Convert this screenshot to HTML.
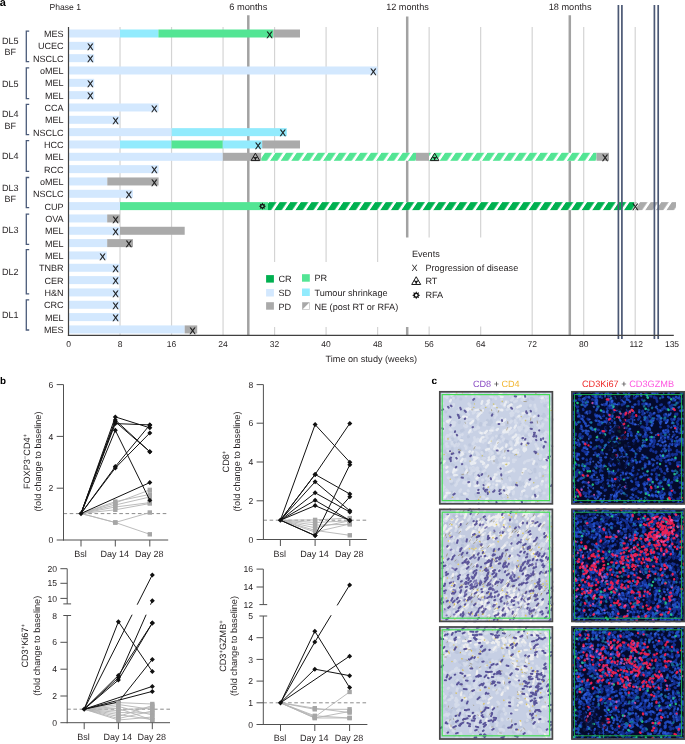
<!DOCTYPE html>
<html><head><meta charset="utf-8"><style>
html,body{margin:0;padding:0;background:#fff;width:685px;height:744px;overflow:hidden}
svg{display:block;will-change:transform}
text{font-family:"Liberation Sans",sans-serif;text-rendering:geometricPrecision}
</style></head><body>
<svg width="685" height="744" viewBox="0 0 685 744" font-family="Liberation Sans, sans-serif">
<defs>
<pattern id="hPR" patternUnits="userSpaceOnUse" width="10.6" height="20" patternTransform="translate(301.9,160.80) skewX(-34)"><rect x="0" y="0" width="7.4" height="20" fill="#53e594"/></pattern>
<pattern id="hCR" patternUnits="userSpaceOnUse" width="10.6" height="20" patternTransform="translate(306.1,210.12) skewX(-34)"><rect x="0" y="0" width="7.4" height="20" fill="#00b050"/></pattern>
<pattern id="hPD" patternUnits="userSpaceOnUse" width="10.6" height="20" patternTransform="translate(306.1,210.12) skewX(-34)"><rect x="0" y="0" width="7.4" height="20" fill="#aaaaaa"/></pattern>
</defs>
<text x="-0.30" y="5.80" font-size="11" font-weight="bold" fill="#000">a</text>
<text x="49.50" y="9.90" font-size="8.6" fill="#231f20">Phase 1</text>
<text x="229.20" y="10.10" font-size="9.3" fill="#231f20">6 months</text>
<text x="386.20" y="10.10" font-size="9.15" fill="#231f20">12 months</text>
<text x="548.70" y="10.10" font-size="9.18" fill="#231f20">18 months</text>
<line x1="120.02" y1="27.00" x2="120.02" y2="335.30" stroke="#d4d4d4" stroke-width="1.2"/>
<line x1="171.54" y1="27.00" x2="171.54" y2="335.30" stroke="#d4d4d4" stroke-width="1.2"/>
<line x1="223.06" y1="27.00" x2="223.06" y2="335.30" stroke="#d4d4d4" stroke-width="1.2"/>
<line x1="274.58" y1="27.00" x2="274.58" y2="262.00" stroke="#d4d4d4" stroke-width="1.2"/>
<line x1="274.58" y1="327.00" x2="274.58" y2="335.30" stroke="#d4d4d4" stroke-width="1.2"/>
<line x1="326.10" y1="27.00" x2="326.10" y2="262.00" stroke="#d4d4d4" stroke-width="1.2"/>
<line x1="326.10" y1="327.00" x2="326.10" y2="335.30" stroke="#d4d4d4" stroke-width="1.2"/>
<line x1="377.62" y1="27.00" x2="377.62" y2="262.00" stroke="#d4d4d4" stroke-width="1.2"/>
<line x1="377.62" y1="327.00" x2="377.62" y2="335.30" stroke="#d4d4d4" stroke-width="1.2"/>
<line x1="429.14" y1="27.00" x2="429.14" y2="237.50" stroke="#d4d4d4" stroke-width="1.2"/>
<line x1="429.14" y1="326.50" x2="429.14" y2="335.30" stroke="#d4d4d4" stroke-width="1.2"/>
<line x1="480.66" y1="27.00" x2="480.66" y2="237.50" stroke="#d4d4d4" stroke-width="1.2"/>
<line x1="480.66" y1="326.50" x2="480.66" y2="335.30" stroke="#d4d4d4" stroke-width="1.2"/>
<line x1="532.18" y1="27.00" x2="532.18" y2="335.30" stroke="#d4d4d4" stroke-width="1.2"/>
<line x1="583.70" y1="27.00" x2="583.70" y2="335.30" stroke="#d4d4d4" stroke-width="1.2"/>
<line x1="635.20" y1="27.00" x2="635.20" y2="335.30" stroke="#d4d4d4" stroke-width="1.2"/>
<line x1="248.30" y1="15.20" x2="248.30" y2="335.30" stroke="#a2a2a2" stroke-width="2.5" stroke-opacity="1"/>
<line x1="407.20" y1="16.50" x2="407.20" y2="237.50" stroke="#a2a2a2" stroke-width="2.5" stroke-opacity="1"/>
<line x1="407.20" y1="327.00" x2="407.20" y2="335.30" stroke="#a2a2a2" stroke-width="2.5" stroke-opacity="1"/>
<line x1="569.80" y1="15.20" x2="569.80" y2="335.30" stroke="#a2a2a2" stroke-width="2.5" stroke-opacity="1"/>
<rect x="68.50" y="29.50" width="51.50" height="8.00" fill="#d3e8fe"/>
<rect x="120.00" y="29.50" width="38.40" height="8.00" fill="#92ebfd"/>
<rect x="158.40" y="29.50" width="115.00" height="8.00" fill="#53e594"/>
<rect x="273.40" y="29.50" width="26.60" height="8.00" fill="#aaaaaa"/>
<rect x="68.50" y="41.83" width="25.70" height="8.00" fill="#d3e8fe"/>
<rect x="68.50" y="54.16" width="25.70" height="8.00" fill="#d3e8fe"/>
<rect x="68.50" y="66.49" width="309.10" height="8.00" fill="#d3e8fe"/>
<rect x="68.50" y="78.82" width="25.70" height="8.00" fill="#d3e8fe"/>
<rect x="68.50" y="91.15" width="25.70" height="8.00" fill="#d3e8fe"/>
<rect x="68.50" y="103.48" width="90.10" height="8.00" fill="#d3e8fe"/>
<rect x="68.50" y="115.81" width="51.60" height="8.00" fill="#d3e8fe"/>
<rect x="68.50" y="128.14" width="103.20" height="8.00" fill="#d3e8fe"/>
<rect x="171.70" y="128.14" width="115.10" height="8.00" fill="#92ebfd"/>
<rect x="68.50" y="140.47" width="51.50" height="8.00" fill="#d3e8fe"/>
<rect x="120.00" y="140.47" width="51.50" height="8.00" fill="#92ebfd"/>
<rect x="171.50" y="140.47" width="51.30" height="8.00" fill="#53e594"/>
<rect x="222.80" y="140.47" width="39.40" height="8.00" fill="#92ebfd"/>
<rect x="262.20" y="140.47" width="37.80" height="8.00" fill="#aaaaaa"/>
<rect x="68.50" y="152.80" width="154.30" height="8.00" fill="#d3e8fe"/>
<rect x="222.80" y="152.80" width="38.50" height="8.00" fill="#aaaaaa"/>
<rect x="261.30" y="152.80" width="154.70" height="8.00" fill="#fff"/>
<rect x="261.30" y="152.80" width="154.70" height="8.00" fill="url(#hPR)"/>
<rect x="416.00" y="152.80" width="13.00" height="8.00" fill="#aaaaaa"/>
<rect x="429.00" y="152.80" width="167.50" height="8.00" fill="#fff"/>
<rect x="429.00" y="152.80" width="167.50" height="8.00" fill="url(#hPR)"/>
<rect x="596.50" y="152.80" width="12.50" height="8.00" fill="#aaaaaa"/>
<rect x="68.50" y="165.13" width="90.10" height="8.00" fill="#d3e8fe"/>
<rect x="68.50" y="177.46" width="38.80" height="8.00" fill="#d3e8fe"/>
<rect x="107.30" y="177.46" width="51.30" height="8.00" fill="#aaaaaa"/>
<rect x="68.50" y="189.79" width="64.40" height="8.00" fill="#d3e8fe"/>
<rect x="68.50" y="202.12" width="51.50" height="8.00" fill="#d3e8fe"/>
<rect x="120.00" y="202.12" width="148.00" height="8.00" fill="#53e594"/>
<rect x="268.00" y="202.12" width="366.40" height="8.00" fill="#fff"/>
<rect x="268.00" y="202.12" width="366.40" height="8.00" fill="url(#hCR)"/>
<rect x="634.40" y="202.12" width="41.60" height="8.00" fill="#fff"/>
<rect x="634.40" y="202.12" width="41.60" height="8.00" fill="url(#hPD)"/>
<rect x="68.50" y="214.45" width="38.70" height="8.00" fill="#d3e8fe"/>
<rect x="107.20" y="214.45" width="12.70" height="8.00" fill="#aaaaaa"/>
<rect x="68.50" y="226.78" width="51.50" height="8.00" fill="#d3e8fe"/>
<rect x="120.00" y="226.78" width="64.70" height="8.00" fill="#aaaaaa"/>
<rect x="68.50" y="239.11" width="38.70" height="8.00" fill="#d3e8fe"/>
<rect x="107.20" y="239.11" width="25.80" height="8.00" fill="#aaaaaa"/>
<rect x="68.50" y="251.44" width="38.30" height="8.00" fill="#d3e8fe"/>
<rect x="68.50" y="263.77" width="51.50" height="8.00" fill="#d3e8fe"/>
<rect x="68.50" y="276.10" width="51.50" height="8.00" fill="#d3e8fe"/>
<rect x="68.50" y="288.43" width="51.50" height="8.00" fill="#d3e8fe"/>
<rect x="68.50" y="300.76" width="51.50" height="8.00" fill="#d3e8fe"/>
<rect x="68.50" y="313.09" width="51.50" height="8.00" fill="#d3e8fe"/>
<rect x="68.50" y="325.42" width="116.20" height="8.00" fill="#d3e8fe"/>
<rect x="184.70" y="325.42" width="12.50" height="8.00" fill="#aaaaaa"/>
<line x1="618.40" y1="5.00" x2="618.40" y2="338.90" stroke="#4b5874" stroke-width="1.7"/>
<line x1="621.90" y1="5.00" x2="621.90" y2="338.90" stroke="#4b5874" stroke-width="1.7"/>
<line x1="654.40" y1="5.00" x2="654.40" y2="338.90" stroke="#4b5874" stroke-width="1.7"/>
<line x1="658.20" y1="5.00" x2="658.20" y2="338.90" stroke="#4b5874" stroke-width="1.7"/>
<text x="269.50" y="37.70" font-size="9.2" text-anchor="middle" fill="#111" stroke="#111" stroke-width="0.25">X</text>
<text x="90.20" y="50.03" font-size="9.2" text-anchor="middle" fill="#111" stroke="#111" stroke-width="0.25">X</text>
<text x="90.20" y="62.36" font-size="9.2" text-anchor="middle" fill="#111" stroke="#111" stroke-width="0.25">X</text>
<text x="373.30" y="74.69" font-size="9.2" text-anchor="middle" fill="#111" stroke="#111" stroke-width="0.25">X</text>
<text x="90.20" y="87.02" font-size="9.2" text-anchor="middle" fill="#111" stroke="#111" stroke-width="0.25">X</text>
<text x="90.20" y="99.35" font-size="9.2" text-anchor="middle" fill="#111" stroke="#111" stroke-width="0.25">X</text>
<text x="154.40" y="111.68" font-size="9.2" text-anchor="middle" fill="#111" stroke="#111" stroke-width="0.25">X</text>
<text x="115.60" y="124.01" font-size="9.2" text-anchor="middle" fill="#111" stroke="#111" stroke-width="0.25">X</text>
<text x="282.80" y="136.34" font-size="9.2" text-anchor="middle" fill="#111" stroke="#111" stroke-width="0.25">X</text>
<text x="258.00" y="148.67" font-size="9.2" text-anchor="middle" fill="#111" stroke="#111" stroke-width="0.25">X</text>
<text x="605.00" y="161.00" font-size="9.2" text-anchor="middle" fill="#111" stroke="#111" stroke-width="0.25">X</text>
<text x="154.40" y="173.33" font-size="9.2" text-anchor="middle" fill="#111" stroke="#111" stroke-width="0.25">X</text>
<text x="154.40" y="185.66" font-size="9.2" text-anchor="middle" fill="#111" stroke="#111" stroke-width="0.25">X</text>
<text x="128.90" y="197.99" font-size="9.2" text-anchor="middle" fill="#111" stroke="#111" stroke-width="0.25">X</text>
<text x="635.20" y="210.32" font-size="9.2" text-anchor="middle" fill="#111" stroke="#111" stroke-width="0.25">X</text>
<text x="115.60" y="222.65" font-size="9.2" text-anchor="middle" fill="#111" stroke="#111" stroke-width="0.25">X</text>
<text x="115.60" y="234.98" font-size="9.2" text-anchor="middle" fill="#111" stroke="#111" stroke-width="0.25">X</text>
<text x="128.90" y="247.31" font-size="9.2" text-anchor="middle" fill="#111" stroke="#111" stroke-width="0.25">X</text>
<text x="102.60" y="259.64" font-size="9.2" text-anchor="middle" fill="#111" stroke="#111" stroke-width="0.25">X</text>
<text x="115.60" y="271.97" font-size="9.2" text-anchor="middle" fill="#111" stroke="#111" stroke-width="0.25">X</text>
<text x="115.60" y="284.30" font-size="9.2" text-anchor="middle" fill="#111" stroke="#111" stroke-width="0.25">X</text>
<text x="115.60" y="296.63" font-size="9.2" text-anchor="middle" fill="#111" stroke="#111" stroke-width="0.25">X</text>
<text x="115.60" y="308.96" font-size="9.2" text-anchor="middle" fill="#111" stroke="#111" stroke-width="0.25">X</text>
<text x="115.60" y="321.29" font-size="9.2" text-anchor="middle" fill="#111" stroke="#111" stroke-width="0.25">X</text>
<text x="192.60" y="333.62" font-size="9.2" text-anchor="middle" fill="#111" stroke="#111" stroke-width="0.25">X</text>
<path d="M255.40,153.20 L259.70,160.60 L251.10,160.60 Z" fill="none" stroke="#1a1a1a" stroke-width="1.0" stroke-linejoin="round"/>
<path d="M255.40,158.13 L255.40,160.60 M255.40,158.13 L253.25,156.90 M255.40,158.13 L257.55,156.90" stroke="#1a1a1a" stroke-width="1.1"/>
<circle cx="255.40" cy="158.13" r="1.00" fill="#1a1a1a"/>
<path d="M434.60,153.20 L438.90,160.60 L430.30,160.60 Z" fill="none" stroke="#1a1a1a" stroke-width="1.0" stroke-linejoin="round"/>
<path d="M434.60,158.13 L434.60,160.60 M434.60,158.13 L432.45,156.90 M434.60,158.13 L436.75,156.90" stroke="#1a1a1a" stroke-width="1.1"/>
<circle cx="434.60" cy="158.13" r="1.00" fill="#1a1a1a"/>
<polygon points="266.00,206.22 264.46,207.07 264.95,208.77 263.25,208.28 262.40,209.82 261.55,208.28 259.85,208.77 260.34,207.07 258.80,206.22 260.34,205.37 259.85,203.67 261.55,204.16 262.40,202.62 263.25,204.16 264.95,203.67 264.46,205.37" fill="#111"/>
<circle cx="262.40" cy="206.22" r="1.08" fill="#6fe0a0"/>
<line x1="68.50" y1="27.00" x2="68.50" y2="335.90" stroke="#404040" stroke-width="1.2"/>
<line x1="67.90" y1="335.30" x2="673.80" y2="335.30" stroke="#404040" stroke-width="1.2"/>
<text x="68.50" y="347.20" font-size="8.5" text-anchor="middle" fill="#231f20">0</text>
<text x="120.02" y="347.20" font-size="8.5" text-anchor="middle" fill="#231f20">8</text>
<text x="171.54" y="347.20" font-size="8.5" text-anchor="middle" fill="#231f20">16</text>
<text x="223.06" y="347.20" font-size="8.5" text-anchor="middle" fill="#231f20">24</text>
<text x="274.58" y="347.20" font-size="8.5" text-anchor="middle" fill="#231f20">32</text>
<text x="326.10" y="347.20" font-size="8.5" text-anchor="middle" fill="#231f20">40</text>
<text x="377.62" y="347.20" font-size="8.5" text-anchor="middle" fill="#231f20">48</text>
<text x="429.14" y="347.20" font-size="8.5" text-anchor="middle" fill="#231f20">56</text>
<text x="480.66" y="347.20" font-size="8.5" text-anchor="middle" fill="#231f20">64</text>
<text x="532.18" y="347.20" font-size="8.5" text-anchor="middle" fill="#231f20">72</text>
<text x="583.70" y="347.20" font-size="8.5" text-anchor="middle" fill="#231f20">80</text>
<text x="636.30" y="347.20" font-size="8.5" text-anchor="middle" fill="#231f20">112</text>
<text x="672.00" y="347.20" font-size="8.5" text-anchor="middle" fill="#231f20">135</text>
<text x="371.30" y="361.50" font-size="9.15" text-anchor="middle" fill="#231f20">Time on study (weeks)</text>
<text x="63.60" y="37.00" font-size="9.05" text-anchor="end" fill="#231f20">MES</text>
<text x="63.60" y="49.33" font-size="9.05" text-anchor="end" fill="#231f20">UCEC</text>
<text x="63.60" y="61.66" font-size="9.05" text-anchor="end" fill="#231f20">NSCLC</text>
<text x="63.60" y="73.99" font-size="9.05" text-anchor="end" fill="#231f20">oMEL</text>
<text x="63.60" y="86.32" font-size="9.05" text-anchor="end" fill="#231f20">MEL</text>
<text x="63.60" y="98.65" font-size="9.05" text-anchor="end" fill="#231f20">MEL</text>
<text x="63.60" y="110.98" font-size="9.05" text-anchor="end" fill="#231f20">CCA</text>
<text x="63.60" y="123.31" font-size="9.05" text-anchor="end" fill="#231f20">MEL</text>
<text x="63.60" y="135.64" font-size="9.05" text-anchor="end" fill="#231f20">NSCLC</text>
<text x="63.60" y="147.97" font-size="9.05" text-anchor="end" fill="#231f20">HCC</text>
<text x="63.60" y="160.30" font-size="9.05" text-anchor="end" fill="#231f20">MEL</text>
<text x="63.60" y="172.63" font-size="9.05" text-anchor="end" fill="#231f20">RCC</text>
<text x="63.60" y="184.96" font-size="9.05" text-anchor="end" fill="#231f20">oMEL</text>
<text x="63.60" y="197.29" font-size="9.05" text-anchor="end" fill="#231f20">NSCLC</text>
<text x="63.60" y="209.62" font-size="9.05" text-anchor="end" fill="#231f20">CUP</text>
<text x="63.60" y="221.95" font-size="9.05" text-anchor="end" fill="#231f20">OVA</text>
<text x="63.60" y="234.28" font-size="9.05" text-anchor="end" fill="#231f20">MEL</text>
<text x="63.60" y="246.61" font-size="9.05" text-anchor="end" fill="#231f20">MEL</text>
<text x="63.60" y="258.94" font-size="9.05" text-anchor="end" fill="#231f20">MEL</text>
<text x="63.60" y="271.27" font-size="9.05" text-anchor="end" fill="#231f20">TNBR</text>
<text x="63.60" y="283.60" font-size="9.05" text-anchor="end" fill="#231f20">CER</text>
<text x="63.60" y="295.93" font-size="9.05" text-anchor="end" fill="#231f20">H&amp;N</text>
<text x="63.60" y="308.26" font-size="9.05" text-anchor="end" fill="#231f20">CRC</text>
<text x="63.60" y="320.59" font-size="9.05" text-anchor="end" fill="#231f20">MEL</text>
<text x="63.60" y="332.92" font-size="9.05" text-anchor="end" fill="#231f20">MES</text>
<path d="M29.2,31.10 H26.3 V61.70 H29.2" fill="none" stroke="#4b5b79" stroke-width="1.3"/>
<text x="10.20" y="44.30" font-size="9.05" text-anchor="middle" fill="#231f20">DL5</text>
<text x="10.20" y="55.40" font-size="9.05" text-anchor="middle" fill="#231f20">BF</text>
<path d="M29.2,67.80 H26.3 V98.60 H29.2" fill="none" stroke="#4b5b79" stroke-width="1.3"/>
<text x="10.20" y="86.60" font-size="9.05" text-anchor="middle" fill="#231f20">DL5</text>
<path d="M29.2,104.40 H26.3 V134.70 H29.2" fill="none" stroke="#4b5b79" stroke-width="1.3"/>
<text x="10.20" y="117.45" font-size="9.05" text-anchor="middle" fill="#231f20">DL4</text>
<text x="10.20" y="128.55" font-size="9.05" text-anchor="middle" fill="#231f20">BF</text>
<path d="M29.2,140.70 H26.3 V171.40 H29.2" fill="none" stroke="#4b5b79" stroke-width="1.3"/>
<text x="10.20" y="159.45" font-size="9.05" text-anchor="middle" fill="#231f20">DL4</text>
<path d="M29.2,177.50 H26.3 V207.70 H29.2" fill="none" stroke="#4b5b79" stroke-width="1.3"/>
<text x="10.20" y="190.50" font-size="9.05" text-anchor="middle" fill="#231f20">DL3</text>
<text x="10.20" y="201.60" font-size="9.05" text-anchor="middle" fill="#231f20">BF</text>
<path d="M29.2,214.10 H26.3 V244.40 H29.2" fill="none" stroke="#4b5b79" stroke-width="1.3"/>
<text x="10.20" y="232.65" font-size="9.05" text-anchor="middle" fill="#231f20">DL3</text>
<path d="M29.2,249.60 H26.3 V293.80 H29.2" fill="none" stroke="#4b5b79" stroke-width="1.3"/>
<text x="10.20" y="275.10" font-size="9.05" text-anchor="middle" fill="#231f20">DL2</text>
<path d="M29.2,299.80 H26.3 V330.00 H29.2" fill="none" stroke="#4b5b79" stroke-width="1.3"/>
<text x="10.20" y="318.30" font-size="9.05" text-anchor="middle" fill="#231f20">DL1</text>
<rect x="266.10" y="275.10" width="7.80" height="7.50" fill="#00b050"/>
<rect x="302.00" y="274.20" width="7.80" height="7.50" fill="#53e594"/>
<rect x="266.10" y="289.00" width="7.80" height="7.50" fill="#d3e8fe"/>
<rect x="302.00" y="288.50" width="7.80" height="7.50" fill="#92ebfd"/>
<rect x="266.10" y="302.20" width="7.80" height="7.50" fill="#aaaaaa"/>
<rect x="302.4" y="302.6" width="7" height="6.8" fill="#fff" stroke="#c8c8c8" stroke-width="0.8"/>
<path d="M302.4,302.6 H309.4 L302.4,309.4 Z" fill="#a8a8a8"/>
<text x="278.40" y="281.90" font-size="9.15" fill="#231f20">CR</text>
<text x="314.40" y="281.30" font-size="9.15" fill="#231f20">PR</text>
<text x="278.40" y="296.10" font-size="9.15" fill="#231f20">SD</text>
<text x="314.40" y="295.60" font-size="9.15" fill="#231f20">Tumour shrinkage</text>
<text x="278.40" y="309.90" font-size="9.15" fill="#231f20">PD</text>
<text x="314.40" y="310.10" font-size="9.15" fill="#231f20">NE (post RT or RFA)</text>
<text x="411.90" y="256.50" font-size="9.15" fill="#231f20">Events</text>
<text x="411.60" y="270.90" font-size="9.15" fill="#231f20">X</text>
<text x="425.40" y="270.90" font-size="9.15" fill="#231f20">Progression of disease</text>
<text x="425.40" y="284.30" font-size="9.15" fill="#231f20">RT</text>
<text x="425.40" y="298.20" font-size="9.15" fill="#231f20">RFA</text>
<path d="M416.20,276.72 L420.71,284.49 L411.69,284.49 Z" fill="none" stroke="#1a1a1a" stroke-width="1.0" stroke-linejoin="round"/>
<path d="M416.20,281.90 L416.20,284.49 M416.20,281.90 L413.94,280.60 M416.20,281.90 L418.46,280.60" stroke="#1a1a1a" stroke-width="1.1"/>
<circle cx="416.20" cy="281.90" r="1.05" fill="#1a1a1a"/>
<polygon points="420.20,295.20 418.49,296.15 419.03,298.03 417.15,297.49 416.20,299.20 415.25,297.49 413.37,298.03 413.91,296.15 412.20,295.20 413.91,294.25 413.37,292.37 415.25,292.91 416.20,291.20 417.15,292.91 419.03,292.37 418.49,294.25" fill="#111"/>
<circle cx="416.20" cy="295.20" r="1.20" fill="#fff"/>
<text x="0.00" y="384.00" font-size="9.8" font-weight="bold" fill="#000">b</text>
<line x1="63.50" y1="513.60" x2="168.20" y2="513.60" stroke="#8c8c8c" stroke-width="1.0" stroke-dasharray="3.6,2.6"/>
<path d="M81.00,513.50 L115.30,501.60 L149.80,494.40" fill="none" stroke="#b4b4b4" stroke-width="0.9"/>
<path d="M81.00,513.50 L115.30,503.00 L149.80,489.90" fill="none" stroke="#b4b4b4" stroke-width="0.9"/>
<path d="M81.00,513.50 L115.30,505.00 L149.80,497.00" fill="none" stroke="#b4b4b4" stroke-width="0.9"/>
<path d="M81.00,513.50 L115.30,507.00 L149.80,502.60" fill="none" stroke="#b4b4b4" stroke-width="0.9"/>
<path d="M81.00,513.50 L115.30,509.80 L149.80,503.50" fill="none" stroke="#b4b4b4" stroke-width="0.9"/>
<path d="M81.00,513.50 L115.30,522.50 L149.80,512.50" fill="none" stroke="#b4b4b4" stroke-width="0.9"/>
<path d="M81.00,513.50 L115.30,522.50 L149.80,534.30" fill="none" stroke="#b4b4b4" stroke-width="0.9"/>
<rect x="113.10" y="499.40" width="4.40" height="4.40" fill="#a6a6a6"/>
<rect x="147.60" y="492.20" width="4.40" height="4.40" fill="#a6a6a6"/>
<rect x="113.10" y="500.80" width="4.40" height="4.40" fill="#a6a6a6"/>
<rect x="147.60" y="487.70" width="4.40" height="4.40" fill="#a6a6a6"/>
<rect x="113.10" y="502.80" width="4.40" height="4.40" fill="#a6a6a6"/>
<rect x="147.60" y="494.80" width="4.40" height="4.40" fill="#a6a6a6"/>
<rect x="113.10" y="504.80" width="4.40" height="4.40" fill="#a6a6a6"/>
<rect x="147.60" y="500.40" width="4.40" height="4.40" fill="#a6a6a6"/>
<rect x="113.10" y="507.60" width="4.40" height="4.40" fill="#a6a6a6"/>
<rect x="147.60" y="501.30" width="4.40" height="4.40" fill="#a6a6a6"/>
<rect x="113.10" y="520.30" width="4.40" height="4.40" fill="#a6a6a6"/>
<rect x="147.60" y="510.30" width="4.40" height="4.40" fill="#a6a6a6"/>
<rect x="113.10" y="520.30" width="4.40" height="4.40" fill="#a6a6a6"/>
<rect x="147.60" y="532.10" width="4.40" height="4.40" fill="#a6a6a6"/>
<path d="M81.00,513.50 L115.30,416.90 L149.80,427.80" fill="none" stroke="#111" stroke-width="1.0"/>
<path d="M81.00,513.50 L115.30,420.00 L149.80,451.70" fill="none" stroke="#111" stroke-width="1.0"/>
<path d="M81.00,513.50 L115.30,421.80 L149.80,451.70" fill="none" stroke="#111" stroke-width="1.0"/>
<path d="M81.00,513.50 L115.30,423.60 L149.80,424.90" fill="none" stroke="#111" stroke-width="1.0"/>
<path d="M81.00,513.50 L115.30,430.30 L149.80,500.20" fill="none" stroke="#111" stroke-width="1.0"/>
<path d="M81.00,513.50 L115.30,466.60 L149.80,424.90" fill="none" stroke="#111" stroke-width="1.0"/>
<path d="M81.00,513.50 L115.30,468.00 L149.80,433.00" fill="none" stroke="#111" stroke-width="1.0"/>
<path d="M81.00,513.50 L149.80,482.60" fill="none" stroke="#111" stroke-width="1.0"/>
<path d="M115.30,414.40 L117.80,416.90 L115.30,419.40 L112.80,416.90 Z" fill="#111"/>
<path d="M149.80,425.30 L152.30,427.80 L149.80,430.30 L147.30,427.80 Z" fill="#111"/>
<path d="M115.30,417.50 L117.80,420.00 L115.30,422.50 L112.80,420.00 Z" fill="#111"/>
<path d="M149.80,449.20 L152.30,451.70 L149.80,454.20 L147.30,451.70 Z" fill="#111"/>
<path d="M115.30,419.30 L117.80,421.80 L115.30,424.30 L112.80,421.80 Z" fill="#111"/>
<path d="M149.80,449.20 L152.30,451.70 L149.80,454.20 L147.30,451.70 Z" fill="#111"/>
<path d="M115.30,421.10 L117.80,423.60 L115.30,426.10 L112.80,423.60 Z" fill="#111"/>
<path d="M149.80,422.40 L152.30,424.90 L149.80,427.40 L147.30,424.90 Z" fill="#111"/>
<path d="M115.30,427.80 L117.80,430.30 L115.30,432.80 L112.80,430.30 Z" fill="#111"/>
<path d="M149.80,497.70 L152.30,500.20 L149.80,502.70 L147.30,500.20 Z" fill="#111"/>
<path d="M115.30,464.10 L117.80,466.60 L115.30,469.10 L112.80,466.60 Z" fill="#111"/>
<path d="M149.80,422.40 L152.30,424.90 L149.80,427.40 L147.30,424.90 Z" fill="#111"/>
<path d="M115.30,465.50 L117.80,468.00 L115.30,470.50 L112.80,468.00 Z" fill="#111"/>
<path d="M149.80,430.50 L152.30,433.00 L149.80,435.50 L147.30,433.00 Z" fill="#111"/>
<path d="M149.80,480.10 L152.30,482.60 L149.80,485.10 L147.30,482.60 Z" fill="#111"/>
<path d="M81.00,511.00 L83.60,513.60 L81.00,516.20 L78.40,513.60 Z" fill="#111"/>
<line x1="63.50" y1="384.60" x2="63.50" y2="540.50" stroke="#505050" stroke-width="1.0"/>
<line x1="63.00" y1="540.00" x2="168.20" y2="540.00" stroke="#505050" stroke-width="1.0"/>
<line x1="56.70" y1="540.00" x2="63.50" y2="540.00" stroke="#505050" stroke-width="1.0"/>
<text x="53.30" y="543.10" font-size="8.6" text-anchor="end" fill="#231f20">0</text>
<line x1="56.70" y1="488.20" x2="63.50" y2="488.20" stroke="#505050" stroke-width="1.0"/>
<text x="53.30" y="491.30" font-size="8.6" text-anchor="end" fill="#231f20">2</text>
<line x1="56.70" y1="436.40" x2="63.50" y2="436.40" stroke="#505050" stroke-width="1.0"/>
<text x="53.30" y="439.50" font-size="8.6" text-anchor="end" fill="#231f20">4</text>
<line x1="56.70" y1="384.60" x2="63.50" y2="384.60" stroke="#505050" stroke-width="1.0"/>
<text x="53.30" y="387.70" font-size="8.6" text-anchor="end" fill="#231f20">6</text>
<line x1="81.00" y1="540.00" x2="81.00" y2="546.50" stroke="#505050" stroke-width="1.0"/>
<text x="80.40" y="556.60" font-size="9.0" text-anchor="middle" fill="#231f20">Bsl</text>
<line x1="115.30" y1="540.00" x2="115.30" y2="546.50" stroke="#505050" stroke-width="1.0"/>
<text x="114.70" y="556.60" font-size="9.0" text-anchor="middle" fill="#231f20">Day 14</text>
<line x1="149.80" y1="540.00" x2="149.80" y2="546.50" stroke="#505050" stroke-width="1.0"/>
<text x="149.20" y="556.60" font-size="9.0" text-anchor="middle" fill="#231f20">Day 28</text>
<text transform="translate(30.30,461.50) rotate(-90)" font-size="9.15" text-anchor="middle" fill="#231f20">FOXP3<tspan font-size="6" dy="-3.4">−</tspan><tspan dy="3.4">CD4</tspan><tspan font-size="6" dy="-3.4">+</tspan></text>
<text transform="translate(41.40,461.50) rotate(-90)" font-size="9.15" text-anchor="middle" fill="#231f20">(fold change to baseline)</text>
<line x1="263.40" y1="520.20" x2="366.80" y2="520.20" stroke="#8c8c8c" stroke-width="1.0" stroke-dasharray="3.6,2.6"/>
<path d="M280.40,520.20 L315.10,519.90 L349.80,518.10" fill="none" stroke="#b4b4b4" stroke-width="0.9"/>
<path d="M280.40,520.20 L315.10,522.50 L349.80,520.80" fill="none" stroke="#b4b4b4" stroke-width="0.9"/>
<path d="M280.40,520.20 L315.10,525.10 L349.80,524.30" fill="none" stroke="#b4b4b4" stroke-width="0.9"/>
<path d="M280.40,520.20 L315.10,527.80 L349.80,520.80" fill="none" stroke="#b4b4b4" stroke-width="0.9"/>
<path d="M280.40,520.20 L315.10,530.40 L349.80,535.30" fill="none" stroke="#b4b4b4" stroke-width="0.9"/>
<path d="M280.40,520.20 L315.10,532.00 L349.80,524.00" fill="none" stroke="#b4b4b4" stroke-width="0.9"/>
<rect x="312.90" y="517.70" width="4.40" height="4.40" fill="#a6a6a6"/>
<rect x="347.60" y="515.90" width="4.40" height="4.40" fill="#a6a6a6"/>
<rect x="312.90" y="520.30" width="4.40" height="4.40" fill="#a6a6a6"/>
<rect x="347.60" y="518.60" width="4.40" height="4.40" fill="#a6a6a6"/>
<rect x="312.90" y="522.90" width="4.40" height="4.40" fill="#a6a6a6"/>
<rect x="347.60" y="522.10" width="4.40" height="4.40" fill="#a6a6a6"/>
<rect x="312.90" y="525.60" width="4.40" height="4.40" fill="#a6a6a6"/>
<rect x="347.60" y="518.60" width="4.40" height="4.40" fill="#a6a6a6"/>
<rect x="312.90" y="528.20" width="4.40" height="4.40" fill="#a6a6a6"/>
<rect x="347.60" y="533.10" width="4.40" height="4.40" fill="#a6a6a6"/>
<rect x="312.90" y="529.80" width="4.40" height="4.40" fill="#a6a6a6"/>
<rect x="347.60" y="521.80" width="4.40" height="4.40" fill="#a6a6a6"/>
<path d="M280.40,520.20 L315.10,424.60 L349.80,462.20" fill="none" stroke="#111" stroke-width="1.0"/>
<path d="M280.40,520.20 L315.10,474.40 L349.80,423.40" fill="none" stroke="#111" stroke-width="1.0"/>
<path d="M280.40,520.20 L315.10,474.40 L349.80,494.00" fill="none" stroke="#111" stroke-width="1.0"/>
<path d="M280.40,520.20 L315.10,481.80 L349.80,510.80" fill="none" stroke="#111" stroke-width="1.0"/>
<path d="M280.40,520.20 L315.10,492.80 L349.80,512.00" fill="none" stroke="#111" stroke-width="1.0"/>
<path d="M280.40,520.20 L315.10,500.30 L349.80,520.40" fill="none" stroke="#111" stroke-width="1.0"/>
<path d="M280.40,520.20 L315.10,505.60 L349.80,520.40" fill="none" stroke="#111" stroke-width="1.0"/>
<path d="M280.40,520.20 L315.10,535.60 L349.80,464.80" fill="none" stroke="#111" stroke-width="1.0"/>
<path d="M280.40,520.20 L315.10,535.60 L349.80,496.80" fill="none" stroke="#111" stroke-width="1.0"/>
<path d="M315.10,422.10 L317.60,424.60 L315.10,427.10 L312.60,424.60 Z" fill="#111"/>
<path d="M349.80,459.70 L352.30,462.20 L349.80,464.70 L347.30,462.20 Z" fill="#111"/>
<path d="M315.10,471.90 L317.60,474.40 L315.10,476.90 L312.60,474.40 Z" fill="#111"/>
<path d="M349.80,420.90 L352.30,423.40 L349.80,425.90 L347.30,423.40 Z" fill="#111"/>
<path d="M315.10,471.90 L317.60,474.40 L315.10,476.90 L312.60,474.40 Z" fill="#111"/>
<path d="M349.80,491.50 L352.30,494.00 L349.80,496.50 L347.30,494.00 Z" fill="#111"/>
<path d="M315.10,479.30 L317.60,481.80 L315.10,484.30 L312.60,481.80 Z" fill="#111"/>
<path d="M349.80,508.30 L352.30,510.80 L349.80,513.30 L347.30,510.80 Z" fill="#111"/>
<path d="M315.10,490.30 L317.60,492.80 L315.10,495.30 L312.60,492.80 Z" fill="#111"/>
<path d="M349.80,509.50 L352.30,512.00 L349.80,514.50 L347.30,512.00 Z" fill="#111"/>
<path d="M315.10,497.80 L317.60,500.30 L315.10,502.80 L312.60,500.30 Z" fill="#111"/>
<path d="M349.80,517.90 L352.30,520.40 L349.80,522.90 L347.30,520.40 Z" fill="#111"/>
<path d="M315.10,503.10 L317.60,505.60 L315.10,508.10 L312.60,505.60 Z" fill="#111"/>
<path d="M349.80,517.90 L352.30,520.40 L349.80,522.90 L347.30,520.40 Z" fill="#111"/>
<path d="M315.10,533.10 L317.60,535.60 L315.10,538.10 L312.60,535.60 Z" fill="#111"/>
<path d="M349.80,462.30 L352.30,464.80 L349.80,467.30 L347.30,464.80 Z" fill="#111"/>
<path d="M315.10,533.10 L317.60,535.60 L315.10,538.10 L312.60,535.60 Z" fill="#111"/>
<path d="M349.80,494.30 L352.30,496.80 L349.80,499.30 L347.30,496.80 Z" fill="#111"/>
<path d="M280.40,517.60 L283.00,520.20 L280.40,522.80 L277.80,520.20 Z" fill="#111"/>
<line x1="263.40" y1="384.60" x2="263.40" y2="540.00" stroke="#505050" stroke-width="1.0"/>
<line x1="262.90" y1="539.50" x2="366.80" y2="539.50" stroke="#505050" stroke-width="1.0"/>
<line x1="256.60" y1="539.50" x2="263.40" y2="539.50" stroke="#505050" stroke-width="1.0"/>
<text x="253.20" y="542.60" font-size="8.6" text-anchor="end" fill="#231f20">0</text>
<line x1="256.60" y1="500.80" x2="263.40" y2="500.80" stroke="#505050" stroke-width="1.0"/>
<text x="253.20" y="503.90" font-size="8.6" text-anchor="end" fill="#231f20">2</text>
<line x1="256.60" y1="462.00" x2="263.40" y2="462.00" stroke="#505050" stroke-width="1.0"/>
<text x="253.20" y="465.10" font-size="8.6" text-anchor="end" fill="#231f20">4</text>
<line x1="256.60" y1="423.20" x2="263.40" y2="423.20" stroke="#505050" stroke-width="1.0"/>
<text x="253.20" y="426.30" font-size="8.6" text-anchor="end" fill="#231f20">6</text>
<line x1="256.60" y1="384.60" x2="263.40" y2="384.60" stroke="#505050" stroke-width="1.0"/>
<text x="253.20" y="387.70" font-size="8.6" text-anchor="end" fill="#231f20">8</text>
<line x1="280.40" y1="539.50" x2="280.40" y2="546.00" stroke="#505050" stroke-width="1.0"/>
<text x="279.80" y="556.60" font-size="9.0" text-anchor="middle" fill="#231f20">Bsl</text>
<line x1="315.10" y1="539.50" x2="315.10" y2="546.00" stroke="#505050" stroke-width="1.0"/>
<text x="314.50" y="556.60" font-size="9.0" text-anchor="middle" fill="#231f20">Day 14</text>
<line x1="349.80" y1="539.50" x2="349.80" y2="546.00" stroke="#505050" stroke-width="1.0"/>
<text x="349.20" y="556.60" font-size="9.0" text-anchor="middle" fill="#231f20">Day 28</text>
<text transform="translate(229.10,461.50) rotate(-90)" font-size="9.15" text-anchor="middle" fill="#231f20">CD8<tspan font-size="6" dy="-3.4">+</tspan></text>
<text transform="translate(240.00,461.50) rotate(-90)" font-size="9.15" text-anchor="middle" fill="#231f20">(fold change to baseline)</text>
<line x1="67.20" y1="709.20" x2="170.00" y2="709.20" stroke="#8c8c8c" stroke-width="1.0" stroke-dasharray="3.6,2.6"/>
<path d="M84.20,709.20 L118.40,702.60 L152.30,704.00" fill="none" stroke="#b4b4b4" stroke-width="0.9"/>
<path d="M84.20,709.20 L118.40,704.50 L152.30,709.50" fill="none" stroke="#b4b4b4" stroke-width="0.9"/>
<path d="M84.20,709.20 L118.40,706.50 L152.30,715.00" fill="none" stroke="#b4b4b4" stroke-width="0.9"/>
<path d="M84.20,709.20 L118.40,708.50 L152.30,720.00" fill="none" stroke="#b4b4b4" stroke-width="0.9"/>
<path d="M84.20,709.20 L118.40,710.50 L152.30,707.50" fill="none" stroke="#b4b4b4" stroke-width="0.9"/>
<path d="M84.20,709.20 L118.40,712.50 L152.30,713.00" fill="none" stroke="#b4b4b4" stroke-width="0.9"/>
<path d="M84.20,709.20 L118.40,714.50 L152.30,719.60" fill="none" stroke="#b4b4b4" stroke-width="0.9"/>
<path d="M84.20,709.20 L118.40,716.50 L152.30,705.50" fill="none" stroke="#b4b4b4" stroke-width="0.9"/>
<path d="M84.20,709.20 L118.40,718.50 L152.30,711.00" fill="none" stroke="#b4b4b4" stroke-width="0.9"/>
<path d="M84.20,709.20 L118.40,720.00 L152.30,717.00" fill="none" stroke="#b4b4b4" stroke-width="0.9"/>
<path d="M84.20,709.20 L118.40,621.70 L152.30,671.50" fill="none" stroke="#111" stroke-width="1.0"/>
<path d="M84.20,709.20 L152.30,574.90" fill="none" stroke="#111" stroke-width="1.0"/>
<path d="M84.20,709.20 L118.40,677.70 L152.30,600.70" fill="none" stroke="#111" stroke-width="1.0"/>
<path d="M84.20,709.20 L118.40,675.40 L152.30,623.10" fill="none" stroke="#111" stroke-width="1.0"/>
<path d="M84.20,709.20 L118.40,680.00 L152.30,623.10" fill="none" stroke="#111" stroke-width="1.0"/>
<path d="M84.20,709.20 L118.40,702.00 L152.30,659.40" fill="none" stroke="#111" stroke-width="1.0"/>
<path d="M84.20,709.20 L152.30,686.40" fill="none" stroke="#111" stroke-width="1.0"/>
<path d="M84.20,709.20 L152.30,691.40" fill="none" stroke="#111" stroke-width="1.0"/>
<rect x="68.20" y="604.70" width="102.80" height="10.00" fill="#fff"/>
<path d="M118.40,619.20 L120.90,621.70 L118.40,624.20 L115.90,621.70 Z" fill="#111"/>
<path d="M152.30,669.00 L154.80,671.50 L152.30,674.00 L149.80,671.50 Z" fill="#111"/>
<path d="M152.30,572.40 L154.80,574.90 L152.30,577.40 L149.80,574.90 Z" fill="#111"/>
<path d="M118.40,675.20 L120.90,677.70 L118.40,680.20 L115.90,677.70 Z" fill="#111"/>
<path d="M152.30,598.20 L154.80,600.70 L152.30,603.20 L149.80,600.70 Z" fill="#111"/>
<path d="M118.40,672.90 L120.90,675.40 L118.40,677.90 L115.90,675.40 Z" fill="#111"/>
<path d="M152.30,620.60 L154.80,623.10 L152.30,625.60 L149.80,623.10 Z" fill="#111"/>
<path d="M118.40,677.50 L120.90,680.00 L118.40,682.50 L115.90,680.00 Z" fill="#111"/>
<path d="M152.30,620.60 L154.80,623.10 L152.30,625.60 L149.80,623.10 Z" fill="#111"/>
<path d="M118.40,699.50 L120.90,702.00 L118.40,704.50 L115.90,702.00 Z" fill="#111"/>
<path d="M152.30,656.90 L154.80,659.40 L152.30,661.90 L149.80,659.40 Z" fill="#111"/>
<path d="M152.30,683.90 L154.80,686.40 L152.30,688.90 L149.80,686.40 Z" fill="#111"/>
<path d="M152.30,688.90 L154.80,691.40 L152.30,693.90 L149.80,691.40 Z" fill="#111"/>
<rect x="116.20" y="700.40" width="4.40" height="4.40" fill="#a6a6a6"/>
<rect x="150.10" y="701.80" width="4.40" height="4.40" fill="#a6a6a6"/>
<rect x="116.20" y="702.30" width="4.40" height="4.40" fill="#a6a6a6"/>
<rect x="150.10" y="707.30" width="4.40" height="4.40" fill="#a6a6a6"/>
<rect x="116.20" y="704.30" width="4.40" height="4.40" fill="#a6a6a6"/>
<rect x="150.10" y="712.80" width="4.40" height="4.40" fill="#a6a6a6"/>
<rect x="116.20" y="706.30" width="4.40" height="4.40" fill="#a6a6a6"/>
<rect x="150.10" y="717.80" width="4.40" height="4.40" fill="#a6a6a6"/>
<rect x="116.20" y="708.30" width="4.40" height="4.40" fill="#a6a6a6"/>
<rect x="150.10" y="705.30" width="4.40" height="4.40" fill="#a6a6a6"/>
<rect x="116.20" y="710.30" width="4.40" height="4.40" fill="#a6a6a6"/>
<rect x="150.10" y="710.80" width="4.40" height="4.40" fill="#a6a6a6"/>
<rect x="116.20" y="712.30" width="4.40" height="4.40" fill="#a6a6a6"/>
<rect x="150.10" y="717.40" width="4.40" height="4.40" fill="#a6a6a6"/>
<rect x="116.20" y="714.30" width="4.40" height="4.40" fill="#a6a6a6"/>
<rect x="150.10" y="703.30" width="4.40" height="4.40" fill="#a6a6a6"/>
<rect x="116.20" y="716.30" width="4.40" height="4.40" fill="#a6a6a6"/>
<rect x="150.10" y="708.80" width="4.40" height="4.40" fill="#a6a6a6"/>
<rect x="116.20" y="717.80" width="4.40" height="4.40" fill="#a6a6a6"/>
<rect x="150.10" y="714.80" width="4.40" height="4.40" fill="#a6a6a6"/>
<path d="M84.20,706.60 L86.80,709.20 L84.20,711.80 L81.60,709.20 Z" fill="#111"/>
<line x1="67.20" y1="568.70" x2="67.20" y2="603.90" stroke="#505050" stroke-width="1.0"/>
<line x1="67.20" y1="615.50" x2="67.20" y2="723.20" stroke="#505050" stroke-width="1.0"/>
<line x1="63.30" y1="603.90" x2="71.10" y2="603.90" stroke="#505050" stroke-width="1.0"/>
<line x1="63.30" y1="615.50" x2="71.10" y2="615.50" stroke="#505050" stroke-width="1.0"/>
<line x1="66.70" y1="722.70" x2="170.00" y2="722.70" stroke="#505050" stroke-width="1.0"/>
<line x1="60.40" y1="722.70" x2="67.20" y2="722.70" stroke="#505050" stroke-width="1.0"/>
<text x="57.00" y="725.80" font-size="8.6" text-anchor="end" fill="#231f20">0</text>
<line x1="60.40" y1="696.00" x2="67.20" y2="696.00" stroke="#505050" stroke-width="1.0"/>
<text x="57.00" y="699.10" font-size="8.6" text-anchor="end" fill="#231f20">2</text>
<line x1="60.40" y1="669.20" x2="67.20" y2="669.20" stroke="#505050" stroke-width="1.0"/>
<text x="57.00" y="672.30" font-size="8.6" text-anchor="end" fill="#231f20">4</text>
<line x1="60.40" y1="642.30" x2="67.20" y2="642.30" stroke="#505050" stroke-width="1.0"/>
<text x="57.00" y="645.40" font-size="8.6" text-anchor="end" fill="#231f20">6</text>
<text x="57.00" y="618.60" font-size="8.6" text-anchor="end" fill="#231f20">8</text>
<line x1="60.40" y1="598.40" x2="67.20" y2="598.40" stroke="#505050" stroke-width="1.0"/>
<text x="57.00" y="601.50" font-size="8.6" text-anchor="end" fill="#231f20">10</text>
<line x1="60.40" y1="583.30" x2="67.20" y2="583.30" stroke="#505050" stroke-width="1.0"/>
<text x="57.00" y="586.40" font-size="8.6" text-anchor="end" fill="#231f20">15</text>
<line x1="60.40" y1="568.70" x2="67.20" y2="568.70" stroke="#505050" stroke-width="1.0"/>
<text x="57.00" y="571.80" font-size="8.6" text-anchor="end" fill="#231f20">20</text>
<line x1="84.20" y1="722.70" x2="84.20" y2="729.20" stroke="#505050" stroke-width="1.0"/>
<text x="83.60" y="739.90" font-size="9.0" text-anchor="middle" fill="#231f20">Bsl</text>
<line x1="118.40" y1="722.70" x2="118.40" y2="729.20" stroke="#505050" stroke-width="1.0"/>
<text x="117.80" y="739.90" font-size="9.0" text-anchor="middle" fill="#231f20">Day 14</text>
<line x1="152.30" y1="722.70" x2="152.30" y2="729.20" stroke="#505050" stroke-width="1.0"/>
<text x="151.70" y="739.90" font-size="9.0" text-anchor="middle" fill="#231f20">Day 28</text>
<text transform="translate(28.40,645.80) rotate(-90)" font-size="9.15" text-anchor="middle" fill="#231f20">CD3<tspan font-size="6" dy="-3.4">+</tspan><tspan dy="3.4">Ki67</tspan><tspan font-size="6" dy="-3.4">+</tspan></text>
<text transform="translate(39.80,645.80) rotate(-90)" font-size="9.15" text-anchor="middle" fill="#231f20">(fold change to baseline)</text>
<line x1="263.30" y1="702.80" x2="367.40" y2="702.80" stroke="#8c8c8c" stroke-width="1.0" stroke-dasharray="3.6,2.6"/>
<path d="M280.50,702.80 L314.80,709.31 L349.60,709.31" fill="none" stroke="#b4b4b4" stroke-width="0.9"/>
<path d="M280.50,702.80 L314.80,716.90 L349.60,691.95" fill="none" stroke="#b4b4b4" stroke-width="0.9"/>
<path d="M280.50,702.80 L314.80,717.99 L349.60,717.99" fill="none" stroke="#b4b4b4" stroke-width="0.9"/>
<path d="M280.50,702.80 L314.80,708.23 L349.60,712.57" fill="none" stroke="#b4b4b4" stroke-width="0.9"/>
<path d="M280.50,702.80 L314.80,717.99 L349.60,711.48" fill="none" stroke="#b4b4b4" stroke-width="0.9"/>
<path d="M280.50,702.80 L314.80,715.82 L349.60,717.99" fill="none" stroke="#b4b4b4" stroke-width="0.9"/>
<rect x="312.60" y="707.11" width="4.40" height="4.40" fill="#a6a6a6"/>
<rect x="347.40" y="707.11" width="4.40" height="4.40" fill="#a6a6a6"/>
<rect x="312.60" y="714.70" width="4.40" height="4.40" fill="#a6a6a6"/>
<rect x="347.40" y="689.75" width="4.40" height="4.40" fill="#a6a6a6"/>
<rect x="312.60" y="715.79" width="4.40" height="4.40" fill="#a6a6a6"/>
<rect x="347.40" y="715.79" width="4.40" height="4.40" fill="#a6a6a6"/>
<rect x="312.60" y="706.02" width="4.40" height="4.40" fill="#a6a6a6"/>
<rect x="347.40" y="710.37" width="4.40" height="4.40" fill="#a6a6a6"/>
<rect x="312.60" y="715.79" width="4.40" height="4.40" fill="#a6a6a6"/>
<rect x="347.40" y="709.28" width="4.40" height="4.40" fill="#a6a6a6"/>
<rect x="312.60" y="713.62" width="4.40" height="4.40" fill="#a6a6a6"/>
<rect x="347.40" y="715.79" width="4.40" height="4.40" fill="#a6a6a6"/>
<path d="M280.50,702.80 L314.80,631.19 L349.60,687.61" fill="none" stroke="#111" stroke-width="1.0"/>
<path d="M280.50,702.80 L314.80,642.04 L349.60,585.00" fill="none" stroke="#111" stroke-width="1.0"/>
<path d="M280.50,702.80 L314.80,669.16 L349.60,675.67" fill="none" stroke="#111" stroke-width="1.0"/>
<path d="M280.50,702.80 L349.60,656.14" fill="none" stroke="#111" stroke-width="1.0"/>
<rect x="264.30" y="605.40" width="104.10" height="9.80" fill="#fff"/>
<path d="M314.80,628.69 L317.30,631.19 L314.80,633.69 L312.30,631.19 Z" fill="#111"/>
<path d="M349.60,685.11 L352.10,687.61 L349.60,690.11 L347.10,687.61 Z" fill="#111"/>
<path d="M314.80,639.54 L317.30,642.04 L314.80,644.54 L312.30,642.04 Z" fill="#111"/>
<path d="M349.60,582.50 L352.10,585.00 L349.60,587.50 L347.10,585.00 Z" fill="#111"/>
<path d="M314.80,666.66 L317.30,669.16 L314.80,671.66 L312.30,669.16 Z" fill="#111"/>
<path d="M349.60,673.17 L352.10,675.67 L349.60,678.17 L347.10,675.67 Z" fill="#111"/>
<path d="M349.60,653.64 L352.10,656.14 L349.60,658.64 L347.10,656.14 Z" fill="#111"/>
<path d="M280.50,700.20 L283.10,702.80 L280.50,705.40 L277.90,702.80 Z" fill="#111"/>
<line x1="263.30" y1="569.10" x2="263.30" y2="604.60" stroke="#505050" stroke-width="1.0"/>
<line x1="263.30" y1="616.00" x2="263.30" y2="725.00" stroke="#505050" stroke-width="1.0"/>
<line x1="259.40" y1="604.60" x2="267.20" y2="604.60" stroke="#505050" stroke-width="1.0"/>
<line x1="259.40" y1="616.00" x2="267.20" y2="616.00" stroke="#505050" stroke-width="1.0"/>
<line x1="262.80" y1="724.50" x2="367.40" y2="724.50" stroke="#505050" stroke-width="1.0"/>
<line x1="256.50" y1="724.50" x2="263.30" y2="724.50" stroke="#505050" stroke-width="1.0"/>
<text x="253.10" y="727.60" font-size="8.6" text-anchor="end" fill="#231f20">0</text>
<line x1="256.50" y1="702.80" x2="263.30" y2="702.80" stroke="#505050" stroke-width="1.0"/>
<text x="253.10" y="705.90" font-size="8.6" text-anchor="end" fill="#231f20">1</text>
<line x1="256.50" y1="681.10" x2="263.30" y2="681.10" stroke="#505050" stroke-width="1.0"/>
<text x="253.10" y="684.20" font-size="8.6" text-anchor="end" fill="#231f20">2</text>
<line x1="256.50" y1="659.40" x2="263.30" y2="659.40" stroke="#505050" stroke-width="1.0"/>
<text x="253.10" y="662.50" font-size="8.6" text-anchor="end" fill="#231f20">3</text>
<line x1="256.50" y1="637.70" x2="263.30" y2="637.70" stroke="#505050" stroke-width="1.0"/>
<text x="253.10" y="640.80" font-size="8.6" text-anchor="end" fill="#231f20">4</text>
<text x="253.10" y="619.10" font-size="8.6" text-anchor="end" fill="#231f20">5</text>
<text x="253.10" y="607.70" font-size="8.6" text-anchor="end" fill="#231f20">12</text>
<line x1="256.50" y1="587.00" x2="263.30" y2="587.00" stroke="#505050" stroke-width="1.0"/>
<text x="253.10" y="590.10" font-size="8.6" text-anchor="end" fill="#231f20">14</text>
<line x1="256.50" y1="569.10" x2="263.30" y2="569.10" stroke="#505050" stroke-width="1.0"/>
<text x="253.10" y="572.20" font-size="8.6" text-anchor="end" fill="#231f20">16</text>
<line x1="280.50" y1="724.50" x2="280.50" y2="731.00" stroke="#505050" stroke-width="1.0"/>
<text x="279.90" y="740.50" font-size="9.0" text-anchor="middle" fill="#231f20">Bsl</text>
<line x1="314.80" y1="724.50" x2="314.80" y2="731.00" stroke="#505050" stroke-width="1.0"/>
<text x="314.20" y="740.50" font-size="9.0" text-anchor="middle" fill="#231f20">Day 14</text>
<line x1="349.60" y1="724.50" x2="349.60" y2="731.00" stroke="#505050" stroke-width="1.0"/>
<text x="349.00" y="740.50" font-size="9.0" text-anchor="middle" fill="#231f20">Day 28</text>
<text transform="translate(225.90,646.00) rotate(-90)" font-size="9.15" text-anchor="middle" fill="#231f20">CD3<tspan font-size="6" dy="-3.4">+</tspan><tspan dy="3.4">GZMB</tspan><tspan font-size="6" dy="-3.4">+</tspan></text>
<text transform="translate(237.30,646.00) rotate(-90)" font-size="9.15" text-anchor="middle" fill="#231f20">(fold change to baseline)</text>
<text x="431.50" y="383.90" font-size="10" font-weight="bold" fill="#000">c</text>
<text x="496.3" y="387.3" font-size="9.1" text-anchor="middle"><tspan fill="#8a4cc4">CD8</tspan><tspan fill="#231f20"> + </tspan><tspan fill="#f2b630">CD4</tspan></text>
<text x="628" y="387.2" font-size="9.2" text-anchor="middle"><tspan fill="#ee2a2a">CD3Ki67</tspan><tspan fill="#231f20"> + </tspan><tspan fill="#ff55e0">CD3GZMB</tspan></text>
<clipPath id="c11"><rect x="439.0" y="391.0" width="114.2" height="113.6"/></clipPath><g clip-path="url(#c11)">
<rect x="439.00" y="391.00" width="114.20" height="113.60" fill="#c8d1e5"/>
<path d="M502.9 496l-0 1.2M460.1 449.2l-1.3 1M473.6 401.3l-1.2 1.7M551.2 500.6l-0.6 1.5M440.7 451l0.1 0.1M442.4 443.7l-1 0.5M512.1 447.8l0.2 1.6M552.9 504.1l-1.3 1.7M465.2 423.8l-0.1 0.1M535.7 434.9l-2.1 1.1M462.9 494.4l-1.2 0.1M447.3 462.5l1.3 1.5M477 500.5l1.8 0.7M450.5 397.8l1.7 1.1M490.1 412.7l1.7 0.7M452.3 438.8l0.4 0.4M530.7 425.6l1.7 1.4M536.6 463.9l-0.3 0M468.5 478.8l0.5 0.7M449.3 457.2l-0.2 0.6M490.8 500l-0.3 1.2M459.9 408.5l-1.9 1.2M460.7 475l1.9 1.4M539.7 459.6l1 0.3M548.9 418.1l1.2 1.3M507.1 424.3l-0.3 0.3M465.1 454.5l-0.7 2M543.8 414.2l0 0M445.9 411l-0.2 0.9M480.4 492.2l-1.2 2.2M505.7 406.9l0.1 0M519.1 500.4l-0 0M522.4 427.2l2.4 0.6M523.2 493.3l-1.1 1.5M543.5 431l-1.6 0.5M486.6 480.8l-0.5 2.1M482.7 457.2l1.5 0.4M552.4 490.9l0.6 1.7M505.3 441l2 0.5M442.4 459.3l0.9 0.8M495.8 460.8l1.6 1.7M473.4 468l0.4 0.3M514.4 441.2l1.2 1.9M461.7 439.9l-1.9 0.5M482.9 457.2l0.7 0.3M534.6 487.4l-1.8 0.3M458.3 442.2l0.5 0.4M510.5 447.1l-0.7 0.4M490.7 399.5l-0.1 0M519.9 455.8l-0.6 0.5M454.5 442.7l-0.1 0M455.1 396.3l0.3 1.6M513.8 482.7l-1.3 2M493.3 411.3l0 0M459.5 421.9l-0.5 0.7M509.2 476.9l-0.8 0.6M449 496.9l1.7 0.7M510.4 494.4l-0.2 0.9M530 498.3l-0.5 1M521.4 484l-1 1.2M541.8 502.4l-0.3 2.4M475.6 494.4l1 1.9M489.4 453.5l0.1 1.9M531.4 398.3l1.7 1M529 407l-0 0.4M534.9 469.3l0.1 2.4M448.8 416.2l0.8 1M512 450.4l-0.4 2.1M482.5 487l1.8 1.4M549.6 450.6l1.2 0.8M496.5 459.8l-0.1 0M484.7 482l0 1.4M446.5 452.2l-1 0.1M469.7 444.8l0.1 0.3M541.8 445.1l0.7 0.4M544.7 405.7l1.9 0.1M465 469l0.4 0.7M451 474l-0 0.3M461.6 451.2l0.4 1M499.5 409.1l-0.2 0.5M499.5 487.7l-1.4 0.7M523.6 483.1l1.2 1.9M544.4 415.8l-2.3 0.9M466.3 473.5l0.6 0.2M487.2 480.7l0.1 0.3M441 413.8l-1.6 0.5M452.2 448.4l-0 1.9M460.6 399l0.3 0M497.8 455.6l0.3 0.2M535 503.5l2.2 0.7M547.7 443.5l1 1.6M497.8 439.9l1.5 0.1M535.4 411.6l-0.8 0.8M461.3 409.8l1.3 0.1M530.6 471.1l-0.8 2M507.5 448.3l-2 1.4M543.1 475.6l-1.6 1.1M541.4 490.9l-1.3 1.2M485.3 473.1l0.1 0.2M440.2 431.4l-0.6 1.5M546.9 466.7l-0.4 0.7M499.9 435.3l-1.1 2.3M526 502.3l-0 0.1M468.3 436.6l0.1 0.1M450.2 419.5l-0.4 2.2M549.4 455.5l-1 2.3M447.7 458.9l1.9 0.3M457.3 444.6l0 0.4M445.7 498.4l-0.1 1M480.7 423.5l-0.3 1.6M520.8 424.6l0 0M456.9 476.7l-0.9 0.3M444.7 503.3l2.3 0.5M488.1 445.3l1.8 1.7M546 473.1l-1.2 0.1M507.9 404.1l0.2 1.5M444.9 451l0.1 0.3M491 420.8l0.4 1.4M499.6 504.3l-1.6 1.8M452 492.4l-0.7 1.8M470 468.8l-0.4 1.4M525 412.6l-0.6 0M539.4 395.5l0.1 0.1M510.2 402.6l1.3 0.3M516.2 453.6l0.6 1.5M463.1 430l-1.6 0.9M452.7 482.9l-1.2 1M487.5 420.3l0.8 1.9M552 428l-1 1M487.8 432.9l-0.2 0.1M448.5 455.1l-0.7 1M527.6 399.6l-0.3 0.5M473.7 473.4l1.1 1.3M479.9 473.5l0.9 0.3M504 495.3l-2.3 0.6M530.7 425.6l0.2 0.8M541.2 419.2l0.4 0.8M484.2 435l-0.1 0.5M500.7 486l1.2 0.7M539.6 423l-0 0.1M503.8 500.8l-1.3 0.9M501.4 480.5l0.2 0.1M541.7 400.6l1.4 0.7M513.1 418.9l-0.4 0.4M526.3 435.8l-0.8 0.1M495.4 452l-1.1 1.4M485.9 484.9l-1.5 0.7M534.2 492l-1 2.2M520.1 482.1l0.3 1M523.6 503.6l0.8 0.5M487.5 424.2l2.4 0.4M452.1 464.6l1.6 1M491.4 457.3l2.3 0.3M460.1 415.7l-0.4 0.5M464.6 412l0.6 0.4M474.6 453.3l0.1 2M540.3 494.9l-0.1 0.8M494.1 416.1l-0.1 0M483 450.9l0.8 1M514.1 418l0 0M530 472l1.3 0.7M475.7 420.5l-0.1 2.2M552.4 421.3l1.2 0.6M439.2 484.3l-1.8 1.1M469.8 472.4l0 0.2M548.1 457.6l1.2 1.7M486.6 495.1l-0.2 0.1M501.1 450.7l-0.3 0.2M474.5 399.6l0.1 0.8M480.1 469.1l0.1 0.2" stroke="#b3bfd8" stroke-width="3.0" stroke-linecap="round" fill="none" stroke-opacity="0.5"/>
<path d="M549.4 485.3l1.6 0.1M520.1 418l0.2 1.4M552.2 481.8l-0.2 0.5M481.9 452.3l0.4 0.7M515.1 420.1l-0.3 0.4M546.9 454.9l0.9 1.6M449.5 407l-0.1 0.2M459.5 436.7l-0.6 2M464.9 408.8l0.1 0.3M544.1 439.5l-0.6 1.1M532.8 434.8l0.2 0.8M484.8 470.5l-1.9 1.5M508.5 393.1l0.4 0.7M451.1 433.9l-1 0.8M508.8 409l-1.8 0.6M479.3 447.8l-0.2 0.3M497.9 472.3l1.7 1.2M510.6 413.5l0.1 0.1M518.6 428.4l1 2.1M453.2 501.6l-0.3 0.1M503 454.7l-0.6 0.2M532.4 459.3l-0.3 0.2M541.4 418.4l-1.2 0.7M501.6 399.7l0.1 0M546.3 465.8l-0.4 0.7M482.6 458.2l2 0.1M492.4 407.2l-0.2 0.9M498.4 421l0.7 1.2M443.3 467.2l-0.4 0M492.7 437.7l-0.9 1.3M524.8 446.2l-2.2 1.2M485.7 440.3l-1.4 0.4M499 440.1l1.2 1.9M521.9 493.3l-0.6 1.7M473.8 458.4l0.2 0.1M496.4 436.1l-0.1 0.1M466.3 425.8l0.7 0.7M543.1 500.8l-1.5 0.7M531 416.2l-0.4 1.8M450.3 481l-0 0.3M439.1 418.7l0.4 0.6M541.2 483.6l0.4 0.9M444.2 394.5l1.3 1.8M545.7 502l0.9 0.7M544.4 492.9l-0.4 0.2M493 410.5l-2.2 0M511.2 412.8l2.2 0.3M521.9 426.6l-2.1 0.9M454.4 470.1l0.4 2.3M464.5 425.9l1.4 1M465.9 466.5l0.8 1.8M540 458l0.3 0.5M515.2 422.4l1.5 0.4M489.3 451l1.3 0.2M471.5 419.5l1.9 0.5M525.3 418.9l-0.1 0.7M541.4 503.2l0 0.1M482.9 496.6l1.1 0.7M512.7 431.9l-1.3 1M496.7 487l-0.1 1.7M458.9 479.6l-0.1 0.4M489.3 478.8l-1.6 1.2M494.9 416.1l0 1.5M507.2 472.2l-1.3 0.6M456.3 393l0.3 1.2M469 481.7l-0.2 0.1M501 480.9l0.5 0.3M443.8 426.7l-0.1 1.5M506.2 401.1l1.8 1.1M457.3 469.5l-1.6 1.3M485.9 432.4l-0.5 0.1M494.9 477.5l2.2 1.1M524.1 395.5l-0.6 0.2M483.9 424.9l1 0.3M552.8 477.7l1.4 1.2M502 418.5l-1.1 0.2M477.5 502.5l1.5 0.2M513.2 397.6l-0.5 0.7M506.5 491.7l0.4 1.1M482.5 479.8l0.2 0.5M501.8 409.6l0.4 0.3M474.2 441.8l-1.3 2.1M462.4 434.5l-0.1 0.2M470.4 393.1l0.3 0.3M544.5 472.2l0.3 0.6M546 431.9l-1.2 1.5M441.3 427.6l0.9 0.2M476.1 478.6l1.3 0.2M466.2 395.6l-0.1 0.4M474.7 439.2l1.2 0.6M468.7 473.4l1.5 0.7M471 472l0.4 0.9M464.8 424.2l0.7 0.5M441.8 462.6l-1.2 0.8M473 467.2l1.8 1.4M515.1 499.5l1.6 1.5M449.3 439.6l1 0.2M476.5 447.5l0.6 0.3M493.3 409.9l1.2 1.1M478 439l-0.1 0.4M502.2 470.5l0 0.1M446.2 436.9l0 0.1M492.6 428l0.6 0M540.8 455.3l-0.3 0.6M492.6 460.9l1 2.2M546.6 478.6l-0.6 1.5M486.5 422.4l-1.9 0.8M542.9 395.3l-0 0.3M480.2 502l0.3 0.2M516.7 417.6l-0 0M466.3 447.1l-0.2 1.6M503 485.4l1.2 2.1M540.2 426.6l-1 1.5M549.1 484.7l-0.1 0.4M503.4 433l-0.5 0.5M466.1 419.3l0.7 0.4M453.4 398.2l0.2 0.1M451.9 442.3l0.1 1.9M537.9 489.8l0.1 0.1M530 435.6l1.3 1.3M476.3 428.9l-1.7 0.9M503.8 438.8l-0.7 1.6M530.5 405.2l-0.5 0.8M460.1 392.6l-1.4 0.3M454.3 469.1l-0.4 1M545.6 503.3l-0.1 0.1M443.8 423.5l-1.8 0M476.7 394l0.1 1.4M474.3 481.9l1.3 1.6M509.5 477.9l0.8 2.3M501.3 481.9l0.3 0.2M545.6 419.6l1.1 0.5M441.2 455.3l-0.1 0.3M465 445.8l0.6 0.7M446.4 492.4l0.8 0.2M494.2 504.3l-0.5 0.2M486.3 482.7l1 0.2M514 461.8l-0.7 0.1M552.5 441.3l-1.4 1.6M442.1 410.2l0.3 0.1M525.1 426.2l1.3 0M548.5 392.3l-1.1 0.7M523 436.4l-1.7 1M551.6 402.5l0.7 2.3M467.6 494.3l-0 0.1M483.4 433l-1.4 0.9M511.9 431.2l-0.7 0.2M449.8 429l1.5 1.1M501.4 468.3l0.4 0.1M479 439.9l-0 0M475.7 452l1.9 1.4M475.6 476.7l-0.3 0M548.9 416l-0.6 0.8M470.2 467.9l1.3 2M479.8 503.4l-0.2 0.3M512.5 415.1l-1.4 0.5M510.8 448.4l1.3 0.5M517.8 442.5l0.4 1.6M465.3 459.2l-0.1 1.4M510.6 441.8l-0.4 1.4M456.4 444.2l-1.7 1.8M523.1 503.4l-0.9 0.4M552.1 446.8l-0.5 0.3M546.1 485.2l-0.1 2M446.4 489.8l1.3 1.3M490.9 451.9l1.8 1.2M512.5 399.4l-1.1 0.9M466.6 481.9l-1.6 1.4M542.4 481.5l0.2 0.3M443.2 430.3l-1.9 1.1M459.8 435.1l-0.8 2M447.2 503.2l-0.2 0.5M522.1 413.4l0.4 1.6M477.8 426.8l1 1.2M518.4 411.5l-0.2 0.3M453.7 404.2l-0.8 2.2M461.4 504l-1.2 1.3M474.4 437.4l-0.1 0.3M532.7 437.5l-0 1.1M478.6 470.9l-0.1 0.6M538.7 423.5l-1.1 1.8M545.6 435l-0.6 1.8M446.3 438.6l0.1 0.7M472.5 469.9l1.2 1.2M454.1 492.7l0.2 0.6M532.7 487.6l-0.2 1.5M541.4 401l0.3 0.8M515.4 430.1l-2.2 0.4M511.3 444.3l0.1 0.9M515.6 459.8l-2.4 0.2M484.1 485.1l-1 1.3M446.6 443.5l-0.5 0.9M552 414.8l0.8 0.4M523.7 400.5l-0.2 0.4M523.7 419.8l-1.3 1.5M452.7 444.2l-0 0M541.3 393.7l-0.1 0.9M451.7 480.7l-0 0.8M503.9 405.7l-0 0.2M527.8 419l1 0.2M490.6 454.4l-1 0.5M536.1 408.6l-0.2 2.4M508.9 489.1l0.6 2.3M456.6 484l-1.1 1.4M499.6 394.2l0.2 0.2M512.4 487.3l0 0.1M468.8 403.7l1.2 2M513.7 491.7l-0.5 2.3M542.2 435.8l-0.5 0.5M481 439.8l0.5 1.1M490.5 396.6l2 0.4M501.5 436.4l0.5 0.2M474.9 446l-0.4 0.4M440 437.2l2.4 0.1M548.7 432.5l0.6 1.4M508.6 458l0 0.8M525.1 397l0.2 0.2M529.9 439.3l0.7 2M516.6 400.7l-2.1 1.2M475.2 484.1l-0.8 1.8M526.2 396.4l-0.3 1.5M511.9 393.5l-1.7 1.6M439.6 474.7l-0.6 0.9M543.7 399.5l0.4 1.9M482.1 441.9l1 0.4M522.9 399.1l-0.3 0.1M501.6 403.9l0.2 0.2M503 495.8l0.1 0.5M534.8 405l0.2 2.2M488.3 433.9l-1.6 0.4M517.7 435.1l1.8 0.6M458 457.5l0.2 0.4M478.9 458.2l0.4 1.2M535.2 431.7l0.1 1.5M476.5 470.2l0.4 0.4M504.7 420.2l-0.1 0.1M520.8 440.2l-0.3 1.5M542.9 442.8l0.9 0.8M450.7 425.8l2.1 0.2M503.9 453.7l0.7 0.4M526.3 482.5l-0.2 0.2M461.8 451.8l1.4 0.6M505.5 493.2l-1.3 1.9M547.6 472.6l-0.7 0.3M469.2 419.3l-0 0.1M472.5 419.7l0 0.3M471.6 422.5l-1.2 0.5M537.2 488.1l-0.2 1.5M500 466l-1.7 1.5M445.2 497.4l-0.7 0.6M490.7 433.1l-1.8 0.3M503.6 430.6l-0.6 0.1M546.4 465.7l-0.2 0.1M503.6 404.6l1.4 2M446 466.7l0.2 0M551.2 468.8l-1.7 1.3M447.8 450.9l-0 0.5M496 413.4l0.5 1.7M448 446.3l-1.4 0.1M454.4 425.1l-0.5 0.7M550.5 498.9l-2.1 1M441.3 446.6l-0.8 1.2M509 497l-0 0.2M442.6 403.7l-2.2 0.3M442.7 485.3l-0.1 1.7M525.5 482.8l0 0M550.4 485.7l0.5 0.9M440.7 478.5l-0.2 0.6M477.3 467.7l0.8 0.8M459.1 408l0 0.6M477 418.1l1.1 1.2M468.1 490.6l0.3 0.3M476.6 473.5l-1.3 1M448 477.7l0.5 0.4M552 433.1l-0.9 0.2M483.2 406.4l-1.5 1.2M529.3 434.1l-0.2 0.7M493.3 484l0 0M446.4 494.9l0.3 0.2M548.7 496.8l-0.8 0.2M520.6 498.4l0.4 0.2M539.8 473.5l0.3 2.3M452.7 422l2.3 0.5M478.7 396.6l0.6 0.4M499.2 452.4l-1 1M547.2 400.3l0.5 0.1M525.9 496l1.1 0.6M503.9 424.4l-2 0.2M507.9 487.1l1 0.7M550.7 393.8l0.6 1.8M457.6 410.7l1.4 1.1M464.1 481.8l-0.6 1.1M459.8 392.7l0.8 0.1M509.7 433l-0.4 1.1M479.7 491.4l0.4 1.4M491.6 428.8l1.7 1.5M536.4 491.2l-0 0.4M472 410.4l1.3 1.2M457 498.6l0.7 0.2M478.6 454.5l-1.2 0.3M482.3 391.2l0.8 0.9M511.2 443.5l0 0.2M512.2 501.2l0.1 0.7M530.4 417.6l-1.7 1.2M542.1 448.2l-0.2 1M494.9 445.8l-0.6 0.3M478.1 413.3l-0.5 0.3M550.8 495.2l-1.4 1M531.5 482l-0.4 0.2M466.9 495.5l-0 0.1M529.4 460.4l-2.2 0.5M446.4 466.8l-0.3 0M474.5 412.1l-1.3 1.2M510.1 405.2l1.8 0.3M526.8 480.2l-0.5 2.1M512 446.9l0.4 0.9M457.4 481.4l-0.3 0.5M518.3 449.6l0.5 0.6M513 469l1.2 2M543.1 424l-0.9 2.2M527.4 428.9l-0 0.7M443 489l0.1 1.3M467.5 413.6l1.1 1M447 396.9l-0.1 0.9M512 438.1l0.8 0.7M548.5 404.9l-0.6 0.9M502.4 463.8l-2.2 0.7M500.8 504.3l1.1 0.7M445.5 408.1l0.9 1M522 427.3l-0.9 1.7M491.1 440.1l0 0.3M540.5 397.4l0.1 0.1M489 405.5l-0.2 1M485 464.8l-0.6 1.6M520.1 405.6l0 0.1M447.3 435.4l1.1 0.4M536.3 446.3l0.8 1.2M452.7 425.6l-0.5 0.2M485.9 436.3l1.5 1.6M519.9 441.9l0.2 0.9M475 461.9l0.6 0.8M491 444.8l0.3 2.2M541.6 501.9l0.6 1.9M523.6 424.7l-1.8 0.3M515.4 440.4l1.2 1.1M500.6 502.3l-0.5 0.7M486.5 478.1l-0.2 0.6M484.5 503.9l-0.5 0.1M505.6 484.3l0.7 2M520.3 477.5l-0.5 1.8M519.5 454.8l-1.4 0.1M528.2 427.9l-1.8 0.3M503.8 451l1.1 0.6M541 466.3l-0.6 0.4M455.6 459.8l-0.1 1.1M504 499.3l-0.6 0.6M473.3 469.6l-1.5 0.9M470.2 431.7l1.3 0.1M514.1 407.9l-0.7 0.3M467.5 411.2l0.3 0.1M523.4 421l-0.7 1M532.5 488.6l-0.3 0.4M477.5 490.8l0 0.5M489.5 483.3l-0.5 1.3M464.5 416.3l1.4 0.7M478 441l-0.9 0.6M516.3 410.5l-0.5 0.7M539.8 490.1l0.2 0.5M521.1 396.4l1.7 0.3M501 457.2l0.2 0M551.5 459.2l2.1 0.4M441.4 470.2l0.3 0.3M518.4 427.6l0.7 0.9M479.6 431.9l0.4 0.5M440.9 426.3l1 1.1M535.6 444.3l0.7 1.1M525.1 461.7l-0.9 1.4M486.2 435.3l0.1 1.3M499.9 480.6l1.7 1.4M473.4 394.6l-0.7 1.9M460.8 489.7l-1.1 1.8M524 442.6l-0.2 1M552.2 495.2l2 0.5M549.9 452.7l0.7 1.1M498 503.5l-0.2 0M455.9 435.2l1.5 0.5M546.3 440.5l-0.5 1.8M458.8 443.7l-1.2 1.9M490 452.7l-0.2 0.8M441 416l1.3 1M526 428.9l-0.4 2.4M511.7 420.8l-1.3 1.6M445.5 394.9l1.8 0.9M442.4 409.6l-1.2 0.2M468.6 485.1l-0.2 0.4M545.8 396l0.5 1.3M467.8 472.2l0 0.5M466.4 422.7l-1.2 2M460.3 417.9l-0.6 0.3M550.9 467.1l0.6 1.5M495.4 397.7l0.4 1.1M444.6 394.2l1 2.3M455.9 458.3l1.9 1.2M496.1 478l1 1M521.8 399.9l2.1 0.2M492.4 486.9l-1.1 1.1M521.5 396.9l1.8 0.9M443.3 394.2l0.8 2M444.3 487.1l-1.5 0.4M451.9 423.6l0.4 0.2M512.1 410.1l-0 0.4M456.1 455.5l0.4 1.2M443.5 460.9l0.2 0.4M540.4 457.8l-0.1 1M454.1 434.6l0.7 1.6M542.7 395.6l0.4 0.6M528.6 470.5l1.9 1.3M536.4 478l-0.3 0M537.9 432.1l-1.5 0.2M504.9 492.1l-2.2 1.2" stroke="#dde3ee" stroke-width="2.8" stroke-linecap="round" fill="none" stroke-opacity="0.6"/>
<path d="M548.7 407.3l1.7 -0.8M503.4 432.1l1.7 -2.1M490.2 430.6l2.1 -0M469 432.5l1.5 -2.5M461.7 454.2l0.5 -1.6M522.2 442.4l1.4 0.3M446.5 472.3l1.1 -0.7M536.8 497.2l1.3 -1.4M487.4 485.3l2 -0.6M514 369.6l1.1 -0.4M524.8 448.6l1.1 -0.2M516 501l0.3 -0.6M460.6 455.5l2.6 -1.3M481.5 403.8l0.8 -2.6M515.1 445.3l0.6 -0.3M467.9 410.1l0.7 -1.5M522.2 491.4l2.2 -1M516.3 501.7l1.5 -0.2M492.5 392.2l1.3 -1.7M497.2 449l0.3 -0.6M516.9 503.5l2.1 -2.5M460.6 440.3l1.9 0.2M480.9 461.5l1.7 0.3M494.3 448.9l1.4 -2.5M474.3 460l2.6 -1.9M469.5 486l0.4 -1.2M494.2 406l1 0M446.4 467.7l1 -0.7M444.8 497.3l0.8 -1.5M451.5 395.2l2.3 -1.6M529.3 414.5l0.6 -0.3M485.7 502.2l1.2 -0.4M551.2 410.1l1.8 -1.9M542.2 481.3l0.5 -0.3M448.3 422.2l2.1 -2.8M475.3 410.1l3.1 -0.5M470.9 463.2l2.5 -1.7M513.3 451.9l2.9 -1.8M480.6 432.9l1.1 0.2M453.7 470.8l2.4 -1M508.5 490.6l3 -2.5M481.8 437.6l1.7 -0.6M475.4 486.2l3.2 -0.9M483.1 464l0.9 -1M517.3 381l1.2 -1M522.2 473.7l1.4 -3.3M502.7 421.8l2.6 -2.5M507.5 464.6l1.3 -1.5M442.4 463.6l2.3 -2.4M508.5 449.9l3 -1.3M472.3 453.2l0.5 -1.5M464.8 502.6l1.8 0.1M504.6 405.3l1.3 -3.1M450.1 401.5l0.9 -1.7M505 492.9l3.8 -0.6M493 479.4l1.4 -2.5M486.2 449.6l2.9 -0.8M529.1 484.7l0.4 -0.7M532.6 502.8l1.3 -0.9M484.8 433.1l2.2 -2.3M530.8 391.1l1 -2.2M446.9 421.4l2.9 -1.3M486.2 450.1l1 -0.7M496.9 430.1l0.5 -0.8M505.4 391.3l4 -0.2M525 486.7l2 -3.4M532.4 497.5l0.5 -1.1M507.6 502.7l3.1 -2M491.6 459l2.7 -0.6M488.9 442.9l1.6 -1.4M487.6 401l1.5 -0.7M523.5 450l0.6 -1.7M453.1 472.6l1.1 -3.3M488.4 460.1l0.9 -0.4M482.6 411l0.3 -0.8M465.4 473.2l1.3 -3M486.2 486.7l2 -2.3M486 467.5l2 -2.6M544.1 459.3l3.8 0.4M517.1 441.1l1.5 -3M461 461.4l1.6 -2.4M537.8 448.9l0.4 -0.5M454.2 475.3l2.6 -0.2M502.9 488.1l1 -1.4M524.2 451.3l1.8 -1.6M472.2 392.9l2 -2M488.8 457.8l0.4 -0.5M506 446.7l0.6 -2.1M480.1 441.4l0.7 -2.2M508.2 406.8l1.6 -1.6M496.5 481l3.4 0.1M516 443.4l2.1 -1M532.5 488.5l0.7 -0.1M507.3 494.2l0.6 -0.4M514.8 436.7l1.2 -2.2M494.9 474.5l1.6 0M507.7 487.7l3.5 -0.5M533.2 463.9l1.1 -2.9M499.3 394.8l1.5 -1.6M541.9 398.4l0.8 -0.6M496.6 430l1.3 -1.1M473.6 457.3l3.8 0.4M533.7 416.9l1.1 -0.8M508.2 430.7l2.7 -2.9M515 452.6l3.1 -0.1M503.2 463.2l3.2 0.2M549.5 486.6l3.8 -0.9M501 393.6l1.4 -1.8M514.6 427.8l1.3 -2.4M463.1 416.7l3.8 0.5M535.1 487.4l3 -1.5M496.8 388.5l1.1 -3.2M498.6 409.5l3.6 0.7M486.6 404.6l2.1 -2M446.7 493.2l3 -0.3M508.8 472l2.6 -1.3M524.8 442.8l0.8 -1.1M471.4 464.2l3.5 -1M522.9 413.4l2.8 -1.1M497.1 451.4l1 -2.7M543 466.9l2.6 -0.2M531.8 503.5l0.6 -2M511.9 489l1.9 -1.8M517.3 407.4l3.6 -1.6M527.2 503.6l2.1 0.1M522 443.9l1.7 0.3M496.4 485.1l0.6 -0.6M523.7 469.1l2 -0.2M516.7 439.5l1.4 -1.9M486.3 499.3l1.3 -0.8M469.4 451.8l0.5 -0.5M517.5 397.5l2.7 -1.2M523.6 397.3l0.9 -0.2M552 479.1l0.9 -0.5M508.1 406.3l3.3 -2M524.2 438.8l0.7 -0.2M505.7 465.7l1.8 -1.9M542.4 503.6l3.6 0.3M506.3 431.1l1 -2.4M513.1 437.4l2.6 -1.5M504 432.4l3.6 -0.3M496.7 444.4l1 -2.8M544.7 468l0.9 -0.2M476.6 478.6l2 -1.6M470.5 423.6l2.6 -2.5M480.9 412.6l0.5 0.1M551.1 457.9l0.4 -0.6M477.6 416.4l2.5 -2.9M504.1 457.9l0.5 -0.3M463.9 493.6l1.6 -0.1M450.7 394.4l2.6 0M496.9 422.4l2.9 -0.1M466.9 408.7l3.9 0.3M500.8 396.8l1.8 0.1M499.9 450.1l2.6 -2.5M492.3 457.2l1.9 -0.7M450 451.7l0.6 -0.4M469 484.4l1 -0.9M439.4 453.9l2.3 -0.5M518.3 416.4l1 -0.7" stroke="#f3f4f6" stroke-width="2.4" stroke-linecap="round" fill="none" stroke-opacity="0.75"/>
<path d="M502.2 401.2l0.1 0.4M452.8 497.2l-0.5 0.2M551.4 410.3l-0.4 0.1M439.5 405.4l-0 0M493.4 404l0.4 0.2M506.8 464.1l-0.4 0.2M473.7 407.3l0.3 0M516.8 482.8l-0.3 0.1M533.7 482.6l0.1 0.1M526.3 444.8l0.4 0.5M537.9 501.1l-0.4 0.2M470 461.1l-0 0M496.8 407.6l0.3 0.1M448.1 438.4l-0.3 0.4M491.2 441.1l-0 0M485.6 407.5l0.3 0.1M448.1 439.3l-0.1 0M538 453.9l0.1 0.1M505.8 464.4l0.4 0.1M488.3 486.9l-0.2 0.5M444.3 454.5l-0.2 0.1M462.4 392.8l-0 0M456.6 392.7l0.2 0.2M543.1 475.9l-0.1 0.2M525.7 420.3l-0.3 0.4M478.5 499.4l0.2 0.3M474.5 403.9l-0 0M450.4 479.2l-0.1 0.1M480.5 496.9l-0.4 0.2M507.9 497.2l-0.1 0.4M482.3 455.7l-0.1 0.1M521.3 416.6l0 0M535.7 453.1l-0.1 0.3M516.4 454.4l0.2 0.2M489.2 491.7l0.3 0.5" stroke="#cfc060" stroke-width="1.3" stroke-linecap="round" fill="none" stroke-opacity="0.9"/>
<path d="M498.2 442.6l-0.7 0.5M465 422.7l0.7 0.5M498.8 410.5l-0.6 1.7M493.9 460.6l0.1 1.1M463.6 474.3l-1.7 0.1M501.7 478.3l0.4 1M522.9 472.7l-0.9 0.1M495.6 504.1l0.6 1.6M441 458.2l-0.7 1.8M488.8 475.3l-0.7 1.6M515.2 454.6l-0.4 0.6M487.9 501.2l1.3 0.7M479.9 409.8l1.9 1.2M458.4 449.7l2.4 0.7M439.7 502l0.4 2.3M491.5 409.6l0.2 1.2M452 452.2l-0.2 1.4M507.4 427.7l-0.7 2.3M501.5 489.5l-0.3 0.5M471.9 409.1l0.2 0.9M507.7 421.7l0.1 1.7M530.9 417.9l-0.4 2.4M468.1 472l-0.7 1.2M537.2 421l0.4 2.2M505 450.4l-0.3 1.6M523.8 401.5l2.5 0.1M532.5 422.3l0.5 0.3M535.4 393.3l0.8 0M475 446.8l-1.1 2.2M506.5 494.4l1.3 1.3" stroke="#8c7a4a" stroke-width="0.9" stroke-linecap="round" fill="none" stroke-opacity="0.6"/>
<path d="M450.7 459.5l0.1 1.7M521.6 443.6l-0.2 0.6M536.3 452.4l-0.6 0.8M532.1 422.5l-1.4 0M544.9 441.7l0.9 0.5M533.8 436.2l0.2 0.1M487.7 492.6l0.2 1.4M525 395.6l0.2 1.2M478.3 475.1l1 1M450.8 405.6l0.8 0.6M478.9 503.5l-0.7 0.5M490.7 478.3l0.3 0.9M526.3 412l0.7 1.1M477.6 492.9l1.4 0M449.7 458.9l1 1M456.3 466.8l-0.5 0.7M459.2 452.1l0 0.4M530.3 479.1l-0.7 0.7M533.3 436.3l0.5 0.2M553.3 419.5l0.8 0M514.7 396.2l1.4 0.3M538.5 415.4l-0 0.6M507.9 450.7l0.5 0.1M525.4 438.8l-0.4 0.9M477.5 482l-0.2 1.5M551.6 485l-0.8 1.2M484.8 490.7l0.9 0.9M449.9 416.6l0.6 0.6M530.6 410.8l0.4 0.6M441.5 462.6l-1 0.9M521.8 501.4l0.2 0.9M455.1 431.2l-0.2 0.9M483.6 488.3l0 0.6M454.7 493.6l-1.4 1.1M552.4 446.1l0.2 0.2M515.9 484.6l1.3 0.8M493.9 491.3l-0.8 0.5M533.9 434.5l0.6 0.1M469.2 482l-0.9 0.2M503.9 490.2l0.3 0.4M461.6 477.6l1.3 0.2M492.4 414.4l-0.6 1.3M502 420l0.1 0.9M450.5 457.6l0.6 0.2M523.2 438l-0.8 0.3M457.8 414.7l0.8 1.5M466.9 499.1l1.1 0.7M456.8 434.8l0.4 0.7M462.3 464l-0.3 0.2M453.3 453.3l-1.6 0.7M535 494.8l0.5 1.6M494.5 490.3l-0.3 0.7M536.2 435.9l0 0.9M511.2 407.8l0.9 0.9M442.3 428.2l0.6 0.7M543.2 438.2l-0.1 0.6M465.3 418.4l-0.5 0.6M449.9 451.2l0.3 0.1M534.4 451.6l0.6 0.2M522.8 438l0.4 0.1M448.1 406.9l0.6 0.8M496.8 450.5l0.8 0.1M483.5 484.9l0.1 0.4M487.2 489.8l-1.7 0.3M501.2 474.2l0.1 1.2M530.6 428.7l1.3 0.2M546.4 459.7l0.6 0.8M498.5 424l0.8 0M556 451.4l-0.2 1.6M500.6 468.4l0.1 0.4M450.7 424.8l-0.3 0.7M527.6 443.2l1 0.2M535 432.8l-1 0M460.3 407.8l0.6 1.6M456.2 457.9l0.6 0.7M482.2 474.1l-0.6 0.8M526.2 411.2l0 1.2M478.6 489.8l-0.4 0.3M500 489.8l-0.7 1.4M540.9 439.1l0.1 1M535.5 452.3l0.5 0.1M458.4 414.9l0.4 1.7M471 455.5l-0.7 0.7M474.2 398.9l-1 1M473 427l-0.4 0.3M459.5 417.4l-0.5 0.6M544.1 446.1l-0.6 1.4M549.3 457l-0.9 1.3M536.1 439.9l0.3 0.4M443.1 409.3l-1 0.9M550 456.5l-1.7 0.5M500.8 493.3l-1.1 0.6M496.4 501.9l0.2 0.9M464.7 410.6l1.1 1.3M539.3 430.3l-0.1 0.2" stroke="#4e4890" stroke-width="2.0" stroke-linecap="round" fill="none" stroke-opacity="0.88"/>
</g>
<rect x="442.2" y="394.6" width="107.4" height="106.0" fill="none" stroke="#44dd55" stroke-width="1.2"/>
<rect x="439.8" y="391.8" width="112.6" height="112.0" fill="none" stroke="#484848" stroke-width="1.7"/>
<clipPath id="c12"><rect x="439.0" y="508.6" width="114.2" height="113.6"/></clipPath><g clip-path="url(#c12)">
<rect x="439.00" y="508.60" width="114.20" height="113.60" fill="#c3cbe0"/>
<path d="M514.1 584.3l0.4 0M470.3 600.7l-0.5 1.6M514.5 525.1l1 0.5M445.7 601.6l-0.1 0.2M485.2 604.3l0 0M497.1 518.9l-2.4 0.4M487.3 523.9l-0.3 0.7M518.6 514.4l-0.4 0.2M486.8 576.3l0.4 1.1M521.9 618.5l-1.2 2.1M480.5 587l1.6 0.6M480.5 566.7l0 2M532.9 557.5l1 0.8M483.3 596.3l-0 0.3M518.5 512.8l0.3 0.6M444.9 560.8l0.3 0.4M548.5 563.2l2.1 1.2M480.6 530.1l-1.8 0.5M469.6 596.1l0.6 0.6M443.6 578.9l-2.5 0M441.7 545.2l-1.7 1M465.2 568.5l-0.5 1.1M547.1 610.2l0.2 0.3M470.8 615.8l-0.7 1.1M463.4 541l-0.3 0.5M454 609.3l0.8 0.7M550.9 572.2l-1.5 0.4M525.8 556l-1.4 0.5M505.3 548.1l-0.6 0.7M441 589.3l-1.8 1.3M543 569.4l0.7 1.8M479.3 544.1l-1.3 1.9M510 522.8l-0.8 1.1M467.1 554.8l-0.4 0.7M449.3 544.1l-1.3 1.2M545.7 550.1l0 0.1M459.5 584.4l0.6 0.6M546.8 509.5l0.6 0.7M488.4 533.6l-0 2.3M457.5 561.4l-1.3 0.7M491.5 605.7l1.6 1.4M525.9 553.5l-0.8 1.5M502.3 585.9l-0.6 0.7M496.1 549.6l0.7 0.3M501.2 537.2l-0.1 0.1M545.9 576.6l-0.9 0.4M475.7 522.9l-1.4 0.8M528.6 555.5l1 1.1M482.4 552.3l-0.8 0.6M462.4 537.5l-0.2 2.4M534.4 607.8l0.9 1.9M473.9 524.2l-1.9 1.1M539.5 511.4l0.8 0M457.6 589.9l0.6 0.4M474.6 606.5l1.4 0.5M500.2 559.5l-0.6 1.2M496.7 580.8l-0.5 1.1M486.4 567.3l1.1 1.4M495.1 605.8l-1.7 0.2M487.7 554.7l-1.1 1.1M453.8 515.7l0.3 0.1M440 536.9l-0.2 0.2M549.3 617.7l-1.8 0.3M465 613.8l0.9 0.7M487.4 570.3l0.6 0.5M508.3 616.8l-1.8 1.7M480.4 542.5l-0.7 2.2M440.4 534.6l-0.8 0.9M525.5 547.2l-0.9 0.4M494.4 530.7l-0.2 1.6M465.3 552.4l1.4 0.6M547.8 593.2l0.2 0.6M523.2 580.4l-0.1 0.4M504.9 551.6l0.3 0.7M476.7 565.7l1 0.6M462.4 545.2l0.4 0.8M472.9 546.4l0.5 1.6M512.9 517l1.6 0.5M531.5 621l1.4 0.9M471.3 604.2l0.5 0.3M511.8 575.6l-1.2 0.2M546 553.1l0.5 1.1M524.8 535.8l-0.9 1M514.6 578.6l0.8 1.6M441.8 609.7l0.7 1.9M542.1 525.8l0.5 2M468.6 555.6l0.1 0M474.1 526.6l-0.3 0.2M495 576.9l2.1 1M537.3 611.9l-0.2 2.3M460.5 612l-0.3 1.9M468.8 569.2l2.1 0.8M460.2 603.8l-0.9 1.9M441.5 564.7l0.3 0.9M544.1 567.9l-1.2 0.7M501.8 570.4l0.8 1.9M441.8 599l-0.5 1.2M464.1 554.9l-1.4 1.4M527.7 585.5l-1 1.9M471.8 517.9l0.3 0M455.1 577.1l-0.3 0M459.2 602.5l-2.1 0.2M485 583.7l-0.2 0.7M524.8 602.2l1.2 1.5M488.5 527.8l-0 0M449.7 564.3l0.5 0.9M500.5 568.8l-2.4 0.7M538.6 544.4l2.3 0.4M545.4 583.7l1.4 1.1M548.6 516.1l0.1 0.4M516.6 622l0.4 1.9M475.2 514.5l-2.2 0.9M493.8 531.7l0.5 0.1M493.7 610.4l-0.1 2.3M492.4 596.8l-1.8 0.1M516.4 575.7l0 0.4M456.6 531.5l0.9 0.5M476.5 620.8l-0.1 1.7M483.7 531.4l-2.3 0.6M513.2 525l1.2 0.7M506 527.9l-0.4 0.4M540.6 526.7l-0.2 0M518.2 571.8l-0.4 0M542.8 525.2l-0.1 0.7M537.2 538.2l0.2 0.1M547.2 608.4l0.4 1.6M534 522.9l0.1 0.5M459.9 515.7l2.3 0.1M455.1 542.6l0.1 0.5M534.9 569.5l0.2 0.1M529.7 612.6l0 0.1M456.2 517.7l-0.6 0.2M521.4 522.1l1.4 0.8M523.8 608.4l-1.1 0.1M547.4 612.4l2.4 0.8M518.5 609.2l-0.5 0.4M439.5 518.3l0 0M516.6 606.7l0.8 2.2M513.7 587.2l-0.2 0.1M489.9 586.7l-1.6 1M473 591.3l-0.1 0M483.8 544.1l1.5 0.9M446.6 523.5l-1.6 0.1M491.8 549l0.4 0.7M487.4 538.9l0.1 0.1M521 620.3l-1.4 1.5M451.4 620.4l-1.1 1.3M529.4 569.4l0.2 0.1M510.1 518.9l-0.1 0.1M493.6 524.2l0 0.4M460.2 525.7l1 0.4M493.1 514.4l-1.4 1.2M547.7 527.4l0.3 1M537.2 513.2l-1.3 2.1M445.9 610.1l-1.8 1.5M513 563.3l-0.5 2.1M485.3 580l-1.4 0.3M476.7 590.4l0 0.6M522 516.8l0.3 0.2M458.5 572.2l0.5 2.1" stroke="#aab4cf" stroke-width="3.0" stroke-linecap="round" fill="none" stroke-opacity="0.5"/>
<path d="M507.2 555.3l0.5 -1.2M478.4 620.5l1.1 -1M551.4 511l1 -2.6M529.1 537.7l1.4 -1.6M510.6 560.5l1.5 -1.3M512 588.7l1.7 -2M455.6 530.8l0.8 -2.5M453.1 552.2l0.5 -1.8M530.2 552.2l0.2 -0.5M450.9 584.7l0.9 -1.7M517.3 532.2l0.6 -0.4M494.8 560.3l1.9 -1.3M510.5 570l0.2 -0.2M525.3 551.3l0.2 -0.3M495.7 584.5l0.1 -0.2M494.3 522.1l1.4 -2.4M466.4 565.6l1.5 -1.1M549.8 605.8l1.1 -1.1M456 509.8l2.4 -1.6M507.7 562.8l0.7 -1.9M459 575.7l1.5 -1.1M459.4 601.2l0.7 -0.8M550.6 520.4l0.7 -1.2M484.4 612l1.4 -2M516.6 521.9l0.3 -0.8M484.2 542.8l1.9 -1.1M518 534.6l1.8 -1.5M505.6 522.5l0.9 -2.4M548.5 539.1l1 -1M476 555.9l2 -1.8M516.6 605.4l1.5 -1M472.1 607l0.3 -0.7M539.7 602.1l0.5 -0.4M510 509.8l1.3 -1.1M510.7 522l1.1 -0.9M523.9 576.6l1.8 -1.6M532.5 601.4l1 -0.8M504.8 545.5l0.7 -1.2M509 578.3l0.9 -1.3M512.9 559.3l0.6 -0.8M513 597.5l0.4 -1M509.8 544.8l0.2 -0.2M541.6 590l0.5 -0.7M464.6 572l1.5 -2.2M468.2 520.3l1.4 -2.1M489.7 578.1l0.2 -0.6M514.1 572.3l0.4 -0.3M500.9 609.2l0.2 -0.3M511.9 534.2l0.3 -0.6M473.3 613.9l2 -1.7M533.2 573.8l2 -1.2M526 611.3l0.6 -1M541.3 532.1l0 -0M517 611.5l0.7 -1.9M538.5 600.3l2.2 -1.6M526.6 511.2l0.8 -2.9M504 566.6l0.6 -0.8M514.6 512l0.7 -0.7M441.3 560.8l1.8 -2.1M482.7 620l1.3 -1M531.9 553.2l2.4 -1.4M542.6 550l0.8 -0.6M506.5 572.2l0 -0M499.1 534l0.7 -1.7M526.9 574.4l0.3 -0.2M486.1 589.7l1.2 -1.2M450 566.3l0.5 -0.6M510.9 599.5l0.9 -1.2M458.2 612.3l0.7 -0.9M534.2 621.9l1.4 -1.6M527.8 579.1l0 -0M480 602.9l1.8 -1.2M514.6 572.3l0.5 -0.9M534.5 539.9l0.5 -0.9M495.5 607l0.1 -0.2M529.6 515.9l1.2 -0.6M475.3 593.1l0.3 -0.9M453.3 621.3l1.1 -0.8M541.8 593.4l0.1 -0.5M508.2 521.1l0.1 -0.2M474.1 580.2l0.5 -0.4M480.7 554.5l0.8 -2.4M449.8 618.9l1.3 -1.1M515.6 586.6l0.2 -0.4M464 536.2l0.1 -0.1M443.3 606.5l0.2 -0.3M467.9 545.4l1.2 -0.9M465.6 619.5l0.3 -0.7M544.7 532.9l1.3 -0.9M477.9 509.1l0.3 -0.3M537.5 559.2l0.4 -0.7M493.8 587.2l0.4 -0.4M518.6 544.7l0.7 -1.8M531.4 588.9l1.2 -1.4M534.6 567.1l1.9 -1.6M532.1 548.3l1.5 -1.1M510 531.3l0.4 -0.3M455.7 574.3l1 -0.8M497.4 617.2l0.3 -0.4M453.8 525l0.6 -0.7M511.5 551.1l0.7 -0.5M489.8 538.1l1.1 -1.1M514.6 508.7l0.4 -0.2M497.7 521.6l1.9 -1.4M470 516.9l0.6 -0.7M440 519.7l0.6 -0.4M537.4 564.6l0.9 -0.6M512.8 588.2l1.8 -2.2M522.8 614.3l0.4 -0.6M530.4 514.5l1.1 -2.2M444.5 561l0.6 -1.2M460.2 614.1l1.5 -2.6M447 569.4l0.8 -0.7M468.4 526.9l2.3 -1.9M464.2 558.9l1.6 -1.6M479 600.7l0.1 -0.1M498 571.4l1.4 -2.4M521.5 592.5l0.1 -0.1M453.8 611.7l0.5 -0.6M451.8 541.7l1.3 -1.3M456.4 539.7l1.6 -1.9M491.7 556.3l0.1 -0.1M520.7 533.2l1.4 -1.3M482 609.7l0.5 -0.6M441.6 513.5l0.8 -0.5M494.3 525.3l0.6 -1.6M477.1 537.9l1.6 -1.8M470.8 553.2l0.2 -0.3M515.5 546.8l1.6 -1M499 526.3l0.1 -0.1M528.2 588.2l0.8 -2M440.1 512.2l0.5 -1.8M479.3 607.4l0.4 -1M456.6 619.9l2.4 -1.3M459.7 531.4l1.2 -1.7M462.9 573.2l1.2 -2.3M455.4 584.2l0.1 -0.1M461.5 568.8l1.9 -1.5M467.2 615.1l0.9 -0.9M470.1 540.5l0.7 -1.1M537.9 583.7l0.1 -0.1M551.4 530l1.6 -2.3M462.1 537.2l0.8 -1M502.2 557l0.5 -0.5M443.1 536l0.9 -0.9M540.5 517.6l0.8 -2.7M477.3 585.2l0.1 -0.2M543.9 515l0.2 -0.3M516.5 615.6l1 -1.6M446.3 516.3l2.1 -1.5M464.2 606.6l0.4 -0.6M441.8 548.8l0.4 -0.5M548.4 594.2l1.4 -2.1M522.4 611.3l0.9 -0.6M505.7 616.3l1.7 -1.4M481.5 572.3l1.1 -2.2M524.1 586.8l0.3 -0.7M461.1 572.4l0.5 -1.5M543.5 530.6l0.7 -0.4M457.3 550.1l0.8 -2.4M525.5 579.8l0.9 -0.9M494.3 539.2l1.5 -1.2M512.4 556.2l0.2 -0.4M533 572.2l1.1 -0.7M484.2 512.4l0.8 -1.6M450.3 599.4l1 -2.3M449.8 524.9l0.8 -1.5M481.2 595l1.9 -1.3M468.7 603.1l0.4 -1.1M466.2 580.6l0.5 -1.1M540.8 525.9l0.4 -0.5M548.9 558.2l0.1 -0.2M467.6 577.7l1.5 -2.2M548.3 564.7l0.9 -0.6M486.5 601.2l0.3 -0.7M476.9 605.8l0.2 -0.7M530.4 565.6l1.5 -2.4M459.8 594l1.2 -0.9M494.6 518.9l2.1 -1.4M499.7 597.4l0.3 -1M492.4 547.1l2.2 -1.4M523.8 622.1l1 -1.2M454.2 588.4l0.3 -0.5M447.8 612.7l1.8 -1.1M506.9 554.2l0.2 -0.2M475.5 541.4l1.5 -2.5M465.3 589l1.1 -2.2M507.4 584.3l0.4 -0.3M451 577l2 -1.8M536.7 584.6l2.4 -1.4M455.8 541.3l0.9 -1M540.7 581.5l2.4 -1.3M471.8 620.4l0.2 -0.3M515 560.6l2.3 -1.3M474.5 581.2l1.7 -2.4M552.1 573.5l0 -0M443.2 608.4l1.3 -1.9M464 514.2l0.1 -0.1M514.8 618.7l1.2 -0.8M521.5 532.4l1.7 -2M483.6 534.7l1.3 -1.7M470.8 551.7l0.3 -0.8M520.5 509l0.9 -1.9M531.4 541.9l0.8 -2.4M439.2 526.2l1.8 -1.1M464 577.3l0.9 -1.7M537.5 614.3l0.4 -1M461 514.3l1.2 -2.7M514 590.5l0.8 -1.8M480.9 531.9l1 -2.1M469 562.5l0.8 -2.1M496.4 605.1l0.7 -1.1M447.1 531.3l0.1 -0.3M458.6 613.1l0.1 -0.1M506.4 609.1l0.9 -1.4M507.3 589.8l1 -1.9M473.3 532.3l1.8 -1.3M505 569.8l0.6 -1.2M530.3 596l2.1 -1.3M528.3 584.5l0 -0.1M527.8 512.2l1.2 -1.8M482 539.5l0.9 -1.8M531.7 553.7l0.9 -2.2M459 536.7l1.2 -0.9M538.8 546.9l0.2 -0.1M472.5 585.9l1.9 -2.3M465.5 516.1l0.5 -1M454 537.7l0.2 -0.8M479.8 589l1.6 -1.5M461.4 577.8l0.5 -0.9M539.9 605.2l1.9 -2M510.6 610.5l0.2 -0.5M484 620.3l0.8 -1.5M475.6 577.1l1.6 -1.5M485.7 528.8l0.1 -0.2M535.6 607.1l0.4 -0.4M481.7 610.9l1.2 -1.3M472 542.3l0.2 -0.3M446.3 565.7l0.3 -0.4M514.1 562.5l1.2 -2.3M505.1 544.3l2 -2M508 587.6l0.5 -0.6M514.9 559.4l1.9 -2M451.1 620.5l1.1 -2.1M518 547.3l0.3 -0.8M478.4 539.8l0.5 -0.3M483.4 521.2l0.4 -1.2M536.9 575.6l1.2 -1.4M457.1 513.3l0.7 -1.5M536.7 578.4l1.1 -2M526.9 529.7l0.7 -0.4M528.7 602.1l0.1 -0.3M543.1 610.5l0.2 -0.3M492.8 601.8l0.6 -1.2M528 567.3l0 -0.1M490.7 525.1l0.5 -1.1M523.6 513.3l0.7 -2M504.1 594.8l1 -0.9M514.6 539.3l0.3 -0.3M509.1 534.3l0.3 -0.6M482.8 544l1.1 -1.5M448.8 580.3l0.3 -0.3M483.8 544.7l1 -2.4M475.6 532.8l1.2 -0.8M459.5 615l0.5 -0.4M547.4 617.1l1.4 -1.3M540.4 545.1l1.6 -1.8M481.2 577.2l0.6 -1.2M465.8 559.6l1.9 -1.7M548.4 519l0.2 -0.6M473.6 517.3l0.7 -0.7M441.6 549.3l1.5 -1.2M545.8 569.6l0.4 -0.6M511.1 572.9l1.3 -2M504.7 526.4l1.9 -1.5M515.4 548.5l0.1 -0.5M478 602.8l1.5 -0.9M471.2 557.6l1.2 -2.3M461.5 587.8l2.4 -1.6M469.6 614.6l0.5 -0.9M543.3 545.8l1.1 -2.2M545 562.3l1.7 -1.2M511.3 542.8l0.1 -0.2M451.7 557l1 -1.6M462.3 596l0.9 -1.9M439.9 582.2l0.5 -0.3M508.8 555.1l1 -0.7M518.3 606l2 -1.7M543.7 559.7l0.1 -0.4M515.1 568.5l0.6 -1.4M470.2 515.2l0.6 -1.3M488.6 554.6l0.5 -0.4M508.7 613.5l0.8 -2.6M551.5 539.4l1.4 -1.6M497.1 608.1l0.4 -1.3M483.4 516l0.4 -0.8M540.9 569.8l1.5 -2.3M516.9 619l1 -1.8M530.1 597.8l0.6 -0.4M532.1 616.5l1 -2.3M450.9 533.2l0.1 -0.3M521.4 617.8l1.8 -1.3M495.3 559l0.1 -0.1M540.6 538.4l1 -1M488.9 621.9l0.9 -2.2M523.4 541.8l0.2 -0.3M488.3 583.3l0.2 -0.2M530.3 589.6l0.3 -0.5M551.4 605.5l0.7 -1.5M544.8 618.2l1.2 -2.4M519.3 599.5l0.4 -0.2M516.7 585.9l0.9 -1.5M521.7 588.3l1.4 -1.1M527.1 588.9l1.6 -2.3M463.8 567.4l1.3 -0.8M475.7 527.6l0.8 -1.2M482.7 579.2l0.7 -1.9M523.2 560.1l1 -2.2M521.7 579.6l1.1 -2.6M552 524.8l0.6 -0.5M523.8 508.7l0.2 -0.2M524.5 583.8l0.5 -1.6M451.3 558.1l0.4 -0.8M547 537l0.9 -2.3M486.2 554.4l0.4 -0.3M484.9 546.2l0.7 -1.4M531.2 580.1l1.8 -1.5M547.5 571.4l0 -0M444 586.2l0.5 -1M523 601.6l1.7 -2.2M520.5 554.1l1.2 -1.4M511 588.9l1.9 -2.1M506.9 619.9l0.3 -1M532.9 618l0.5 -1.3M494.9 594.3l1.5 -1.1M475.6 549.2l0.2 -0.1M483.3 615.5l1.8 -1.5M518.1 571.4l0.4 -0.6M510.2 536.8l1.4 -2.2M492.5 620.3l1 -1.6M445.6 521.3l1.8 -1.9M441.9 555.5l0.6 -0.5M466.3 620.9l0 -0.1M541 545.6l0.4 -0.8M513.1 558.1l0 -0M473.1 587l1.7 -2.4M441.6 539.1l0.2 -0.1M472.2 533l0.6 -2.1M448.6 614.4l1.1 -1.5M440.4 555.4l1.6 -1.5M468.6 595.2l1.5 -1.2M541.8 530l1.6 -1.3M493.4 569.9l0.2 -0.2M538.2 548.4l1.5 -2.2M532.3 556.9l1.3 -1.5M440.4 524.7l2.4 -1.8M514.5 621.5l0.9 -2.1M544.8 616.1l1.6 -1M442.5 532.1l2.5 -1.4M445.2 596.9l1.2 -0.7M451.7 569.6l0.4 -1.5M487.2 554.5l0.9 -0.7M461.8 604.4l1.1 -1.3M466.3 608.5l1.6 -1.9M464.3 599.2l1.9 -1.2M457.1 590.4l1.9 -1.7M529.9 579l0.1 -0.3M534.4 542.9l0.9 -1.4M480.3 543.5l0.8 -1.4M546.3 551l0.5 -0.4M532 511.5l1.6 -1.7M444.2 519.8l2 -1.6M508.8 603.5l1 -0.9M451.3 619.2l0.5 -1.6M448.7 588.2l0.1 -0.2M550.2 543.2l0.5 -0.6M550.6 574.4l0.2 -0.1M488.7 546.2l1.4 -2M439.4 538.7l0.9 -2.8M510.8 572.4l0.2 -0.6" stroke="#e2e6ef" stroke-width="2.6" stroke-linecap="round" fill="none" stroke-opacity="0.65"/>
<path d="M496.6 615l1.1 -0.8M536 558.3l1.4 -1.8M520.1 523.8l3 -2.9M529.1 513.2l0.7 -1.3M487.1 584.6l2.6 -3.8M476.2 594.6l1.9 -1.1M449.4 541.4l0.3 -0.6M527.5 519.2l0.7 -1.1M489.4 609.3l0.7 -0.9M471.8 534.8l1.9 -3.9M443.9 528.2l1.6 -3.1M439 585.4l0.6 -1.3M529.9 523.2l4 -2.5M501.4 518.8l2.4 -1.5M524.9 594.9l0.5 -0.4M446.3 532.1l2.6 -2.4M475.9 514.8l2.2 -3.2M501.1 538.6l1.9 -3.2M470.1 571.3l1.2 -0.8M501.7 529l4 -2.6M503 610.1l0.9 -2.8M539.5 530l0.5 -1M502.3 535.9l3.1 -2.3M546.4 541.5l1.8 -2.7M454.6 618.5l2.1 -4M465 600l0.9 -2.3M511.5 613.4l1.7 -3.6M509.9 533.8l1 -1.2M443.6 529.5l2.4 -3.4M478.8 596.6l3.4 -2.2M507 586.5l1.3 -1.1M482.5 556.9l1.6 -2M527.8 603.2l2.7 -3M466.4 529.7l3.4 -2.9M500.7 508.2l1.3 -2.3M503.5 525.1l1.2 -4M524.9 607.1l2.3 -3M536.1 608.1l0.9 -1M453.5 585.7l1.2 -2.6M490.4 537.7l4 -2.3M530.5 620.9l0.5 -1.3M532.9 610l1.1 -1.8M452.6 575.8l0.6 -1.9M506.8 584l1.1 -3.1M504.8 609.6l2.5 -2.2M491.3 524.1l2.8 -2.3M515 518.1l1.3 -2.8M482 597.7l1.6 -3M513.7 495.8l4.2 -2.3M508 530.3l0.9 -1M495.7 605l0.8 -2.5M508.8 600.6l2.4 -1.8M488.8 534.8l1.6 -2.5M500.8 520.6l0.6 -1.6M503.6 620.8l3.8 -2.4M551 546.7l2.7 -4.1M521.1 523.1l0.6 -0.7M511.2 533.8l0.6 -0.6M513.7 591.3l1.4 -1.8M497.3 519.3l2.7 -3.1M499.8 595.5l1.1 -0.8M488.7 536.6l1.7 -1.9M504.3 607.4l1.1 -3.7M478.1 519.4l0.4 -0.4M524.6 603.7l2.2 -3.6M473.4 591.4l2.1 -1.5M495.6 517.4l0.4 -1.3M493.7 614l3.1 -2.2M505.3 628.5l3.4 -2.6M465.5 592.6l0.7 -2.7M422.6 519.7l0.7 -1.5M525.5 517.4l1.2 -1.4M495.7 563.5l1.7 -1.4M470.4 615l0.8 -1.9M443.3 581.9l1.1 -3.7M481.4 530.3l3.1 -1.9M481 602.9l0.6 -0.8M465.6 515.3l0.9 -2.6M522.9 538.8l2.5 -3.6M538.3 516.2l4.1 -2.3M497.2 517.4l1.4 -3.3M479.4 526l3 -2.6M460.3 536.8l0.3 -0.8M564.9 528.9l2.3 -1.5M511.9 549.2l0.9 -1.3M469.7 599.1l2.5 -2.9M538.2 610.6l1.1 -1.1M529.9 588.3l1.6 -3.2M501.1 596.2l2.6 -2.9M470 591l0.8 -2.7M483.6 527.9l2.1 -3.2M507.3 591.6l2.4 -2.1M457.8 614.1l2 -2.4M513.3 602.5l2 -4.6M480.6 532.7l2.7 -2.4M482.3 529.3l2.2 -2M494 604.4l2.8 -1.9M500.5 537.6l1.4 -2.5M484 551.1l1 -0.9M446.2 519l2.9 -3.8M511.5 607.1l1.9 -1.5M513.1 571.5l3.3 -3.2M512.8 597.2l1.2 -3.4M516.8 597.3l1.8 -3.9M472.2 526.7l1.6 -1.5M529.7 536.9l1 -1.3M450.6 589.7l1.2 -0.9M465.2 599.7l3.1 -3M493.7 505.1l2.4 -2M531 526.2l1.8 -1.4M533.5 508.8l2.9 -3.6M488.1 525.8l3.4 -2.6M455.8 522l1.8 -2.8M535 526l1.9 -2.5M523 515.4l1.3 -2M497.7 616.3l3.3 -3.5M442.4 536.5l0.7 -0.6M487.3 521.9l2.5 -3.6M498.7 615.8l4.1 -2.8M507 612l2.3 -3.3M517 609.9l1.6 -1.8M483.2 590.1l2 -1.5M472.5 593.5l3.6 -3.1M455.8 526.7l0.4 -0.5M488.9 526.1l2.6 -1.5M463.2 612.3l0.3 -0.5M460.5 612.5l2.1 -3.3M559.8 530.8l1 -1.9M524.4 537.6l2 -2.5M488.5 607.7l1.4 -2.4M486.5 608.1l1.4 -1.3M520.2 604.5l1.5 -1.5M525.4 514.2l2.5 -1.4M475 565.1l2.2 -1.8M506.9 621.3l3.4 -2M494.7 526.2l2.8 -3.6M479 529.9l0.7 -1.7M551.9 508.7l0.6 -1.1M531.8 554.5l2.3 -2.4M451 583.1l0.3 -0.6M481 508.1l0.8 -1.6M491 589.6l0.9 -0.5M482.3 606.4l0.3 -0.9M533.6 544.6l0.4 -0.8M508.2 509.7l1 -0.9M486.1 558.4l0.6 -0.4M450 502.4l1 -0.6M540.6 512.7l3.1 -2.4M540.5 590l2.2 -2.6M468.8 590.5l0.4 -0.8M511.1 596.3l1 -1.6M436 526.5l4 -2.8M447.9 548.4l1.4 -1.3M493.6 582.4l2.8 -3.4M481.7 604.5l0.8 -2.3M476.1 509.5l3.2 -3.3M513.3 615.9l3.1 -3.4M524.8 573.6l1.2 -2.4M441 603.1l1 -0.6M456.3 516.5l0.5 -0.3M518.7 511.8l2.1 -2M506.8 609.5l1.3 -2.1M483.9 606.6l1.3 -3.4M537 594.6l1.2 -0.6M503.5 620.5l0.5 -1.1M545.6 575.5l0.7 -1M517.1 600l2.3 -1.3M485.2 601.3l1.6 -1.2M414.9 548.3l2.6 -3M521.6 541.3l1.3 -0.9M509.9 596.5l0.7 -1.4M526.9 526.8l2 -3.4M481.1 606.9l1.6 -1.2M499.2 517.2l1.4 -1.9M542 525.7l2.4 -3.2M518.8 533.5l1.1 -2.8M541.5 604.5l1.5 -2.5M490.9 518.5l2.9 -1.8M488 559.5l1.5 -3M458.5 504.1l0.9 -0.9M493.6 539.3l1.4 -1.8M539.1 529.6l1.9 -3.9M508.3 609.7l1.8 -2.5M492.1 584.6l1.2 -0.7M528.2 596.2l0.7 -0.4M476.6 524.4l3.3 -3M550.8 607.2l0.4 -1M550.3 514.5l1 -1M552.2 521.1l2 -3.9M459.4 508.2l1.6 -4.6M448.9 529.2l2.5 -1.4M502.7 588.2l3.6 -3M453.8 607l2.2 -3.5M480.9 530.9l2 -1.9M508.6 530.9l2.1 -1.7M494.6 610.3l1.8 -1.2M529.5 542.1l1 -3M457.6 597.3l3.7 -2.8M464.5 549l3.6 -3M493.1 525.2l0.8 -2M527.4 527.6l0.6 -1.5M465.6 564.4l1.8 -3.8M488.4 607.6l0.8 -1.5M535.2 617.6l2.1 -2.3M469.5 598.8l0.6 -1.1M451.6 520.2l1 -0.6M500.7 592.5l2.1 -3.9M464.7 606.8l3.1 -2.2M509.1 592.8l0.2 -0.5M547.3 593.2l3.1 -2.8M478 593.8l0.9 -0.5M545.3 533.6l0.4 -0.4M502 548.1l3 -2.9M519.5 526.4l2.9 -4M503.8 509.6l0.7 -2.1M482.3 609.6l1.6 -1.1M517.6 600.6l3.3 -3.5M488.3 616.1l0.9 -0.9M458.7 602.9l2.2 -3M450 625.3l2.7 -3.1M473.5 553.8l1.1 -1.6M474.5 500.1l0.5 -1.8M513.1 599.7l1.5 -0.9M467.1 506.5l2.2 -1.5M501.6 513.4l2.4 -4.2M500.8 517.4l2.9 -3.1M459.3 523.9l3.2 -2.5M486.6 568.2l1.7 -4.3M495.6 501.6l2.3 -1.8M544.4 557.8l0.7 -2.2M492.8 596.5l0.4 -1.2M482.2 522.7l0.2 -0.5M530.8 520.9l1.4 -2.5M497.5 615.6l1.8 -1M490.8 571l1.4 -1M499.1 613l1.7 -1.7M488.3 517.6l1.1 -1.6M490.2 545.8l3.4 -1.9M451.2 594.6l2.6 -2.6M486.8 526.6l1.4 -3.7M508.8 537.6l1.4 -1.9M505.7 509.9l1.2 -2.1M498.1 618.7l1.1 -2.2M485.8 601.8l1.8 -3.6M494.8 521l0.7 -0.4M482.3 535l0.8 -0.6M464.6 518l1.2 -4.1M521.2 549.3l3.2 -2.5M531.9 520.4l2.8 -3.9M479.6 549.2l3.3 -3.2M475.4 604.6l0.9 -1.1M456.8 511.5l2.2 -1.6M481.2 608.2l0.7 -1.3M498.2 524.8l0.4 -0.3M473 524.7l1.3 -2.7M526.8 514.4l0.9 -1.4M546 511.4l1.4 -1.9M497.1 520.2l0.4 -0.9M509.7 557.3l2.1 -1.2M508.4 513.8l1.3 -0.8" stroke="#f6f5f2" stroke-width="2.2" stroke-linecap="round" fill="none" stroke-opacity="0.8"/>
<path d="M460.8 586.4l0.1 0.1M497.2 608.4l0.2 0.1M526.6 539.2l-0 0M496.6 603.9l0 0M473.4 509.1l-0.4 0.1M515.9 513.4l0.3 0.2M501.1 535.3l0.2 0.3M498.5 617.8l0.1 0.1M479.1 583.3l-0.4 0M498.5 620.5l0.2 0.2M533.6 553.6l-0.1 0.1M479.3 532.1l0.1 0.2M482.9 614.2l0.1 0.1M449.6 602.2l0.2 0.3M441.4 620.8l-0.1 0.1M498.1 618.3l-0.1 0.3M477.8 590l-0.2 0.3M473.2 555.2l-0 0.1M523.1 533.2l-0.3 0M489.3 620.2l0.1 0.1M535.3 556.6l-0.1 0.2M453.2 583l-0 0.3M475.9 548.3l-0 0.1M440.9 610.8l0.1 0M483.5 586.2l-0 0.1M490.1 576l-0.1 0M546.3 581.1l0.2 0.1M538.4 604.4l-0.2 0.2M464.1 606.6l-0 0M441.2 596l-0.1 0.1M525.8 591.9l-0 0M545.4 586.6l-0 0.1M508.8 558.4l0.1 0.3M524.1 621.8l-0.1 0M480.1 570.8l0 0M466.7 600.4l-0.1 0.3M534.9 583.5l-0.1 0.1M482.3 611.6l0.2 0.1M454.7 619.3l0.1 0M530 549.9l-0.2 0.2M502.6 590.6l-0 0M551.6 526.5l0.3 0.2M447.4 577.9l0 0M452 585.4l-0.3 0M530.4 598l-0.1 0.2M451.9 519.5l0 0M471.9 548.4l0 0.1M506.1 593.9l0.1 0.3M451.7 524.5l0.1 0.1M496.3 524.5l0.2 0.1M443.9 509.1l0.1 0M472.3 613.8l0 0.2M511.5 516.8l0 0.3M478.5 615.1l-0 0.2M449.9 535.6l-0 0.4M509.9 526.6l-0.1 0.1M523 547.1l-0.1 0.3M538.9 547.1l0.1 0.3M530.8 593.4l0 0.2M479.6 541.6l-0 0M552.1 564.6l-0.1 0M454.4 603.9l0.2 0.3M480.8 545.8l0.2 0.1M452.8 591.5l0.3 0.2M478.5 617.9l0.1 0.1M498.1 541.6l0.1 0.1M547.4 536.9l-0.1 0.2M547.1 584l-0.1 0M514.9 529.3l0 0.1M446.2 598l-0 0M519.2 577.1l-0.3 0M502.9 517.6l-0.2 0M458.4 564.2l-0.2 0.2M543 583.8l0 0.3M469 597.5l0.3 0.2M489.6 593.7l-0.1 0.4M461.5 585.2l0.1 0M495.2 551l-0.2 0.1M485.6 567.8l-0.3 0.1M483.1 597.1l-0.1 0.2M469.4 548.8l0 0M503.5 524.9l0.3 0.1M492 567.3l0.2 0.1M552.3 560.5l-0.3 0M474 549.3l-0.1 0.3M517.7 560.7l0.2 0.1M448.4 541l0 0M492.8 537.7l0.2 0M483.9 553.3l-0 0.3M553.1 544.5l-0.1 0.2M482.4 550.8l0 0M525.6 615.4l0.3 0.3M493.1 559l-0 0.3M533.1 593l-0.1 0.2M551 605.8l0.1 0M509.1 514.9l0.1 0.3M475.7 534.9l-0.2 0.3M518.5 566.2l-0 0.2M468.7 612.8l0 0M443.2 558.3l0.1 0" stroke="#e6cc50" stroke-width="1.5" stroke-linecap="round" fill="none" stroke-opacity="0.9"/>
<path d="M541.3 594.1l1 -1.1M453.9 605.9l0.4 -1.1M533.1 589.4l0.9 -0.6M504.9 561.8l0.3 -1M473.2 589.7l0.7 -0.5M514.8 532.1l2.1 -1.5M548.7 540.2l1.8 -2M480.3 542.2l0.4 -0.3M476.3 540.7l0.9 -1.5M520.6 608.4l1.2 -2.2M488 572.9l0.3 -0.7M488.2 572.4l0.9 -0.9M551.6 569.3l0.7 -2M530.7 551.1l1.7 -2.4M517.9 566.1l1.3 -2M495.3 558l0.4 -0.4M531.9 566.2l1.8 -2M504.8 513.2l0.7 -1.8M462.8 512.2l1.3 -2M441.7 588.8l1.4 -2M551.5 551.6l1.4 -1.2M546 588.6l1.1 -1.1M458.4 555.6l1.8 -1.5M498.4 594.7l0.3 -0.5M486.1 621.9l1.1 -1.2M527.4 540.1l1.8 -1.5M481.5 598.2l0.4 -1.3M477.1 514.6l1.6 -1.5M466.3 524.6l1.4 -1.7M482 614.3l0.7 -1.3M471.5 537.2l1.3 -0.8M449.2 524.5l1.2 -1M536.7 587.5l0.5 -0.9M487.2 539.7l1.6 -1.6M530.1 597.1l0.9 -1.3M500 560.2l0.9 -0.7M527.1 521.6l0.4 -0.5M525.3 512.1l0.9 -1.7M479.7 520.3l1.4 -2.1M515.4 616.2l1.3 -1.2M490.8 521.6l1.1 -1.5M505.6 556.1l0.9 -2.6M522.8 516.5l1.9 -1.4M531.6 581.1l0.5 -0.7M517.3 532.6l1.1 -0.9M540.8 585.3l0.9 -0.9M546.8 561.4l1.1 -1.6M482.3 614.1l1.7 -1.1M490.3 621.6l1.1 -0.6M493.9 532.7l0.8 -1.1M505.9 584.4l1.5 -1.9M533.3 516l0.9 -2.2M496.7 574.9l0.3 -0.4M545.8 536.7l0.6 -1.8M500.9 591.1l1.2 -2.5M443.1 567.2l1.2 -1.2M476.8 589.8l1.4 -1.1M480.9 548.5l2.1 -1.3M505.3 551.2l0.8 -1.7M491.3 579.3l1.1 -1M474.7 603.6l1.5 -0.9M482.4 584.4l2.1 -1.2M482 571.5l2.2 -1.8M513.3 616.6l1.1 -1.9M493.9 585.3l0.9 -0.8M507.4 570.9l1 -1.1M533.4 575.7l1.9 -1.7M503.9 531.8l0.5 -0.3M516 589.2l0.6 -1.6M471.7 602.3l0.4 -1.4M445.2 535.9l0.6 -1.7M544.4 573.5l1 -1.6M511.8 532.9l1.4 -2.5M459 533.3l1.4 -1.9M478.7 536.1l2.2 -1.2M452.3 578.3l0.4 -0.8M518.8 509.7l1.3 -1.8M494.7 609.5l0.8 -1.3M551 597.8l1.3 -1M473.7 597.4l1.2 -1.8M535.6 545.4l1.6 -2.4M540.2 581.9l0.4 -0.9M439.5 551.9l1.7 -2M462.7 585.2l1.9 -2.2M508.5 582.8l1.4 -1.3M522.4 594.5l0.4 -0.6M525.3 569.1l0.6 -1M469.9 582.5l0.9 -1.1M540.9 595.2l0.7 -1.9M504.6 561l0.4 -0.5M530.3 614.2l2 -1.1M487.1 617.3l0.9 -0.5M517.8 577.9l0.3 -0.6M510.2 537.3l1 -1M509.4 573.7l0.3 -0.9M477.6 597.4l1 -2.2M525.8 531.2l2.1 -1.6M552.3 548.9l1.4 -1.3M449.2 606l0.7 -0.6M543.2 511.1l0.3 -0.5M471 596l0.9 -2.6M472.8 567.4l1.5 -1.6M446.1 537.6l0.6 -0.5M544.1 591l1.2 -0.9M470.7 565.3l1.1 -1.8M499.6 535.8l0.9 -0.9M520.8 565l1.5 -1.5M489.5 618.2l1 -1.4M516.6 568.8l0.6 -2.2M497.4 585.8l0.2 -0.6M535.2 598.5l1.2 -1.3M442.5 577l0.8 -0.5M448.5 534.3l1.5 -1.9M474.6 588l1 -1.2M446.5 556.1l0.8 -2.2M535.4 613l0.3 -0.7M454.8 561l1.3 -1.2M485.2 578l1.4 -1.3M469.6 541.3l0.7 -1.5M494.4 561.1l0.5 -1.6M506.5 603.1l1.1 -1.7M487.6 547.5l1.6 -1.9M542.1 526.5l1.9 -2.1M462.1 557.7l0.6 -1.4M540.9 549.9l1 -2M473.7 543.4l1.6 -1.2M485.1 582.4l0.3 -0.7M523.5 599.8l1.3 -1.9M493.4 521.9l1 -0.7M486.1 592.9l0.7 -0.5M537.2 593.8l1.1 -0.6M519.9 584.8l1.3 -1.7M510.7 586.7l2.1 -1.8M523.8 549.8l0.4 -0.4M458.8 527.4l0.5 -1M544.9 573.2l2.3 -1.9M449.4 618.2l1.6 -2.1M532.4 523.4l1.4 -2.1M488.7 566.8l1.2 -0.9M541.2 587.4l2.1 -1.8" stroke="#7a6a40" stroke-width="0.9" stroke-linecap="round" fill="none" stroke-opacity="0.6"/>
<path d="M460.9 581.6l1 -0.6M532.1 616.9l0.3 -1.4M480 584.9l1.4 -2.6M477.8 618.8l1.2 -0.9M466.5 541.6l0.4 -2.3M535 600.3l2.7 -1.4M443.3 566.2l0.5 -0.3M512.9 586.4l1.3 -0.7M460.3 592.6l0.9 -2.5M532 653.4l0.6 -2.5M533.8 568.1l2.3 -1.3M446.1 575.1l2 -1.4M556.1 638.9l1 -0.5M522.5 565.2l1.3 -2.4M535.5 587.2l1.3 -1.1M497.8 614.9l0.7 -1.6M483.1 612.3l0.4 -0.5M499 571.1l0.7 -0.7M460.5 524.9l0.3 -0.9M543.3 567.3l1.1 -1.6M484.6 556.2l0.7 -0.4M527.2 579.4l0.7 -1.8M512.4 613.8l0.5 -2.3M467 553.3l0.3 -0.7M436 596.6l0.5 -2.5M487.9 539.1l1.5 -1.2M525.5 628.8l2.1 -0.9M542.2 614.5l0.6 -1.1M532.9 573.2l0.5 -1.9M473 534.8l1.8 -0.8M445.8 572.8l0.6 -0.8M455.2 570.1l1.4 -1.3M452 593.7l1.1 -1.2M489 589.2l1.3 -1.7M502.6 615.7l0.4 -1.3M506.9 566.9l0.2 -0.6M527.3 608.6l0.5 -0.8M490.5 595.3l0.5 -2.1M514.9 528.6l1.1 -1.2M522.6 574.3l0.5 -0.9M524 552.8l0.9 -1.2M462.9 613.3l0.4 -1.2M493.3 606.4l0.7 -1.6M519 585l0.8 -0.8M528.3 598.6l1.4 -0.7M528.4 532.2l1.7 -1.2M465.9 584.1l0.8 -1.9M487.5 561.5l1.3 -1.4M526.5 579.7l0.3 -0.9M474 605.2l1.7 -1.4M511.3 578.6l0.6 -0.4M476.7 537.4l2.6 -1.3M548.7 603.9l1 -0.7M533.5 610.6l0.6 -1.3M500.4 599.5l0.7 -1.4M493.6 620.1l2 -2M503.6 567.5l2.4 -1.4M513.5 618.7l0.7 -0.7M470.4 588.8l1.8 -2.4M487.2 585.4l1.3 -2.4M462.4 563.2l2.2 -1.3M546 557.8l0.4 -0.8M456.1 612.3l2.3 -1.7M437.2 589.5l0.8 -2.3M480.8 567.3l0.3 -0.4M486.2 571l1.7 -0.9M504.6 615.6l0.7 -1.9M522.7 523.4l0.3 -0.8M470.2 585.4l1.4 -1.2M444.1 591.2l1.7 -0.9M540.4 560l0.5 -0.3M523.2 545.5l2.5 -1.6M528.5 578.4l0.6 -2.8M549.3 602l0.2 -0.6M529.5 626.5l0.9 -1.7M465.3 584l0.7 -2.3M538.2 556.1l1.3 -0.9M514.1 576.9l0.5 -1.8M473.4 556.7l0.5 -1.4M539.1 588.1l2 -1.3M487 593.3l1.5 -1.3M517.9 535.7l0.5 -0.9M549 590.7l0.4 -0.4M459.9 587.7l1.8 -1.1M544.4 537.3l1.4 -1.3M479.9 525.4l0.4 -1M549.1 571.1l1.8 -1M437.2 565.8l0.8 -1.7M470.1 558.7l1.7 -1.5M452.8 557.2l1.8 -1.8M497.9 582.7l0.8 -1M520.2 542.5l0.6 -0.4M464.9 604.8l0.4 -0.6M481.9 592.1l0.5 -0.5M448.2 607.9l1.8 -1.4M536.7 605.7l1.7 -2.2M468.6 597.7l1 -0.7M527.6 604.4l1.1 -0.5M479.6 583.8l1.1 -2.3M540.3 612.3l1.9 -1.1M537.4 582.7l0.3 -0.5M502 515l0.7 -1.8M529.9 565.4l2.2 -0.9M492.5 589.7l0.6 -0.6M549.9 598.3l2.1 -1.6M501.1 582.6l0.9 -1.2M485.5 609.5l0.2 -0.5M502.7 533l0.3 -0.9M511.3 543.7l0.3 -0.5M478.8 609l0.9 -1.2M487.1 598.1l2.6 -1.4M462.4 616.7l1.2 -2.5M491.6 561.5l0.6 -2.2M495.4 584l1.4 -2.4M528.8 566.3l1.1 -1.6M533.4 574.6l0.3 -0.8M510.4 512.9l0.7 -1.1M542.2 599.7l0.9 -0.7M440.2 602.2l0.2 -0.6M517.2 543.8l1.8 -2M536.7 560.3l0.7 -0.4M485 563.5l2.5 -1.1M498.7 549.7l0.4 -1M464.4 596.3l1.9 -2.1M532.7 560.1l0.6 -1.2M538.7 555.3l1 -1.9M538.8 526.1l1.7 -2.2M556 589.2l0.3 -1.4M434.4 582.5l0.9 -0.8M520.8 568.3l0.4 -1.7M529.4 610.7l0.2 -0.6M481.1 607.5l1.4 -1.5M558.5 617.6l1.5 -1.5M470.1 614.5l1.4 -2.3M446.3 619.4l2 -1.3M443.9 566.2l1.6 -0.7M538.7 582.8l0.7 -2M473.5 629l0.4 -0.8M502.3 580.6l0.6 -0.7M474.7 593.6l1.2 -0.7M527.7 549l2.3 -1.1M495.9 574.8l0.5 -1.1M548 612.9l0.7 -1.6M511.5 601.9l0.4 -1.9M458 579.2l0.8 -1.4M435.4 559.5l1 -2.8M464.7 561.2l2 -2.1M529.6 591.5l2 -1.1M531 611.7l1.3 -1.4M501.8 555.5l0.9 -2.3M472.2 588.2l2.1 -1.9M509.9 520.4l0.2 -0.9M477.1 536.9l1.9 -1.2M461.5 554.7l1.3 -2M495.7 538.6l1.1 -0.6M475.4 593.4l1 -1M520.3 552.3l0.8 -0.8M527.6 548l0.6 -0.8M527.4 563.7l0.8 -1.1M508.5 564.5l0.3 -0.9M441.4 563.1l1.7 -0.8M498.3 595.4l0.5 -0.9M482.7 553l0.4 -1M503 566.4l0.4 -0.5M478.9 509.2l0.4 -1.9M437.7 588.2l0.6 -0.7M527.8 599.4l1.7 -0.7M494.8 615.9l1.5 -0.8M457 542.9l0.7 -2.6M483.6 517.1l1.3 -0.9M533.4 568.5l0.4 -1.1M470.2 581.5l0.7 -0.6M475.4 575.1l0.8 -2.3M487.3 579l0.5 -1.8M525.8 583.3l1.7 -0.8M490.6 566.1l0.5 -0.6M501.9 597.3l0.5 -0.3M451.8 559.5l0.9 -0.9M454 586.2l0.6 -1.4M450.9 626.1l2.2 -1M527.2 554.5l0.3 -0.7M506.9 575.1l1.8 -1.2M559.9 573.4l0.4 -0.7M539.2 586.6l0.5 -1.9M484.8 578.6l0.8 -0.8M474.5 576.6l0.4 -1.9M466.8 568.8l1.9 -1.9M513.4 605.2l0.8 -0.4M451.3 600.7l1.2 -2.6M478 612.1l0.4 -1.7M542.2 565.3l0.6 -0.4M494.2 600.3l0.9 -0.5M430.4 601.1l1.5 -1.1M498.7 563.8l1.5 -0.6M465.6 591.7l0.9 -1.4M541.9 556.7l1.4 -0.8M539.7 573.7l1.3 -2M549.2 621.3l1.4 -2.3M549.6 571l0.7 -2.1M502.5 610.4l1.2 -2.2M538.1 584.5l0.4 -1.2M541.5 561.4l1 -0.8M530 534.5l0.6 -0.4M509.4 556.4l0.6 -1M525.6 593.3l0.8 -1.4M504.4 603.7l0.1 -0.5M452.9 602.4l1.7 -1.8M552.6 591.5l1.2 -1.7M457.7 602.8l2 -2M474.9 524.8l1.8 -1.2M521.6 584.8l0.4 -1.6M523.5 569.1l1.6 -1.8M546.2 608l0.4 -0.3M551.4 610.2l0.6 -1.8M546 572.8l0.4 -1.3M520 570.8l0.8 -2.2M544.9 618l1.7 -1.5M547 593.4l1.4 -0.8M458.6 608.3l1.9 -1.8M469.7 599.3l2.1 -2.1M490.6 565l0.9 -2.6M504.9 572.2l0.5 -1.1M492.9 555.7l2 -1.1M494.9 592.5l2.4 -1.1M493.9 577l2.3 -1.4M476.5 521.8l0.2 -0.5M507.5 586.2l1.1 -2.2M466.3 578.7l1.9 -1.6M467.5 564.3l1.4 -2M500.9 601.6l0.7 -0.5M488.4 562l1.8 -1.2M484.8 581.8l1.6 -2M467.8 600.5l0.2 -1.1M493.1 571l2 -1M470.5 514.1l1 -2.7M481.3 589.3l0.5 -0.3M465.8 587.2l1.2 -0.5M513.7 581l2.7 -1.2M468.3 583.8l0.3 -0.9M447.2 546.7l0.5 -0.7M446.8 601.4l1.1 -0.7M490.1 589.3l1.5 -0.9M536.6 554.3l1.1 -2.3M476.9 566.6l0.4 -1.2M482.3 611.9l1.7 -0.9M535.5 523.2l2.1 -1.2M536.6 638.5l0.6 -0.5M544.1 534l0.4 -1M449.8 583.2l1.4 -0.8M456.7 599.3l1.2 -1.7M526 557.5l1.1 -0.7M534.4 596.3l0.8 -1.7M499.1 559.4l0.9 -2.8M535.5 540.2l1.5 -2.6M468.3 580.2l0.9 -1.7M498.7 607.4l0.6 -0.7M453.8 593.8l1.6 -2M560.3 562.7l0.9 -0.7M493.6 551.2l0.6 -2M533.3 591.3l0.2 -0.7M492.3 574.2l2.2 -1.7M526 575.8l1.8 -1M487.7 574.7l0.7 -2.2M473.4 572.9l0.3 -1M500.7 558.5l1.5 -2.4M477.8 554.6l0.9 -1.4M496.1 561.4l0.7 -0.3M506 550.4l1.4 -0.6M447.7 559.6l1 -1M527.5 562l2.3 -1.8M473.5 521.3l0.4 -0.3M503.2 565.7l1 -2.6M458 576.6l1.9 -1.7M467.5 575.7l0.8 -1M470.7 588.6l1.3 -2M474.5 571.2l2.1 -1.1M521.4 571l0.9 -0.5M466.1 562.7l2.2 -1.4M527.1 523.5l0.1 -0.7M475.8 614l1.3 -1.8M473 578.7l1 -1.2M443.9 586l0.8 -0.4M504.9 564.2l0.9 -1.9M521.4 599.5l0.5 -1.1M489 584.8l1.5 -0.7M553 582.1l2.1 -1M481.3 545.4l0.4 -1.2M441.3 599.9l1 -1.9M496 558.6l1.6 -1.1M513.3 601.2l0.8 -0.6M441.3 603.8l1.8 -1.6M487.6 603.2l1.3 -0.8M460.1 551.1l1.1 -2.2M468.3 510l1.9 -1M433.1 621.5l1.9 -2.2M478.4 559.8l0.7 -2.2M528.7 547l1.2 -0.7M444.4 585.8l0.7 -2.2M509.9 578l0.8 -1.3M539.7 589.3l0.3 -0.7M475 615.6l1.3 -0.6M494.5 597l0.3 -0.7M487.9 537.2l0.4 -1.4M487 575.8l0.9 -2.4M550.5 570.5l1 -1.1M485 570l1.5 -1.8M492.8 555.3l0.9 -1M472.1 577.6l0.3 -0.5M514.1 597.9l2.1 -1M492.5 555.5l0.8 -1.1M551.5 588.3l1.7 -1.8M530.3 576.3l2.1 -1.8M523.1 563.2l2.2 -1.7M547.7 559.4l0.9 -1.7M460.3 549.3l1.4 -1.2M425.3 592.2l1.4 -1M522.5 583.8l1.4 -1M512.2 581.2l0.2 -1.3M539.2 580l0.2 -1M460.6 615.3l0.3 -1.1M497.4 619.9l0.3 -1M506.3 596.1l0.6 -0.3M544.1 554.7l0.4 -1.2M491.6 597.3l0.5 -0.8M474.1 623.1l0.7 -0.4M552 605l1.7 -1.5M475.9 586.9l1.3 -1.8M527.9 561.1l0.2 -0.6M533.8 541.4l1.5 -0.8M535.5 596.4l1.6 -1.5" stroke="#4c4490" stroke-width="2.0" stroke-linecap="round" fill="none" stroke-opacity="0.88"/>
<path d="M519.2 607.4l-1 0.1M438.9 577.6l2 0.9M543.1 563.6l-0.1 0.4M527.5 563l-0.2 0.9M464.9 592.5l0.1 2.4M474.7 580.4l-1.1 1.9M503.9 526.8l0.3 0.6M445.2 592.8l-0.8 0.4M366.3 572.9l0.9 0.5M523 595.9l-0.5 0.3M535.5 642.7l2.3 0.1M539.7 587.4l2.3 0.5M464.1 600l0.1 0.6M499.7 579.2l1.7 1.3M518.5 578.2l-0.6 0.6M493 589.9l1.5 0.3M513 600.3l1.2 0.5M536 563.2l0 1.9M465.3 622l1.8 1M511.8 575.4l-0.6 0.5M483.4 524.4l-1.2 0.5M531.9 573.6l-1.1 0.1M448.1 514.3l-0.8 0.2M446.4 615.3l0.5 0.1M454.6 614.4l-0.9 0.2M532.4 563.6l-0 1.1M533.8 521l-1.8 0.2M476.3 580.1l-0.3 1.4M453.3 581.5l0 0.4M491 580.2l-1.5 1.9M518.5 526.4l1.1 1.2M523.7 600l1.3 1.8M414.3 596.9l-1.1 0.5M508.3 607.7l1.3 1.8M521.5 539.8l-0.7 0.3M484.6 596.6l0.3 1.8M508.3 596.2l1.7 1M391.4 596l-1.4 0.5M549.8 547.1l-1.5 1.9M516.7 565.9l0.4 1.2M495.6 604.8l-2 1.2M512.4 572.1l0.8 2.2M444.5 608.9l0.4 0.6M465.2 599.4l-0.9 0M543.9 628l0.4 1M535.7 553.3l-0.5 1M461.7 586.4l-0.1 1.2M523.3 548.1l0.1 0.9M450 509l0.5 0.7M452.1 568l1.9 0.9M518 602.1l0.6 1.6M511.2 580.3l0.6 0.4M442.9 568.2l-0.8 0.1M477.4 566l0.7 0.1M468.5 613.3l1.7 1.6M477.5 564.4l-0.3 0.2M452.2 536.5l-1.8 1M451.5 549.5l-1 0.5M518.6 589.1l0.7 1.2M498.2 623.2l0.7 2.3M499.4 617.3l0.3 0.2M471.5 576.5l0.5 0.2M485.1 519l1.1 1.1M494.2 530.4l0.3 0.9M432.2 628.1l-0.3 0M492.3 585l0.3 1.7M510.6 619.3l-0.8 0.5M477.4 583.1l-0.4 0.1M506.1 597.3l0.4 1.1M480.2 544.2l0.5 0.4M542.7 572.5l0.3 0.3M498.7 594.9l-1.2 1.2M486.9 526.8l-1.8 1.4M481.3 556.3l-0.6 0.1M465.6 582.7l-0.8 0.2M506.9 592.2l0.6 0.5M530 608.1l-0.4 0.8M475.9 582.9l-1.2 1.5M441.9 556.4l-0.3 0.3M483.8 608.4l0.6 1.4M512.5 623.1l0 1.6M529.2 612.6l0.3 1.5M453.3 589.7l2.2 0.7M480.4 580.3l0 2.3M475.7 557.3l-1.2 1M478.5 599l1.9 0.8M508 603.3l-1.1 0.7M517.6 554.7l2.1 1.3M471.8 583.9l0.3 0.9M500.5 532.2l-0.6 0.6" stroke="#6a62a8" stroke-width="1.7" stroke-linecap="round" fill="none" stroke-opacity="0.8"/>
</g>
<rect x="442.2" y="512.2" width="107.4" height="106.0" fill="none" stroke="#44dd55" stroke-width="1.2"/>
<rect x="439.8" y="509.4" width="112.6" height="112.0" fill="none" stroke="#484848" stroke-width="1.7"/>
<clipPath id="c13"><rect x="439.0" y="626.2" width="114.2" height="113.6"/></clipPath><g clip-path="url(#c13)">
<rect x="439.00" y="626.20" width="114.20" height="113.60" fill="#c6cfe4"/>
<path d="M517.3 703.9l1.8 1.2M455.8 651.8l1.7 0.7M463.4 659.7l-0.9 0.5M440.6 657.5l-0.3 0.1M531.1 720.1l-1.8 0.3M468.3 722.8l-0.9 0.8M488.1 667.6l0.6 0.9M532.6 716.9l-1.4 2M524.5 641.5l0.3 1.7M462.1 685.6l0.1 0.6M484.2 641.1l0.9 0.8M461.2 667.8l-0.1 0.2M483.5 707.9l2.3 0.3M531.1 721.4l1.4 0.8M538.2 726.9l1.6 1.2M481.8 707.6l-0.3 0M521.5 650.3l-0.4 1.5M480 708.9l0.5 0.7M517.1 639l0.6 0.1M502.5 687.9l0 0.1M449.6 626.5l2.3 0.9M469.7 694l0 0.2M534.3 626.8l0 0.8M498 680.1l1 1.3M496.3 729.6l1.3 1.3M536 655.6l0.6 1.3M471.8 649.4l0.9 0.1M448.9 712.3l1.5 0M460.7 680.8l0.7 1.2M488.7 641.8l2 0.7M463.9 660.7l1 0.1M480.2 676.4l-2.2 0.1M500.1 640.9l1.1 1.7M501.3 640.5l0 0M456.1 680.6l0.4 0.8M463.4 707.8l-1.6 0.3M544.1 676.2l-0.5 1.3M541.5 639.3l-0 0.3M499.9 660.2l1.4 1.9M444.9 629.7l1.7 0.6M537.9 739.8l0.5 2M534.1 707.5l-0.5 0.5M474.2 739.4l0.8 0.9M490.4 626.6l0.1 0.1M546 654.3l-1.9 0.9M552.4 712.7l0.8 0.9M542 687.2l0.2 0.4M460.8 691.3l-0.1 0M450.7 693.1l-0.7 0.3M498.5 721l-0.4 0.4M487.9 735.2l-0 0M534.9 643.7l-0 0.1M468.4 681.5l1.1 1.1M440.1 677.3l0.9 1.7M444.8 705.8l-1 0.3M450.5 730l-2 1.3M516.8 708.1l-0.5 1.6M454.2 708.7l1.5 0.3M508.7 684.3l-1.8 0.7M532 682.9l0.4 1.4M489.8 734.4l-0.4 0.7M517.1 668.8l0 0.2M532 715.3l0.4 2.4M503.4 711.4l0.2 0.1M476.1 660.3l1.9 1.5M472.6 649.4l2.3 0.7M453.7 633.8l0.8 0.6M440.8 705.5l0.1 0.1M539.9 701.1l-1 1.4M536.4 643.8l-0 0.1M498.5 715l-0.3 0.3M487.1 654l-0.2 0.7M542.6 658l1.7 0.5M457.3 723.6l1.7 1.7M464.1 660.9l0 0.3M519.4 691.6l-0.6 0.8M476.9 667.5l-0 0M450.5 716.8l0.3 2M454.9 626.3l0.9 0.9M542.4 628.4l-0.6 0.6M451.2 710.5l-0.6 1.3M530.2 694.3l0.1 1.9M532.4 696.6l0.9 0.1M477.8 674.9l-0.1 0.7M534.2 693.7l-1.1 0.9M500.3 711.4l-1.2 1.3M502.7 689.3l0.3 0.3M496 728.4l0 0.1M491.4 722.6l-0.3 0.3M503.8 632.7l-0.8 0.6M503.4 674.2l-0.1 0.1M521.7 695.7l-0.9 0.4M548.5 636l-0.7 2.3M545.9 684.4l1.2 0.2M512 653.4l0.1 0.3M538.4 679.1l-0.1 0M522.5 682.9l2.2 1.1M521.3 628.2l0.8 1.1M548.8 701.9l-0.4 1.2M492.4 639.4l1.8 0.4M459.5 690.2l0.1 0M521.2 727.1l-1.7 0M510.8 698.5l0.4 0.2M498.8 715.6l-0.4 1.7M521.4 684.4l-0.2 0.4M474.3 677.5l1.8 0.6M465.9 702.4l1.4 1.5M492 650.9l-0.1 0.7M507.7 626.3l-0.5 1.9M466.5 676.3l1.1 1.3M539.4 676.4l-0.2 0.1M480.7 696.5l-1.6 0.5M504 726.1l-0.7 0.9M520.8 735l-0.6 0.6M540.4 713l-2 0.8M547.5 643.9l1.4 0.3M517.5 658.6l0.5 2M461.1 691.9l1 0.1M550.3 679.9l0.4 1.7M508.9 650.1l-0.1 0.3M440.2 733.7l0 0M530.1 710.6l0.4 1.8M454.3 735.4l0.1 0.1M526.9 702.7l-0.6 0.3M462.6 637.2l2.4 0.4M479.7 727.7l-1.8 1M440.3 710l-0.5 0.1M446.5 709.3l0.6 0.2M489.5 659.7l1.4 0.3M513.2 724.4l-0.3 0.1M462.6 664.1l0.4 0.1M484.5 647.8l1.2 0.5M549.1 679.3l0.3 1M486.2 646.5l-0.4 0.6M446.8 642.7l0.9 1.9M509.5 697.3l-0.2 0.9M498 733.5l0.2 0.2M544.9 718.5l2 0.7M453.2 722.5l0 1M462.5 690.5l0.3 2.1M480.9 647.8l-0.6 0.3M481.8 658.8l-0.8 0.4M459.8 662l0.2 0.1M513.4 731.7l0.4 0.5M442.4 636.3l0.2 1.4M486.4 628.4l0.6 0.3M447 718.9l0 0M462.2 712.5l-2.4 0.3M500.9 675.2l0 0.2M484.5 715.4l0.7 0.9M504.1 655.2l0.1 2.3M492.5 723.8l0.3 1.8M527.2 721.3l-1.4 0.6M486.4 662.2l0.6 0.3M502.1 635.7l0.1 0.5M536.8 712.5l0.2 0.7M483.3 700l0 0.1M542.9 735.3l0.9 1.6M543.6 634.9l-0.2 1M466.5 715.4l-0.1 0.5M491.7 735.8l0 0M543.4 683.7l0.4 0.6M505.3 676.9l1.6 0.5M539.3 729.8l-0.9 0.8M498.6 642.4l-0.1 0.2M499.1 631l1.5 1.8M510.1 666.6l-0.1 0.5M447.8 646.2l-0.1 0M544 696.5l0.2 2.4M448.6 696.8l-0.9 1.5" stroke="#b0bcd6" stroke-width="3.0" stroke-linecap="round" fill="none" stroke-opacity="0.5"/>
<path d="M450.2 699.5l-1.7 0.3M545.3 629.1l0.8 1.3M458.9 669.9l0.1 0.9M463.9 645.4l-1.2 0M456.1 698.2l0.2 0.3M477.7 637.8l-0.4 1.4M547.2 684.4l0.7 0.6M524 683.4l0.7 0.7M552.3 692.7l0.9 1.5M445.5 696.3l-1.3 1.9M537.1 673l0.7 0.8M517.8 685.7l-1.9 0.5M464.1 679.3l1.3 1.2M514.8 659.6l1.6 0.3M511.9 724.3l-0.6 1.1M513 677.5l0.7 0.3M527.5 700.2l1 1.6M499.8 679.3l-1.5 0.6M481.7 706.3l-0.5 2.2M540.8 730.8l-0.1 0M502 683l1.8 1.6M548.5 678.1l0.3 1.1M442.4 689.4l0 0.5M551.3 661.2l0.8 0.3M459.5 640.6l-0.4 2.2M463.5 646.3l-0.8 1.2M496.3 690l0.7 1M451.6 637.4l-0.1 0.1M516 639.3l2.2 0.2M499.7 729.3l2.2 0.1M467.5 631.2l1.9 0.9M547 706l-1.1 2.2M550.2 650.8l0.4 1.3M473 735.3l-1.4 2M547.6 733.8l-0.1 0M449.7 654.9l0 0.9M456 699.7l1.2 0.5M543.6 665.5l0.3 2.1M545 698.8l0.9 0.1M505.1 657.2l1.4 0.1M494 681l1.3 1.2M522.7 658.4l-0.1 0.3M506.3 736.3l-1.9 1.5M529.6 667.1l2.2 0.9M496.7 640.2l-0.2 1.5M523.9 635.7l0.8 0.9M455.5 669.4l1 1.5M451.9 634.8l-0 0M500.2 679.8l1.7 1.4M467.3 720.8l1.9 0.7M552 736.2l-0.1 0.7M497.1 645.8l1.5 0.8M476.6 681l-0.2 2.4M521.3 651.9l-0.5 0.3M455.4 718.2l-0.2 0.7M543.9 646l0.2 0.3M549.2 700.4l-1.6 1M481.9 716.9l-1.4 0.6M492.2 665.3l-0.1 0.3M475 683.7l-1 1.5M513.4 697.5l-1.2 1.9M466.5 722.9l-0 0M508.6 657.3l-0.3 0.3M516.7 635.5l0.2 0.5M514.2 667.1l2.2 0.2M483.9 695.7l-1.5 0.6M512.2 704.6l0.2 0.4M507.5 686.3l0.3 0.2M448.9 713.8l-1.5 1.7M506.1 629.9l0.4 0.4M505.5 687.7l-0 0.4M538.7 668.1l-1 0.4M507.9 637.8l-1.1 1.7M444 733.1l-0.2 0.7M482.7 637.5l0.9 1.6M530.5 732.8l0.4 0.6M490.4 727.6l0.9 0.2M541.6 691.9l-2.1 1.3M459.5 673.4l0 0M546.1 643.9l0.9 0.1M518.5 672l-1.1 0.7M463.2 711l-0.5 1.6M543.5 694.3l-0.1 0.1M469.5 714l-1.6 1.7M533.5 635.4l0 0.1M512.4 700.9l0.5 1.2M502.7 649.8l0.2 1.4M519.2 738.1l-0.1 1.9M472.5 689.1l2.3 0.9M488.2 707.4l-0.3 0.4M549 635.4l-1.1 1.1M469.7 667.3l0.3 2.2M548.1 681.2l-0.6 1.9M510.2 641.5l0.4 0.4M506.5 673.7l0.9 0.1M494.4 649.9l1.6 0.5M546.7 702l0.8 0.4M466.6 663.4l-0.3 0.6M445.2 722.6l1.2 0.5M543.1 684.1l-1.3 0.4M451.2 649.7l1.6 0.6M529.6 671.8l1.7 0.2M481.7 702.9l-0.5 0.9M545.5 718.5l-1.8 0.2M441.3 717.6l0.4 0.8M484.7 641.3l2.3 0M518.9 645.8l1.8 0M484.2 697.4l-1 1.6M536.5 632.3l1.1 0.2M492.9 676.1l1.7 1.6M518.6 634.3l0.9 1.7M525 664.3l0.3 0.9M503.7 708.6l0.4 2.4M512.1 712.9l-1.6 0.2M549.2 676.5l1.2 0.7M497.5 666.6l-2.2 0.9M473.1 692.2l0.7 2M460.9 733.1l0.2 1.4M469.9 686.6l-1 0.3M547 719.6l-0.1 0.3M456.4 725.7l-2 0.2M455.5 700.6l1.4 1.6M494.1 670.1l-1.4 2M527.5 720.4l-0.4 0.4M526.7 704.4l-0.3 1M517.1 659.9l-1.9 1.5M486.7 665.3l-1 0.5M546.7 661.1l0.5 0.7M451.5 644.1l-1.4 1.5M487.3 632.9l-2 0.8M528.6 654.3l2.2 1.1M472.7 689.2l-1.1 0.8M528.3 717.1l1.6 0.3M464.1 739.3l-1 0.4M468.6 647.8l1.7 0.6M499.5 734.6l2 0.5M487.9 714.3l-0.1 0.2M508.2 667.4l-0.4 0.2M480 668.4l0.2 0.5M452.8 730.5l0.8 0.8M457.4 680l-0.8 0.6M463.6 645.4l1.6 0.9M448.6 687.9l-0.6 0.6M535.4 653.9l-0.7 0.6M531.2 703.4l0.3 1.2M477.2 673l-0.2 1.7M476.8 720.1l1.7 0.8M518.9 731.8l-1.2 0.5M541.6 717.2l-0.5 0.2M497.1 665.2l0.7 0.9M523.4 671.5l1.2 0.6M517.9 672.5l-1.4 0.4M468.6 722.1l-1.4 1M488.1 723l-1.5 1.9M478.1 702l2 1.1M474.9 685.7l0.4 2.2M497.4 692.8l-0.6 0.4M493.5 689.6l-0.1 0M471.1 730.1l-0.6 1.8M517.8 651.6l1.1 0.1M507.4 686.2l-0.9 1.9M515.6 671.2l1.6 1M509.3 675.9l0.3 1.7M511.1 735.9l-1.4 0.5M548.4 731.6l1.8 0.5M503.5 678.5l-0.5 2M503.6 646l1.8 1.5M464.9 634.1l0.4 1.2M534.3 690.1l1.3 0.7M523.5 695.7l0.5 0.9M493.8 650.1l-0.7 1.5M469.8 678.3l0.9 0.1M512.4 683l1.3 1.8M532.6 708.8l-0.4 0M442.9 693.5l0.4 0.6M531 630.3l-0.8 0M518.9 698.1l-0.3 0.8M533.8 722.2l1.7 0.2M457.3 737.2l-0 0M545 651.9l2 0.8M524.2 676.4l-0.2 0.5M535.5 719.6l-0.2 0.1M463.3 738.5l-0.5 2.3M506.9 654.9l-0.6 1.1M476.5 712.8l1.6 0.4M550.4 640.6l-1.5 1.6M470 669.9l0.3 0.2M495.8 721.5l1.6 1.2M531.7 635.6l0.3 0.8M502.9 678.2l-2.2 0.2M540.4 653l2.3 0.3M506 704.5l-0.3 0.7M464.7 675.6l-1.7 0.1M518.5 679.5l1.3 1.2M532.7 663.1l0.1 0M521.3 632.4l0.4 2M481.7 711.3l-0.8 1.6M469.7 689.3l-0 1.1M502 718.9l0.3 1.2M466.9 713.6l1.3 1.2M538.6 729l0.9 0.6M503.4 652.6l-0.1 0.1M447.6 732.3l0.1 0.1M492.2 660.4l0.9 0.8M520.2 667.8l-0.3 0.4M524.4 739.2l-0.3 0.8M486.2 677.4l0.4 1M528.9 697.7l-2.1 0.7M466.9 685.9l2.1 0.9M495.4 637.3l-1.9 1M529.2 649.9l-0.1 0.3M481.6 719l-0.8 1.7M475.7 722.6l-0.4 2M491 714.5l1.3 2M542.4 732.8l0 0.4M527.6 713.8l0.6 2.3M441.8 651.4l-0.1 1.2M503.6 690.4l1.6 0.2M443.7 627.7l1.5 0M482 688.1l-1 2M463 674.1l0.7 0.6M480 669.1l-0 0.1M466.8 723.5l1.3 1.1M530.2 633.1l0.2 0M521.5 688.8l-1.6 0.1M443.2 649.5l-0.2 0.6M512 632l1.7 0.8M525.6 627.8l-0.1 0.3M439.2 642l0.9 1.2M475.5 657.4l1.6 0.1M459.2 709.6l-1.8 1M450.4 672.8l-0.3 0.4M458.4 704.7l-1.4 0.7M537.8 686.2l-0.9 0.4M443.9 657.2l0.8 2.1M459.2 712.7l0.5 0.3M520.2 658.9l-1 1.7M545 701.3l0.2 0M508.6 638.4l2 0.8M471.4 697l-1.7 0.4M443.4 647.4l-0.4 0.2M486.5 683.9l2.1 0.7M462.8 653l2.2 0.7M539.2 730.7l0.6 1.6M516.6 739.8l-0.8 2.2M487.3 680.2l-1.9 0.9M506.9 632.3l-1 0.9M507.5 719l-0.1 0.6M549.7 728.6l-0 0M533.9 726.1l0.3 1.2M534.2 711.2l0.9 1.9M477.3 702.5l0.6 0M478.8 690.6l-1.3 0M543.8 738l-0.1 1.7M549.1 681.3l-0.9 2.1M494.8 667.2l0.9 0.4M472.9 654.8l1.1 1.7M453.9 643.7l2.4 0.4M457.4 688.7l-0.5 1.9M498.5 733.5l0.7 0.8M542.1 707.9l-0.9 1.6M471.3 728.3l-0.9 1.9M525.7 643.3l-1.3 1.9M493.4 629.2l-0.3 0.7M443.6 734.2l-0.4 0.7M462.4 716.7l-0.1 0.6M476.3 721.1l-0.8 2.3M446.9 714.9l-2.3 0.2M523.7 642.8l-0.6 0.5M461.6 696l0.8 1.1M525.2 636.3l-0 0.1M505.9 713.2l-0.6 1.1M524.6 676.4l-1.8 0.1M529 686.2l-0.1 0.2M543.6 721.5l-1.6 0.2M528.8 731.6l0.2 0.7M522.1 628.3l-0.1 1.6M521.4 737.3l-1.6 0.6M497.6 701.9l1.5 1.9M503.2 729.8l0.5 0.8M508.4 700.1l-1.3 0.8M445.8 726.1l1.5 0.3M544.5 688.8l-0.6 0.6M536 691.6l-2 0.2M486.9 642.6l-0.1 0.6M451.6 695.7l0.8 2M526.5 668.9l0 0M546.1 674.4l2 0.9M518 640.7l0.2 1M476.4 736.7l1.1 0.3M477.5 678.8l1.8 1.2M481 684l0.3 1.2M528 715.2l0.7 1.7M488.8 670.7l1 1.6M453.5 650.6l-1 0.4M512.6 684.3l0 0M516.5 640.6l0.3 0.2M446.8 713.9l-1 0.5M549 637.8l0.3 2.2M528.6 628l-0.6 0.4M528.4 688.4l0 0M514.8 730.2l1.9 0.2M498.5 677.7l-0.7 0.4M549.1 647.2l0.8 0.4M457.3 700.6l-0.7 0.5M456.7 668l-1.5 1.5M548 675.1l-0.8 2.2M475.8 644.8l0.6 1.8M510.1 728.5l-0.2 0.2M451.9 639.5l-2.2 0.3M529.9 630.8l-1.2 0.2M486.6 641.5l0.9 0M460.5 735l-0 0.5M476.6 637.1l-0 0M456.7 737.5l-0.3 0.7M464.2 673.5l0 0.2M485.7 639.7l1.4 1.5M538.8 729.3l1.1 0.2M551.4 693.1l0.1 0.1M494.3 683.5l-0.3 1.3M485.9 628.4l0.4 0.9M480.1 736.8l-0.1 0.4M515.5 627.9l-1.1 0.3M469 725.1l1.3 1.5M496.8 725.5l0.1 0M536.7 677.2l1.6 0.1M461.8 647.9l-1.1 0.5M520.4 643.5l-0.4 1.5M443.5 671.7l1.8 1.2M536.7 666l0.1 0.2M502 694.2l0.2 0.3M514 667.5l0.7 0.1M496.5 661.2l-0.5 0.2M463.9 663.3l1.1 2M484.3 697.5l0.9 0.7M476.3 659.5l0.2 0.2M520.9 663.9l1.7 0.2M476.3 686l-1.1 1.5M477.4 677.8l1.4 1M539.7 679.4l0.2 0.5M474.3 713.5l0.2 0.3M511.4 670.9l-0.4 1.9M445.4 679.6l0.3 0.9M515 655.2l1.1 0.9M457.3 641.5l0.1 0.1M442.8 685.4l-0.5 0.2M454.4 671.1l-2.2 0.3M538.5 703.1l-2.2 0.1M455.4 661l-0.5 0.5M525.8 665.3l-0.1 0.8M447.4 720.2l2.1 1.1M488.6 710.4l-0.7 2M541.9 719.7l-0.1 0M512.5 662l-1.1 0.2M494 647.6l-2 1M455.6 704.2l0.3 2.5M508 703.2l0.1 1.2M510.3 719.2l0.5 0.2M443.9 646.6l-0.9 0.7M470.4 694.4l1 2.1M492 651.8l-0.9 0.2M444.1 628.7l1.1 0.4M519.9 688l-0.2 2.1M512.8 703.2l-1.9 0.5M454.8 660.3l0 0.1M527.9 630.7l1 2.1M472 661.2l0.2 0.6M451.8 684.8l1.3 1.2M470.9 652.5l-1.6 1.9M540.2 631.2l0 0M519.4 692.3l-0.9 0.7M445.6 702.7l-0.1 0.1M499.1 688.7l1.1 0.7M472.3 629l-1.5 0.7M464.1 695.8l-0.4 1.9M508.5 631.7l-0.5 1.4M521.5 729.4l1.7 0.3M496.4 647.8l-1.6 0.2M522.3 703.2l-1.5 0.2M477.3 724.5l0.5 0.9" stroke="#dfe4ee" stroke-width="2.8" stroke-linecap="round" fill="none" stroke-opacity="0.6"/>
<path d="M544.7 734l1.8 2.9M534.2 645.5l0.4 2.3M521.8 701.9l-2.4 0.7M517.4 654l0.6 1.2M523.2 639.6l2.1 3M510 640.9l2.5 0.8M496.7 628.9l1.3 2M502.7 640.3l1.3 2.4M521.3 636.8l-0.8 0.6M458.3 637.4l1 0.1M434.9 635l3.6 0.3M467.7 644.6l-0.8 3.4M518.1 704.9l-0.3 0.7M534.4 674.5l-1 0.5M553.7 703.6l1.4 0.2M550.2 653.1l-2.8 1.7M545.6 632.6l1.2 1.1M542.5 637.2l1.1 0.8M514.4 626.5l0.9 0.8M515 646.7l-0.6 2M467 647.4l-1 1.8M468.8 633.8l2.2 0.3M527.1 670.4l-2.9 0.2M495.6 646.8l-2.2 3.1M519 692.1l2.1 1.1M532.9 655.2l-3 0.2M510.4 656.9l0.9 1M444.1 637.5l2.6 1.1M527 649.9l-2.4 0.2M535 674.2l0.3 0.5M515.8 628.2l0.4 2M499.9 662.8l0.5 1.6M532.9 657.1l-2.9 0.4M497.8 641.8l1.3 0.4M532.7 659.1l-2.1 0.2M565 688.2l-1.4 2.4M505.4 641l0.8 0.8M486.8 718.8l-1 2.2M566.2 636.9l1.6 1.5M516.4 664l-2.1 1.3M534.1 630.3l2.9 2.3M479.9 636.9l-0.7 0.2M556.8 659.9l2.7 1.5M489.2 673.6l0.7 2.7M503.4 681.2l0.5 1.8M516.5 675.5l0.9 0.7M551.4 631.2l0.5 0.8M594.2 630.4l-1.3 1.2M415.1 631.4l-2.2 2.5M496.1 641.2l0.7 0.5M465.5 644.3l0.9 0.4M447.8 653.7l-2.6 1.2M472.7 716.3l-2 0.8M550.6 706l-0.5 3M482.3 640l2.6 0.7M549.7 643.1l-0.8 1M492.2 706.5l0.1 2.4M477.4 644.4l-2.3 0.2M521.2 650.7l-1.6 1.4M521.3 622.8l3.2 1.2M509.2 650.7l0.4 3.6M545.1 632.8l2 3.3M515 663.9l0.3 2.4M491.7 697.4l-2.9 2.2M505.8 631.1l-2.8 1M439 673.3l0.3 1.6M550.5 669.1l-1.2 0.4M503.3 637.8l2.3 2.5M538.3 699.6l0.9 0.8M537.1 679.4l0.4 1.5M488.4 642.4l-1.6 0.5M530 643.6l0.2 0.6M529.1 632.7l-2 1.3M525.3 628.7l-1.7 1.7M501.9 638.3l2.4 0.5M532.8 684l0.6 0.1M526 693.9l1.3 1.2M575 638.9l-2.8 0.3M533.6 633.2l1.1 2.8M527.8 704.9l1.3 2M523.4 675.7l-1.1 0.2M537.2 654.8l0.2 2M544.9 706.6l-2.3 0.1M499.2 638.8l-1.4 0.5M535.1 645.8l3 0.2M469 648.3l-2.8 2.6M480.6 631.6l-2.1 0.6M461.5 692.4l-0.6 2.5M522.7 629l-0.5 3.8M493.2 637l2.7 2.2M496.7 640.6l1.5 3.4M477.2 670.8l-0.4 3.9M449.6 725.7l1.2 2.7M479.7 636.5l0.1 0.9M547.2 691.3l0.7 2.5M531.2 688.4l-2 2.1M539.4 649.3l3.3 1M550.1 619.1l0.2 0.9M473.1 636l-3.2 0.6M449.3 640.8l3.7 1M515.2 636.8l3.3 0.7M429.4 632l0.5 0.4M464.2 632.2l-0.9 0.5M455.1 639.6l1.1 2.6M494.3 620.4l1.6 1.3M537.4 632.8l0.2 3.8M478 641l3.1 0.2M474.2 635.6l3.1 1.4M454 630.2l-1.8 1M466.2 698.7l-1.5 0.2M520.2 721.8l0.5 3.1M493 641.9l1.3 1.1M509.4 639.7l0.2 2.5M610.9 641.9l0.3 0.4M543.1 669.7l-0.3 3.7M444.2 648l-0.5 2.5M503.7 645.9l0 0.8M491.5 642.8l0.6 0.3M470 675l-3.1 0.6M550.1 639.3l0.6 1.7M518.9 638.2l-1.8 3.2M479.6 715.5l-0.1 0.6M561.2 627.2l1.1 0.9M507.7 687.6l0.3 1M523 641.3l-1.2 0.7M547.8 704.9l0.6 0.4M518.3 656.6l0.2 0.8M526.5 658.9l-0.4 2.6M526.3 698.9l2.2 1.5M526.8 660.4l0.2 2M502.8 692.3l-1.4 2.6M438.5 641.4l-1.1 0.1M461.1 630.4l-3.9 0.1M468.5 631.6l2.4 1.4M536.4 670.8l-1.1 2.3M535.6 630.2l0.3 0.8M537.3 649.4l-2 0.7M539.6 626.7l1.1 1.2M539.3 678.9l2.4 0.1M508.2 644.7l0.2 0.5M550.6 664.8l0.9 2.6M469.2 638.8l1.3 0.7M512.3 663.1l3.3 0.3M552.5 737.3l1.6 2.2M529.7 645.3l1.2 1.5M556.1 682.1l-1.3 1M467 640.9l-4 0.2M545.7 654.9l0.6 0.4M515.2 679.3l2.6 0.9M494.7 634.7l0.1 0.9M527.1 667l-3.4 0.6M515.3 642.5l3.1 0.4M538.3 720.2l0.3 1.6M515.3 709.8l2 0M449.3 631.8l1.3 0.5M498.8 643.5l-0.2 1.5M518.4 667.2l0.1 3.6M514 658.6l-1.3 0.3M479.2 637.7l2.9 0.7M546.1 647.9l0.6 0.7M470 639.5l0.8 3.2M480.6 636.4l2.8 1.5M534.2 678.4l-0.7 3.6M513 640.3l-2.6 2.3M489 702.4l-1 0.9M463.9 646l0.5 1.8M531.6 674.6l-1.2 0.4M444.2 635.2l-3.8 0.3M522.4 666.7l1.2 2.6M561.1 683.3l0.9 2.4" stroke="#f5f4f1" stroke-width="2.2" stroke-linecap="round" fill="none" stroke-opacity="0.8"/>
<path d="M422.3 668.3l0.4 0.1M464.8 697.6l-0.5 0.2M559.2 692.8l-0.3 0.1M542.8 681.8l-0.1 0M438.6 641.8l-0.2 0M490.2 662.2l-0.1 0M480.4 651.7l-0.4 0.3M509.8 645.4l-0.1 0.1M526.7 704.1l-0.2 0.3M487.1 665.2l-0 0M478 657.2l0 0.3M532.6 706l0.3 0.1M519.6 651.1l-0.5 0.1M461.8 658.7l0.3 0.2M453.9 644.9l-0 0M484 703.6l-0.3 0.4M518.3 729.7l0 0.2M538.7 683.8l-0.1 0.5M521.5 669.5l-0.1 0.3M511.1 656.2l0.3 0.1M501.8 647.9l-0.2 0.1M556 650.6l0.2 0.2M540.7 692.7l-0.1 0.1M515.1 738.7l0.4 0.1M480.9 711.5l-0 0M514.7 643.6l0 0.1M550.1 657l0 0M484.7 640l-0.2 0.1M530.8 649.1l-0.1 0.2M440.5 645.1l0.2 0.2M516.9 661l0.3 0M495.2 638.7l-0.3 0.1M520 684.3l0 0M492.6 629.9l0.1 0.1M535.7 690.5l0.3 0.4M522.4 683.9l0.2 0.2M448.3 651.5l0 0M456.7 646.9l0.1 0.1M553.4 645.8l-0 0.2M529.9 710.7l0.1 0.2M520.3 720.8l0.3 0.3M535.2 671.5l0 0.4M527.5 633.2l0 0.1M508.9 678.3l-0 0M504 656.1l-0.4 0.1M505 644.9l-0.3 0M460.4 652.4l0 0M512.9 637.6l-0.1 0.1M522.4 672.3l-0.2 0.1M456.1 693.1l0.1 0.1M472.8 655.9l-0.4 0.2M449.1 652.7l0.2 0.4M480.1 690l0.4 0.1M471.4 650.5l0.2 0.5M525.2 698.5l-0 0.2M536.2 715.6l-0.1 0.2M528.9 663.5l0.1 0M452 661.5l0 0.1M518 694.3l0.1 0.2M453.6 649.9l0.3 0M500.3 661.6l0.2 0.3M488.8 688l0.3 0.3M503.8 700.2l0.1 0.2M440.9 630.5l-0.3 0.3M513.8 642.5l-0.1 0.3M531.6 667.9l-0.3 0.2M462.7 669.9l0.3 0.4M556.5 646.2l-0 0.1M519 651.4l-0.5 0.1M555.3 687.9l-0.1 0.1" stroke="#dcc050" stroke-width="1.4" stroke-linecap="round" fill="none" stroke-opacity="0.9"/>
<path d="M467.1 648.5l-0.1 1.1M453.5 718.6l0.2 1M478.4 731.8l0.5 0.3M452.4 707.8l-0.5 0.6M477.8 714.8l0.6 0.8M461.2 683.8l0.8 2.2M523.4 728l1.6 1.5M463.1 677.1l0.7 1.1M547.5 681.1l-1 0.9M446.4 657.1l-1.7 0M492.9 727l-1.4 0M525.1 662.2l0.7 0.2M442.1 660.2l0.1 0.9M511.8 719.7l-0.2 2.4M460.3 652.6l-0.1 0.5M499.6 732.9l1.8 0.2M508.7 718.6l-0.8 0.3M469.8 665.2l-0.9 0.7M489.8 695.6l0.7 0.7M480.8 666.8l-1.7 1M499.8 670.6l2.4 0.4M466.1 659.9l1.7 0.7M440.2 696.7l-1.3 1M523.4 738.9l1.6 0.9M527.4 656.6l-0.4 1.8M458.1 714.3l-1.9 1.2M516.8 666.4l2.4 0.2M490.6 682.5l-0.1 2.1M458.5 735.7l1.8 0.2M490.4 713.1l-1.1 1.8M465.1 639.4l0.7 0.3M473.5 705.1l0.2 0.5M467.6 629l1.7 0.5M485.6 736.7l-0.7 0.6M519.6 629.6l0.5 1.2M460.8 673.2l-1 0.1M504.5 682l0.1 2M549.5 685.5l0.2 0.5M472.2 689.9l-1.4 1.2M463.8 718.9l-0.2 1M447.5 641.5l-0.4 0.9M512.4 727.2l-1.6 1.8M442.9 664.6l-0.4 1.6M539.9 633.4l1.2 0.2M552.2 704.9l2.2 0.4M535.9 649.1l-0.6 1.6M470.4 649.5l-2.1 0.3M503.6 630.7l0.9 1.9M497.1 706.9l0.9 0M531.7 641.3l0.8 0.2M532.6 719.2l-0.8 1.2M449.1 675.4l0.7 2.2M493.5 719.9l-1.9 0.6M496.9 637.3l-0.5 0.2M528.8 679.4l0.5 1.3M521.6 729.9l-0.8 1.4M448.5 706l-0.1 1.2M520.5 691.9l2 0.2M511.8 663l1.6 0.9M479.8 649.7l1.7 1.8M510.5 634.7l-1.5 1.3M463.1 720.7l1.3 0.9M487.8 671.5l0.6 1.6M506.3 636.8l-1 0.8M450.9 725l0.1 1.7M545.1 701.9l0.2 0.9M445 631.5l-1 0M517.5 691.7l0.3 0.9M469.9 663.3l2 0.9M548.6 679.3l-0.3 0.7M503.3 648.4l-0.9 0.4M496.9 689.6l-1 0.9M441.9 654.4l2.3 0.2M524.4 672.6l1.9 0.7M516.9 698.2l1.9 0.7M511.4 644.2l1.9 0.9M454 728.8l1.4 0.3M471.2 666.1l0.8 1.9M527.1 636.2l0.4 2.1M450.2 719.3l-0.6 1.7" stroke="#8a7a50" stroke-width="0.9" stroke-linecap="round" fill="none" stroke-opacity="0.55"/>
<path d="M542 679.8l0.6 -0.6M476.1 631.9l1.4 -0.4M533.3 723.8l1.6 -1.8M462 629.6l1.4 -1.3M479.1 642.9l1 -0.1M540.6 674l0.8 -1M478.3 676.7l1.4 -1.4M482.9 731l0.7 -0.6M497.1 672.3l2.2 -1.2M499.2 673.6l1.6 0.3M509 705.9l1.3 0.3M531.9 692.7l1.1 0.1M459.1 725.5l2.1 -1.4M484.8 687.3l0.9 -0.1M501.4 737.7l2.8 -1.1M493.9 674.4l0.9 -0.6M522.2 693.7l2.1 0.4M446.6 677.4l1 -2.5M532 678.9l0.7 -0.2M542.8 625.3l2.6 -0.6M472.7 713l0.6 -0.3M535 711.8l0.9 -1.8M489 672l2.9 -0.2M528.4 656.6l0.8 -0.7M440.4 728.1l1.5 -0.9M524 631.2l0.4 -0.7M455.6 716l0.7 -0.3M559.2 681.4l1.9 -0.2M483.3 630.7l1.3 -1.1M538.4 683.6l2.2 0.2M470.3 631.5l3 0.3M459.9 725.8l1 -2.1M463.9 627.6l2.1 -1.4M495.8 637.6l2 -0M471.8 720.4l2.5 0.3M516.1 729.6l0.9 -0.1M463 719.8l1.1 -1M487.8 693.8l0.7 -0.2M539.2 719.3l1.3 -0.2M542.3 650.8l1.2 0.2M549.7 625.4l0.3 -0.5M454.3 639.1l1.7 -1.7M464.3 649.2l1.9 -0.5M537.5 710.1l1.9 -0.1M440.8 638.9l2.3 0.2M476.2 676.6l2.6 -1.3M537.3 687.7l1.4 -1.3M484.5 737l1.3 -1.6M447.5 732.8l0.6 -0.4M476.9 627.7l2.1 -0.5M537.3 691.4l1.3 -2.2M483.3 735.7l1.3 -1.4M534 703l2.7 0.1M455.6 632.2l0.5 -0.3M494.9 685.6l0.7 -0.7M533.8 694.5l2.4 0.6M454.7 674.8l0.5 -0.3M509.2 682.4l0.8 -0.6M468.4 715.9l1.5 0.3M502.5 630l0.4 -0.5M525.1 655.7l0.5 -0.4M532.5 718.2l0.8 -0.4M481.5 712.9l1.3 -1.3M490.9 633.9l2 0.6M548.5 721.5l2.5 0.5M476.2 635.4l0.9 -0.1M515.6 645.6l1.5 -2.1M546.7 729.8l0.7 -0.7M550.3 656l1.4 -0.8M444.9 680.2l1.1 0.1M493.6 717.7l2.5 0.3M523.9 681.4l1 -0.4M537.2 671.1l0.6 0.2M447.3 628.9l1.5 0.5M496.9 673.9l2.1 -0.8M550.1 638.3l0.5 -0.8M459.1 715.6l1.1 -2.7M474 637.9l0.8 -0.5M548.6 695l1.9 -1.6M439.6 637.8l0.6 -0.3M532.7 694l0.7 -0.3M502.3 741.1l0.9 -2.1M483.9 726.7l2.1 -2M496.3 664.6l1.2 -0.5M467.4 723l2.7 1.1M528.9 676.8l1.2 0.4M529.6 687.1l1.4 -0.6M443.4 648.1l1 -1.3M497.9 635.7l1.3 -0.3M536.7 675.7l1 -1.2M514 637.5l2.1 0.7M454.8 640.3l0.9 -0.9M466.9 703.5l0.8 -2M481.6 715.6l0.9 -0.6M489.9 667.6l0.4 -0.6M489.3 650l0.4 -0.3M535.5 692.8l0.7 -1.3M537.7 679.2l2.1 0.1M532.4 671.1l1 -0.4M519.5 626.6l1.6 -1.8M473.8 681.1l0.5 -0.6M524.6 686.2l1.1 -0.3M492.9 721.7l1.3 -1.9M534.4 704.7l0.4 -0.5M485.7 693.9l0.5 -1.2M474.6 737.5l1.7 -0.2M460.2 684.3l1.7 -0.1M526 627.9l1.9 -2.1M518.7 680.4l0.5 0.1M456 721.9l1.9 -1.3M453.3 727.4l2.6 -1.3M469 726.1l1 0.2M540 697.7l1.8 -0.4M492.4 681.7l1.2 -0.2M515.1 724.2l0.9 -0.2M497.2 632.8l0.9 -2.3M445.8 722.5l0.5 -0.3M491.8 676.9l1.6 -0M482.5 651.4l1.9 -1.7M544.7 667.8l0.9 -1M493 627.1l2.6 0.1M492.7 709.6l1.5 -1.5M530.6 701.1l1.6 -0.9M472.3 691.1l1.8 -0.9M475.7 639.8l1 -0.6M479.2 653.7l1.2 0.1M519.7 623.8l2.3 -1.5M485.2 627.4l2 -0.7M485.6 707.5l2.9 0.4M460.5 723.9l2.7 -1.3M491.1 716.1l1 -2.3M474.3 657.9l0.6 -0.9M533.8 648.1l0.6 -0.2M457.7 630.8l2.3 0.3M534.5 698.7l0.6 -0.3M478.2 675.6l2.7 0.4M463.7 688.9l2.9 0.4M476 726.6l2.2 0.7M491.4 665.1l2.3 -1.1M509.1 702.5l0.9 -0.1M499.5 671.7l0.7 0.2M502.9 633.1l2 0.5M536.8 635.2l1.4 0.5M528.6 677.3l2.3 -0.8M482.3 661.7l1.4 -0.3M544.1 652.7l1.3 0.3M538.5 638.9l0.6 -1.3M551 729.9l0.5 -1.2M543.5 668.5l2.7 0.2M474.6 635.3l2.5 -0.5M447 634.7l0.7 -0.6M531.7 715.6l1.4 -2.1M535.8 687.1l1.9 -2M523.4 734l1.4 -1M484.5 650.5l0.7 -1.1M510.2 675.1l1.7 -1.9M536.2 640.2l1 -0.2M454.6 649.6l1.2 -2.3M501.3 661.4l1.1 -1.7M510.9 713.4l0.7 0M488.6 721l2.8 -0.8M484.2 710.6l1.2 -1.8M493.1 681.3l1.7 0.4M465 719l2.6 -0.7M461.7 700.8l0.4 -0.8M482.9 716.9l0.6 -0M549.9 711.4l0.8 -1.8M530.9 692.7l1.9 0.3M508.2 727.7l2.1 -0.3M494.9 635.6l1.4 -0.3M441.2 667.1l1.6 -1.7M529.9 696.4l1.9 -0.4M525.5 682.9l1 -0.8M539.7 674.2l2.2 0.8M492.3 729.8l1.4 -1M543.7 681l0.3 -0.6M538.6 710.9l1.9 0.5M546.8 686.5l1.4 -2.2M512.6 741.5l1.3 -0.8M510.9 644.9l1.6 -1M531.2 635.1l0.9 0.2M456.1 733.4l1.7 -0.5M530.8 673.7l1.5 0.3M534.2 701.5l1.7 -0.7M444.8 635.5l0.7 -1M550.3 725.5l1 -0.9M516.1 669.1l2 0.4M483.3 724.2l2 -1.5M542.9 638.9l2.3 -1.2M477.5 699.2l2.2 -1.9M479.8 722.8l1.3 -0.4M532 641.6l2.2 -0.6M460.4 672.9l2.2 0.8M479.5 685.5l2.3 -1.6M445.6 723.1l1.8 0.5M544.3 664.9l1.2 -1.4M479.3 634.5l2.3 0.1M548.4 685.5l0.8 0.1M534.2 646.8l1.4 -1.5M540.6 638.5l2.2 0.8M462.7 633.4l1.9 -0.9M451.8 634.9l0.9 -1.9M497.7 682.5l2 0.3M495.2 719.9l0.8 -1.6M480.9 647l1.3 -1.3M510.9 727.4l1.2 -2.4M468.3 641.5l2.5 -0.6M480 734.8l1 -0.3M482.6 685.3l1.1 -1.9M511.3 655.5l1.6 -1.3M506.7 647.7l0.9 -0M524.6 666l2 0.6M534.5 694.5l1.7 -0.6M517 623.9l1.2 -0.5M472.8 634.9l1.5 0.3M467.5 709.8l1.6 -0.2M446.3 651.1l0.7 0.2M548.7 705.8l2.2 -1M501.7 624.8l2.1 -0.6M491.5 713.8l0.5 -1M514.9 735.9l2.8 0.8M548 691.2l1.4 -2.1M468.9 659.4l0.6 0.2M470.8 658.8l1.4 -1.5M473.5 716.9l1.3 -1.2M518.3 632.3l0.6 -0.5M525.4 685.8l2 0.8M543.2 676.9l1.5 -1M538.9 622.7l1.5 -0.4M540.4 688.7l1.4 -0.4M584.9 641.7l2.8 1.1M487.9 677.9l0.7 0.3M535.2 652.7l1.7 -1M521.9 636.4l0.4 -0.5M465.9 680.4l1.7 0.3M464.7 676.1l0.6 -0.4M512.2 648l0.6 -1.2M449.4 679.1l1.7 -1.6M536.8 673.6l2.7 0.6M535 655.1l0.7 -0.4M522.5 688.9l1.4 -0.2M464.9 710.1l1.5 0.1M498.6 630.5l2.1 -2.1M473.5 718.1l1.5 0.6M536 645l1.8 -0.6M529.2 678.8l1.8 0.4M506.6 665.6l1.8 0.4M475.1 639.2l1.3 -0.3M470.4 668.4l1.9 -0M475.2 730.4l1.5 -0.5M480.2 721.5l0.5 -1M550.7 652.3l1.5 -0.4M492 683.8l2.2 -0.9M530 714.1l0.5 -0.2M457 684.5l1.8 -2.1M520.3 636.8l2.1 -1.3M485.9 671.7l1.9 0.3M536.3 677.2l1.2 0.1M484.5 677.1l1.7 -1.8M527.3 683.9l1.9 -1.4" stroke="#4c4690" stroke-width="2.0" stroke-linecap="round" fill="none" stroke-opacity="0.9"/>
</g>
<rect x="442.2" y="629.8" width="107.4" height="106.0" fill="none" stroke="#44dd55" stroke-width="1.2"/>
<rect x="439.8" y="627.0" width="112.6" height="112.0" fill="none" stroke="#484848" stroke-width="1.7"/>
<clipPath id="c21"><rect x="571.2" y="391.0" width="114.0" height="113.6"/></clipPath><g clip-path="url(#c21)">
<rect x="571.20" y="391.00" width="114.00" height="113.60" fill="#040a2c"/>
<path d="M649.8 463.1l0.5 0.4M663.3 449.2l0.5 0.5M613.5 457.5l-0.1 0.1M597.7 395.8l-1 1M641.4 394.9l0 0.5M679.7 432.9l-0.2 0.1M677 442.5l0.4 0.7M592.5 395.2l0.9 0.8M595 501.1l-0.9 0.9M637.4 473.9l0 0.2M594.1 495.9l0.3 1.2M622.7 434.8l0.5 1.3M581.8 472.6l0 1.4M633.9 476l-0.1 0.3M642.2 411.5l0.1 0.2M610.7 458.8l0.4 0.1M664 479.3l-0.3 0.4M673.7 499.9l-0.6 0M638.5 491.3l0.3 0.6M671.1 409.4l-0.1 0.1M626.3 486.1l0.1 0.1M619 410.4l0 0.1M683.3 475.7l0.5 0.5M631.1 473.8l0 0M661.9 491.1l0.2 0.8M668 426l0.5 0.6M572.4 468.8l1.3 0.1M644.6 487.8l0.6 0.6M680.5 493.9l0.2 0.1M574.1 441.8l-0.2 0.1M585.6 452.2l0 0.5M590.1 411.9l-0.3 0.4M576.5 471.8l-0.9 0.8M572.1 443.7l-0.1 0.1M652.3 419.7l0.5 0.8M615.5 426.1l0.8 1M633.8 498.7l-0 0.1M654.9 500.9l-0.3 0.4M635.1 398.2l-1.1 0.1M607.5 503.8l0.1 0M664 477.3l-0.2 0.6M644.7 441.3l0.2 0.7M596.9 396.5l0.4 0.4M664.4 473.2l0.5 0.4M626.7 462.8l1.3 0.4M627.3 472.5l-1 0.8M657.7 466.9l-0.7 1M599.2 495.1l-0.2 0.5M681.1 503.4l0 0M615.8 407.5l0.8 0.2M678.8 475.3l0.6 0.2M651.5 414.4l-0.2 0.4M600.9 499.1l0.3 0.3M588.7 468.4l-0.1 0.3M614.4 497.9l0.1 0.6M603.2 410.8l0.4 0.4M680.7 394.9l-1.1 0.2M573.4 447.9l-0 0.1M598.6 391.9l0.7 0.2M623 492.6l0.5 0.2M664.9 451.1l0.1 0M634.1 416.6l-1 0.5M671.9 393l0.8 0.2M656.3 477.3l0.3 0M640.3 461.5l-0.5 0.4M601.9 431.1l-0.2 0.4M579.3 398.7l-0.4 0.6M602 397.7l0 0.1M645.7 409l-0.1 0M617.8 469.5l-0.1 1M665.5 415.3l0 0.1M642.8 410.8l0 1M668.2 482.6l-0.7 1.1M659.9 493.6l-0.7 0.2M615.7 498l-1 0.8M611.3 460.7l-0.6 0.6M589.6 496.7l-0.7 0.3M685 454l-0.7 0.8M612.5 400.4l0.5 0.3M664.1 432.1l0.2 0M637.4 394l0.7 0.6M677 450.4l-0.1 1.3M598.6 439.2l-0.7 0.6M645.4 419.7l0.2 0.6M601.5 452.1l0.6 0.1M638.1 482.2l-0.7 0.8M614.2 435.7l-0 0M636.9 504.3l0.2 0.2M663.8 445.8l0 0.1M628.2 443.4l-0.2 0.5M650.2 489.3l0.4 1M660.3 481.1l1.1 0.8M672.7 399.8l-0.2 0.4M666 421.1l0.6 0.8M594.8 447.5l0.8 0.6M609.4 464.8l0.4 0.3M577.8 470.1l0.5 0.2M645.8 393.4l-0.3 1M628.3 500.3l-0.2 0.5M612.9 430.3l-0.4 1M629.8 416.4l1.1 0.1M623.1 416.1l-0.2 0.8M627.1 409.8l0.6 1M595.8 396.5l0.2 0.1M667.8 416.1l-0 0.2M617.4 477.4l-0.2 0.2M580.9 418.6l0.8 0.2M636.9 483.9l-0.4 0.6M605.7 427.1l0.6 1.2M575.1 447.6l-0.9 0.8M592 496.2l-0.1 0M653.2 451.3l0.1 0.2M646 435.2l1.1 0.2M581.5 427.9l-0.8 0.8M606.4 403.7l0.2 0.9M613.9 489.3l-0.3 0.5M625.2 454.2l0.4 0.3M605.9 428.5l-0.3 0.1M594 394.6l-0.3 0.1M647.2 417.2l0.1 0.9M631.4 433.6l-0.1 0.4M650 445.5l-0.4 0.2M587.8 468.2l-0.6 0.9M671.4 419l0.7 1.2M682.5 410l-0.2 0.5M601.6 481.2l-0.6 0.6M670.6 492.5l-1.1 0.1M651.2 449.4l-0.6 1.2M646.9 424.5l0.1 0.2M571.7 401.5l-0.5 0.4M643.8 403.6l0.4 0.6M652.4 438l-0.4 0.4M611 470.7l-1.2 0.1M642.5 426.5l-0.9 0.5M610.5 497.4l-0.2 0.5M603 480l0 0M610.6 415.2l-0 0M636.5 454l-1.1 0.6M590.5 477.4l-0.1 0M600 415.6l-0.4 0.3M656.3 473.9l0.2 0.3M620.6 490.3l1.3 0.4M675.9 443.4l-0.8 0.6M641.4 502.5l-1.2 0.3M652.7 446.3l1.1 0.6M584.9 482.4l1 0.1M587.3 463.2l0.9 0.2M681.2 441.1l0.3 0.7M616.6 441.1l0.9 0.6M658.3 416.6l-0.1 0M618.1 426.6l0.2 0.3M584.4 451.6l0.1 0M598.6 429.8l-0.4 0.2M625.1 478.6l0.5 0.8M656.2 451.7l-0.4 1M601.3 467.3l-0.1 1.4M582 473.2l-0.3 0.3M632.2 419.2l-0.3 0.1M642.9 404.1l-0.4 0M632.5 470.1l-0.1 0.7M660.3 417.9l0.2 0.6M648.1 420.6l0.2 0.9M604.5 433.8l-0.1 0.2M677.4 462.5l0 1.2M673.1 397.8l0.2 0.5M620 397.5l-0.9 0.1M592.4 429l0.8 0.7M590.9 458.6l-0.5 0.9M680.3 487.3l-0.6 0.3M590.4 436.1l0.1 1.1M590.1 412.2l-0.4 0.7M617.2 500.4l-0.2 0.4M629.8 411.4l0.1 0.1M614.7 465.2l-0.6 0.5M580.8 473.6l-0.4 0.4M631 419.4l0 0.5M582.8 436.3l-0.8 0.5M672 482l-0.3 0.5M661.7 471.4l0 0.4M661.8 439.5l-1.1 0.3M614.5 429.9l-1.3 0.4M612.5 480.5l0.7 0.8M680.8 401.2l-0.2 0.3M679.1 444.3l-1.1 0.1M597.1 420.5l1 0.5M677.2 413.8l-0.1 0.9M629.7 446.8l-0.9 0.9M662.8 436.3l-1.3 0.2M618.6 416.8l0.3 0.2M654.4 396.8l-0.3 0.8M635.9 496.3l0.4 0.1M601.9 503.3l-0.7 1.1M599.1 446.1l0.3 0.5M625.7 465.3l-0 0M681.6 453.7l0.5 0.7M652.1 494.4l0.5 0.6M576.9 475.5l-0.3 0.3M639.3 410.2l0 0M615.5 450.4l-1.1 0.1M650.3 479.8l0.5 1M660.6 419.5l-0.3 0.6M599 466.6l0.3 0.1M645 463.7l1.2 0.7M625.9 420.4l1.2 0.6M575.8 464.1l0.7 0.6M643.6 413.9l-1.2 0.6M669.8 405.8l0.1 0.5M605.3 434.8l-0.2 0.2M667.8 429.7l-0.7 0.3M631.5 463.2l0.2 0.8M607.1 408.6l-0 0M662.4 408.8l0.1 0.9M666 450l-0.3 0.5M670.7 449.8l0 0.1M682.8 439.4l-0.4 0.1M573.2 419.1l-0.3 0.6M609.3 473.7l0.4 0.3M621 470l-0.6 0.4M682.4 483.4l0 1M614.1 399.7l-1 0.7M669.1 453.6l0.1 1.4M580.4 434l-0.7 0.4M661.3 433.5l-0.8 0.6M573.6 465.6l0 0M658.2 410.1l1 0.2M650.4 496l-0 0.1M642.1 399.8l0 0M627.1 460.6l-0.1 0.2M593.8 479.7l-1.2 0M644.7 430.2l0.6 0.9M642.6 503.4l1.1 0.3M611.9 436l0.7 0.7M622.7 425.7l0.2 0.9M585.9 493.1l0.1 0.9M644.9 482.3l-0.3 0.4M581.5 488.6l0 0.4M671.1 488l-0.5 0.2M634.1 440.1l-0.8 0.9M663.6 430.5l0.6 0.2M593.9 474.1l-0.2 0M622.1 404.5l-0.1 0.6M682.5 432l0.4 0.5M602.7 488l0 0.1M625.9 427.8l0.7 0.1M620.8 478.1l0.2 0.6M602.7 453.5l-0.1 0.3M645.8 490.4l-1.1 0M679.9 441.5l0.1 0.5M680 482.4l0.4 0.2M647.8 470.8l0.1 0M609.7 395.7l0.6 0.2M631.6 460.6l1.2 0.5M660.9 460l0.3 0.6M678.9 498.8l-1.3 0.1M574.4 485.2l-0 0.3M682.2 441.3l0.2 0.1M664.2 406.9l0.5 1.2M635.6 488.5l0.7 0.1M668.2 437.7l0.2 1.1M612.1 417l-0.7 0.1M658.7 411.4l-0.1 0.5M572.2 489.6l-0.1 0.2M604.2 421.6l-0.1 0.5M587.7 418.8l0.8 1M653.5 391.1l-0 0M650.4 444.1l-0 0.1M608.2 395l0.1 0.7M596.4 398.5l0 0M575 472.4l-0.2 0.6M683 482.8l0.1 0.6M589 490.3l-0.2 0.8M638.6 401.3l0.2 0.3M581 472l-0.4 0.4M678.5 418.7l0.2 0.7M586.1 453l-0.2 0.6M633.1 502.9l-0.1 0M622.3 400.2l-0.7 0.1M657 479.6l-0.1 0.2M582.6 450.2l-0.2 0.4M597.4 495.5l-0 0M673.7 460l0.5 0.4M669 500.1l-0.8 0.2M647.2 429.5l0.4 0.7M634.2 489.5l-0.9 0.9M609.4 400.7l0.4 0.2M661.7 404.6l-1.2 0.3M598.4 424l-0.2 0.6M573.5 400.8l1.1 0.1M592.4 501.9l-0.2 0.6M665.1 438.1l-0.5 0.4M605.9 489.9l-1.1 0.6M610.3 402.8l1.2 0.2M573.9 443l1.4 0.3M601.8 470.7l0.4 0.3M673.8 409.8l0 0.1M578 406.7l-0.7 0.6M576.3 453.6l0.1 0M678 402.7l-0.6 0.4M615.7 481.2l0.6 0.5M684.6 484l1.3 0.1M628.5 392.4l0.8 1.1M671.2 439.3l0.9 0.5M654 444.2l-0.2 0.1M675.2 426.7l1.1 0.4M679.7 462.3l-0.6 0M664.9 416.3l-0 0.1M578.1 454.1l0.9 1M680.7 498l0.1 0M681.2 410.5l-0.2 0.2M583.1 409.2l0.3 0.7M588.6 492.9l0.4 1M648.4 404.9l0.2 1.3M668.4 393.4l0.4 0M596.1 472.5l-1 0M618.4 480.5l0.5 0.3M661.8 441.8l0.5 0.2M667 431.3l0.6 1.2M660 494.6l0.3 1.1M586 452.2l0.9 0.6M578.7 442.6l-0.7 0M675.8 413.8l-0.4 0.5M636.3 462.1l0 0M589.7 463.4l0.2 0.6M616.4 490.9l-0.2 1.1M609.2 499.5l-0.1 0.4M654.7 469.1l-0.4 1.2M661.9 456.5l-0.1 1.3M621.7 454.8l-0.4 0.9M632.3 414.3l-0.7 0.9M623.7 487.7l0.7 0.3M654.5 413.4l-0.9 0.4M679.3 452.1l-0 0M675.7 476.8l-1.1 0.8M578.1 410l-0.1 0M674.5 479.3l-0.1 0.6M589.5 436.5l0 0.1M589.6 411.2l0 0.1M622.2 471l-0.8 0.6M628.3 396.2l0.2 0.2M639.5 447.6l0.3 0.2M684.7 470.7l-0.1 0.2M632.5 463l0.1 1.2M590.5 486l0.7 0.5M665.2 441.6l-0.3 0.3M680.8 426.2l0.3 0.6M633.4 423.7l-0.6 0.3M684 414l0.3 0.1M603.8 415.9l-0.9 0M680.3 496.9l0.6 0.5M596 398.9l-0.4 0.4M618 405.3l-0.1 0.2M633 475.4l-0.7 0.3M630.4 431.9l0.5 0.5M653.3 441.1l0 0M578.1 393.6l-0.7 0.5M639.3 416.6l0.6 0.7M608.7 406.3l-0.2 0M681.9 469.6l1 0.4M594 448.7l-0.6 0.2M572 457.4l-0.3 0.7M613.5 472l0.5 0.7M576.2 492.3l0.4 0.1M595.3 452.7l-0 0.1M632.3 458.8l0.1 0.3M603.7 484.8l0 0.3M646.8 422.3l0.3 0.4M612.8 486.1l-0.8 0.5M603.3 469.1l0.6 0.1M592.5 399.3l-0.4 0.1M620.7 457.2l-0.1 0.5M668.7 481.2l-0.1 0.6M659.1 485.9l1.2 0.4M596.1 403.6l-0.3 0.5M644.6 500.9l-0.9 0.6M609.6 419.1l-0.5 0.2M601.3 454.8l-0.8 0.1M584.6 402.3l0 0.2M650.2 413l-0 0M657.3 456.6l0.5 0.1M648.7 420.7l-0 0.1M655.9 495.8l1.3 0.5M624.3 403.7l-0.6 0.4M664.4 419.9l1.1 0.3M576.5 456.9l-0 0M674.3 434.7l-0.8 0.8M660 459.1l0.2 0.8M630.8 449.9l-0.6 0M675.1 454.4l-0 0.1M627.7 445.5l-1 0.3M671.2 497.5l0.2 0.1M574.8 405.2l0.6 0.4M594.9 466.7l0.8 0.2M676.4 503.9l-0 0M618.7 443.2l-0 0.1M668.7 402.5l-0.1 0.9M584.2 447.3l0.5 0.3M597.6 483.5l-0.1 0.1M664.3 478.6l0.4 1.2M618.4 462.7l1 0.5M650.3 416.8l0 0.3M602 414l-0.1 0.1M654.6 440.9l-0.2 1.3M573.6 431.4l-0.1 0.3M642.8 427.3l1.1 0.3M576.1 500.6l-1.1 0.1M646.2 436.4l-0.1 1M662.8 497.8l0.3 0.3M609.7 432.8l0.5 0.6M602.5 441.2l-0.8 0.8M677.6 421.4l-0.6 0.9M626.8 495.6l-0.8 0.2M612 406.1l0.1 1M609.6 446l0 0.4M573.5 416l-0.4 0.6M654.7 440.3l-1 0.9M636.2 482.4l0.2 0.3M628.9 396.9l-0.7 0.2M632.7 470.6l0.5 0.1M632.7 460.4l-0.9 0.1M636.2 474.4l-0.9 0.3M662 395.3l0.2 0.4M672.5 454l-0.4 0.7M613.6 442.3l0 0.1M585.9 412.5l-0.3 0.5M607.6 480.3l0.9 0.3M671.3 407l-0.2 0.8M659.7 483.8l-0.1 0.1M647.1 499.8l0 0.1M605.7 430.2l0.2 0.4M628.8 420.2l-0.7 0.2M599.6 495.1l-0.8 0.6M683.3 425.6l-0 0M615.5 493.8l-0.2 1.1M618.9 411.8l-0.3 0.3M630.7 465.4l1.2 0.5M658.9 415.6l-0 0.8M644 436.4l-0.8 0.2M623.2 474.1l-0.4 0.1M635.9 478l-0.2 1.3M640.4 477l-0.2 0.5M580.2 399.8l0.1 0.2M660.2 468.9l0.5 0.3M670.6 486l0.3 0.9M629.1 429.7l-0.6 1.1M579 444.8l0.2 1.1M586.7 459.7l0.2 0.5M638.6 485.2l-0.2 0.7M652.1 470.2l-0 0M576.8 473.2l0.4 1M575.7 474.8l-0.8 0.5M676.1 438.1l0 0M596.8 417.2l-0.1 0.1M677.1 431.2l-0.1 0.7M654.3 440.1l0 0M649 501l-0.5 0.7M682.1 410l0.4 0.7M596 479.8l0.3 0.3M573.2 412.2l-0.6 1.1M586.3 467.4l-1.2 0M656.9 400.6l0.2 1.1M573.9 392.6l-0.3 0.7M681.4 398.8l-1.2 0.3M665.7 460.8l0.1 0.6M676.8 477.1l0.1 0.7M633.5 488.7l-0.3 0.8M683.4 487.7l-0.4 0.6M600.5 462.5l-0.3 0.3M680.9 469.7l-0.2 0.7M601.7 393.8l0.4 0.5M595.2 414.5l0.5 1.3M587.2 400.9l0.2 0.9M573.6 447.3l0.6 0.5M593.6 403.3l0.2 0M660.5 410.8l0.2 0.3M670.3 485.7l-0.1 0.1M572.6 436.7l0 0M623.4 414.2l0.4 1M634.3 443.2l-0.7 0.7M615 472.9l-0.2 1.3M609.3 440.4l0 0.4M607.9 394.2l-0.1 0M681 418.9l-0.5 0.2M648.5 479.1l0.4 0.3M669.6 456.2l-1.1 0.1M638.7 403.6l0 0.8M573.3 430.3l-0.5 0.2M676.2 427.6l0.4 1.1M637.1 395.7l0.9 0.2M656.3 397.9l-0 0.9M660.4 426.8l0.1 0.3M664.7 414.5l-0.4 0.4M609.8 407.7l-0 0.5M685 451.7l-0.5 0.5M600.2 470.3l0.9 0.7M578.1 412.6l-0.5 0.2M610.6 418.7l-0.1 0.6M673 405l-1 0.1M652.1 482.5l0.7 1M667.1 409.1l-0.6 0.1M620.6 439.2l-0.5 0.4M623.7 439.4l-1.2 0.6M607.5 503.6l-0 0M604.5 464.4l-0.4 0.9M617 488l-0 0.4M669 482.4l0.5 1M673.1 399.5l0.1 1M644.5 482.9l-1 0.8M669.5 449l-0.9 0.3M579.2 436.4l1 0.1M667.3 468.8l-0 0M614.6 464.3l0.1 0.1M648.9 461.2l0.5 0.4M677.8 424l-0 0.6M607.9 413.5l-0.1 0M604.7 421.7l-1 0.4M643.2 459.2l-0 0M671.6 494.7l-0.1 0.1M599 423.9l1 0.9M648.6 427.7l0.6 0.6M638.3 440.4l-0.2 0.9M594.6 400l-0.1 0.1M571.6 394.5l-0.5 1.1M661.2 492.4l0.1 0M659.6 421.2l0.3 0.6M666.5 456.5l-0.8 0.3M647.6 394.9l-0.5 0M574.7 467.2l-0.5 0.6M603.4 433.6l0 0.2M586.2 396.8l-0.4 0.8M624.3 400.9l0.4 0.6M595.9 482.9l0.5 0.7M578.8 421.9l1 0.1M674.3 500.4l-0.9 0.6M612.1 420.6l0.1 0M596.1 428.7l0 0.5M612.9 444.2l0.2 1.1M681.7 492.9l-0.3 0.2M597.9 407.6l-0.5 0.9M683.1 443.8l0 1.4M586.8 482.9l0.5 0.4M646.4 491.8l-1 0.3M613.8 410.6l0.3 1.2M648.1 480.8l0.7 0.5M646.9 403.5l-0.4 0.3M572.6 416.3l0.4 0.5M602 440.2l-1.1 0.7M621.4 453.9l0.9 0.7M586.8 442.7l-0.2 0.4M645.5 456.5l0.2 0.8M585.5 464.5l0.3 0.4M618.8 403.3l0.3 0.8M640.1 448.2l0.7 1M667.5 420.2l0 0M670 444l-0.1 0.3M676.7 454.1l-0 0.3M595.2 402.3l0.8 0.9M635.8 391.3l-1.3 0.1M650.2 395.8l1.1 0.5M656.5 457.9l1 0.7M645.4 403.6l0 0M614.9 405l-0.4 0.2M603.4 404.6l0.1 0.1M587.1 503.8l-0.4 0.2M588.9 396.8l-0.7 0.3M612.8 481.5l-0 0.5M608.9 463.8l0.4 0.3M575.7 433.8l-0.2 1.3M625.1 451.4l-0 0.2M583.6 416.7l-0.3 0.4M626.3 456.8l1.1 0.5M609.8 405.4l-0.6 0.7M600.4 470.9l-0.1 1.3M585.3 424l0.5 0.3M613.1 463.9l-0 0.7M656.7 474.7l0.4 0.2M611.9 438.7l0.9 0.3M655.9 487.6l-0.1 0.4M600.3 447.4l-0.1 0M674.5 492.3l0.5 0.3M677 397.4l0.2 0.3M683.2 440.9l-0.6 1.1M611.9 428.9l0.2 0.2M672.3 454.8l0.4 0.5M611 393.8l-0.2 0.1M650.4 440.1l0.9 0.1M666.5 461.2l-0.4 0.6M618 403.8l-0.4 0.8M574.2 456.5l1.3 0.2M644.7 484.8l-0.4 0.6M595.8 392.4l0.9 0.5M583.7 492.4l0.1 1.2M604.2 404.3l0.6 0.7M653.7 391.4l0.8 0.5M612.3 475.4l0.9 0.2M632.8 499.9l-0.5 0.3M657.5 419.1l-0.2 0.1M627.4 438.7l-0.8 0.1M579.4 478.8l-0.1 0.3M669.6 462.8l0.5 1M647.5 412.1l-0.1 0M581.9 438l0.1 0M661.8 500l0.4 1.2M646.8 446.3l0.1 0.1M677.5 427.5l-0.3 1.3M659.6 416.6l-1.2 0.3M607 421l-0.7 0.5M625.8 503.7l-0.6 0.7M641.9 457.7l-0 1.1M602.8 431.4l-0.1 0.4M684.4 420.9l-0.1 0.6M579.3 414.9l0.2 1.2M639.1 418.6l-0.8 0.9" stroke="#15339c" stroke-width="2.6" stroke-linecap="round" fill="none" stroke-opacity="0.9"/>
<path d="M607.1 401.4l-0.3 0.2M672.3 444.2l-0.2 0.7M680 410.6l1 0.7M626.3 396.5l-0.2 1M685.1 488.6l0.8 0.2M576 499.6l-0.8 0.6M645 434.1l0.2 0.5M649.3 463.7l-0.5 0.4M674.5 419.3l-0.3 0.3M611.8 401.4l0.1 0.9M617.4 456.2l-0.5 1.2M585.3 423.3l0.2 0.1M614.7 427.3l-0.1 0.2M651 420.4l0.6 0.2M585.7 447.5l-0.1 0.9M668.9 479.8l-0.2 0.5M650.4 478.5l0.1 1.1M622.7 487.2l-0.5 0.3M679.3 397.3l-0.9 0.9M605 421.6l0.4 0.4M630.6 473.6l0.4 0.1M572.9 502l0.7 0.6M572.7 498.8l0 0M659.2 415.9l0.2 0.5M664.2 457.9l0.2 0M621.8 447.7l0.1 0.1M681 428.9l-0.5 0.2M608.3 471.4l0.3 0.2M613.9 500.3l-0.1 1.1M618.7 448l0.2 0M586.9 433.3l0.3 0.6M660.9 445.5l-0.7 0M623.1 472.8l0 0M629.4 393.5l-0.7 0.7M675.5 446l0.5 0.2M611.6 472.4l1 0.4M631.7 435.6l-0.6 0.1M617.8 454.8l-0.4 1.1M612.5 480.3l-1 0.3M632.1 422.1l-0.3 0.6M651.6 474l0.2 0.3M571.8 494.1l-0 1M608 483.3l-0.2 0.3M575.3 495.7l0 0M632.1 406.8l1.1 0.4M647.1 483.1l-0 0.9M598.6 454.2l0.4 0.5M657.4 496.3l-0.3 0.1M631.8 497.3l-1.2 0.3M595 396.9l1 0.5M573.2 479.4l-1.1 0.3M593.2 470.6l0.6 0.3M615.6 471.7l0.4 0.9M575.5 496l-0 0M678.5 465.3l-1.3 0.1M628.1 400l0.4 0.1M614.7 495.3l-0.1 1.1M631.3 480.9l0.8 0.8M652.1 425.2l0 0M592 475.7l-0.1 0.9M612.9 447l-0.3 0.3M622.4 449l0.5 0.2M602.6 422.9l-0.9 0.5M668.2 397l-0.1 0M603.2 501.2l-0.9 0.4M663.1 397.2l-0.5 0.1M584.1 421.5l-0.3 0.2M682.6 483.2l0 0.2M590.8 422.3l-0.7 0M612.1 436.2l0.4 0.4M617 436.7l0.3 0.2M573.8 502.4l-0.3 0.9M654.3 418.5l-0.1 0M658.8 491.9l0.3 0.1M650 443.9l-0.1 0.1M660.8 498l0.3 0.4M582.1 418.9l0.7 0.9M638.7 469.6l0.2 0.2M679.3 407l-0.7 0.6M587.1 404.6l-0.6 0.4M651.8 441.5l0 1.1M575.6 463.6l0.1 0.1M598.7 493.3l1 0.5M575.2 400.7l0.9 0M674.6 418.2l-0.6 1.1M601.6 422.2l0.1 0.3M644.3 475.3l0.5 0.1M609.8 423.3l-0.6 0.8M655.6 495l0.5 0.7M615.8 442.1l-0.7 0.2M637 462.3l-0.4 0.7M623.7 392.2l0.2 0.7M665 437.4l-0 0M604.1 466.2l-0.4 0.1M620.1 449.4l-0.1 0.5M663.4 431.6l0.4 0.9M575 438.6l-0.8 0.5M675.4 458.7l0.1 0.6M609 415.2l0.9 0.5M647.6 492.1l0.7 0.7M633.2 467l0.1 0.9M603.2 423.3l0 0.1M665.9 466l0.4 0.1M679 465.4l1.1 0.1M639.7 434.5l0.9 0.1M574.2 481.7l-0.1 0M627.5 477.6l0.4 0.3M625.9 467.2l-0.6 0.1M598.6 481.6l-0.1 0.9M597.6 415.5l-1.2 0.2M615.2 421.9l-0.2 0.1M658 444.1l-0.6 0.3M591.7 429.2l1 0.6M596.3 403.9l0.8 0.4M600.3 433.2l-0.3 0M679.8 439.3l-0.6 0.8M597.1 400.2l-0 1.2M601.1 487.5l-0 0.1M658.1 433.7l-0.3 0.3M608.3 393.2l-0 0.3M617 410.5l-0.1 0.3M598.1 392.5l-0.1 0.5M652.9 465.3l0 0.2M637.9 501.6l0.4 0.1M675 400.6l0 0M649.6 428.8l0.4 1.1M611 398.2l0 0.1M620 499.3l-0.4 0.5M673.9 425.9l0.9 0.3M589.1 485.4l-0.5 0.1M599.2 421.1l0.6 0.8M574.1 487.2l0.6 0.6M595.6 420.5l0.4 0.2M597.4 491.3l0 0.2M578 453.8l1 0.3M645.8 432.7l-0.5 1.1M666.1 422.8l0.2 0M581.1 478.5l-0.1 0.2M588 402.1l0 0.2M595.1 498.3l1 0.4M613.8 471.6l0.2 0.2M636.9 438.4l-0.5 0.2M582.4 401.3l0.4 0.7M641.9 476.5l-0.3 0.3M669.1 459.7l-0.5 0.6M613 415.7l-0.3 0.7M605 446.3l-0 0.2M602.2 411.2l0.6 0.9M638.9 484.7l-0.5 1M581.2 425.8l0.4 0.9M683.9 431.4l0.4 0.1M592.3 502.2l0 1.2M598 496.8l0 0M599.4 416.4l0.9 0.7M643.4 473.3l-0 0M581.5 477.6l0.4 0.8M621.9 450.9l-0.5 0.4M611.8 494.3l-0.6 0.9M620.7 457.3l-0.7 0.8M573.7 452.6l0.2 0.4M623.8 449.5l-0.7 0.8M672.5 422.4l-0.5 0.7M653 495.5l0.2 0.9M652.1 459.4l0.7 0.1M584.3 398.2l0.3 1.3M618.2 486.6l0 0M635.1 424.6l-0.1 0M633.2 450.7l1 0.5M609.6 449.7l0.1 0.2M657.2 391.9l0.1 0.1M587.9 433.9l-0.4 0.6M625.2 402.6l-0.1 0M656.5 406.6l-0.6 0.6M678.4 502.5l0.1 0.1M587.2 448.9l0.3 0.1M575.3 422.4l-0.2 0.5M667.8 481l0.2 0.9M591.2 427.7l-0.8 0M669.3 494.2l0.6 0.8M659.5 483.4l-1 0M620.5 420.7l0.1 0.1M585.3 496.1l1 0.4M644.6 419.3l-0.2 0.6M627 399.3l-0.3 0.3M677 440.6l0.4 0.6M657.3 462.9l-0.2 0.3M625.4 398.3l0.2 0.4M587 426l-0.9 0M632.5 494.4l0.6 0.5M617.3 495.3l0.4 0M644.4 456.8l-0.5 0.3M652.9 423.4l-0.6 0.6M575.5 442.3l0.6 0.6M599.8 457.3l1.2 0.2M606.1 444.6l-0.1 0.1M636.2 396.5l0.1 0.1M600.2 460.2l1.2 0.3M620.6 475.4l0 0.2M683.5 443l0.6 0.3M633.9 412.5l0.2 0M637.2 433.9l0.1 0.3M602.8 477.8l-0.6 0.4M682.2 500.9l0.1 0.2M596.5 454.7l0.9 0.2M672.1 459.3l-1 0.6M583.5 481.6l-0.8 0.9M653.9 437.1l0.3 0.2M656.4 491.3l-0.6 0.5M590.8 442.5l0.3 0.4M629.9 412.4l-0.8 0.9M576.8 458.8l1.2 0.4M583.9 448l-0.2 0.1M672 441.4l-0 0.1M610.4 426.5l0.1 0.2M610 501.1l1.2 0.1M657.1 415.5l0.2 0.2M582.6 458.5l0.8 0M651.4 440.2l-0.3 0.4M623.5 504l0.1 1M571.9 434.2l0.2 0.1M670.2 493.4l0.3 0.1M626.4 487.8l-1 0.8M650 437.2l-0 0.3M607.6 410.8l-0.6 1.1M638.2 498.1l0 0M635.8 436l0.7 0.9M656.4 479.1l1 0.4M609.3 499.7l-0.6 1M615.3 422.8l-0.8 0.3M629.6 422.1l-0 0M681.1 429l-0.3 0.9M618.2 393.8l-0.1 0.3M602.6 475.2l-0.4 0.6M623.8 500.3l0 0M647.3 397.3l0.6 0M640.8 476.7l0.5 0.3M644.4 484l0.3 0.6M662.2 495.1l0.8 0.2M629.8 428.3l0.3 0.5M611.1 494.7l-0.1 0.1M645.9 403.6l0.3 0.5M582 465.6l0.6 0.6M677.1 444.7l-0.3 0.3M681.2 473.4l0.1 0M583.8 442.4l0.2 1.1M571.2 436.3l-0.5 1M610.1 430.3l-0 0.1M662.9 497l-0 0M605.5 394l0 0M606.8 402.8l-0.5 0.9M571.5 460.3l-0.7 0.6M616.5 496.3l-0.1 0.2M673.7 408.1l-0.9 0.7M649.2 479.1l-0.3 0.9M667.7 420l-0.2 0.2M583.8 405.2l1.1 0.6M653.5 464.4l-0 0.1M619.7 463.9l0.2 0.2M628.7 463.8l0.1 0.1M642.3 445.7l0.1 1.2M617.5 409.8l-0.5 0.4M609.2 439.6l0.3 0.2M596.7 399.8l-0.8 1M576.7 424.3l-0.5 0.5M663.3 454.8l0 1.3M612.2 477.9l-0.1 0.6M630.1 401.7l-0.2 0.1M613.9 403.6l1 0.3M646.3 427.5l0.2 0.3M682.6 483.3l0.3 1.3M621.3 435.4l-0.3 0.7M624.3 397.6l-0.7 0.3M632 475l0 0.2M609.7 405.5l-0 0.3M580.7 502.6l0.7 0.5M664.5 493.4l-0 1.2M627.6 435.2l0.4 0.7M639.1 412.2l0.3 0.1M641.3 499l0 0.1M600.9 499.1l-0.1 0M682.1 439l1 0.5M668.4 431.1l-0.1 0.6M668.7 446.2l0.3 0.4M668.8 397.5l0.7 0.1M606.5 418.3l0.1 0.4M670 414.6l-0.3 0.2M579.8 444.4l0 0M596.6 402.7l0.4 0.3M632.8 476.6l0.2 0.1M639.9 461.8l0 0M637.2 449.8l0.3 0.9M661.6 451.3l-0 0.1M586.3 431.8l-0.5 1.1M645.5 466.7l-0.8 0.7M635.1 456.8l0.1 0.1M588.2 451.9l0.1 0.1M583.5 468.9l0.4 1.2M583.7 430.8l-1.1 0.5M654.7 392.8l0.3 0.5M672.2 470.8l0.9 0.4M667.7 436.7l0.7 0.1M621.4 457l-0.3 0.8M657.5 393.7l0 0M617 438.6l-0.2 0.1M590.6 491.5l-0.7 0.3M648.1 428.1l-0.9 0.2M635.5 404.4l-1 0.2M608.6 442.1l0.1 0.2M632.3 449.2l-0.1 0.8M575.6 495.5l-0.1 0M660.3 455.1l0.1 0.3M616.7 405.2l-0.1 0.5M596.1 440.1l0.1 0.1M592.2 477.4l-0 0.1M644.9 416.6l-0.6 0.5M600.3 396.2l-0.4 0.8M579.8 395l-0.7 0.9M644.6 445.1l0.5 1.1M600.9 475l-0 0M605.2 457.3l0.9 0M588.1 430.9l0.6 0.5M596.8 409.2l-0.4 1.2M665.6 433l-0.8 0.2M584.8 405.9l0.4 0.7M582.8 404.5l-0 0.1M655.4 485.6l-0.2 0.6M579 416.4l-0.9 0.1M601.2 459.9l0.1 0.1M673.1 408.1l-0.4 0.1M590.3 446.6l0.5 0.3M589.1 397.2l0.3 0.4M617.7 493.2l-0 0.5M623.4 422.1l-1 0.5M681 440.5l1 0.2M645.7 474.6l-0 0.1M587.3 454.2l-0.7 0.3M651.7 421.1l0.1 1.1M582.9 504l-0 0.6M625.5 412.7l0.3 0.5M652.4 392.9l0.7 0.1M619 491.7l0.1 0.9M631 422.6l-0.6 0.1M625.2 396.6l0.4 0.1M639.8 448.4l0.6 0.3M665.6 430.1l0 0M601.2 465.1l-0.8 0.6M649.4 478.4l1.1 0M647.3 493.5l0.1 0.9M660.2 423.1l0.3 0.6M641.4 492l-0.8 0.7M630 410.8l-0.2 0M611 500.9l0 0M676 396.8l-0.2 0.1" stroke="#2352d0" stroke-width="2.3" stroke-linecap="round" fill="none" stroke-opacity="0.85"/>
<path d="M577.2 444.9l-0 0.1M673.1 489.9l0.1 0.9M614.1 407l-0.7 0.6M626.2 482.5l-0 0.1M614.5 500.4l0.3 0.3M659.2 440.8l-0.7 0.4M669.9 401.9l-0.1 0.2M628.2 500.6l0.3 0M660.5 410.4l0 0.1M621.3 409l0 0M668.8 392.4l0 0.4M593.1 461.4l0.2 0.1M601.4 418.3l-0.5 0.1M607.2 454.1l-0.5 0.2M581.2 395.2l-0.6 0.7M604 447.8l0.3 0.7M644.8 412.9l0.1 0.4M582 429.4l0 0M629.4 473.3l0.1 0.1M667.5 468.5l0.1 0.8M588.8 425.4l-0.1 0M582.2 415.6l0.2 0.3M681.4 437.8l-0.4 0.9M665.8 444.6l0.4 0.2M640.8 421.2l0.2 0.3M673 431.7l0.4 0.3M640.9 395.2l0.3 0.8M600.9 492.9l0.4 0.5M662.5 442.4l0.6 0.4M674 398.5l-0.3 0.1M676.6 429.2l-0.1 0M676.2 473.7l-0.6 0.3M610.7 466l0.1 0.1M607.8 423.8l0.8 0.5M606.1 453.3l-0 0.3M625.9 473.7l0.1 0.9M654.4 412.6l-0.6 0.5M632.1 489.2l-0.8 0.6M612.4 400.6l-0.5 0.6M593.3 488.2l-0.1 0.3M625.2 446.6l-0.4 0.1M645.3 488.6l0.6 0.6M573.1 455.6l0.1 0M579.2 494.2l0.3 0.1M661 456l0 0.1M611.4 405.4l-0.1 0M651.5 479l-0.3 0.5M653.7 420.4l-0.5 0.6M621.7 446.9l-0.5 0.7M604.1 498.7l-0.3 0.8M668.1 459.8l-0 0.4M594.3 454.9l-0.7 0.1M667.9 471.3l-0.6 0.2M604.5 495.6l0.2 0.2M621.7 493.6l-0.2 0.2M588 487.8l0.2 0.3M652.7 392.4l-0.6 0.5M594 475.1l0.4 0.1M680.9 433.1l0.1 0M674.2 392.2l0.2 0.4M583.9 486.4l-0.3 0.4M606.4 502.6l-0.6 0.4M624.8 444.9l0.5 0.5M672.6 408.5l0.2 0.4M668.5 414.3l0.3 0.7M617.2 404.6l0.3 0.3M672.4 436.8l-0.1 0.2M660.4 496.3l-0.2 0.4M649.3 462l-0.1 0.5M577.5 480.6l1 0.2M654.6 460.3l-0.5 0.1M681.7 487.6l0.7 0.6M683.8 474.2l0 0M612.8 458.7l0 0.6M587.1 449.3l-0.1 0.2M598.8 479.4l0.2 0.1M595.8 392.7l0.7 0.1M612.1 408.6l0.4 0.1M595.3 431l0.3 0.7M677.7 478.1l-0 0.3M647.6 475.1l-0.1 0.2M578 439.7l0.4 0.7M662.3 486.4l-0.1 0.1M685.1 499.2l0.5 0.3M573 477l0 1M681.3 433l0.8 0.4M629.5 395.6l0.1 0.1M587.4 413.4l-0 0.4M587.1 475.2l-0.7 0.6M597.6 436.2l0 0M619.9 419.6l0.2 0.3M650.4 432.4l0.9 0M615.6 425.5l0.7 0.5M603.1 467.9l-0.2 0.2M635.4 424.2l0.6 0.3M578 480.2l-0.3 0.2M601.6 404.4l0.7 0.5M612.4 484.7l0.2 0.5M614.7 409.5l0.3 0.2M617.1 493.2l-0.4 0.9M596.7 465.7l0.7 0.3M649.1 415.1l-0 0.6M681.6 452.4l-0.3 0.2M660.9 437.6l-0.1 0.5M645.1 465.1l-0.5 0.2M665.3 441.1l-0.9 0.2M607 423.1l-0.4 0.7M588.8 438.7l0 0.4M669.9 402.6l-0.6 0.1M676 431.1l0.7 0.4M668.8 450.8l0.1 0.4M646.3 403.8l0.4 0.4M664.7 448.1l0.2 0.3M597.8 497.8l0 0M657.2 408.6l-0.1 0M613.9 434.8l-0.2 0M635 501.5l0.1 0.6M585.5 430.3l0.9 0.1M580.1 391.6l0.2 0M641.4 394l-0.9 0M667.6 421.7l-0.1 0.2M666.8 469.9l-0.2 0.2M684.3 420.3l0.5 0.6M582.9 441.6l-0.4 0.2M671.6 427.3l-0.6 0.4M678.5 500.9l-0.1 0.1M605.3 396.1l-0.3 0.6M590.2 461.7l0.4 0.5M614.4 396.6l0.8 0.6M616.1 398.3l0 0.3M617.3 392.7l0 0M624.4 456.8l-0.7 0M684.7 409.7l-0 0M663.6 392.7l0.1 0.3M639.8 451.1l0.1 0.1M620.2 493.7l0.1 0M632.5 420.4l-0.1 0.6M598.1 462l0.5 0.8M681.4 405.2l0.2 0.8M651.1 425.3l0.5 0.8M630.3 463.9l0.2 0.6M627.9 433.5l0.4 0.2M600.2 500l-0.2 0.7M571.6 428.2l-0.3 0.1M642.8 445.4l0.9 0M656 434.8l-0.3 0.3M624 461l-0.4 0.4M613.5 451.7l-0.6 0.2M579.5 492.4l0.8 0.2M613.7 449.8l0.3 0.4M583.1 398.9l-0.6 0.1M643 442.7l-0.3 0.1M632.2 464.8l0.2 0.3M572.5 477.2l0 0M597.2 477.2l-0.2 0.1M577.2 455.4l-0.1 0.4M597.4 479.5l0.6 0.4M650.1 404l0.2 0.9M647.6 493.3l-0.1 0M614.1 495.5l-0.3 0.7M651.8 432.8l-0.2 0.3M666 413.6l0.2 0.8M670.8 413.1l-0.1 0.6M604.6 394.9l0.5 0.1M677.2 436.8l0.4 0.1M638.3 425l0.1 0.6M617.9 430.6l-0.2 0.2M652 495.3l-0.3 0.2M608.2 398.3l0.7 0.2M623 400.9l0.3 0.9M675.6 399.4l-0.1 0.3M663.3 430.5l-0.2 0.1M591.3 391.8l0 0M589.8 419.3l-0.3 0.1M661.1 421.4l0.5 0.3M630.8 394.8l0 0.3M605.7 502.8l-0.6 0M661.5 418.3l-0.8 0.2M575.4 477.1l-0.7 0.1M682.4 410.5l0.6 0M669.4 434.4l0 0.1M666.3 423.1l-0.7 0.1M620.2 484.9l0.2 0.4M614.4 431.4l-0.6 0.5M614.9 485.1l0.3 0.7M632.8 460.6l0.9 0.4M682.7 418.4l0.5 0.5M577.7 459.5l0.6 0.3M633.5 395.4l0.2 0.2M596.4 402.7l0.1 0.1M596 464.2l0.3 0.1M587 411.4l-0.4 0.9M642.4 454.8l0.7 0.4M667.5 455.4l-0.4 0.1M598.5 491.5l0.8 0.4M604.5 412.1l-0.4 0.1M593.6 406.6l0.4 0.4M665.3 445.8l0.6 0M626.9 454l-0.6 0.2M634.5 419.9l0 0" stroke="#3a6ae8" stroke-width="1.8" stroke-linecap="round" fill="none" stroke-opacity="0.7"/>
<path d="M681.3 431.3l0.1 0.1M584.8 391.1l0.1 0.2M586.3 402.4l-0.5 0.4M603.9 436.7l-0.1 0M640.6 423.4l-0 0M659.3 475l-0.1 0.1M584.1 477.2l-0.5 0.6M681.8 392.3l-1 0M628.4 406.1l-1.2 0.2M581.5 404.8l0.1 0.1M635 391.2l-1 0.2M578.5 422.2l-0.3 0.3M613.9 441.2l0.5 1.1M625.1 494.5l-0.3 0.1M642.8 445.5l-0.2 0.2M648.1 409.6l0.5 0.3M677.2 471.9l0 1.1M591.6 427.7l-0.7 0.7M665.4 418l-1 0.4M611.5 412.6l0.7 0.9M587.8 499.7l0.4 0.5M682.4 393.6l-0.6 0.1M635.5 453.3l0.1 0.4M591.5 422.4l-0.2 0.3M650 484.8l-0.1 0.1M674.8 441.2l0 0M668 409l0.1 0.3M665 417.9l0.2 0.3M643 440.2l0.4 0.3M571.5 459.6l0.3 0.4M611.6 398.2l-1 0.6M652.7 418.3l-0.2 0.1M673 422.8l0.5 0.4M619.7 411.3l0.2 0.3M650.3 421.8l0.9 0.5M676.4 479.8l-0.5 0.9M681.9 406.6l0.1 1.1M666 450.6l-0.6 0.7M616 445.6l-0.7 0.6M635.5 459.9l0.2 0.4M609.9 470.8l-0.4 0.5M642.3 468.5l0.2 0.2M647.2 457.9l0.1 0.2M626.4 454.4l0.1 0.1M609.1 476.3l0.6 0.2M617.3 500.2l-0.6 0.8M665.7 434.8l-0.7 0.2M675.5 470.5l-0.7 0.4M605.6 445.1l-0.8 0.5M595.6 395.1l0.1 0.3M612.4 455.5l0 0.1M624.5 502.5l0.9 0.2M660.3 398.1l-0.2 0.1M580.3 438.3l-0.1 0.2M629.6 463.8l-0.8 0.8M598.7 406.3l-1.1 0.3M652.2 407.7l-0.2 0.3M659.5 391.4l0.4 0M609.7 485.7l-0.8 0.3M619.3 418.2l-0.1 0.1M661 482.6l-0.6 0.2M661.2 418l-0.3 0.1M665.7 479.1l-0.4 0.7M596.7 446.4l-0 0M608.5 468.7l1 0.4M644.5 400.5l-1 0.5M630.3 477.4l0.9 0.7M674.6 404.9l0.8 0.1M623.7 493.1l-0.2 0M577.6 411l0.1 0.1M639.3 435.9l0.8 0M617.9 460.3l0.7 0.3M582.6 464.1l0.2 0.3M631.6 410.1l0.5 0.3M601.9 501.6l-0.2 0.2M626 394.2l-0.3 0.6M676.6 402.8l-0.2 0.7M606.9 391.8l-0.4 0.6M602.9 423.1l-0.3 0.1M578.8 465l0.2 0.6M672.6 408.6l0.1 0.2M596.4 468.1l-0.1 0.1M644.3 405.9l-0.3 0.6M659.2 501.8l0.2 0.1M645.2 497.6l0.2 0.2M579.6 392.4l-0.1 0.7M645.5 417.6l-0.6 0.9M614.6 418.4l-0 0.1M597.8 455.8l-0.6 0.5M611.9 404.9l0.9 0.3" stroke="#1a8aa8" stroke-width="2.3" stroke-linecap="round" fill="none" stroke-opacity="0.7"/>
<path d="M620.4 438.2l0 0M623.8 479.6l0 0M645.6 408.7l0.1 0M604.9 434.5l0.1 0M619.5 431.1l-0.2 0.2M602.5 450l0.1 0M675.5 457.6l-0 0.3M590 471.3l0 0M577.3 402.9l0.3 0.1M674.9 416.5l0.2 0.1M601 410.4l-0.1 0M628.6 425.9l0 0M668.5 409.9l0.1 0.1M613.5 406.7l0 0.1M658.3 492l-0 0M619.6 431.6l0 0.2M677.3 480.7l0.1 0.1M577.9 496.4l0.1 0M587.8 471.2l-0.1 0.1M617.2 438.8l0.2 0M663 455.7l-0 0.1M651.6 437l0.1 0M638.1 431.9l0.1 0.1M573 480.5l-0.1 0.2M646.6 439.6l-0.2 0.2M639.6 500.5l-0.2 0.2M645.8 493.5l-0 0.2M619.6 442.7l0.2 0.2M609.9 440.7l0.2 0M584.7 466.1l-0.1 0M595.1 429.2l-0.1 0.2M674.5 474l0 0.2M647 395.3l-0.1 0M667.9 498.7l0.1 0.3M571.7 500.8l0.1 0.1M657.8 486.9l0 0.2M652.7 482l-0 0M613.8 470.7l-0 0.1M660.1 464l-0 0M663.1 488.8l0.2 0.2M684.9 449.1l-0 0.1M575 462.5l0.1 0M668.7 485.1l0.1 0.2M647.5 471.4l-0.1 0.1M644.5 500.7l-0.1 0.1M649 495.1l-0 0M587.9 504.1l0.1 0.1M572.4 468.5l0.1 0M592.8 484.5l-0.1 0.2M605.6 466.2l0.2 0M579.4 472.5l0 0M647.8 397.6l0.1 0.2M671.1 399.2l0.1 0M607.7 468.9l0.2 0.2M596.9 437.2l0.1 0.1" stroke="#25d08a" stroke-width="2.4" stroke-linecap="round" fill="none" stroke-opacity="0.85"/>
<path d="M648.3 479.2l0.4 0.4M615.5 478.9l-0.5 0.1M614.4 409.8l0.9 0.1M681.8 497.8l0 0M585.1 443.8l0.3 0.6M624.8 432.1l-0.2 0.1M602.7 431.2l1.5 0.2M587.9 475.7l-0 0.1M619.2 417.5l-0.1 0M678 466.6l-0 0M616.6 416.8l0 0.2M673.7 408.9l1.1 1.1M588.5 445.4l-0 0M618.6 427.5l0.6 0.3M624.2 423.8l-0.6 0.4M609.9 418.7l-0.8 0.9M630 411.6l-0.1 0.1M582.8 475.1l0.6 0.4M606.8 399.4l1.6 0.2M626.2 412.8l0.1 0.3M629.2 416.8l-0.1 0.1M624.4 420l0.6 0.2M629.7 412.7l-0.1 0.7M624.5 437.3l-0.2 0.7M669.1 497.7l0.7 1.4M631.7 409.8l1.1 1.1M578.9 492l0.4 0.7M629.3 413.7l0.6 1M658.4 435.1l0 0M577 489.6l0.7 0.8M615.9 455.2l0.3 0.7M651 486.9l0.5 1.2M609.8 414.4l-0.2 0.3M644.5 391.3l-0.2 0.3M625.8 413.2l-0.3 1.3M671.9 490.8l-0.2 0M620.5 438l-1.2 0.3M636.2 415.1l0.1 0.7M580.3 494.2l0.2 1.4M675.2 428.2l-0.1 0" stroke="#ff2050" stroke-width="2.3" stroke-linecap="round" fill="none" stroke-opacity="0.9"/>
<path d="M588.8 482.2l-0.3 0.2M594.1 494.8l0 0M625.2 486.5l-0.2 0.8M575.2 497l-0.2 0.1M620.3 413.4l0.5 0.3M592.5 402.8l-0.2 0.4M623.9 427.4l0.2 0.7M581.6 489.4l0.1 0.6" stroke="#ff60c0" stroke-width="2.0" stroke-linecap="round" fill="none" stroke-opacity="0.7"/>
<path d="M631.1 394l0.9 0.8M605.7 468.1l-0 0.5M625.7 458.5l-0.1 1.1M615.1 455.8l0.3 0.5M603.5 435.5l0 0.9M621.4 470.4l-0.6 0.4M611.5 454.5l0.6 1M627.8 469.6l0.9 1.2M621.4 430.4l-0.7 0.1M620 435.4l-0 1.4M617.1 461l0.7 0.8M614.8 428.6l1.3 0.6M614.6 430.1l0.8 0.3M627.8 450.4l0 0M625.2 465.8l0.2 0.8M627.6 448.4l0.6 0.9M601.4 473l-0 0M627 486.7l-0.2 0.1M636.1 427.3l-0.4 0.1M618.6 430.2l-0.6 0.5M616.4 431.2l1.2 0.5M629.9 437.7l-0.2 1.1M629 452.3l-0.4 0.5M608.2 424.1l1.2 0.7M622 432.9l-0.6 0.6M612 434.9l-0.1 0.3M615.2 467.8l1.3 0.2M621.1 463l-0.5 1M608.7 447.5l0.3 0.9M611.5 450.5l-1.1 0.5M632.3 454.9l0.6 0.3M612.8 444.7l0.1 0.9M617.5 397.3l-0.1 0.4M616.4 462.2l-0.9 0.6M622.6 462l-0 0.1M633.4 454.2l-0.1 1.4M614 397.7l-0.2 0.8M636.9 450.7l-0.1 0.1M628.7 444.3l1.3 0.1M630.9 420.9l-0 0.3M630.3 414.5l-0.4 0M617.2 447.6l0.5 0.3M635.1 476.5l-0.3 0.4M612.4 434l0 1M610.3 412.8l1 0.2M617.7 427.2l-1.2 0.1M613.9 446.7l0.6 0.6M612 445.2l1 0.3M623.9 454.6l0.1 0M622.7 514.4l0.5 1.4M608.4 498l-0.3 1M619.6 435l-1.1 0.2M601.3 455.3l0.4 0.2M617.8 481.7l-0.8 0.1M616.1 443.9l-0.7 0.2M623.2 431.2l0.3 0.5M625.7 445l1.3 0.4M609.9 448.6l-0.6 0.8M637.9 426.4l0.1 0.3M621.8 485l-0.1 0.4M607.7 428.1l0.5 0.4M610.1 440.1l-0.9 0.3M606.2 463.3l0.6 1.4M623.3 468.9l0 0.1M623.7 442.3l-0.1 0.1M629.1 416.9l-0.4 0.2M624.5 398.8l-0.4 0.6M623.3 440.5l-0 0.5M625.3 449.1l0.7 0.8M628.7 408.8l-0.3 0.4M616.8 419.4l-0.4 0.2M621.2 458.6l-0 0.1M603.9 424.6l1.1 0.2M639.4 437.1l0.3 0M620.1 434.9l-0.1 0.3M625.8 441.9l0.2 0.3M625 496.1l-1.3 0.5M615.1 416.1l-0.1 0.1M635 443.5l0.8 0.1M624.4 437.4l-0.2 0.3M631.6 465.1l-0.9 0M619.4 442.2l1.2 0.7M620.8 428.1l-0.1 0.5M620.3 444.8l-0.3 1.4M603 468.9l0.9 0.7M609.8 469l0.9 0.6M620.9 510.9l-0.4 0.5M612.6 476.3l1 0.5M616 511.2l0.8 0.3M616 488.3l-0.2 0.7M610.5 475.8l-1.1 0.3M632.8 455l0.5 0.8M616.3 426.5l-0.4 0.8M604.4 484.7l0.1 0M617.4 485l-0.7 0.4M622.9 427.1l-0.2 0.3M618.7 397l0.3 0.5M627 480.4l0.5 1.2M611.9 461.8l-0.3 0.7M609.2 459.7l0.6 0.4M635.3 472.8l0.1 0.7M615 399.9l-0 0.2M606.7 450.7l-0.3 0.9M604.6 450.4l-0 0M606.5 475.2l-1 0.1M612.1 492.2l-0.3 0.5M616.1 511.2l0.6 0.8M612.5 500.7l-0.3 0.1M612.9 443.6l0.1 0M623.6 420.3l-0.5 1.3M630.3 426.5l-0.5 0M618.4 428.9l-0.2 1.3M616.2 445.3l0.1 1.4M617.4 412.6l-0 0.7M620.7 437.5l0.7 0.6M631.1 477.5l1.1 0.1M612.8 457.4l-0.1 0.1M616.3 406.5l0.5 0.1M632.5 464.2l-0.5 1.3M618.7 474l-0.9 0.1M632.4 443.7l-0.5 0.9M613.8 439.3l-0 0.4M606.4 427.6l0.2 0.8M623.9 443.4l-0.5 0.1M615.8 470l-0.3 1.4M623 498.9l0.4 0.2M614.1 467.7l-0.2 0.7M614.7 434l-0 0M618.8 409.6l-0 0M619 494.1l0.3 1.2M623.2 436.9l0.3 0.4M615.6 408.2l1.4 0.3M619.8 454.3l0.6 0.5M610.1 436.1l-0 0M613.8 429.7l0.8 0.8M610.4 446l0.2 0.1M624.3 466.9l-0.7 0.2M616.2 430.9l0.7 0.7M616.2 432.4l0.2 0.2M609.9 445.1l0.4 0.7M620 459.2l0.9 0.4M622.1 481.9l-0.4 0.2M612.3 502l1.2 0.7M616.9 421.1l0.1 0.8M623.3 467.3l0.4 0.2M621.8 408.9l-0 0.5M620.8 445.3l0.3 0.1M621.6 441.3l0.7 0M625.9 444.5l-0.2 0M601.7 413.8l-0.1 0.9M623.2 488.3l0.8 1.3M622.7 395l-0.2 1.4M619 432.9l-0.5 0.4M640 468l-1.3 0.1M625 446.7l-0.5 1M603.5 462.7l-0.4 0.2M630.8 464.1l0.4 1.1M630.2 448.1l-1 0.8M618.4 406.9l0.7 0.6M618.2 440.2l0 0.1" stroke="#050a28" stroke-width="3.0" stroke-linecap="round" fill="none" stroke-opacity="0.8"/>
</g>
<rect x="574.4" y="394.6" width="107.2" height="106.0" fill="none" stroke="#1fb84a" stroke-width="0.9"/>
<rect x="572.0" y="391.8" width="112.4" height="112.0" fill="none" stroke="#484848" stroke-width="1.7"/>
<clipPath id="c22"><rect x="571.2" y="508.6" width="114.0" height="113.6"/></clipPath><g clip-path="url(#c22)">
<rect x="571.20" y="508.60" width="114.00" height="113.60" fill="#040a2c"/>
<path d="M587.2 511.3l1.2 0.8M645.5 547.9l0.9 0.8M607.6 576.9l-0.7 1.1M651.9 514.1l-0.3 1.2M592.9 605.1l-0.8 0.2M680.8 572.9l-0.3 0.9M680.3 544.1l-1.1 0.2M587.4 602.3l0.8 0.5M631.8 512.3l-0 1.3M617.9 583.7l0.7 1.1M637.6 542.4l-0.1 0.8M647.9 568.6l-0.1 0M620.4 554.4l-1.3 0.2M616.9 519.6l1.1 0.6M611 545.9l0.4 0.3M632.2 599l0.7 0.5M577.1 555.3l-1.1 0.3M667.7 565.2l-0.2 0.7M656 562.3l-0.4 0.9M660.6 601.7l-0.8 0.2M628.2 580.7l0.4 0.2M620.7 539.2l-0.1 0M584.7 533.2l-0.3 0.1M602.7 519.7l0.5 0.4M655 613.7l1.2 0.1M668 512.3l0 0.3M656.7 590.2l0.5 0.5M601.6 516l0.8 0.4M644.8 515.1l-0.2 0.7M626.7 512l1.1 0M683.6 604.7l-0 0.3M610.2 606.7l1.1 0M644.2 528.5l-1.1 0.4M612.5 605l0.6 0.4M589.3 603.9l-0.4 0.6M682.2 530.2l-0.5 0.2M615.3 583.1l0.2 0.1M614.5 535.4l-0.7 0.1M634.8 606.8l-0.1 0.8M573.7 616.4l-0.8 0.5M582.4 516.2l-0 0.2M674.9 555.4l-0.6 0.6M681.8 615.6l-1 0.3M645.6 545.1l0.3 0.3M676.7 542.5l0 0M621.9 546.3l0 0.2M611.6 601l-0.1 0.4M680.5 551.2l-0.1 0M596 523.2l0.2 0.3M576.8 621.6l1.1 0.4M662.6 565.9l0 0.1M675.5 574.8l-0.3 0.6M649.4 600.4l0.4 0.9M572.4 517.9l0 0.2M596 562.3l-0.4 0.8M676.1 575.1l0.3 0.3M677.5 546.9l-0.1 0.5M617.5 612.8l-0.7 0.4M670.2 597.5l-0 0.3M636.5 577l-0.1 0.3M662.2 550.9l-0.3 1.3M618.6 523.1l1 0.1M606.3 596.9l-0.1 0.1M597.8 523.4l-0.2 0.5M572.2 558.7l1 0.5M629.1 526.8l0.1 0.1M591.2 518.2l0.5 0.5M622.6 587.8l0.6 0.5M669.1 514.3l0.2 0M632.9 613.5l0.4 0.8M654.7 534.9l0.3 1.1M610.4 572.2l-0.2 0.1M629.5 611.4l-0.1 1M679.8 613.1l0.2 0.6M641.8 605.7l0.3 0.4M661.6 527.9l-0.2 0.4M664.3 544.4l0.2 1.2M573.4 521.5l-0.3 0.3M643.2 543.5l-0.6 0.7M580.5 561.9l0.3 0.2M579.7 610.6l-0.4 0.1M572.4 610.8l-0.1 1.1M625.7 511.5l0.1 0.2M665.8 522l0.5 0.2M611.3 555.7l-0.1 0.2M672.7 563.3l-0.4 0.4M600.5 522.5l0.3 0.3M611.7 588.9l0.4 0.1M616 612l0.2 0.2M600.1 617.7l1 0.9M626.7 575l0 0.2M571.4 590.2l-0.8 0.6M624.1 567.5l-0 0.2M607.8 513.7l0.2 0M598.1 571.7l0.5 0.5M639.1 585.5l-0 1M574 543.4l0.4 1M619.2 603.3l0.1 0M670.7 553l-0.3 0.2M604.9 576.6l-1.1 0.5M601.6 549.9l0.1 0.1M682.8 539.3l-0.1 0.1M661.7 555.5l-0.8 0.7M627.4 622.1l0.8 0.7M581.4 551.2l0.1 1.1M660 518.5l0 0.5M649.3 615l-0.2 1.1M632.6 620.6l-0.2 0.8M619 595.4l-0.5 0.2M680.1 588.9l0.3 0.7M646.6 594l-0.7 0.7M649.2 540.4l-0.5 0.2M624.4 514.4l0.2 0.2M630.8 514l0.1 0M681.8 593.8l0.7 0.3M586 517.3l-0.6 0.3M669.6 546.3l-0.9 1M683.4 601.4l-0 0.3M653.6 534.7l0.5 0.6M622.5 599.9l0.3 0.7M612.1 553.9l0.2 0.3M604.7 585.1l-0.3 0.8M647.1 523.4l-0 0.6M631.6 519.1l-0.3 0.6M622 532.9l-0 0M583.8 568l-0.2 0.8M581.7 511l-0.4 0.1M683.7 602.3l0.2 0.8M666.9 546.6l-0.2 0.1M614.3 554l-0 0.1M628 587.8l0.5 0.9M682 589.9l-0.1 0.2M659.6 588.3l-1.3 0.1M625.9 513.8l1.3 0.5M641.5 557.4l-0 0.2M627.1 589.8l0.1 0.4M631.8 599.6l-1.2 0.1M626.2 522l0.3 0.9M626.3 599.3l-0 0M666.1 520.3l-0.1 0.1M620.8 554.5l-0.5 1.3M666.9 606l0.4 0.5M673.2 608.9l-0.6 0.2M575.8 580.6l1.1 0.2M644.8 566.2l0.7 0.2M670.2 548.3l-0.2 0.6M618.4 566l-1.1 0.6M628.6 594l-0.1 1.2M644.8 584.4l-1.2 0.1M585.4 590l0.3 0.4M675 610.1l0 0.7M676.9 594.6l-0.1 0.2M601.2 551l0.2 0.5M642.8 536.4l0.1 0.9M656.3 606.1l-0.2 0.1M604.5 508.7l-0.1 0.1M578.9 536.2l0.6 0.1M669 604.3l-0.2 0.1M589 605.5l-1.2 0.5M664.3 569.3l-0 0M588.1 523.8l-1.2 0.4M573.3 587.9l-0.4 0.2M652.4 513.9l0.9 0.6M626.6 545.5l0.1 0.3M589.1 523.4l0.7 1M673.9 527.4l-1.2 0.1M626.3 585.2l0.5 0.5M596.3 552.3l0 0M586.9 530.2l0.3 0.4M577.4 531.4l-0.8 0.7M650.5 622l-0.2 0.3M680.7 558.9l-0.8 0.7M658.4 545.8l-0.7 0.5M599.3 591.6l0.9 0.5M635.3 576.6l-0.2 0.4M636.5 569.3l-0.7 0.9M634.7 523l-0.4 0.6M572.2 569l-0 0.2M626.9 595.3l0 0.4M593.8 580.4l-0.2 0.1M584.1 598l0 0M573 588.3l-0.8 0.1M665.7 620l0.7 0.2M664 508.6l-0.1 0.9M613.4 614.9l0 0.2M635 533.3l0.1 0.5M574.4 540.8l-0.1 0.2M573.1 597.6l0.1 1.2M661.6 613.9l-0.2 0.3M612.7 612.1l-0.1 0.9M623.2 512.1l-0.8 0.1M575.1 579.6l0.3 1.1M644.7 583.2l-0.3 0.2M660.8 535.3l-0.2 0.4M667.8 615.8l1 0M647.1 597.1l0.4 0.1M593.2 567.3l-0.3 0.1M634.8 608.4l0.8 0.4M665.4 580.3l-1.1 0.7M585.3 587.1l-0.6 0.4M653.2 524.9l-1 0.4M659.6 584.9l0.1 0.2M604.5 575l-0.2 0.4M684.4 509l-0.2 0.8M655 608.6l-0.1 0.3M621.4 548.9l-1.1 0.3M630.7 589.3l-0.1 0.9M601.9 617.3l0.8 0.3M586.4 522.8l0.3 0.4M627.7 614.1l0.2 0.6M601.6 545.8l0.1 0.3M612.9 608.6l-0.3 0.6M615.9 609.2l0.7 0.5M616 572.9l0.4 0.4M684.5 592.6l-1.1 0.4M632.3 590.8l-0.1 0.7M643.3 528.6l0 0.1M606.5 513l-0.1 0.1M652.6 556.2l-0.2 1.2M619.6 556.1l-0.7 1.1M670.6 591.4l0.9 0.1M583.4 510.5l0.4 0.3M626.5 565.8l-0.9 0.4M669.9 557.5l-0.1 0.2M590.5 578.3l-0.5 0M625.7 549.3l-0.4 0.4M602.6 618.5l0.6 0M646.1 614.1l-1.2 0.2M607.4 587.7l0.2 0.4M593.8 523.8l-0.3 0.4M604 518l-0.2 0.5M644.9 569.5l-0.8 0.6M571.3 614.3l-0.7 0M623.9 513.8l-0.1 0.1M576.9 588l-0.4 0.7M680.5 593.7l-0 0M597.7 578.3l1.4 0.1M677.5 518.5l1.3 0.1M573.9 528.8l-0 0.2M681.5 594.4l0.1 0M664.1 599.7l-1.1 0.5M635 604.2l-1 0.6M631.8 518.5l-0.5 0.7M656.4 610.3l0.7 1.1M636.1 557.8l0 0.6M653.5 537.7l-0.3 0.5M654.5 571.7l-0.3 0.5M573.2 552.5l-0.3 0.3M571.5 610.5l0.5 0.2M579.3 536.8l-0.1 0.1M620.5 583.3l0.4 0.5M623.7 574.3l0.5 0.7M668.6 618.4l0.5 0.7M620.2 621l-0.8 1.1M594.3 526.2l-0.6 0.1M664.3 570.9l0.1 0.4M643.5 611.3l-0.5 0M611.5 587.6l0.3 0M627.1 527l0.2 0.1M588.3 582.5l-0.4 1.2M634.1 617.1l-0.3 0.4M658.5 606.2l-0.7 0.2M660.4 564.3l0.4 0.4M659.1 512.6l0.9 0.1M652.8 612.8l-0.4 0.8M648 587.4l-0.8 0.4M679.8 530.5l0.1 0M668.9 522.6l0 1.2M590 621.4l0.5 0.4M576.4 582.5l1.1 0.4M602.5 530.8l-0.7 0.5M650.5 611.7l0.4 1.1M592.5 602.1l0.1 0.1M635.5 521.3l0.7 0.4M627.7 544l-0.1 0.1M609.1 613l-0.8 0.9M667.3 603.6l-0.8 0.8M657.6 553.4l0.8 0.1M648 518.3l-0.1 0.1M682.1 598.2l-0.1 0.4M580.6 526.7l0.2 0.8M676.4 516.8l-0.2 0M613.2 571.5l0.1 0.3M663.5 534.2l0.1 1M580.3 609.3l-0 0M614.8 559.1l0.6 0.6M610.5 533.6l-0.5 0.9M679.9 608.9l-0.4 0.1M577.6 566.8l0.4 1.2M626.6 604.5l-0 0M680.2 582l-0.2 0.3M585.9 597.3l-0.2 0.8M641.6 525.5l0.2 0M596.1 576.2l0.1 0.1M660.9 563.6l-0.1 0M675.5 593.9l-1.1 0.7M669.9 585.1l-1.3 0.4M625.8 616l-0.3 0.9M580.7 556.9l0 0M621.8 580.6l-0.6 0.6M661.7 512.8l-0.6 0.1M666.1 618.8l0 0.2M607.8 567.3l0.3 0.1M655.2 597l-0.2 1.2M660 560.5l0.5 0.4M667.3 512.4l1.1 0.8M605.1 512.6l0.7 0.5M666.2 559.9l0.4 0.2M663.5 563.7l-0.3 0.3M597.3 617.9l0.3 0.5M618.9 561.6l-0.5 1M576.8 515.9l-0.1 0.1M631.8 541.1l-0.1 0M649.7 580.2l-0.1 0M597.6 606.1l1.2 0.7M576.3 593.7l1.2 0.6M573.4 569.2l0 0.1M592.9 584.5l0.3 0.2M614.3 585.2l-0.2 0.8M602.1 585.9l0.1 0M645.2 540.1l1.3 0.5M633.2 576.2l0.6 0.1M648.9 592.9l0.7 0.9M584.8 557.8l-0.5 0.4M576.8 579.5l1.1 0.3M588.3 605.6l0.7 0.5M666.6 616.5l0 0M681.1 616.4l-0.5 0.3M667.3 529.3l-0 0.4M625.1 520.8l0 0M645.4 529.9l-0.6 1.1M636.6 604.7l-0.2 0.3M665.4 583.8l-0.1 0M640.8 522.1l-0.9 0.6M651 612.3l-0.7 0.3M586.7 534.9l-0.4 0.4M605.7 596.3l0.4 1.2M604.6 553.2l0.2 0.2M615.6 599.1l0.2 0.2M610.9 536.6l0.2 0M653.9 618.2l-0.5 1.1M599.8 591l1 0.5M682.2 533.3l0.2 0.1M610.2 599.5l0.2 0.2M663.3 509.1l-0.6 0.9M624.6 515.1l0.6 0M630.2 528.4l-0.1 0.3M658 575.2l1 0.4M678.7 590.5l-0.6 0M640.2 523.3l0.3 0.3M577.3 528.9l0.8 0.5M682.2 597.2l-0.1 0.1M632.8 599.3l0.6 1.2M594.4 571.5l-1 0.8M672.4 574.7l-1 0.7M611.4 523.6l1.1 0.5M605.9 524.1l-0.2 0.3M668.7 552.4l-1 0.6M635.7 585.5l0.2 0M572.8 530.2l-0.2 0.1M629.3 565.4l1.1 0.8M604.5 538.6l0.3 0.9M650.2 514.7l0.2 0.5M660.2 558.3l-0.4 0.4M576.2 600.7l0.8 0.9M625.8 538.2l-0 0.1M618.1 581.5l-0.2 0.1M627.7 520.7l0 0M575.7 544.5l-0.1 1.3M620.2 543.1l-0 0.2M630.6 561.3l0.7 0.5M669.6 527l-0.7 1M659.3 601.1l0.3 0.2M575.6 525.4l0.4 0.9M675 599.2l0.4 0.1M646.9 571.4l-0.2 1.4M662.1 566.7l0.3 0.6M651.5 564l0.4 1M618.7 572.5l1 0.4M596.1 534.9l-0 0.2M622.7 596l-0.2 0M600.3 594.2l1.2 0M652.3 546.6l0.1 0.2M653.4 565.8l-0.5 0M633.7 611.2l0.3 1.3M641.3 568.7l-0.1 0.8M590.2 572.1l0 0.3M612 527l-0.7 0.2M595.2 546.6l0.4 0.1M648.5 605.6l-0 0M655.9 594.3l0.1 0.1M630.2 597l-0.3 0.2M590.3 591.9l1.4 0.2M674.5 588l0.4 0.3M576.3 621.8l0 0M638.1 601.6l-0.6 0.1M611.8 621.2l0 0.5M662.4 567.7l-0.6 1M576.9 548.3l0.2 0.6M598.4 534l-1 0.8M665.2 517.8l0.6 0.7M628.3 573.9l0.3 0.3M665.2 613.1l-0.8 0.9M575.9 608.5l0.5 0.1M669.3 584l0.1 0.1M684.7 617.9l-1.2 0.3M624.4 537.6l0.8 0.1M603 532.4l-0.3 0.5M584.1 619.8l-0.1 0.3M648.8 558.6l1.2 0.4M585.5 565.8l-0.4 0.2M592.2 528.5l0 0.2M675.5 594.1l-0 0.1M585.6 521l1.1 0.2M608.3 551l1.1 0.7M668.5 580.7l0.3 0.1M641.9 616.2l0.2 0.2M607.3 619.8l0.4 0.2M581.2 552.2l-0.6 1.2M647 602.4l-0.1 0M618.2 531.8l-0.2 1M639.9 566.3l0.8 0.1M622.3 606.6l-0.6 0.8M597.6 603l-0.4 0M618.1 553.5l-0 0.7M618.3 513.4l0.7 0.3M573.9 566.4l0 0M585.4 547.1l0.1 0.4M613.4 606.5l-0 0M643.9 594.9l0.2 1M584 577.2l-0.6 0.7M604.7 576.8l-0.4 0.2M640.2 607.5l-0.3 0M684.7 543.2l0.5 1.1M675.2 573.9l-0.7 0.7M664 580.3l-0.3 1M573.5 613.7l0 0.2M597.4 528.4l0.7 0.3M640.3 523.3l-0.2 0.2M617.7 511l-0.1 0.3M654.3 514.9l1.3 0.4M628.8 607.5l0.3 0.5M676 586.4l0.1 0.5M582.7 617.4l-1.2 0.2M577.4 519.1l0 0.3M681.1 610l0.3 0.5M620.8 557.5l-0.1 0.1M685.1 542.1l-0.5 0.4M672.6 593l-0.3 0.3M677.8 533.7l0.2 0.3M585.1 605.3l-0.6 0.5M643.9 553.5l0.7 1M579.1 578.1l-0.1 1.3M625.6 557.8l0.1 0.2M626.8 570.1l-0.5 0.6M580.1 550.5l-0.1 0.1M595 570.4l0.2 0.3M626.9 518.6l-0 0.1M642 569.1l-0 0.7M633.5 556l0.1 0.3M631.9 514.8l-0.5 0.1M658.2 581.1l-0.2 1.3M635.8 617.1l-0.6 1.2M645 518.8l-0.9 0.7M659.9 611.6l-1.1 0.6M628 569.7l0.4 0.5M581.1 560.6l0.6 0.8M673 615l-0.7 0.3M589.7 521.3l0.5 0M672.3 567.1l-0 0.1M649.3 526.1l0.1 0.3M665.3 563.7l-0.1 0.9M582.5 615.1l-0.8 1M663.7 533l-0 0.1M588.6 541.4l-1 0.9M601.5 597.2l0.7 0.7M673.1 509.8l0.8 1.1M625.4 562.6l0.1 0.1M603 517l-0 0.6M645.9 582.7l-0.4 1.2M641 556.6l0.2 1.1M639.1 612.9l-0.1 0.1M630.2 551.1l-0 0M606.6 575.9l1.1 0.4M666.3 621.6l0.7 1M590 520.5l0 0.2M571.6 533.3l-0.9 0.7M681.8 532l0.1 0.3M681.2 534.7l-0.4 1.1M668.4 614.3l-0.4 0.8M612.4 584.4l0.2 0.1M619.6 559.9l0.4 0.7M653.6 552.1l-0.1 1.2M613.9 582l-0.1 0M649.3 510.6l0.7 0.5M621.3 617.8l-0.3 0.1M619.9 598.7l0.2 0.6M663.9 555.5l0.9 0.4M678.9 618.7l-0.4 0.4M590.2 519.3l-0.9 0.1M637.9 616.5l-0.3 0M664.4 536.5l0.3 1M632.2 595.7l-0.2 0.1M658.5 536.2l0.1 0M571.9 536.1l0.1 0M590.4 584.6l0.1 0.4M639.8 560.7l-0 0.1M590.5 575.1l-0 0M646.4 518.9l0.2 0.8M630.6 520.9l0.7 1M617.7 581.4l-0.5 0.6M684.3 579.4l-0.5 0.1M603.8 509.3l-0.3 0.9M679.3 525.7l-0.2 0.8M614.5 580.7l0.4 0.7M628.3 556.9l-0.4 0.2M684.6 530l-0.4 1M629.5 599l0.6 0.5M662.5 519.6l-0.1 0.2M669.1 558.6l-0.5 0M651.6 518.7l0 0.6M575.6 604.4l-0.9 1M675.7 619l0.3 1.2M614.1 515l-0.7 0.2M596.9 582.9l-0.3 0.2M583.4 572.1l0.3 1.3M668 575.7l-0.2 1M623 567.7l0.1 0.1M646.7 560.1l0.3 0.8M660.2 517.6l-0.1 0M684 546.3l0.4 0.1M638.6 514.5l1 0.2M675.2 512.6l-0.9 0.8M641.7 526.9l-1 0.1M573.6 510.8l-0.2 0.5M674.5 602.3l-0.6 0.6M586.1 599.8l0.5 0.3M663.6 520l0.7 0.1M609 559.4l-0.6 0.7M639.7 550.8l-0.4 0.2M654.8 538.1l-0 0.5M625.8 605.6l0.3 0.1M636.9 604.4l-0.4 0M621.8 545.2l0.2 0.2M595.8 532.1l0.6 0.8M610.5 512.5l-0.2 0.1M676.8 557.4l0.1 0.5M656.3 617.5l-0.8 0.6M624 509.2l-1.2 0.4M610 548l0.4 0.7M593.8 601l-0.8 1M677.4 565.1l-0 0M611.8 538.5l-0.7 0.3M637.2 559.5l-0 1.2M579 617.3l-0.4 0.3M603.6 609.1l0.7 0.4M630.8 619.9l-0.2 0.7M572.4 560.1l-0.1 1.3M599.4 545.7l0.4 0.5M589.8 519.1l0 0.1M602.7 531.2l-0.3 0.4M605.4 605.7l-0.1 0M609 614.6l0.8 0.8M610.1 574.2l-0 0M669 522.5l-0.2 0.1M615.1 583.9l0.1 0M681.5 611.2l-0.5 1.2M604.8 543.2l-1.1 0.6M650.9 584.5l0 0M668.2 541.3l-0.4 0.7M615.3 544.4l-0 0.6M665 537.4l0.6 0.1M647.5 576.7l-0.5 1M682.7 599.8l-1 0.3M623 620.1l0.2 0.6M592.9 564.3l0.3 1M596.5 510.1l1.2 0.8M614.5 539.1l-0.1 0.1M608.5 581.4l0.7 1.1M656.2 521.2l-0.7 0.8M574.7 616l0.1 0.8M666.1 533.6l0.2 0M571.8 581.2l-0.1 0.3M597.6 547.9l0 0.1M628.5 526l-0.1 0.3M639.3 521.5l-0.4 0.5M668.3 592.2l1 0.8M630.9 510.8l0 0M662.5 534.3l0.1 0.8M584.4 525.8l0.1 0.1M605.3 551.9l0.2 0M662.3 577.9l-0.8 0.5M585.9 567.4l-0.5 0.4M655.4 567.8l0.4 0.6M576 570.3l-0.4 0.1M582.8 577.4l-0.3 0.3M678.2 539.6l-0.1 0.4M578.6 559l-0.6 0.5M644.7 580.5l-0.4 0.4M615.5 587.3l-1.1 0.2M641.6 518l1.3 0.2M575.6 573.2l-0.4 0.3M632.6 577.4l0.2 0.4M672.7 591.4l0 0.9M664.4 516.6l-0 0M603.9 531.2l0 0.3M594.5 617.9l-1.2 0.4M605.8 607.5l0.7 0.9M589.8 621.4l0.4 0.9M647.3 596.6l1 0.1M683.6 521.1l-1.3 0.2M664.9 592.3l-0.2 0M662.4 542.1l1.2 0M670.3 581.3l-0.7 0.4M611.5 578.2l-0.8 0.6M620.3 617l-0 0.1M624.9 531.2l0 0.5M652.9 515.6l-0.1 0.8M680.1 605.4l-0.8 0.9M674.5 601.8l-0.1 0.4M626.7 562.7l0.5 1M598.9 613.8l-0.4 1M649.5 545.1l-0.9 0.5M626.4 510.8l1 0.8M583.2 585.2l0.3 0.2M624 597.9l0.4 1.3M672.7 618.9l0.2 0.3M633.2 597.1l-0.4 0.5M624.6 570l1.2 0.6M607.6 596.6l0.7 0.5M674.7 611.5l-0.4 0.1M573.9 619l-0.6 0.5M580.3 520.6l-0.3 0.2M575.9 535.5l0.9 0.8M638.3 615.9l0 0.3M681.7 527l-0.2 0M597.5 591.7l-0.1 0.6M678.4 569.8l0.2 0.2M578.9 510.4l0.2 0.1M586.1 570.6l1.2 0.3M647.6 618.2l-0 0.3M578 521.7l0.2 1.1M628.1 527.8l0.4 0M615.7 619.8l0.1 0.9M630.2 540.7l-0.8 0.2M619.3 597.7l-0.5 0.5M587.6 590.5l-0.5 0.7M599.2 531.1l0.7 0.3M666.1 616.9l-0 0M662.8 572.9l-0.8 0.2M574 549.8l1 0.4M627.8 605.1l0.2 0.3M615.5 593.9l-1.1 0M644.1 584.5l0 0.3M664.2 589.2l-0.5 0.5M582.8 612.9l-1.2 0.2M598.8 525.2l0 0M638.4 562.3l-0.4 0.6M644.8 556.1l-0.1 0.2M596.3 555.3l0.3 0.6M593.7 613.9l0.1 0M627.6 565.3l0.5 0.2M581.2 613.3l0 0M680.9 613.4l0.1 0.5M608.8 517.5l-0.8 0.8M620.9 533.1l0.8 1M611.8 601.2l-0.5 1.1M664.5 614.2l-0.4 0.5M622.2 593l-0.2 0.3M622 550l1.1 0.3M657.3 531.9l0.1 1M598.4 508.8l-1.3 0.3M645.2 560.7l0.6 1.2M629.6 534.2l0.2 0.8M675.5 604.8l0 0M655.6 516.9l-0.5 0.9M666.3 619.1l-1.1 0.1M637.9 611.1l0.5 0.8M588.4 593.7l-0.3 0M645.6 593.5l0.6 1M664 533.6l0.7 0.3M615.4 613.5l-0.1 0.7M631.1 510l-1.2 0.5M671.9 596.6l-0.7 0.3M580.6 616.3l0.8 0.6M600.4 581.8l0.8 0.1M646.8 616.8l-0.7 0.3M591.9 524.5l-0.3 0.3M595 513.8l-0.7 0.5M621.6 594.9l0.1 0.6M581.4 602.3l-0.1 0.1M631 588.4l-1 0.2M610 512.3l-0 0.1M588.4 555.2l-0.1 0.2M628.5 617.8l-0.8 0.9M683.9 560l0.4 0.3M663.7 529.2l0 0M603.5 556.3l0.9 0.4M627.2 570.3l-0.5 1M640.7 522.2l-0.1 0.8M609.5 554.2l0.7 0.5M641.3 607.1l-0.3 0.4M603.5 521.9l0.3 0.1M647.9 544.4l-0.9 1M612.6 568.8l0.2 0.6M629.6 535.9l-0.4 1M669.3 601.7l0.2 0.6M613.1 539.9l0.3 0.7M656.3 598.8l0.1 0.1M605.1 557l0.7 0.9M598.2 610.9l0 0M659.2 599l0.5 0.9M608.2 583.6l0.9 0.9M651.6 538l0.8 0.7M621.2 533.2l0.9 0.3M674.9 608.5l-0.5 0.8M615.4 609.2l-0.3 1M615.3 606.7l-0.2 0.1M621.7 567.8l0.1 0.2M590.9 573.2l0.8 0.1M609.7 558.6l-0.9 1M601.4 591.7l0.1 0M621.9 603.4l0.6 0.9M583.6 518.1l0 0M583.6 558.4l-0.5 0.3M572.3 535.9l0 0M574.3 603.5l-0.5 0.6M641.7 603.7l-1 0.3M606.3 593.7l-0.9 0.5M630.9 572.9l-0.9 0.1M607.6 594l-0.1 0.5M658.1 564.1l-1.1 0.1M576.4 571.8l-0.1 0.7M633.9 533.1l-0.2 0.1M635.2 530.5l0.1 0.1M592.5 570.2l-0 0.1M642.7 532.2l1.1 0.7M602.6 617l0.2 0.7M579.1 515.7l0.1 0.9M678.4 608l-0.8 1.1M619.4 523.5l0.6 0.3M662.8 521.6l-0.2 0.5M634.5 593.3l-0.3 0.2M626.9 593.3l-0.5 0.5M649.4 575.1l0.7 0M618.9 565l-0.2 0.2M590.3 569.8l-0.8 0.6M678.2 523.5l-0.3 1M616.4 536.3l-0.1 0.4M675.5 575l0.5 0.1M584.6 622l-0.4 0.8M612.3 618.9l0.8 0.9M681.7 537.4l0.4 0.1M603.3 613.2l-1.1 0.4M598.4 540.9l1.3 0.4M628.5 547.4l-0.3 0.1M664.1 600.6l0.2 0.3M642.5 616.2l-0.1 1.2M655.8 571.2l0.4 0.2M679.1 604.2l-0 0M636.1 620.6l0.7 0.6M633.5 529.7l0.9 0.3M599.6 537.1l0.2 0.7M617.4 510.5l-0.1 0.1M665.6 615.7l0.4 0.1M597.6 589.3l0 0.9M592.8 535l-0.9 0M650.2 526.5l-0.8 0.3M643.6 612l-0 0M605.2 574.7l-0.3 0M571.6 607.1l-1.1 0.3M606.5 535.1l0.2 0.1M609.8 549.5l-0.5 0.2M604 577.2l1.1 0.3M572.2 515.4l0.4 0.1M680.8 590.7l0 0M595.5 604.8l0.4 0.7M583.9 587.1l0 0.2M657 542.3l0.5 0.3M665.5 532.5l-0.9 0.8M653.8 602.8l-0.7 0.2M681 516l-0.2 0.6M603 579.9l0 0M602.7 571.5l0.6 0.2M602.3 519l1.2 0.3M588.2 534.1l-0.2 0.3M611.1 527.5l0.9 0.8M663 528l-1 0.8M589.9 610l0.8 0.5M608.3 546.2l0 0.1M644.6 585.9l-0.1 0.3M664.1 598.2l0.1 0.1M610.2 566.7l-1 0M642 543.5l0.1 0.3M649.7 509.9l0.5 0.5M605.9 509.8l-0.7 0.2M650.1 532l0 0M654.3 521.8l1.2 0.6M675.4 520.1l-0 0.1M606.2 532.3l0.2 1.4M580.9 528.9l-0.3 1.1M637.1 603l0.4 0.6M577.7 594.5l-0.7 1.1M655.6 616.9l-0.2 0.8M596.9 572.8l0.8 0.2M588.9 553.5l-0 0M613.5 516.9l-0.2 0M597.4 620.6l-0.9 0.1M625.7 536.4l-0.4 0M678.2 540.5l-0.2 0.6M674.5 564.1l-0.9 0.5M645.2 561.7l-0.5 0.1M665.1 510.8l1 0.3M633.6 618.2l1.3 0.2M608 543.2l-0 0.1M580.7 617.7l0.6 0.3M572 527l-0 0M670.7 620.1l-1 0.2M679 621.7l0.4 1.2M637.1 528.9l0.2 0.2M657.4 535.4l0.2 0.2M652.8 533.6l0.3 1.2M623.4 520.1l-0.1 0M598.9 601l0.8 1M587.4 564.1l-0.2 0.2M590.9 586l-0.8 0.7M673.9 612.6l-0.8 0.6M660.9 535.2l-0.2 0.2M612.7 619.9l-0 0.5M626 531.3l-0 0.2M579.4 610.6l-0 0.4M678.7 542.1l-0.8 0M665.7 575.8l0.3 0.4M627.3 561.1l0.8 0M665.2 553.3l-0.4 0.7M608.7 541.2l-0.1 0.7M633.8 525.3l-0.9 0.5M669.9 525.1l-1.1 0.3M652.9 620.5l0.8 0.3M594.3 537.2l-0.2 0.4M624.5 616.1l0.1 0.1M577.3 546.7l-0.3 0.4M574.2 545l-0.1 0.1M616.2 554.7l-0.2 1.1M666.4 520.7l0.3 0M649.2 513l-1.1 0.2M626.8 522.8l-0.3 0M607.4 510.8l0.3 0.8M608.7 529.6l-0 0.1M596.8 557.7l-0.3 0.3M679.2 610l0 1M594.1 529.4l-0.1 0.1M673.8 517.9l0.7 0.3M574 614.2l-0.2 0.2M602.5 583.8l-1.2 0.7M649.8 620.8l0.6 0.2M592.4 593.9l-1.1 0.3M658.4 582.9l-0 0.2M582.5 591.1l0.2 0.3M579.9 531.9l-0.2 0.1M634.7 550.9l-0.8 0.2M591 526.5l-1.3 0.3M614.7 516.2l1.3 0.1M633.8 593.3l-0.2 0.1M614.9 551.2l-0.2 0.2M597.2 522.2l-0 0M607.8 555.6l-0.3 0.6M630.4 521.8l0.5 0.2M578.5 619.9l0.4 0.2M674.6 582.5l-1.2 0.4M617.8 588l-0.7 0.3M586.1 585.6l-0.2 0.8M654.8 591.4l0.2 0.6M669.3 595.5l-0.1 0M663 534.8l1.1 0.4M572.1 579.3l0.2 0.6M601 525.6l-0.1 0.1M677.1 621.9l-0.3 0.3M589 519.2l0.4 1.1M596.7 613.2l-0 0.1M585.6 565.7l-0.2 0.1M655.3 520.8l0.4 0.5M595.7 581l0.3 0M632.6 572.7l0.4 0.3M650.5 548l-0.5 0.4M592.2 544.1l0.8 0.4M679.2 613.2l-0.7 0.5M683.5 584.4l-0.3 0.8M628.9 509.4l0.4 0.5M657.7 567.9l0.6 0.9M640.1 525.1l1.1 0.4M682.7 511.9l-1.3 0.3M614.8 579.5l0.9 0.7M598.6 542.5l-0.2 0.3M574.3 530.7l-0 0.7M606.2 552.9l-0.7 1M670.4 512l-0.2 1.2M669.6 557l-0.5 0M657 591.4l0.3 1M657.8 542.1l-0.3 0" stroke="#15339c" stroke-width="2.6" stroke-linecap="round" fill="none" stroke-opacity="0.9"/>
<path d="M671 586.4l-0.1 0M667.3 530l-1 0.4M668.4 621.5l0.7 0.7M613.8 538.2l0.7 0.2M635.9 585l-0.6 0.4M632.7 538.5l-0.6 1.1M619.2 586.4l-0.5 0.9M576.5 518.1l-0.3 0.5M613.5 592.2l0 0.3M618.9 550.5l0.3 0.2M621.3 522l-0.9 0.3M671 594.3l-0.4 0.2M611.1 523.3l0.6 0.7M668.2 551.7l0.2 0.2M617.1 552.8l-0.8 0.5M575.1 617.1l0 0.8M599 556.5l-0.7 0.5M612.9 541.2l0.1 0M625.2 619.9l0.7 0.1M594.2 549.7l-0.6 0.5M657.9 603.6l-0.5 0.3M674.8 605.3l-0.6 0.2M583.6 609.3l-0.4 1.2M594 510.1l-0.3 0.2M654.7 607.6l-0 0.9M605.1 576.2l0.9 0.4M598.9 557.1l0.6 0.7M668 620.8l0 0.8M572.2 577.7l-0.6 0.2M671.4 544.3l-0.2 1.2M591.5 577.5l0.1 0.2M659.3 593.7l-0.2 0.2M582.9 575.1l-0.5 1.1M608 594.6l-0.7 0.7M672.4 537.8l0.9 0.2M618.3 566l0.6 0.1M669.6 607.7l0 0M603.4 510.1l-0.5 1M634.1 522.6l-0.5 0.2M599.7 587.7l0.2 0M603 520.7l-0.7 0.3M597.8 610.3l0.5 0.2M595.8 561.5l0.1 0.8M673.1 511.2l0.1 0.2M673.7 581.4l0.1 0.1M647.4 617.2l-0.4 1.1M634.6 534.8l-1.1 0.5M640.9 518.9l0.4 0.2M639 617l0.3 0.1M594.2 572.2l-0.7 0.8M651.7 544.8l-0.4 0.3M650.8 513.1l0.6 0.5M642.2 510.1l-0.7 1M595.2 537.1l0.4 0M573 614l0.1 1.1M626.8 580.5l-0.2 0.2M653.3 571.9l-0.4 0.1M628.7 516.8l0 0.3M627.8 515.1l0.7 0.2M613 545.4l-0.3 0.9M665.6 615.5l-0.2 0.1M631.3 519l0.4 1.2M595.2 612.3l0.2 0M636.9 593.1l-0 0.2M683.4 528.4l0.7 0.9M665.7 532.7l0 0M641.3 535.6l-1.1 0.7M601 601.7l-0.9 0.4M657.1 513.9l0.5 0.1M605.6 577.6l0.4 0.7M617.1 561.1l-0.4 1.2M660.5 620.3l0 0.1M635.7 599.2l0.6 0.2M648.4 559.3l-0.1 0M682.1 541.5l0.7 0.2M631.2 572.6l0.1 1.1M639.9 583.5l-0 0M597.2 545.5l-0.9 0.7M578.9 594l0.3 0.2M629.4 601.5l0.2 0.8M666.1 563.2l-0.2 0.1M601.8 610.5l0.3 0M656.6 590.1l0.3 1.2M625.8 587.5l0.1 0.9M660.4 549l0.5 0.5M624.8 555.8l0.6 0.6M620.5 588.5l0.1 0M630 592.2l-1.1 0.1M593.9 517.2l-0.3 0.2M676.5 592.2l-0.2 0.1M648.5 585.2l-0.7 0.7M628 621.5l0.2 1.2M685 518.6l-0.5 0.9M667 611.9l-1.1 0.2M591.4 583.7l0.4 0.4M660 601.7l-0.6 0.6M604 594.8l-0.4 0.6M586.1 592l-0.1 0.6M669.4 565.9l-0.7 0.6M596.8 592.3l-0 0.1M635.1 531.8l0.5 0.3M660 606.5l0 0.1M642.5 582.1l0.1 0.9M648.8 559.4l-0.4 1.1M613.7 595.2l-0.4 0.3M651.2 549.1l0.3 0.9M599.4 538.7l-0.6 0.7M636.8 534.2l-0.1 0.8M631.5 542.9l-0.6 1M663.1 579.9l-0.1 0.1M576.3 596.1l0.3 0.4M617.3 590.2l0 0.6M646.6 586.1l0.3 1.2M641.4 596.6l-1.1 0.1M580.3 531.8l0.2 0.4M575.2 585.7l0 0M641.5 541.4l-0 0.1M603.1 547.7l0.5 0M586.9 577.8l0.5 0M577.3 536.3l-1.2 0.2M582.3 546.2l-0.1 0.6M593.7 605.7l-0.8 0.1M670.1 567.5l-0.2 0.7M579.1 532.1l-1.1 0.4M647.7 593l-0 0.1M606.8 523.8l0.4 0.1M683.2 571.2l-0.1 1.1M594 523.4l-0.5 1M637.6 589.6l0.8 0.5M674.2 599.5l0.1 0.5M656.1 537.6l0.2 0M620.4 550.8l-0.2 0.1M613.4 572.3l0.1 0.3M623.9 597.8l-0.2 0.1M609.4 567.4l-1.1 0.3M616.5 515.2l-0.6 0.1M589.6 602.5l0.2 0.1M583.8 621.3l-0.5 0.9M654.9 587.9l-0 0.1M646.5 564l0.5 0.3M630.8 589.5l0.9 0.9M683.8 513.9l0.2 0.2M680.6 557.7l0.8 0.8M575.1 597.3l0.3 0.5M669.9 592.9l-0 0.4M674.3 510.6l-0.1 0.5M626.3 588.5l0.4 0.1M594.4 562.6l-0.4 0.1M682.8 539.2l0.4 0.6M609.4 531.9l0.1 0.3M618.8 620.3l-0.4 0.2M632.7 537l-0.2 0.6M662.9 612.8l-0.2 0.1M661.9 618.5l-0.9 0.4M673.2 552.8l-0 0.1M677 548.7l0.3 0.1M617.5 522.4l-0.1 0.6M575.4 562.1l-0.6 0.8M588.9 533l0.1 0.2M607.7 510.6l0.3 0.2M594 538l-0.2 0.6M596.9 533.7l-0.6 0.7M622.5 592.9l0.8 0.5M677.4 521l0.1 0M684.1 567.6l0.2 0.7M645 584.6l-0 0.1M622.3 550.1l0 0M634 538.9l0.5 1.1M574.5 518.3l0.9 0.5M675.6 618.3l-0.1 0.1M620.9 527.9l0 0M572.4 531l-0.3 1.2M577.2 523.6l-0.2 0.4M651.2 569l-1.1 0.1M581.9 511.9l-0.2 0M652.3 570.8l-0.8 0.3M640.9 554.1l0.1 0.4M603.3 595.1l-1.2 0.2M594.9 612.6l-0.3 0.5M600.4 529.1l-0.3 0.6M636.5 597.7l-0.5 0.4M629.4 622l-0.4 0.3M629 600.2l0 0.7M615.6 562.3l0.8 0.2M679.3 554.3l1.1 0.3M612.8 606l-0.7 0.2M610.6 584.8l1.2 0.4M591.4 571.5l0.2 0.5M637.3 533.2l0.6 0.2M601.7 581.9l0 0.4M587.1 580.9l-0.7 1M642.6 512.5l-0 0M583.4 585l-0.7 0M675.1 572.3l-0.7 0.1M653.2 614l-0.3 0.9M656.4 618.8l-0.2 0.4M654.3 530.2l0.3 0.4M595.7 517.6l-0.8 0.3M634.6 581.5l1 0.4M648.3 508.9l-0 0.2M662.4 582.2l0.3 1M590.1 614.7l0.3 0.5M579.5 616.7l0 0.1M590 576.1l-0.6 0.3M604.1 619.9l0 0M627.1 519l0.3 0M682.9 555.7l-0.2 1.2M592.5 596.9l-0.2 0.6M624.7 588.6l-0.4 0.1M683.7 559l-0.1 0.1M647.5 546.4l-0 0.2M575.3 617.1l0 0.1M589.3 522.7l-0.3 0.1M599.9 535.9l0.5 0.2M644.9 547.5l0.4 0.3M584.4 621.6l-0 0.1M684.8 586.9l-0.1 0.4M676.6 618.2l-0.2 0.2M640.8 596.9l0.1 0.3M595.8 613.4l0.4 0M656.9 529.6l-0.4 1.2M646.3 584.7l0 0M676.1 606.6l-0.3 0.4M600.4 573l0.3 0.2M579.2 545.7l0.7 0.5M619.9 549.4l-0.7 0.4M643.9 527l0.3 0.3M658.8 543l0.3 0.8M637.2 593.2l-0.3 0.1M574.4 571.4l0.7 0.2M665.4 537l0.5 0.7M591.5 537.1l-1.1 0.3M573.9 582.7l0.5 0.5M586 590.4l0.5 1.1M671.4 568.6l-0.5 1.2M590.6 551.4l0.2 1M573.6 583.9l0.1 0.3M623.8 607.7l0.8 0.5M674 553.7l-0.9 0.6M631.7 515.8l1 0.5M613.6 534.7l1.1 0.6M625.9 510.2l-0.2 0.1M613.5 564.4l0.5 0.3M633.7 531.8l0.7 1M638.8 566l0.4 0.2M655.2 510.5l-0.1 1.2M643.5 599.8l0 0M644.8 520.5l-0 0.2M659.3 553.9l-0.1 0.3M605.7 541.9l0 0.1M601.8 538.8l-0.5 1.1M654.9 594.6l0.4 0.7M639 511.7l0.1 0.9M588.9 576.4l-0.5 1M665.4 550.5l-0.1 0.3M610 593.2l0.4 0.3M653.5 556.9l-0.6 0.6M653.1 510.9l-0.3 0.5M663.9 617.8l0.7 0.2M626.2 528.9l-0 0M622.4 540.5l0.8 0.7M612.8 550.6l-0.5 1.1M674 557.5l0.2 0.7M599.9 539.8l-0.3 0.3M582.3 587.3l-0.6 0.2M621.6 598.5l-0 0M600.2 540.1l0.1 0.3M620.2 607.3l0.6 0.1M657.7 534.9l-0.1 0.5M622.6 562.2l-0.2 0.4M660.9 574.7l-0 0.1M581.9 539.3l-0.7 0.5M654.1 621.8l-0.7 0.5M634 569.1l-0.2 0.9M573.7 588l-0.3 0.1M617.3 567.6l-0.3 1.1M637 612.2l0.2 0M590.8 536.8l-0 0.1M677.7 546.3l0.7 0.6M652.8 612.6l0.2 0.6M634.3 545.5l-0.7 0.3M662.7 572.4l0.2 0.5M636.2 561.1l0.3 0.7M670.3 546.4l0.6 0.5M628 594l0.2 0.7M631.8 514.7l0.1 1.1M667.6 542l-0.1 0.1M647.6 525.6l0.2 0M604.6 612.6l0.3 0.2M599 611.6l-0.3 0.9M594.7 578.4l-0.6 0.7M572.3 510.1l0.3 0M653.8 524.1l-0.1 0.1M616.9 615.3l0.8 1M654.3 615.2l-1.3 0.3M584 575.4l-0.2 0.8M681.4 601.4l0.3 0.5M606 598.2l0.3 0.5M645.1 590.6l-0.4 1.1M581.2 555.5l0.1 1.3M673.6 534.1l-0.6 0.7M613.7 591l0.1 0.2M671.7 510.1l-0.5 0.2M575.3 618l-0 0.3M595.9 620.7l-0 0M585.3 547.6l0.7 0.9M679 603.5l0.5 0.1M633.1 555l1.2 0.5M595.1 606l-0.2 0.3M597.3 611.5l0.2 0.2M673.2 589.4l-0.1 0.5M587.4 570.2l0.8 0.3M621.3 607l0.1 0.9M614.6 562l-0.5 0.3M684.7 601.8l0.1 1.2M642.9 519.7l-0.3 0.4M661.3 534.3l0.8 0.8M655.3 609.2l1 0.6M668.8 580.6l0.7 0.4M598.1 550.3l-0.6 0.4M641.3 521.7l0.7 0.2M658.3 573.3l-0 0.4M628.6 595.9l0.1 0M628.3 572.9l0.6 1.1M648.1 615.6l0.7 0.5M683.6 537.1l-1.2 0.4M613.3 613.3l-0.1 0.5M652.5 550.9l0.3 0.5M622.6 543.1l-0.5 0.6M624.4 607.6l0.2 0.1M611.2 605.1l-0.7 0.8M605.3 589.8l-0.4 0.9M664.1 513.4l-0.2 0.8M612.7 514.9l-0.3 0.4M678.1 556.4l0.3 0.4M610.8 513.5l0.7 0.9M578 522.3l-0.2 0.2M626.5 556.2l0 0M646.1 557.7l0 0.5M655.8 593.7l-0.2 0.3M659 519.8l0.1 0.2M668.1 509.7l-1.1 0.2M573.9 558.3l0.3 0.5M588.6 557l-0.6 0.3M662.8 520.2l-0.9 0.4M609.5 524.6l-0.5 0.7M654.9 599.4l0.4 0.5M624.6 537l-0.8 0.6M584.4 618.8l-0 0.4M656.3 530.7l-0 0.1M643.9 552.8l0.8 0.3M656.1 579.7l-0.7 0.1M589.1 602.8l-0 0.3M656.7 543.8l-0.2 0.2M605.3 574.1l-0.6 0.4M677.4 606.5l0.9 0.4M667 539.4l0.1 0.2M669.1 600.5l1.2 0.3M635.6 525.2l0.1 0.1M662.3 512.8l0.9 0.6M615 575.3l0.4 0.1M590.2 585.4l0.2 0M650.6 594.8l-0.2 1.1M591.8 520.7l0.1 0.1M640.2 594.1l-0 0.9M661.2 522.3l-0.1 0M619.9 595.3l-1 0.1M650.9 553.4l-0.1 0.2M622.1 553.4l-0.4 0.3M670.6 547.4l0.3 0.3M599.6 526.6l0.2 0M671.7 619.1l0.8 0.8M574.4 562.8l0 0M652.7 538.9l-0.2 0.5M630.9 585.7l0.8 0.4M622 519.1l-0.5 0.2M594.3 559.3l0.8 0.1M604.6 527.6l-0 1.2M623.6 595.2l-0 0.8M585.8 596.8l-0.1 0.1M589.9 514.3l0.1 0.3M671.5 538.9l-0.1 0.9M624.1 528.9l-0.5 0.5M631.1 559.7l-0.6 0.2M672.9 549.9l-0.1 0.7M670.1 609.8l0.3 1.1M575.4 613.2l0.6 0.2M591.2 596.2l0.8 0.3M577.3 530.4l0.5 0M644.1 518.9l-0.7 0.1M619.8 530.9l-0.2 0M644.6 614.8l0.2 1.1M680.3 595.2l-0.2 0.9M603.8 528.3l-0.5 0.4M634 585.4l-0 0.1M599.2 613.5l1.1 0.5M586.6 572.9l-0.2 0.5M571.8 510.4l1 0.5M675.2 603.4l0.3 0.2M677.1 589.6l1.1 0.1M677.8 591.9l-0.5 1.1M685 529.8l1.2 0.2M666.7 607.2l-0.4 0M610 616.9l0.7 0.3M649.1 541.8l0.3 0.7M628.8 561.9l0.2 0M590.4 594.7l-0.6 0M634.6 612.2l-0.9 0.6M572.7 553.3l-0.2 0.5M600.6 594.2l-0.9 0.6M633.7 579.8l0.6 0.8M635 605.8l-0.2 1.2M650.3 534.6l0.2 0.9M647.8 595l-0.2 1.1M592 514l0.2 0.1M669.4 621.1l0.2 1M618.9 553.2l0.5 0.7M684.4 603.4l0.8 0.5M612.5 556.9l0.2 0M644.9 590l-0.1 0.8M675.3 514.1l0.4 0.9M660.5 526l-0.8 0.5M671 593.2l0.4 0.7M674.2 558.2l-0.4 0.2M671.2 613.5l-0.2 0.1M582.6 533.5l0.9 0.6M636.3 617.3l-0.7 1.1M661.8 516.2l-0.3 0.9M624.8 571.3l-0 0M581.9 594.6l-0.9 0.6M673 605.7l0.3 0.2M638.8 593.7l0 0M649.9 575.9l-0.3 0.1M670.3 595.8l0.7 0M680.9 596.8l-0.4 0M625.4 616.7l0.1 0.1M591.8 531.6l0 0M652.9 616.3l-0.5 0.6M625.2 581.3l-0.7 0.4M669.5 565.5l-0.1 0.3M594.7 529.6l-0.3 0.1M608.3 587.4l-0 0.2M631 612l-0 0M683.1 532.1l1 0.1M607.1 572.9l0 0M679.5 559.5l0.3 0.5M605.5 582.2l-0.1 0M631.7 516.8l0.9 0.3M575.9 532.5l-0.1 0.1M631.5 552.3l-0.3 0.4M616.9 581l-0.2 0.5M680.7 606.1l-1.2 0.2M683.9 597.2l-0.5 0.8M597 547.4l0.1 0M665.4 616.9l0.1 0.4M672.2 549.7l0.6 0.2M597.4 579.6l-0.5 0.4M595.4 590.7l-0.7 0.4M673.3 570.6l-0.7 0.9M659.6 600.5l-0.6 0.1M677.3 602.1l0.4 0.4M672.7 556.4l0.1 0.8M582 621.9l-0.9 0.4M599.7 621l0.4 0.9M659.2 579.8l-0.5 0.1M585.8 567.8l-0.7 0.4M648.2 612.2l-1 0.7M622.6 559.4l-0.1 0.3M667.5 589.1l-0.1 0.8M677.2 577.9l0.1 0.6M631.9 583.4l-0.1 0.1M635 523.2l0 0M653.6 621.2l-0.7 0.6M632.2 608.8l0.2 0.3M631.7 555.3l-0.8 0.7M614.5 618.3l0.1 0M587.7 587.4l0 0.7M672.1 542l0 0.1M669.9 569.8l0.8 0.3M588.8 532l-0.4 0M628.4 555.5l0.3 0.1M616.9 550.7l0.4 0.7M609.1 541l-0.1 0.2M597.7 554l0.2 0M600.3 608l0.7 0.9M663.1 531.7l-0.1 0.2M631.3 540l-0.2 0.4M646.9 540.7l-0.5 0.3M660.2 546.1l-0.1 0M657.3 557.6l-0.1 0.3M582.4 536.4l-1.2 0.3M682.8 533.9l-1 0.5M681.3 572.3l-0.1 0.2M666.5 522.9l0 0M668.9 582.4l-0 0M643.3 531.2l0.2 0.7M627.7 524.5l-0.5 0.6M592.5 519.3l-0.2 0.6M662.6 620.1l0.9 0.4M589.8 604.6l-0.2 0.1M598.2 562.6l0.1 0.7M606.4 553.7l-0.5 1M617.7 518l0.2 0.1M633.1 616.6l-0.2 0.2M641.1 524.7l-0.3 0.2M632.1 516.6l-0 0.6M683.9 592.6l-0.2 0.7M653.7 509.5l-0.2 0.3M618 611.4l0.1 0.5M594.9 593.1l-0.2 0M655.5 579.5l-0.3 0.9M636.5 573.2l0.1 0.4M576.5 534.6l-0.2 1.2M678.3 587.1l-0.1 0.6M629.3 510l0.2 1.2M683.5 581.4l-0.8 0M616.8 620l-0 0.1M612.4 541.2l0.1 0.3M599.2 598.2l0.1 0.5M642.2 585.7l-1.1 0.3" stroke="#2352d0" stroke-width="2.3" stroke-linecap="round" fill="none" stroke-opacity="0.85"/>
<path d="M627.8 613.8l0.1 0.7M661.9 564.3l0.1 0.2M592.7 568.4l-0.2 0.8M638.9 605.1l0.1 0.3M604.8 613.1l-0 0.4M650.3 575.7l0.2 0.2M674 607.4l-0 0.1M610.3 516.5l-0.1 0.2M650.2 589.4l-0.3 0.8M672.5 544.5l0.1 0.2M628.2 592l0.3 0.3M583.7 567.4l0.4 0.5M638.5 596.9l0 0.6M646.4 595.7l-0.3 0.3M632.8 573.4l0.4 0.9M655.2 518.6l-0 0M650.4 561.2l-0.5 0.4M579.4 600.1l-0.8 0M661.7 565.9l0.3 0.3M670.4 565.8l0.1 0.3M645.8 617.7l-0.4 0.8M622 512.1l-0.1 0.2M584.5 510.3l-0.1 0.7M671.9 600.1l-0.1 0.1M655.5 558l0.5 0.4M598.4 560.3l0.3 0.6M594.8 516.7l0 0.4M682.1 577.9l-0.6 0.6M633.2 554.6l-0.2 0.5M621.1 542.5l0.7 0.1M587.5 551.7l-0.3 0.4M664.2 536.2l-0.3 0.7M586.3 533.6l-0 0.2M667.9 588.9l-0.2 0.6M575.2 513.4l-0.6 0.3M664.5 509.8l0.8 0.5M683.5 604.6l-0.8 0.4M629.9 562.8l-0.2 0.5M575.3 559.3l-0.8 0.1M679.8 547.9l0.1 0.1M627.3 515.9l-0.2 0.1M597 573.1l-0.3 0M660.6 595.9l-0.5 0.1M574 511.8l-0.2 0.6M657.9 613.2l-0.2 0.1M597.2 515.1l0.6 0.3M606.5 514.3l0.7 0.7M593 609.3l-0.8 0.1M672.5 551.6l0.3 0.4M663.8 591.7l0.9 0.1M594.2 526l-0.8 0.6M622.2 588.6l0.1 0.5M678.9 619.9l-0.2 0.5M683.8 524.8l0.4 0.4M594.2 530.4l-0.3 0.4M678 520.4l0.2 0.2M667.6 565.4l0.3 0.4M577.5 541.3l0 0.7M575.7 522.7l-0.2 0.2M666.7 594.6l-0.7 0.4M639.2 598.7l-0.1 0.1M606.9 540.6l0 0M600 545l0.6 0.8M660.5 534.8l-0 0M633 620.5l-0.6 0.2M599.5 544.6l-0.8 0.5M655.6 572.1l-0.3 0.1M578.1 617.4l0.9 0.2M637.4 619.5l-0.3 0M630.7 535.8l-0.7 0.3M577.9 575.4l0.6 0M577.7 563l-0 0M677.5 571.8l0 0M665.4 619.8l-0.4 0.4M680.4 560.1l-0.1 0.2M613.7 609.3l0 0M594.7 545l0.1 0M573.8 542.4l0.1 1M597 556l0.7 0.4M666.5 576.7l0.5 0.6M672.5 584.6l-0 0.1M586.9 596.3l0.2 0M615.6 567.8l0.7 0.2M612 538l-0.1 0.1M580.3 597.5l0.5 0M644 574.3l0.1 0.1M607.5 612.3l-0.5 0.3M585.5 528.4l0.2 0.1M646 552.7l-0.3 0M636.3 611.4l0.7 0.3M682 514.6l-0.4 0.4M649.9 564.5l-0 0M660.3 549.2l-0.1 0M672.8 530.2l-0.3 0.1M612.9 611.7l-0.8 0.6M670.8 586.4l-0.8 0.5M624.8 570.9l0 0M680.2 620.2l-0.2 0.1M612.7 512.1l0.7 0.1M637.6 586.7l-0.5 0.4M676.1 520.9l-0.1 0.1M612.4 616.3l-0.1 0M632.8 536.9l0.3 0.6M668.2 531.7l-0.1 0M621.9 599l0.8 0.3M661.6 617.2l-0.9 0.4M660.2 580l-0.2 0M588.4 621.7l0.5 0.2M597.6 612.7l1 0.2M670.6 567.4l0.2 0.5M588.1 525.1l-0.7 0.5M654.7 573.7l-0.7 0.2M591.5 579.6l-0.1 0M651.1 609.9l0 0M681.2 578.4l-0.4 0.3M673.8 520.3l0.1 0M667.3 607.7l-0.1 1M577.7 528.1l-0.1 0.4M678.3 515.8l0 0.1M575.2 578l-0.2 0.1M666.7 525.4l-0.2 0.4M581.3 521.6l-0.3 0.4M581.1 579.2l-0.3 0.1M604.9 595.4l-0.7 0.2M599 531.5l-0.1 0M612.4 597.6l0.5 0.2M628.8 622.2l0.2 0.1M589.4 609.5l-0.4 0.4M648.6 510.4l-0.3 0.7M577.6 608.2l0.3 0.2M599.6 601l-0.4 0.5M584.8 612.1l-0.1 0M675.7 536.4l0.6 0.7M661.8 582.9l-0.2 0.9M606.6 577l-0.1 0.3M620.8 597.5l0.1 0M596 566l0.2 0.2M585.2 593.7l-0.1 0.1M597.1 598.7l-0.3 0.4M621.3 525.2l-0.3 0.6M616 514.5l-0.2 0.1M594.1 614.1l-0.5 0.2M645.3 617l0.1 0M683.1 568.3l-0.4 0.1M627.8 544.4l-0.6 0.5M603.1 558.7l-0.3 0.5M633.8 551.1l0.2 0.3M672.5 586l0.1 0.2M681 612l-0.4 0.9M652.5 526.6l-0.5 0.6M625.9 534.5l-0.8 0.3M579.3 618.8l-0.5 0.6M597.3 612.5l-0.3 0.8M665 607.2l0.3 0.2M635.6 555.8l0.4 0.4M615.6 557l-0.3 0M602.1 512.1l-0.2 0.5M586.3 614.2l-0.2 0.9M635.1 564.8l0.7 0M577.8 550.2l0.7 0.3M683.2 566.9l-0.4 0.2M605.8 533l-0.1 0.1M573.2 595l-0.8 0.4M662.4 519.6l0 0.1M630.4 582.6l-0.6 0.5M582 552.2l-0 0M577.4 579.9l-0.4 0.4M646.8 535.1l-0.3 0.6M572 605.1l-0.1 0M640.4 611.3l0.1 0M658.1 556.7l-0 0.6M636.2 531.7l0.2 0.4M603.1 609.8l-0.2 0.3M650.7 553.6l0.3 0.2M662.2 574.3l-0 0.2M626.2 598.4l-0.1 0.5M605.3 588.7l-0.7 0.5M673.2 599.3l-0.4 0.4M672.8 604.4l0.7 0M585.7 595.7l-0.5 0.8M573.5 544.5l-0.8 0.1M642.2 571.9l0.5 0.8M579 561.9l-0.5 0.2M622.2 585l0.1 0M681.3 607.2l-0.3 0.9M613.8 621.9l-0 0.3M674.5 539l0.3 0.2M620.4 556l-0.3 0.8M660.4 509.9l0.4 0.6M645.1 613.7l0.5 0.7M651.2 516.8l0.6 0.5M599.8 534.8l0 0M627.8 544.6l0.5 0.4M590.8 613.1l0.2 0M581.5 512.2l-0.5 0.1M636 537.8l-0.5 0.2M616.9 519.4l-0.1 0M610.7 613.8l0.1 0.8M667.8 508.8l0.6 0.7M592.5 582.8l0.2 0.1" stroke="#3a6ae8" stroke-width="1.8" stroke-linecap="round" fill="none" stroke-opacity="0.7"/>
<path d="M653.5 621.8l0.2 0.3M636 611.4l0.2 0.4M669.8 509.7l-0.3 0.2M578.3 572.6l-0.1 0M664.6 512.6l0.1 0.5M616.7 613.5l0.6 0.6M668.6 525.9l-0.5 0.2M584.6 565.2l-0 0.3M642 551l0.4 0.5M589.3 536.7l0.5 0.4M621.2 518.8l0.3 0.2M622.9 525.1l0.1 0.7M667.3 545l-0.8 0.8M677.3 616l-0.6 0.3M684.7 619.4l0 0.9M619.7 555l-1 0.3M574 559.6l-0 0M598.2 576.7l-0.1 1.2M594.6 551l1 0.1M591.9 608.8l0.1 0.2M682.3 536.3l0 0.2M572.3 522.8l1 0.3M675.5 533.6l0.2 0.3M614.7 550.2l0 0M627 589.8l0.2 0.1M650.5 564l-0.1 1.1M587.1 515.1l-1.1 0.3M657 535l-1.1 0.5M683.6 595.2l0.1 0.6M612.7 518.9l1.1 0.5M590.9 613.1l-0.2 0.5M619.3 534.2l-0.5 0.2M602.4 545.7l-0.1 0.4M598.4 579.3l0.5 1M679.7 540.7l-0.1 0M647.4 604.1l-0.1 0.2M601.2 539.3l0.8 0M618.4 592.5l-0.9 0.2M675.6 553.6l-0.4 0.7M656.2 541.7l0.1 0.4M608.6 551.1l-0.9 0.7M662.9 608.5l-0.6 0.1M633.8 613.8l-0.3 1.1M636.6 581l-0.5 1M660.9 519.8l0.5 0.9M670.1 605.6l0.7 0.6M628.5 556.2l-0.6 0.2M589.4 582.4l0.4 0.1M669.7 518.1l-0.4 1M642.2 519.5l0.9 0.7M636 558l-0 0.2M681.1 605.9l0 0.1M653.9 592l0.1 0.6M645.9 596l-0.3 0.7M676.3 582.1l-0.1 0.2M665.7 585.2l-0.8 0.4M630.7 527.8l-0.8 0.7M608 517.9l0 0.2M598.4 512.5l1 0.4M668.4 586.5l-0.9 0.4M623.7 597.2l-1.1 0M573.5 529.7l0 0.1M635.7 588.8l-0.4 0.3M600.4 615.5l0.7 0.7M680.1 611.4l0 0M682.5 549.2l-0.1 0.8M591.7 602.8l0.3 0.6M669.1 587l-0.4 0.7M574.4 576.2l0 0M640.7 557.6l1.1 0.5M585.4 526.7l-0.3 0.2M663.3 576.6l0.4 0.1M638.1 587.4l-0 0.3M650.7 601.6l0.5 0.2M631.9 562.1l0.4 0.4M650.4 563.2l-0.9 0.4M663 603l-1 0.1M601.6 561.2l-1 0.2M587.5 619.2l-0.9 0.1M589.6 576l0.2 0.4M629.5 554.9l0.4 0.3M608.7 593.1l0.9 0.1M628.5 595.3l0 0.1M602.2 533.2l0.6 0.2M662.9 617.9l-0.6 0.9M684.1 615.3l0.3 0.7M620 559.6l-0.6 0.7M677 532.6l0.2 0M654.1 580.7l-0.1 0.1M619.3 514.5l-0.2 0M588.2 581.6l0.8 0.7M681.7 604.3l0.7 0.7M674.4 517.9l0.4 0.6M607.4 598.5l0.8 0.1M641.5 517.1l0.2 0.1M594.7 592.3l0.3 0.4M593 551.9l-1 0.6M605 545.9l0.5 0.4M634.3 577.5l-0.9 0.4M577.1 567.4l0.4 0.3M628.5 608.5l-0.2 0.4M668.7 558.5l-0.3 0.3M586.2 562.6l0.2 1.1M678.1 532.2l-0.3 0.1M667.5 583.2l0 0.1M589.4 584.7l-0.1 0M635.6 521.6l-0.5 0.4M640.8 583.5l-0.3 0.5M642.8 511.4l-0 1.2M667.3 599.1l0.1 0M627 524.7l-0.1 0.1M673.7 556.3l-1 0.6M627.8 607.8l-0 0.1M577.8 602.9l-0 0M609.7 582.1l0.6 0.1M598.9 568.3l-0.2 0.3M583.5 588.6l-0 1M584.9 553.1l0.3 0.8M582.6 557.7l-1.1 0.2M607 601.6l0.2 0.1M683 562.4l-0.2 1.2M657.4 615.6l-0.1 1.1M657.5 608.4l0.4 0.1M606.1 543.8l-0.5 0.4M667 579.5l-1.1 0.3M637.5 621.7l-0.2 0.7M612.2 581.4l0.4 0.1M651.4 556.1l0.1 0.1M673.6 541.7l0.1 0.2M600 596.6l1 0.5M647 541.4l-0.1 0.4M582.6 566.4l-0.2 0.3M601.3 600.7l-0.4 0.6M659.4 604.3l-0.1 0.4M603.2 557.3l0.7 0.4M606.8 517.5l0.7 0.2M592.5 552.7l0 0M650.3 597.6l-0.6 0.4M679.6 529.8l-0.3 0.4M663.6 511.8l0.3 0.3M581.6 613.3l-0.3 0.5M650.2 564.7l-0.2 0.6M604.3 620.4l0.2 0.6M659.7 548.4l-0.2 1M576.9 530.2l-0.5 0M595 596.1l-0.4 0.6M581 528.1l-0.2 0.1M590.9 600.6l-0.1 0.8M650.2 579.6l-0.2 0.2M667.2 546.1l0.1 0.2M572.1 594.2l-0 1.2M647.9 598.9l-0.4 0.3M605.7 517l-0.2 0.5M616 511.4l0.5 0.1M649.5 520l0.2 0.3M680.5 602l-0.9 0.2M671.3 597.9l-0 0M649.2 603l0.2 0.6M653.1 529.2l-0.1 0.8M655.4 557.6l0.3 0.2M636.9 584.1l0.6 0.7M678.8 599l-0.1 0.9M633.6 530.7l-0.3 1.1M630.7 530.2l-0.1 0.6M650.8 611.1l-0.1 0.3M620.2 546.5l-0.1 0.9M597.1 570.3l0.4 0.2M593.9 516.2l-0.4 0.2M597.3 550.1l-0.2 0.3M646 565.6l0 0.1M638.4 553.5l1 0.1M631.9 512.6l-0.1 0.2M580.9 510.4l0.3 0.3M675.9 575.3l-0.2 0.3M676 576.7l0.1 0M655.3 552.3l0.5 0.8M642.1 510.6l-0.6 0.4M665.5 608.5l-0.2 0.2M653.6 519.7l-0.2 0.1M598 530.3l-0.7 0.9M649 581.8l-0.1 0.6M592.1 513.9l-0.3 0.2M639.9 567.2l-0.3 0.1M612.5 578.5l-0.5 0.8M666.1 579.5l-0.5 0.3M602 547.5l0.2 1.1M670.5 605.3l-0.6 0.2M584.9 584l0.8 0.3M675 538.6l-0.4 0.2M645.7 561.1l0.6 0.8M620.9 545.1l-0.4 0.6M656.2 547.4l-0.5 0.3M653.3 601.4l-0.5 0.2M649.8 594.2l-0.6 1M638.6 509l0.6 0.2M614.8 560.9l0.1 0.6M593.5 577.6l-0.2 0.1M652.4 608.7l-0 0.9M674 569.1l-0.6 0.7M616.7 511l-0.8 0.3M614.9 526.1l0.3 0M620.2 547.7l0.1 0.3M578.9 592.9l-0.9 0.2M677.3 549.9l0.3 0M590.5 519.6l-0.9 0.5M620.3 582.4l-0 0.1M657.6 588l-0.5 0.3M573.5 561.8l0.6 0.8M611.1 621.5l0.1 0.2M617.1 541l0.2 0.5M619.7 559.6l0.3 0.4M665.5 560.9l-0.1 0.4M670.4 552.6l-1.1 0.5M684.5 573.8l-0.2 1M592.2 618.2l-0.4 0M581.3 583.2l-0.1 0.7M580.9 511.8l0.2 0.1M644.5 512.2l-0.2 0M611.3 598.4l0.4 0.4M644.2 572.5l0.5 0.9M635.9 570l0.7 0.6M658.2 540.9l-0.3 0M573.2 584.9l0.8 0.3M617.7 592.1l-0.1 0.1M678.1 557.9l-1 0.1M597.9 620.5l-0.3 0.5M673.4 558l0.2 1M677.2 578.8l-0.2 0.7M580.1 516.9l-0.2 0.2M665.4 556.5l-0.1 0.1M595.7 573.6l-0.4 0.1M615.3 516.7l0.1 0.2M672.9 538l0.4 0.4M603.7 569.6l-0.9 0.7M604.2 586.1l0.3 0.3M621.5 616.3l0.1 1M684.9 603.8l0.9 0.3M588.7 523.5l-1.1 0.1M581.5 510.2l-0.8 0.7M623.4 554.4l-0 0.3M681.5 610.6l-0.2 0.1M642.4 596l-0 0.4M682.3 535.2l0.2 0M643.1 588.9l-0.2 0M630.7 598.4l-0.4 0.5M670.8 535l0.1 0.2M600.2 544.5l0.2 0.2M650.5 587l-0.1 0.3M607.4 573.5l-0 0M650.4 524l0.5 0.5M598.1 539.3l0.5 0.7M664.9 546.5l0 0.1M620.9 589.5l0.3 0.3M669.4 563.6l0.6 0.2M581.2 520.1l-1.2 0.2M604.2 600.7l-0.7 0.8M661.6 592.9l0.1 1.2M669.9 606.3l0.3 0.2M684.2 607.8l0.4 0.1M608.9 570.3l0 0M577.7 612.4l-0.5 0.5M638.9 557l-0.4 0M641.4 553.9l-0.4 0.7M650.9 549.3l-0.8 0M606.7 520.7l-0.6 0.6M651.4 569.2l0.8 0M673 537l0.1 1.1M653.7 562.2l-0.3 0.6M673.8 539l-0.2 0.2M631.5 536.9l0.2 0.4M628.5 620.1l-0.3 0.8M669.3 579.9l0.8 0.8M609.9 581l1.1 0M593.9 535.3l0.6 0.3M651 538.8l-0.1 0.1M626.4 544.6l-0.6 0.3M625.3 558.4l0.7 0.2M617 519.1l-0.1 0.8M638.6 588.4l-1 0M583.2 606.4l-0.5 0.8M608.2 512.5l1 0.2M663.7 553.9l-0.4 0.1M681.5 523.8l0.3 1M636 574.8l0.1 0.1M578.4 548.1l-0 0.3M584.9 534.2l0 0M628.9 573.7l0.1 0M678.4 567.9l0.2 0.4M625.5 601.3l-0.5 0M601.2 519.6l0.1 0.2M591.7 613.8l-1.1 0.1M659.8 607.2l0.7 0.9M585.9 569.7l0 0M642.7 587.6l-0 0.1M673.4 602.1l0.1 0.5M616.4 516.3l-0.6 0.7M587.2 527.7l-0.6 0.2M598.3 579.4l-0.4 0.4M614.1 583.4l-0.4 0.1M683.4 509.4l0.4 1" stroke="#0c1e70" stroke-width="2.4" stroke-linecap="round" fill="none" stroke-opacity="0.9"/>
<path d="M634.2 603.3l-0.8 0.7M604 591.2l-0.7 0.9M624.3 552.7l-0 0M665 614.3l-0.8 0.1M599.5 604.8l0.9 0M599.8 603.1l1.1 0.1M682.4 512.5l0.9 0.2M606.7 557.7l-0.7 0.5M605.7 583l0.1 0.5M651.6 522.9l-0.2 0.2M639 539.2l0.8 0.6M652.9 514.8l-0.4 0.7M578.5 609.5l0.8 0.3M661.7 614.6l-0.2 0.4M626.2 558.3l0.3 0.2M598.4 549l0.6 0.8M613.9 566.7l-0 0.1M656.2 613l-0.7 0.5M680.8 566.3l0.3 0.1M660.8 601.3l-0.1 0M660.5 596.9l-0.4 0.1M658.2 578.3l1 0.1M583.5 570.5l-0.7 0.7M665.9 536l-0.5 0.3M579.7 548l-0 0.1M616.8 590.2l-0.3 1M676.2 581.8l0.4 0.4M588.2 616.6l-0.1 0.6M633.1 551.4l0.1 0.2M635.1 531.6l-0 0.4M649.1 584l0.5 1M653.2 548.8l-0.7 0.8M635.9 582.1l-0.6 0.1M675.3 617.9l-0 0M605 596.5l-0.4 0.2M645.4 568.7l1 0.4M663.1 526.1l-0.6 0.1M618.3 576.7l0.5 0.1M660 534.3l-0.2 0.7M630.9 619.9l0.2 0.1M580.9 580.7l0.5 0.8M585.4 522.3l0.4 0.4M616.9 572.5l0.3 0.1M670.5 613.9l0.2 0.1M580.1 531.9l0.8 0.5M587.6 596l-0.9 0.2M680.1 552.3l-0.2 0.5M626.4 550.3l0 0.1M642.1 535.4l-0.3 0.2M591.2 588.1l0.2 0.1M613.3 566.2l-0.9 0.2M583.6 530.8l1 0.2M673 528.4l-0 0.5M607.2 568.9l0.4 0.8M645.4 571.8l0.5 0.9M646.2 549.8l0 0M639.1 548.5l0.4 0M607.8 514.8l0.5 0.5M606 601l0.2 0.8M623.8 589l1 0.4M594.7 616.1l0.2 0.3M678 526.4l0.4 0.6M624 513.1l0.6 0.3M636.3 602.6l-0.3 0M620.9 545l0.9 0.6M586.4 600.9l0.3 0.7M611.1 537.2l0.6 0M659.7 536.2l-0.5 1M676.5 606.8l0.5 0.5M637.3 545.5l-0.1 0.1M649.7 540.2l-0.6 0.5M664.7 574.6l0 0M663.5 521l0 0.1M638.2 554.8l-0.1 0.3M666 604l-0.7 0.3M592.7 530.8l0.8 0.7M641.2 588.7l-0.8 0M621.5 576.2l0.7 0.4M615.1 605l-0.3 0.1M645.3 621.1l0.7 0.2M633.9 524.2l0 0.3M620.7 571.7l0.7 0.6M580.5 604.1l-0 1.1M655 578.6l0 0.6M637.1 604.5l1 0.2M611.2 527.4l0.5 0.4M599.6 595l0.8 0.2M601.7 519l-0.7 0.4M642.5 607.9l0.3 0.5M574.2 602.9l0.4 0.5" stroke="#1a8aa8" stroke-width="2.3" stroke-linecap="round" fill="none" stroke-opacity="0.7"/>
<path d="M623.7 567.5l-0.1 0M584.1 548.6l0.2 0.1M606.2 617.7l-0.1 0M609.3 551.5l0.1 0.2M580.2 622.1l0.1 0M585.7 508.9l-0 0.1M640.5 525.2l-0.1 0.1M651.9 585.5l0.1 0M665.7 602.5l-0.1 0.2M601 591.7l-0 0M653.1 581.9l0 0M595.2 598.2l-0.2 0.1M665.7 582.7l-0.1 0.1M607.6 619.3l0.1 0.2M666.5 521.9l0.1 0.1M651.4 559.9l0.1 0.2M659.5 590.8l0 0.1M611.3 592.1l0.2 0.2M634.5 512.6l-0.1 0M682.4 517.4l0.2 0.1M671.3 614.7l-0.1 0.1M612.2 516.3l-0.1 0.1M582.1 536l0 0M643.6 518l-0 0M608.1 564l-0 0" stroke="#25d08a" stroke-width="2.4" stroke-linecap="round" fill="none" stroke-opacity="0.85"/>
<path d="M611.3 581.8l-0.4 1.2M615.7 536.6l0.8 0.2M670.5 600.1l-1 0.9M649.5 533l-0.4 0.4M657.2 533.5l-0.4 0.7M637.3 583.2l-0.6 1.1M632.9 581l0.1 0M618.4 580.4l-0.4 0.7M637.7 577.6l1.1 0M594.8 595l-0.6 1.1M661.3 548.3l-0 1.2M657.1 537l-0.5 0.9M599.1 574.3l0.4 0.8M664.5 526.1l1.1 0.9M603 561.4l0.6 0.1M616.6 562.8l-0.5 0.3M598.7 555.4l-0.1 0.3M579.5 585.1l-0.1 0.3M641.9 546.9l-0 0M666.3 529.8l0.7 1.1M651.3 549.8l-0 0M587.4 571.1l-0.5 0.8M624.5 616.5l-0.6 0.6M632.5 564.8l0.5 0.3M646.1 525l-0.8 0.1M623.2 571l0.3 0.1M648.9 523.4l-0.1 0.1M595 556.8l0.3 0.1M579 559.2l0.3 0.1M673.9 524.8l-0.5 1.4M661.1 568.8l-0.5 1.2M648.7 544.3l0.7 0.3M584.4 573.9l-0.9 0.2M596.4 543.7l0.1 0.3M660.1 525l-0 0.1M595.4 563.8l-0.9 1.2M590.5 605.6l0 0M648.5 519.2l-0.8 0.2M628.7 576l-0.3 0.8M618.2 600.7l-0.4 1.3M634 554.9l1 1.2M631.4 556.3l0.7 0.3M612.3 582.9l0.4 1.2M596.6 579.5l-0.2 0.3M611.1 569.4l-0.9 0.7M653.9 566.3l-0.9 0.1M663 534.6l-0.6 0.2M655.3 517l-0.1 0.1M632.9 564.7l0.7 0.1M601.1 601.6l-0.3 1.1M654.5 537.4l0.4 0.6M671.6 595.9l-0.1 0.3M595.1 567.1l0.8 0.2M643 558.3l0.1 1.3M672.4 522.7l-0.1 0.7M587.4 523.1l-0.7 0.2M638 601.7l1.2 0.3M685.5 512.9l-0.9 0.1M660.4 529.3l0.8 0.4M647.8 591.7l-0.3 0.5M646.1 539.1l-0.8 0.1M582 589.2l0.7 0M627 564.6l-0.3 0.1M584.5 591.9l0.2 0.9M643.7 546.3l0.1 0.2M655.4 573.8l0 0M661.1 549.2l0.2 1.6M677.2 548.9l-0.2 0M630.7 603.5l0 0M674.2 579.1l0 0.5M665.9 529.1l0.4 0.7M650.7 607.4l-0.3 0.8M580.4 549.9l0.2 0.2M663 531.5l-0.6 1.4M639.2 558.8l-0.1 0.5M628.4 567.4l0.5 0.4M606 537l1.2 0M623.4 543.3l1.3 0.1M657.8 542l0.6 0.6M588.6 583.3l0.8 0.6M641.1 551.6l1.2 0M669.6 523.5l1.1 0.4M575.5 580.3l0.6 0.4M607.3 574.1l0.2 0.4M592.3 585.7l-1.1 0.1M674.3 538.2l-0.9 0.1M571 570.1l-0.1 0M666.1 531.7l0.4 0.8M655.4 537.9l0.8 0.8M639.9 554.6l0.2 0.3M628.3 565.1l-0.1 0.4M658.5 522.6l-0.1 0.3M681.7 541l-1.1 0.7M663.9 598.4l0.3 0.9M623.5 556.6l-1.4 0.4M647.7 565.8l0.2 1.2M603 558.2l-1.3 0.4M654.2 544.8l0 0M612.5 587.1l-0.8 0.2M622.9 568.9l0.3 0.2M656.3 537.4l0.6 0.6M650.2 533.7l-0.1 0.6M582.7 567.5l0.5 0.3M658.2 605.9l-0.7 0.5M683.8 563.6l0.6 1.4M635.8 554.3l1.2 0.6M664.9 530.4l-0.1 1.5M645.7 552.3l-0.1 0.1M594.7 569.9l-0.1 0M623.5 548.5l0.9 0.4M643.9 596l0.2 0M638.4 616.5l0.3 0.7M603.1 551.6l0.3 0.5M559.2 550.5l-0.2 0.2M588.9 558.3l0.8 0.1M662 521.5l1.4 0.3M593.4 597.3l-0.1 1.3M654.8 539l-0.6 1.1M681.5 525.9l0.3 1.1M627.5 547.7l0 0M668 538.3l0.4 1.3M667 551l-0.6 0.9M665.7 518.7l0.3 0.1M592.4 565.2l1.2 0.7M651.4 536.2l-0.4 0.3M644.8 549.9l-0.1 0M635.1 598.2l-0 0.1M596.2 510.1l-0.5 0M645.1 516.3l-0.1 0.1M600.8 596.6l-0.3 0.6M673.6 529.3l0.6 1.1M650.8 528.3l1 0.9M624.5 587.4l0.8 1M632.7 515l0 1.2M650.1 560.5l0.1 0M672.3 543.6l0.1 0.6M672.7 530.9l0 0.3M644.8 591.6l0 0M591.4 590.5l-0.3 0.9M591.7 555.1l-0.3 1.1M662.5 575.3l-0.6 0.3M671.4 520.2l0.8 0.1M649 558.6l0 0M656.3 561.3l0.3 0.7M596.2 585.1l-0.4 0.1M654 551.6l0 1.2M610.8 605.4l-0 0M672.1 533.3l0.7 0.7M654 528.6l-0.2 0.5M676.4 534.9l-0.2 0.4M646.1 559.3l1.5 0.1M596.8 571.2l-0.5 0.2M612.1 574.7l-0 0.2M647 549.4l0.1 1M670.1 527.2l0.2 0M636.8 549.3l1 0.4M670.1 518.5l0.1 1M600.9 540.5l-0.3 1M651.9 552.7l-0.3 0.2M569.2 570.2l-0.7 0.3M664.4 564.7l0.1 1.2M638.5 518.8l-0.1 0M643 606.6l-0 0.1M600 570l0.1 1.5M683.9 521.7l1.5 0.2M666.2 540.1l-0.8 0.6M636.7 620.8l0 0M664.3 564.7l1.1 1.1M604.3 565l-0.7 0.3M658.9 535.8l0.1 0.1M573.6 571.1l0.2 0.3M584.5 610.2l-0.5 0.6M670.9 526.9l-0.1 0.9M632.8 566.2l-0.7 0.6M662 614.7l-1.5 0M657.5 526.2l1.2 0.9M623.7 560.3l-0.2 0.1M613.3 555.4l-0.3 0M651.2 521.8l-0.8 0.2M646.8 554.8l-0.2 0.1M613.5 591.5l0 0M637.4 600.8l1.2 0.8M620.9 553.3l-0.1 0.3M649.7 543l0.1 0.2M669.5 608.7l0.7 0.3M586.2 546.4l-0 1.5M592 569.5l-0.5 0.3M582 564l0 0.7M612.2 554.1l0.5 0.4M669.7 532.2l-0.1 1.6M681.5 588.9l0.1 0.1M612.7 587.7l-1.3 0.4M665.8 544.9l-1.1 0.5M585.5 569.2l-0 0M617.3 617.5l-0.8 0.7M670.9 522.3l-0.2 1.1M621.3 508.7l0.1 1.2M640.7 538.5l0.4 0.2M584.3 591.8l0.3 0.3M632.4 557.8l0.5 0.4M588.9 585l0.2 0.5M604.4 590.4l0.5 0.1M669.2 516.4l0.7 0.5M614.1 602.8l0.3 0.3M603 568l1 0.3M666.2 533.1l0.1 0.6M567.8 568.7l-0.1 1M648.1 554.3l-0.1 0.1M657.5 548.4l-0.7 0.2M639.6 594.8l0.2 1.3M668.9 611.9l-0.6 1.2M624.1 552.3l-0.4 0.3M646.2 615.7l-0.6 1M634.4 574.9l0.3 0.2M594 566.4l0.5 1.2M657.6 532.2l1.1 0.1M598.7 551.2l-0.6 0.1M663.9 517.8l-0.2 0.7M621.5 561.6l-1.4 0.1M635.2 554l-0.9 0.8M644 524.1l-0.1 0.1M620.1 604.1l-1.1 1.1M681.6 527.9l0.1 1.2M585.1 581.9l0.1 0.3M645.3 534.2l0.4 0.3M586 573.2l-0 0M635.5 547.2l-1.4 0.3M611 588.5l-0.1 0.3M645.5 540.5l0.2 0M626 548.2l0.2 0M667.4 519.7l-1.5 0M633.9 540.3l0.1 0M586.8 565.5l0.3 1M633.5 606.4l-1.4 0.7M675.7 514.5l0.6 0.4M611.9 586.4l0.5 0.2M681.8 547.3l-1.2 0.1M631.2 555.1l-0 0.2M581.4 542.3l-0.1 0.4M618.5 613.8l-0.3 0.1M617.3 576.2l0.2 0.3M654.2 535l0.9 0.2M609.1 588.9l1.1 0.4M598.3 561.6l-1.3 0.2M635.1 534.7l-0.2 0.4M652.2 520.8l0.1 1M583.1 579.8l-0.9 0.4M640.6 551.4l0.4 0.8M668.9 534.8l-0.6 0.5M647.5 539.7l0.3 0.3M576.5 590.3l-0.1 0M621.2 563.2l-0.3 0.1M617.1 556l0.1 0M631.9 591.2l-0.4 1.4M655.1 557l0.1 1.3M614.8 592.7l0.3 0M597.5 589.3l-0.8 0.2M619.6 572l0.8 0.5M653.1 537.4l0.3 0.3M632.7 560.1l0.7 0.2M601.7 569.6l0.6 0.7M627.4 559.9l0.9 1M628.1 556.7l0 0.2M590.1 568.3l0.4 1.5M627.3 615.7l-0.7 0.5M580.5 566.8l-0.5 1.1M621.1 586.9l0.5 0.8M685.1 537.5l-0.1 0.3M638 544.6l0.1 0.3M674.7 546.7l0.2 0.3M672.7 573.9l-0.1 0.6M590.2 592.6l-0.2 0.3M649.1 575.1l-1.1 0.5M637.6 580.8l0.5 1.2M680.8 503.9l1.1 1M646.4 549.1l0.1 0.1M618.5 613.6l-0.4 0M582 593.6l0.4 0.2M567.9 536.3l-0 1.5M625.3 605.6l-0.4 1.1M662.6 525.7l-0.7 1.4M637.5 603l-0.1 0.1M648.1 535.9l0.6 1.3M577.6 561.4l1.2 0.4M658.5 606.8l-0.7 0.5M629.7 581.5l-1.4 0.3M621.9 584.4l0.7 0.4M691.8 530.2l-0 0M621.4 586.5l0.2 1.4M652.6 518l1.1 0.8M670.4 592.6l0.4 0.2M598.2 581.8l0.1 0.8M588.7 592.7l-0.2 0.2M624.3 606.3l-0.1 0.4M668 520.5l0.4 0.2M649.4 571.4l0 0.2M646.7 559.3l1.2 0.9M593.7 555.8l-1.1 0.3M666.4 549.5l0 0.1M636.7 538.3l-0.8 0.4M610.7 536.7l-1.3 0.5M665.5 583.4l-0.3 0.1M616.7 582.5l0.9 0.8M669.2 596.9l0.4 1.3M585.1 546.1l0.4 0.3M623.1 557.8l-1.4 0.8M593.9 614.2l-0.5 0.6M603.4 528.8l0.7 1.2M587.7 578.4l0 0M667 567.5l0 0.3M632.4 591.6l1.2 0.9M660.9 523.5l0.2 0.8M657.8 516.6l-0.8 0.1M651.1 532.1l0.8 0.1M668.4 527.5l-0.1 0.1M663.7 544.4l-0.3 0.3M656.3 545.1l-0.8 1.2M635.2 566.4l0.5 0.3M662.9 541.3l0 1M647.9 608.8l1.2 0.7M616.5 603l0.7 0.3M611.2 562.3l1.1 0M656.6 558.7l0.6 0.4M634.1 569.1l-0.3 0.3M649.4 525.4l-0 0M593.6 554l-0.3 0.2M648.2 535.1l-0.1 1.6M588.5 576.3l0.8 1M599.6 572.4l0.7 0.5M628.2 586.2l0.1 0.8M670.9 553.9l-0.2 0.5M647.1 566.2l0.5 0.7M662.9 527.5l-0.1 1.4M664 533.2l0 0.4M667.8 533l-0.5 0.1M630.2 539.6l0.1 0M661.4 540.3l-0.9 0.3M629.5 550.8l-0.4 0.4M646.5 605.4l0.2 0.1M642.7 499l-1 0.7M667.5 523.3l0.5 0.5M655.8 517.2l0 0M659.6 544.5l-1.4 0.8M641.5 562.3l0.3 1M649.8 593.7l-0.2 0.1M663.9 553.8l-0.3 1.1M662.3 526.8l-0.4 0.5M584.8 602.9l0.6 0.8M647.8 577.6l0 0.1M602.2 597l-0.5 0.6M638.4 592l1.3 0.3M607.1 584l0.4 0.1M670.2 521.8l-0.2 0.5M650.7 551.5l-0.1 0.1M657 523.4l0.8 0.2M635.1 537.6l0.7 0.6M585 570.2l0.8 0.4M571.1 555.5l-0.4 0.1M582.9 557l0.1 0.2M591.5 566.1l0.1 0.2" stroke="#ff2050" stroke-width="2.3" stroke-linecap="round" fill="none" stroke-opacity="0.9"/>
<path d="M640.1 571.4l0.3 0.6M588.6 576.7l0.1 0.3M671 520.5l0.7 0.2M571.8 597.9l0 0M653.5 619.4l-0.8 0.1M656.7 536.7l0.2 0.1M565.8 556.3l0.3 0M631.3 549.3l0.1 0.2M572.9 555.8l-0.1 0.7M602.1 577l0.2 0.9M604.7 576.5l-0.5 0.2M595.1 569.5l0.1 0.1M593 603.8l0.3 0.4M585.6 548.4l-0.1 0M576.8 596.4l-0.4 0.3M594.4 595.9l-0.4 0.3M633.8 548.1l-0.1 0.3M669.5 546.1l-0.1 0.2M640 578.5l0.8 0.2M637.8 565.4l-0.2 0M657.3 540.8l0.1 0M671.2 527.4l-0 0.1M677 526.3l-0 0M672.2 587.5l-0.2 0.1M665.3 535.3l-0.2 0.8M677.7 535.8l-0.4 0.7M568.8 573.6l0.6 0.8M658.4 540.4l-0.3 0.1M660.2 518.3l-0.7 0.4M604.6 610.2l0 0.1M619.4 593.8l-0.2 0.6M593.8 563.1l0.2 0.3M644.2 562.6l-0 0M583.7 566.1l-0.6 0.3M664.5 541.2l-0.6 0.6M599.8 526.9l-0.5 0M583.2 555.2l-0.2 0.3M661.5 541.6l-0.1 0.3M664.2 553.8l-0.2 0.1M654.1 517.8l0.3 0.3M615.5 588.8l0.7 0.6M590 549.5l0.7 0.7M618.3 530.9l0.4 0.8M575.1 541.3l0.7 0.5M671.8 531.4l0.5 0.8M583 562.6l-0.4 0.2M647.6 537.9l-0.4 0.7M577.8 552.6l0 0.6M625.5 605.3l-0.8 0.1M671.7 531.1l0.1 0.1M623.2 563.6l-0.5 0.4M609.8 597.4l0.1 0.5M656.8 535.9l0.8 0.1M602.9 580.4l-0.7 0.5M615.5 555l-0.4 0.3M632.6 559.5l-0.1 0M627.7 610.8l-0.1 0.1M575.2 578.4l0.6 0.6M587 591l0.5 0M677.7 527.1l0.1 0.1M600.3 573.9l0.2 0.3M671.6 519.8l0.2 0.3M601.6 576.3l-0 0M607 580.8l-0.7 0.4M659.5 536.4l0.6 0M590.2 590.3l-0 0M668.4 537.4l0.3 0.1M664.8 569.1l0.7 0.2M626.4 537.7l-0 0.2M657.1 610.7l0.3 0M577.4 589l0.7 0M653.6 531.4l0.1 0.1" stroke="#ff60c0" stroke-width="2.0" stroke-linecap="round" fill="none" stroke-opacity="0.7"/>
</g>
<rect x="574.4" y="512.2" width="107.2" height="106.0" fill="none" stroke="#1fb84a" stroke-width="0.9"/>
<rect x="572.0" y="509.4" width="112.4" height="112.0" fill="none" stroke="#484848" stroke-width="1.7"/>
<clipPath id="c23"><rect x="571.2" y="626.2" width="114.0" height="113.6"/></clipPath><g clip-path="url(#c23)">
<rect x="571.20" y="626.20" width="114.00" height="113.60" fill="#040a2c"/>
<path d="M679.3 727.6l-0 0.1M631.6 641l0 0.3M623.1 629l-0.1 0.1M629.6 709.6l0.5 0.1M638.4 700.9l-0.9 0.1M657.8 668.1l-0.4 0.7M581 680.1l-0.3 1M644.4 646.9l0.1 0.2M593.5 639.2l0.1 0M636.5 719.4l0.2 0.4M605.9 714.5l0.5 0.6M660.6 706.5l0.9 0.8M675.9 693.5l1.1 0.7M577.6 673.5l-0 0M682.2 717.6l-0.2 1.3M656.6 665.5l0.5 1.3M579.8 679.1l-0.3 0.1M595.8 638l0.6 0.4M663.9 654.9l-0.6 0.2M610.3 727.6l-1.1 0.4M618.2 704.9l-0.5 1.1M604.9 672.7l-0.2 1.1M665.4 638.5l0.4 0.8M666.4 654.4l1.3 0.3M633 652.9l0.1 0.8M653.1 626.6l-0.4 0.3M670.1 649.3l0.8 0.5M619.4 635.5l0.1 1M632.7 689.3l0.4 0.6M581 725.8l0 1.2M648 694.9l0.2 0.3M605.6 735.2l0.2 0.4M664.3 680.5l0.5 0.6M581.4 650.9l-0.3 0.2M583.8 678.8l-0 0.2M669 655.7l0.8 0.8M643.5 631l0.7 0.9M587.9 721.3l-0.1 0.1M648.7 659.5l-0.1 0M590.5 737.1l1.1 0.7M640.9 642l0.1 1M636.2 713.8l-0.4 1.1M608.5 641.4l-0.1 0.1M619.8 662.2l-0.1 0.9M620.9 667.3l-0.6 0.7M606.7 726.9l-1.4 0.1M614.5 714.1l1.2 0.1M653.8 712.3l0.6 0.5M577.9 662.1l-0.5 0.3M618.4 654.1l-0.2 0.4M590.9 719.5l-0.8 0.1M642.2 674.8l-0.8 0.2M646.5 675.1l-0.1 0M614.8 632.7l0 0M655.6 706.7l0.6 0.7M639.9 633.4l-0 0.8M585 633.9l0.6 0.3M606.5 696.7l-0.3 1M593.7 665.6l0.9 1M627.4 688.2l0.7 0.9M573.7 716l-0.8 0.2M649.8 733.8l0.9 0.3M681.7 638.8l1.1 0.3M661.9 708l-0.5 1.2M602.2 691.3l-0.6 1.2M593.7 709.7l1 0.2M591.3 650.9l-0 0.1M682.4 626.2l-0.8 0.8M636.4 716.9l0.8 0.4M611.5 692.5l-0.7 0.2M668.5 635.5l-0.2 0.4M666.1 649.8l-0.9 0.7M587.1 692.5l-0.5 1.3M629 718.2l-0.1 0.7M677.5 717.1l0.8 0.9M665 707.8l-1.3 0.4M629.1 666.8l-0 0.3M658.8 637.5l0.1 0.3M623.6 644.3l0.5 0.5M638.8 738.8l-0.7 0.8M635.2 698.6l0.2 1M677 656.4l0.1 1M609.7 636.7l0 0.6M617.2 701.9l-0.4 0.4M671.5 733.5l-0 0M650.2 638.2l-0.8 0.7M681.1 733.8l-0.9 0.2M605.2 686.4l-0.7 0.1M642 696.8l0.4 1.3M639.6 671.9l0.4 0.2M609.5 660.3l0 0.1M676.8 714.9l-0.8 0.4M584.5 695.5l-0.3 0M672.2 654.1l-0.1 0.1M600.4 731.5l-0.8 1.1M683.3 643l-0.7 0.7M609.9 687.9l-0.7 0.4M614 662l1 0.4M584.4 639.4l-0.6 0.3M582.7 702.3l-0.1 0.5M623.2 709.5l-0.8 0.4M673.9 711l-0 0.4M660.7 709.2l-1 0.6M644.2 631.2l-0.4 0.5M667.9 676.1l-0.3 0.1M593 630.5l-0.3 1.2M684.1 692.9l-0.9 0.6M630.8 645.8l0.2 0.8M584.4 649.5l0.5 0M680.9 724.5l-0.2 0.1M598.5 698.6l0.3 0.2M591.4 648.1l1.3 0.2M595.4 708l0 0M574.2 672.9l0 0.5M580.3 724.6l-0.3 0.2M581.9 648.2l0.1 0.1M581.1 723l0 0.7M663.6 631.4l-0 0.1M628.8 697.2l1.2 0M606.9 692.1l-0 0M633.7 701.9l-1 0.6M626.7 636.2l-1 0.5M607.1 737l0.5 0.7M596.8 653.5l1.2 0.2M616.4 691.2l-0.9 0.3M581.8 684.4l0.1 0.3M581.5 690.7l0 0.1M582 717.7l1.3 0.1M591.3 709.1l-0.1 0.1M600.7 645l-0.4 0.2M589.1 728.6l-1 0.1M589.3 708.9l0 0M597.8 651l0.1 0.5M637.5 689.4l0.8 0.6M658.2 718.7l-0.1 0.6M623.5 699.3l-1.3 0.4M657.4 723.4l-0.7 1.1M670.8 628l0.1 0.8M642 649l0.2 0M660.5 668.6l-0.1 0.3M631.2 665.2l-0.3 0.4M609 690.3l1.2 0.6M602.3 662l-0.6 0.4M653.1 675.3l-0 0.8M591.7 696.2l-0.4 0.4M617.7 738.3l0.3 0M649.8 636.6l1 0.3M642.1 628.6l-0.6 0M615.6 729.4l-0.7 0.4M614.7 705.8l-0.6 0.9M619.2 662.4l0.3 0.1M587.3 666.4l-0 0M580.1 734.1l-1 1M651.4 628.7l0.3 0.3M644 693.4l-0.4 0.4M603.2 639.3l-0.3 0.1M655.2 724.8l0.4 0.8M580.3 673.1l-0.7 1M665.5 712.3l0.7 0.8M646 721.6l-0.7 0.2M595.1 691.9l-0.1 0.3M685 665.1l-1 0.5M638.3 652.6l0.1 0.5M629.1 644.5l-0 0.9M622 724.7l-0.4 0.8M617 674.7l0.2 0.9M596.4 632.3l0 0.1M623.2 649.1l0.1 0.3M600.9 682l1 0.2M622.3 727.8l0.4 0.8M648.6 720l1.2 0.1M661.4 670.6l1.2 0.3M641.9 672.9l-0.1 1.2M592.2 715.3l0.1 0.2M573 659.9l0 0.1M573.3 678.9l0.3 0.3M609.1 632.4l-1.3 0.1M646.4 692.7l-0 0.3M602.6 677.7l0 0M659 663.9l0.7 1.2M608 727.8l-0.6 0.2M616.2 665.3l-1 0.5M617.9 645.8l0.1 0M605.6 675.1l-0.6 1.1M608.9 662.7l0.4 0.4M602.6 731.7l-0 0.1M658.1 630.5l-0.5 0.5M587.6 727.2l-0 0M672 724.5l-0.2 0.5M637.9 669.4l0.7 1M579 632.9l0.5 1.1M683.6 708.3l-0 0.2M640.1 657.2l-0.4 0.1M634 704.8l0.9 0.6M626.2 643.3l-0.4 0M674.2 683.1l0.3 0.8M632.3 666.8l-0 1.4M664 637.1l0.1 0.4M622.4 676.2l-0.3 0.7M576.9 653.1l0.1 0.1M668.3 627.8l1 0.5M667.9 738.2l0.8 0.1M620.9 702.8l-1.3 0.5M585.9 700.2l-0.1 0.3M633.3 665.9l0.8 1M589.6 659.1l-0.1 0.2M598.9 718l0.6 1M663.5 700.1l-0.6 0.6M608.9 655.3l-0 0.3M593 635.9l0 0M642 718.4l-0.3 0.7M579.7 711.1l1 0.5M649 706.4l0.1 0.2M633.4 719.4l0.1 0.2M591.4 646.3l-0.4 1M623.5 633.3l0.6 0.7M677.1 682.5l0.2 0.5M641.6 707.6l0.2 0M590.1 694.2l-0 0.2M682.1 662.6l0.2 0.3M598.6 653.7l-0.1 1M667.7 640.6l-0.1 0.4M658.5 643l0.8 0.5M650.9 714.4l0.2 0M636.7 629.8l1.3 0.1M663 669.8l1 0.6M636.7 722.9l-0.9 0.7M600.2 629.8l-0.2 0.2M627.5 680l-0 0M637.9 682.4l0.1 1.2M662.2 643l-0.4 1.1M588.1 684.7l0.4 0M656.5 728.4l0.3 1M598.6 655.5l-0.3 0.6M577.8 732l-0 0M680.6 723.8l-0.1 0.6M601 628.4l-0.2 1.4M632.6 634.8l0.1 0.1M664.2 659.4l-0.6 0.1M607.3 686.3l-0.1 0.2M630.5 638.8l-0 0M589.4 671.5l0.5 1.1M625.9 727.9l0.1 0.9M611.4 732.4l0.3 0.2M662.5 713.9l0.9 0M675.1 640.5l0.2 0.2M587.8 683.2l0.1 1M649.5 719.9l-0.8 1.1M577.6 659.6l-0.3 0M585.8 664.6l-0.2 0.5M609.2 705.6l-0.6 0.2M658.6 692.4l-0.7 0.7M622.1 696.7l-0.3 1M626.9 684.1l0.3 0.5M578.8 643.9l0 0.1M616.9 729.9l-0.9 0.2M680.4 717.6l0.1 0M610.1 700.5l-1.3 0.1M608.7 693.3l0.9 0.3M571.6 670.3l-1.1 0.4M669.8 677.9l0 0.6M596 668.4l0.7 0M578.6 689.8l0.1 0M657.8 738.5l-0.9 0.6M630.2 688.3l-1.2 0.6M649.9 707.9l-1.2 0.3M618.5 652.9l-0.2 0.1M665.8 662.9l1.1 0.1M606.8 660.3l1.4 0M647.4 739l-0.5 0.2M636.9 697.5l-0.1 0.3M574.9 708.1l-0 0M675.1 661.1l0.5 0.9M591.8 652.1l-0.4 0M615.3 735l1.2 0.6M595.4 665.4l0.3 0.3M596 663.9l0.1 0.1M603.9 736.3l0.2 0M629.9 661.5l-0.4 0.4M598.7 726.1l-0.1 0.5M657.5 691.9l0.6 0.4M601 722.8l0.4 1.2M593.9 732.5l0 0.2M627.8 665.4l-1.4 0.1M666.4 702.8l-0.5 0.4M590.4 719.9l-0.4 0.6M667.1 654.8l0.2 0.2M628.7 712.9l0.5 1M660.9 684.1l0.1 0.7M595.2 691.4l0.8 0.9M613.8 659.9l-0.9 1M630.1 665.9l0.5 0.2M612.2 703.2l-0 0.2M644.1 633.3l-0.1 1.1M590.2 718.6l-0 0M610.3 736l0.2 0.1M612.9 634.8l-0 0.1M590.4 694.5l1.1 0.7M628.8 632.1l-0.7 0.4M584.2 689.4l0.1 0.7M640.3 643.5l0.9 0.3M668.7 664.5l-0 0.6M573.2 719.2l0.8 1.1M602.9 701.2l-0.1 0.7M600.8 685.3l-0.3 0.7M683.1 641.2l-0.2 0.7M613.4 654.1l-0.5 0.6M623.9 649.7l-0.6 0M612.5 664.9l-0.2 0.1M576.5 677l0.4 0.4M665.5 668l-0.5 1.3M649.2 641.3l-0.1 0.6M583.4 669.3l1 0.7M640.8 647.3l-0.5 0.2M634.9 697.4l0 0M577.7 677.4l-0.4 0.7M629.5 721.4l0.2 0.3M604.9 724.9l-0.6 0.2M615.4 696.2l0 0M626.3 672.5l-0.4 0.8M630.8 673.4l0.4 0.3M591.6 655.6l-0.4 0.1M588.9 650.4l-0.4 0.2M598.8 708.3l-0 0.1M623.6 705.3l-0.7 0.3M638.7 708.4l-0.8 0.5M645.2 673.3l-1 0.6M633.1 738.3l0.8 0.7M580.3 656.8l1 0.6M657.7 734.6l0.6 0.1M645.4 712.6l1.2 0.2M654.4 657.2l-1.1 0.1M640.6 631.5l-0.9 0.1M608.3 731.4l-0 0M618 656.9l-0.2 0.1M632.2 644.8l0.5 0.5M647.9 733.5l0.2 0.3M678.7 717.5l0.1 0.5M637.6 692.9l-0.2 0.5M591.1 721.6l-0.2 1.3M620.8 667.1l-0.6 0.5M600.2 677.9l-0.4 0.4M682.1 702.3l0.8 0.3M573.6 696.6l0.8 0.1M649.9 704.4l0.2 0.3M609.2 687.8l-0.3 0.9M684.5 655.2l0.3 0.7M611.4 700.5l0.4 1.2M643.4 631.7l0.7 0.3M657.8 714.6l-0.4 0.3M597.8 706.6l-0.3 0M572.5 704.6l0.6 0.1M639.1 629.1l-0.2 0.1M669.8 671.1l0.4 0.8M647.7 659.2l-0.5 0.6M592.8 644.7l-1.1 0.4M641.7 735.5l-0 0.2M645.7 691.3l0.4 1M606.8 662.1l0.6 0.2M644.8 706.1l-0.7 0.6M601 651.1l-0.2 0M643.6 695.1l-0 0.6M649.6 674.7l-0.1 0M573 653.8l0 0.4M617.6 701.3l0.4 0.8M587.9 631.1l0 0M607.1 729.2l-0.8 0.6M645.3 702.9l-0.6 1M649.1 635.6l1.1 0.2M647.9 733.1l0.3 0.9M622.5 636.8l1 0.6M608.6 705l0.3 0.5M606.9 646.9l0.2 1.1M574.4 737.9l-0 0.3M608.3 714.7l-0.7 0M670.9 729.3l-0.4 0.1M651.7 663.7l-0.3 0.7M608.1 635.5l-0.3 0.3M623.1 700.5l-0.5 0.2M626.3 725.4l0 0.1M646.4 676.3l-0.6 0.2M601 675.9l0 0M613.1 705.9l0 0.2M584.9 650.8l-0.1 0.5M594.7 677.9l-0.7 0.4M673.8 645l0.5 0.1M616.5 675.8l-0.8 0.2M681.3 706.6l-0.1 0.2M579.5 701l-0.1 0.2M647.1 662l0.8 0.3M661.9 667.5l0.9 0.3M598.4 735.4l0.2 0M649.3 696.6l0 0.1M579.3 716.6l0.8 0.3M618.7 716.8l-0.7 0.4M628.1 648.8l0.8 1.2M666.5 647.3l-0.1 0M589.7 660.6l-0.2 0.8M626.1 647.6l0.3 1M587.3 654.7l0.2 0.1M583.9 646.5l0.8 0.5M573.5 661.1l-0 0.2M656.5 675.6l1.2 0.2M577.9 664.9l0.9 0.9M683.1 627.6l0.8 0.4M665.2 639.9l-0.7 1.1M592.8 670.6l-1 0.5M670.4 696.1l-0 0M636.1 714.2l0.2 0M632.4 709.8l-0.2 0.3M626.7 637.1l0 0M664.2 627.1l-0.9 0.2M680.6 715.4l0.2 0.1M604.4 629.8l-0 0M591 729.3l0.3 0.3M645.5 712.9l1.2 0.3M608.1 635.9l0.8 0.5M682 632.2l0.2 0.6M683.6 633.6l0 0.1M635.1 706.7l0.1 0.8M583.7 679.4l-0.5 0M628.2 715.6l-0.7 1.2M588.9 640.7l0.1 0M617.8 711.1l0.3 0.2M581 724.6l0 0.1M635.7 695.3l-0.2 0.1M600.2 632l-0.1 0.3M679.9 719.5l0.3 0.4M602.6 667l0.7 0.6M671.9 702.4l-1 0M618.8 699.9l0.2 1.1M684.8 707.6l0.9 0.3M641.9 725.3l0.4 0.1M669.2 688.5l0.5 0.9M584.6 637.9l-0.9 0.6M633.5 684.8l1.1 0.3M588.4 737.8l-0.4 0.6M663.6 714.7l-0.6 0M657.7 665l-1.3 0.1M612.3 697.3l0.4 0.2M615.1 681l-0.7 0.2M622.6 681.3l-0.5 1M614.2 710.4l0.4 0.8M590.4 629.5l-0.9 0.5M574.6 666.4l0.3 0.1M668.6 721.7l0.8 0.8M604.5 665.6l1.1 0.1M607.4 679.8l0.3 0.2M624.1 650.3l-0.8 0.3M637.9 719.4l0.1 1.2M588.5 643.9l1 0.9M596.1 638.6l0.1 0.4M676.1 659.8l-0.6 1.1M624 628.5l0.2 0.1M577.2 653.8l-0.3 0.6M618 710l-0.1 0.1M572.7 714.3l-0.2 0.7M588.5 690.7l-0.4 0M673.2 646.5l0.2 0.5M625.9 694.7l0.4 0.2M597.6 681.7l-0.9 1.1M601.5 649.3l1.2 0M659.2 660.1l0.7 0.3M583.1 736.3l-0.2 0.5M673.8 719.5l0.3 0.8M657.2 662.1l-0.5 1.2M588.2 682.5l0.4 0.6M628 667.5l-0 0.4M599.7 631.9l-0.3 0.5M673.5 641.8l0.1 0M592.6 633.2l0.7 0.7M636.5 658.6l0.3 1.2M646.8 688.5l0.6 0.8M623 720.6l0.1 0.7M667.3 734.1l-0.5 0.9M598 723.9l-0.9 0.1M676.4 649.8l0.2 1M641.1 659.7l0.9 0.6M643.2 710.8l1.1 0.5M657.2 717.1l-0.4 1.3M627.4 733.4l-0.1 0.7M618 640l-0 0M582.8 735.9l0.1 0.3M575.3 724.1l0.6 0.1M607.4 701.3l0.4 0.6M653.4 654.6l0.2 0.6M678.5 717l0.8 0.9M648.1 712.3l-0.6 0.1M671.5 680l0.8 0.6M632.6 697.7l-0.6 0.3M620.3 634.6l0.5 0.2M601.9 702.7l0.1 1M613.5 679.1l1.1 0.8M574.9 653.8l-0.7 0.2M661 641.7l0.5 0.6M655.5 719.1l-0.2 0.6M609.9 635.3l-0.7 0.8M604.6 738.5l-0 0.3M676.6 712.3l0.3 0.7M590 700.3l0.3 0.6M595.4 720.2l0.8 0.3M584.6 682.7l0.5 0.4M651.4 668.8l-0.4 0.8M630 693.7l0.2 0.4M644.5 728.2l0.1 0.2M581.1 635.7l0.1 0.1M613.5 681.9l-0.1 0.3M607.6 642.5l0.3 1.3M583.9 708.6l-0.6 0.1M580.5 712.1l-1.4 0M642.6 730.9l0.3 1.1M572.7 636.1l0.5 0.1M622.8 655.3l1.1 0.7M630.5 672.3l-1.1 0.2M578.5 666.4l-0.6 0.2M613.6 707.5l1.3 0.4M582.7 627.2l-0.1 0M670.3 696.1l-0.1 0M679.1 727.3l0.7 0.2M597.7 648.8l0.8 0.6M581.7 722l0.5 0M649.6 682.9l0.5 0.9M663.2 679.8l0.6 0.9M642.2 632.7l-0.7 0.5M685.2 673.1l0.8 0.3M576.7 699.1l-0.5 0.4M677.3 736.8l1.3 0.1M626 701.9l-1 0.6M625.2 649.2l-0.2 0.2M579.4 702.7l-0.4 0.7M598.4 736.6l-0.2 0.7M572.4 646.2l-0.5 0.1M679.2 694.8l-0.4 0.4M660.3 627.9l0.5 1.1M627.9 724l-0 0.1M607.3 720.5l-0 0.2M655.7 656.6l0.9 0.3M635 643.7l-0.2 0.4M638.8 631.3l0.1 1M574.2 729.6l-0 0.1M601.9 637.7l-0.3 0.2M618 727l-0.4 0.2M608.8 669l0.1 0M616 626.4l0.2 0.3M634.5 675.9l-1 0.6M623.2 730.9l0.1 0.4M620.1 739.3l0.8 1.1M598.9 679.9l0.7 0.8M684.5 711.1l0.2 0M681.7 696.9l0.3 0.3M589.8 683.5l0.2 0.1M673.2 695.1l0.4 0.3M585.2 659.2l0.1 0.1M647.3 707.4l1.2 0.7M665.5 727.6l-0.8 0.5M577 711.5l-1.2 0.2M622.8 668.8l0.3 0.7M666.2 707.1l-0.4 0.5M657.4 681.5l-0.5 0M597.4 737.6l0.7 0.8M673.1 695.7l0.2 0.3M619.6 739.7l-0.3 0.4M575.5 633.8l0.4 1.3M614.1 647.1l-0.2 0.5M622.7 682.8l-0.5 0.3M605.5 632.7l0.7 1M574.3 711.3l0.1 0.1M633.3 718.9l-0.9 0.9M675.4 669.3l0.5 0.1M662.3 634.3l-0.4 0.6M600.3 731.9l1.1 0.2M627.2 672.4l0.5 0.8M595.8 673.1l-0.1 1.2M624.8 644.4l-0 0.3M665.9 732.6l0.8 1M673.2 728.4l0.1 0.1M662.1 655.8l-0.2 0M663.5 733.6l0.2 0.5M615 712.4l0.3 0.1M660.6 650.7l0.2 1M612.7 652.2l-0.5 1.3M674.8 701.9l0.1 0.1M575.4 638.2l-0.4 0.9M677.9 631.6l-0.7 0.1M667.9 702.7l-0.8 0.4M623.1 673l-1.3 0.1M657.6 650.5l-0.1 0.3M574.8 734.6l-0 0.4M592.1 708.3l-0.5 0.6M663.7 707.8l-0.3 0M621.2 731.8l0.6 1.1M589.8 723.8l-1.2 0.2M658.1 680.5l0.7 0.3M598.1 729.3l-0.3 0.3M660.6 731.1l-0.8 0.3M626.6 733.7l0.2 0.1M592.5 726l-0.8 0.4M634.8 699l-0.5 0.8M594.1 671.1l0.4 0.9M631.2 653.1l0 0M635.6 684.1l0.4 0.1M655.1 694.5l1.1 0.2M593.1 703.3l-0.2 0.8M580.5 652.2l0.4 0.1M669.9 632.1l-0.6 1.1M619 639.7l0.8 0.8M586.2 649.4l-0 0.1M669.2 736l0.6 0.2M679.6 699.3l-0.2 0.5M678.5 628.6l0.7 1.1M600 699.9l0 0.2M610.6 674.4l-0.1 0M638.2 706.7l-0.2 0.6M637 628.9l0.2 0.1M615.7 677.5l0.5 0.2M644.1 728.6l-0.5 0.2M601 738.9l-0.3 0.2M651.5 681.6l1.2 0.2M638.7 633.3l0.1 0.1M584.2 704.5l-0.6 0.7M608.5 696.2l-0.4 0M674.3 666.4l-1 0.6M571.6 638.4l0.5 0.9M651.1 711.3l1.3 0.1M680.9 709.9l1 0.1M651.5 678.6l1.3 0.1M657.8 674.9l1 0.9M644.4 700.1l-1.3 0.4M675.4 635.8l0.8 0.2M674.2 706.6l0.9 0.5M655.7 707.3l0.5 0.5M633.4 677.7l0.4 1.1M684 645.1l0.5 0M578.3 719.6l0.1 0M647.4 687.6l0.6 0.3M633.7 703.7l0.2 0.5M590.1 695.8l-0.7 0.1M642.5 648.8l0 0.2M572.7 672.7l-0 0M640.9 647.7l0 1M626.1 703.6l0.8 0.4M676.4 701.6l-0.5 0.2M588.1 685.3l-0.7 1.1M672.1 655.5l0.5 1.1M597.8 662.1l0.2 0.8M670.8 641.1l0.4 0.4M599.6 722.8l-0 0.2M642.2 668.9l-1 0.1M620.5 689.3l-0.4 1M666.4 684.9l0.6 0.4M611.2 632.4l0.2 0.5M661.2 663.7l-0.4 1.3M675.6 699.9l0.2 0M601.1 726.1l-1.3 0.3M669.5 726.9l1.1 0.8M596.3 714.5l-0 0M628.6 637.6l0.1 1M578 633.3l0.1 0.2M606.3 688.8l-0.2 1.4M623.7 712.6l-0.8 0.5M662.3 628.9l-0.1 0.3M578.1 712.8l0.2 1.2M645.9 671.2l0.6 1.1M683.1 727.3l0.7 0.8M666.4 677.6l0 0.1M589 655.4l-0.3 0.8M588.3 687l0.3 0M680.7 717.6l0.7 0.1M669.9 697.4l-0.5 0.8M648.5 697.2l0.3 0.1M626.7 629.8l-1.1 0.4M582.5 690.3l-0 0M626.4 632.4l0.3 0.3M588.6 633.9l-0.6 0.7M660.9 736.9l0.1 0.4M579.3 664.5l-0 0.5M675.8 718.6l0.7 0.2M623.3 636l0 0.2M599.1 739.7l-0.6 0M580.2 714.9l0.7 0.2M652 671.6l-0.8 0.9M620.8 734.3l0.8 0.4M592 654.8l0.5 0.6M634.3 686.6l0.8 0.4M633 693.6l-0 0.1M607.8 672.8l1.2 0.3M641.6 639.6l-0.6 0.1M611.5 656.2l0.1 0.5M629.2 696.8l-0.8 0.6M574.6 681.8l0.5 0.3M620.5 694.1l0.2 0.4M586.8 683.5l-0.2 0M684 718.1l0.1 0.6M610.2 654.7l0.2 0.5M645.3 728.1l0.9 1.1M613.2 640.9l1.1 0.2M670 736.3l-0.6 0.1M672.4 684.4l-0.8 0.7M684.2 650.4l0.6 0.3M625.9 710.5l-0.4 1.2M662.2 714.5l0.1 0M589.7 663.6l0.3 1M582.8 674.7l-0.2 0.2M683.1 692.9l0.6 1M670.6 733.6l-0.8 0.5M646.1 647.4l0.2 0.2M669 640.6l-0.2 1.2M613.6 636.8l-1 0.4M680.5 677.9l0.3 0.2M659.1 713.4l0.9 0.2M638 717.8l0.8 0.7M630.2 713.4l0.4 0.8M589.7 739.2l0.8 0.4M656.9 644.3l0.3 0.3M657.3 658.1l-0.3 0.1M586.9 628.3l0.9 0.4M629.7 736.5l-0.6 0.3M589.2 647.8l-0.8 0.1M633.8 695l0.2 0.2M655.4 635.7l-0.4 0.7M615.5 632l-1.3 0.2M596.3 664.9l-0.3 0.6M588.4 702.7l0.5 0.3M574.7 642.8l0 0.2M621.4 659.4l-0.3 0M637.9 678.5l-0.4 0.5M595.9 673.6l-1.2 0.3M633.9 661.5l-0 0.2M677.2 649.5l0.7 0.4M605.4 705.9l-0.2 0.1M615.4 680.4l0.4 0.6M632.9 720.3l-0 0.1M615.4 669.5l0.4 0.6M576.5 657l-0.4 0.2M656.5 668.7l0.1 0.2M672.3 679.3l0.2 0.2M589.2 725.6l-0.5 0M638.6 644l1.1 0.7M613.7 701.6l0.2 1M660.9 729l0.5 1.2M614.2 663.7l-0.1 1.2M623.9 696.7l0.3 0.7M589.1 673.4l-1.2 0.6M576 634.3l1.1 0.1M676.9 654.6l-0.7 1.1M595.6 721.5l0.9 0.9M683.5 669.6l0.6 0.2M581.7 688l1.2 0.4M629.1 673.7l-1.1 0.5M632.3 731.7l0.8 0.2M603.7 697.4l0.1 0.8M621.7 675.9l0.4 0.4M645.4 730.6l0 0.1M642.3 730.6l0.3 0.8M626.1 693l0.2 0.1M603.8 670.1l0.2 0.3M636.7 669.1l-0.7 0.9M671.8 705.4l-0.6 1.2M587.9 697.5l0.6 1.2M657.4 706l-0.7 1.1M684.7 733.6l0.6 0.1M649.6 672.8l0 0M608.4 670.2l0.4 1.1M610.7 642.6l-0.6 0.1M581.5 639.9l0.3 0.4M631.4 732.2l-0.4 0.4M644.9 680.1l0.5 0.3M673.2 645.4l-0.9 0.5M623.4 733.8l0.1 0.4M610.3 661.8l-0.1 0.1M657.9 696.1l-1 0.4M600.1 698.5l-0.2 0.4M604.9 699.4l-0.5 0.5M597.8 650.1l-0.1 0.1M664.1 732.7l-0 0.1M634.9 675.9l-0.3 0.3M685 729.5l-0.6 0.4M600.8 644.6l-0.5 0.7M637.7 690.8l-0.6 0.9M619.8 680.7l0.2 0.7M603.6 665.4l0.1 0M654.6 727.3l-0.8 0.5M578.5 736.1l0.1 0.2M596 628.5l-1 0.1M596.3 654.6l-0.1 0.2M643.5 666.8l-1 0.6M578.6 716.4l0.4 0.1M635.8 635.6l-0.1 0.1M614.7 708l-1.1 0.7M674.8 687.6l0.7 0.3M605.7 651.2l-0.6 0.1M631.3 703.6l1.3 0.4M672.4 632.2l0.5 0.5M667.9 668.8l-1 0.9M656.2 671.1l0.1 0.5M661 689.6l0 0.1M611.6 700.8l-0 0.3M643.4 647.1l-0.1 0.3M624.1 688.7l0 0M625 642.7l-0 0.8M580.2 725l0.9 0.7M673.9 644.2l0.8 0.6M662.4 713.6l0 1M631.2 720.6l-0.6 0.6M684.4 675.7l0.2 0.4M585.8 686.4l0.7 1M670 703.3l0.2 0.1M615.5 654.1l0.5 0.5M579.4 669.1l1.1 0.7M670 649.5l-0.6 0.4M608.1 692.7l-0.3 0.5M642.9 730.8l0.4 0.2M591.3 725.1l-1.2 0M623.7 727.3l-0.5 0.3M644.9 708.4l0 0.1M572.7 663.6l-1.4 0.2M601.2 688.2l-0.1 0.9M655.3 732.4l-0.8 0.6M620.5 727.2l-1.2 0.5M639.4 681.4l0 0.2M593.2 677.7l-0.2 0.1M602.6 689l0 0.1M594 671.9l0.1 0M644.3 655.8l0.6 0.7M596 652l-0.5 0.8M663 648.8l0.1 0.1M618.8 666.6l-0.1 0.1M642.7 738.8l-0 0.1M640.9 726.5l0.3 1M578.3 696.7l0.2 0.3M682 641l0.1 0.4M647.7 635l-0.1 1.1M599.4 682.7l-0.9 0.2M593.1 660.4l0.1 1.4M617.3 679.9l0.5 1.1M620.3 678.8l0.1 0.4M572.6 691.1l0 0M604.8 696.9l-0.3 0.7M594.2 656.4l-0 0.8M679.4 668.6l-0.4 0M673 690.9l0.5 1M610.1 705.1l0.5 0.7M586.1 694.8l0.1 0.1M589.9 704.8l-1.1 0.5M629.7 732.7l0.1 0.7M617.5 651.9l-0.3 0.2M609.3 684.7l0.1 0M661.5 681.4l0.8 0M613.4 672l0.2 0.7M634.9 647.7l-0.4 0.3M677.2 691.4l0.7 0.1M660.4 735.9l0.1 0.6M607.2 638.6l0.3 0.3M677.8 636.4l1.2 0.1M672.1 656.5l-0.1 0.5M668.6 665.3l-0.4 0.4M573.6 701.6l-0 0.2M618.1 636.9l0.1 0M637.9 706.3l-0.4 0.3M586.9 729.1l0.1 0.3M667.3 647.9l0.7 0.2M607.4 707.9l-0.3 1.3M683.5 644l0.1 0.1M676.1 727.4l-0 0M671 713.2l0.5 0.4M622.4 712l-0.3 0.9M587 667.1l0.5 0.4M643.3 695.5l0.1 0M626.6 737.4l-0.6 0.7M587.3 703.2l-0.2 0.2M576.1 656.6l0.2 0.5M578.7 716.2l-0.2 0.2M674.8 713.6l0.7 0.5M638.2 637.1l0 0M603.2 635.4l-0.7 0.5M641.6 702.8l-0.8 0.6M598.7 639.3l0 0.8M606.8 701.9l0.5 1.2M576.8 631.7l-0.1 0.1M582 661.9l0.4 0.8M593.1 654.7l-0.4 0.9M642.7 699.3l-0.2 0.9M674.3 681.2l0.1 1.1M583.9 718.8l0.3 0.7M618.8 703.3l0.2 0M677.6 728.6l-0 0M590.5 718l-0.1 0.8M617.6 638.7l-0.2 0.1M592.1 707.5l-0.4 0.3M601.1 737.3l-0.1 0.8M584 714l0.1 1M678 733.1l0.2 0.8M606.7 664.3l-0 1.1M677 665.3l-0.2 0.1M650.3 658.7l-0.6 0.4M642.2 661.8l-0.2 1M596.3 635.5l-0 0.2M635.2 739.4l0.8 0.6M614.1 636.4l0.2 1.3M591.3 723.1l0.1 0.3" stroke="#15339c" stroke-width="2.6" stroke-linecap="round" fill="none" stroke-opacity="0.9"/>
<path d="M647.1 739.2l-0.3 0.4M620.6 734.9l0.5 0.1M614.1 718.8l0.2 0.5M589.1 727.1l-0 1M649.8 652.8l0.2 0.2M612.1 663.1l-0.9 0M584.2 648.9l0.1 0M648.4 733.8l-0.1 0.4M654.5 696.4l-0.1 1.2M641.7 720.5l-0.6 0.5M619.2 639.6l-0.4 0.6M659.7 713.3l-0.7 0.4M633.1 713.2l-1 0.1M641.7 731.7l-0.1 0.2M606.5 681.4l0.3 0.8M622 651.2l0.1 0.1M638.4 661.6l-0.5 0.3M590 676.1l1 0.3M677.6 678.4l0.8 0.4M605 725.5l-0.3 1M667.7 674.7l-0 1.1M664.7 658.4l0.2 0.1M603.1 631.6l0.2 0M606.8 728l0.6 1M668.4 629.4l0.5 0.1M620.5 683.2l-0.9 0.6M610.2 682.6l0.8 0.9M605.4 631.8l-0.2 0.6M672.8 697.6l0.2 1.2M663.5 657.6l0.4 0.4M601.9 725.3l1.3 0.2M677.5 632.2l0 1.2M577.3 691.3l-0 1.3M652.4 638l-0.4 0.8M628.2 730l0.9 0.7M613.4 722.8l-0.1 0.1M592.9 632.3l0.1 0.2M636.6 738.7l-0.4 0.7M602.9 697.9l-0.8 0.8M578.6 729.9l-0.1 0.3M572.2 702.3l0.5 0.9M618.5 678.9l0.7 0.9M683.6 720.5l-0.1 0.1M581.2 656.4l0.1 0.2M628.2 682.5l-0.1 0.4M588.6 692.6l-0.1 0M610.6 647.3l0.5 0.3M587 655.6l0.1 0.4M594.5 729.6l0 0.3M612.4 686.5l-0.3 0.4M657.8 629.9l0.6 0.4M611.7 725.5l-0.4 0.1M658.2 630l0.3 0.7M656.6 649.3l-0.7 0.6M571.5 669.6l0.8 0.8M586.6 684.5l-0.5 0.6M599.7 633.1l0 0.1M650.3 718.7l-0.5 0M652.3 722.9l0.3 0M651.4 704l0.1 0.2M678.8 635.4l-0.1 0M594.9 728.9l0.1 0M625.9 711.1l0.2 0M676.9 721l0 0.1M642.6 729l0 0M681.8 635.2l0.1 0.1M658.9 641.1l-0.7 0.3M620.3 721.5l-0.3 0M625.2 692.4l-0.1 0.3M681.5 648.5l-0.2 0M658.9 629.8l0.1 0.5M571.7 626.8l-0.6 0M683.4 701.3l-0 0.1M644 688.6l-0.9 0.9M627.8 682.8l0.5 1.1M610.1 739.3l-0.7 0.7M632 692.7l0.5 0.4M583.1 651.5l-0.6 0.5M679.6 676.3l0.5 0.5M603.4 645.5l0.9 0.3M578.3 728.1l0.3 1M643.8 647.7l0 0M658.2 634.6l0.3 0.1M652.8 699.2l-0.5 0.7M599.4 677.9l0.3 1.2M588.8 638.6l0.4 0.3M673.7 648.6l0.2 0.9M684.9 686.1l0.4 0.7M616.1 673.6l0.8 0.8M659.1 696.4l0 0M658.6 691.6l0 0M636.2 674l-1 0.7M598.1 644.6l-0.1 1.2M594.3 716.7l0.6 0.2M606.1 711.4l-0.1 0M607.2 712.9l-0.4 0M612.8 645.4l-0 0.6M649 694.8l0.4 0.4M581.7 681.5l-0.2 0.4M586 643.8l0.5 0.4M612.4 728l0.3 0.7M649.1 672.5l0 0M659.1 672.2l0.1 0.2M662.7 714.4l0.2 0.8M608.7 661.5l0.3 0.1M681.3 661l-0.3 0.1M622.2 667.3l0.4 0.1M616.1 649.5l0.7 0.4M648.3 700l-0.4 0.7M654.7 738.8l0.7 0.9M673.7 717.1l-0.1 0.2M603.2 731.2l-0.5 1M637.9 725.4l0.2 0.4M573.8 637.2l-0.5 1.1M657.7 665.6l0 0M612.1 738.6l-0.2 0.1M586.8 724l0 1.2M671.9 627.5l0.8 0.6M581.1 675.8l0.3 0.1M632.7 701.5l-0.2 1.2M580.4 631.4l-0.1 0.3M676.7 632.6l-0.6 0.7M634.3 722.5l-0.3 0.1M593.6 707.5l-1.1 0M683.5 647.9l0.6 0.7M605.9 718.8l-0.2 0.7M577.2 673.8l-1.2 0.1M593 713.4l-0 1M680.7 725.9l-0.6 0.7M603 731.3l-0.8 1M636.1 685.9l-0.2 0M646.7 655.2l0.6 0.3M591.3 712.1l0.1 0.6M579.1 739.5l0.5 0M575.2 647l0.2 0.3M587.5 702.1l-0.4 0.2M611.8 711.1l-0.2 0.6M598.4 691.9l-0 0.8M635.8 645.5l-0.6 0.8M578.8 658.9l0.5 0.8M682.2 727.8l-0.9 0.6M624.1 666.9l0.3 0M646.1 699.8l-1 0.8M656.3 730.8l0.1 0.4M682 702.4l0.7 0.7M609.7 721.8l-0 0.4M600.7 654.4l-1 0.4M577.2 728.8l0.5 0.5M662.3 628.9l-0.3 0.4M646.3 656.5l-0.5 0.6M617.6 723.9l0.1 0.3M573.1 704.4l-0.3 0.2M578.4 678l0.9 0.3M624.3 724.2l0.7 0.3M615.4 648.8l-0.7 0.6M664.6 638.7l-0.1 0.1M674.8 701.1l0.5 0.7M589.5 693.8l-0.4 0.7M593.7 693.6l-0.2 0M674.7 708.9l-0.3 0.4M663.3 732.2l-0.2 1.1M629 639.4l0.2 0.1M669.6 737.6l0.3 0.2M610.9 703.4l0.7 0.9M626.1 693.8l0 0M627.7 674.7l1.1 0.6M651.1 633.4l-0.1 0.3M670 685.3l-0 0.5M607.8 689.9l-0.6 0.6M611.6 666.8l-0.4 1M680.2 724.5l-0.1 0.3M627.2 629.1l0.1 0.2M620.5 647l-0.5 0.1M591.5 721.4l-0 0M577.9 631.9l-0.8 1M684.2 667.1l0.1 0.1M626 725.7l1.1 0.4M635.6 690.3l1 0.6M679.1 655l-0.4 1.2M585.9 712.5l-0.2 0.7M654.2 646.9l0.3 0.3M629.9 628l1.1 0.2M583.8 730.2l0.6 0.1M640.7 664.2l0.7 0.5M661.3 687.5l-1.2 0.4M676.8 651.4l0.1 0.1M670.6 739.1l0.2 0.2M638 645.2l-0.4 0.4M603.2 672l-0.8 0.4M599.3 726.5l1.1 0.1M655.9 696.8l0.2 0.2M661.2 717.6l-0.2 1M605 710.2l-0.1 0.3M675.2 714l-0.1 0.1M682 701.1l0.6 0.4M591.3 718.7l-0.5 1.1M594.8 632.4l0.4 1M656.9 718.3l0.1 0.8M608.4 637.3l0.8 0.7M682.5 626.7l-0.1 0M650.8 711.7l-1.1 0.4M658.7 707.7l-0 0M607 707.4l0 1.2M677.8 672l0.1 0.4M572.1 631.5l-0.7 0.6M632.5 626.3l0 1M682.1 633.2l-0.2 1.2M617 654.7l-0.8 0.4M667.9 646.7l-0.3 0.1M665.7 722.6l-0.5 0.4M638.6 666l-0.4 0.2M618.9 711.9l-0 0M640.2 708.9l-0.2 1.1M647.9 673l1.1 0.3M586.8 693l-0 0M589.2 721.4l-0.9 0.7M646.3 714.4l0.6 0.1M609.3 643.4l-0.2 0.3M656.1 640.4l-0.1 0M602.5 724l-0.2 0.3M575.7 738.4l-1.2 0M590.5 665.4l-0.2 1M684.4 689.1l-0.1 0.4M629.6 659.2l1 0.7M677.1 719.4l0.7 1M577.4 638.9l0.9 0.6M661.6 650.6l-0 0.1M608.3 680.2l0.1 0M631.1 658.6l-0.4 0M624.8 689l-0.6 1M580.1 725.3l-0.6 0.6M576 627.8l0.1 0.2M636 645.3l-0.2 0.8M633.1 726.4l-1 0.5M576.6 626.7l-0.9 0.2M672.7 672.3l-0.8 0.3M649 705.1l-0.5 1.2M603.3 626.3l0.6 0.9M656.3 687.4l0.2 0M649.4 628.4l-0 1M613.6 709l0.8 0.1M680.4 669.3l-0.9 0.9M632.7 655.8l0.1 0.1M664.6 738.2l-0.5 0.9M573.9 739.6l-0 0.4M641.1 703.8l-0.5 0.5M588.5 698.7l-0.1 0.2M580.1 637.9l-0.8 0.3M600.8 696.8l-0.7 0.5M581.9 657.2l0 0.3M598.8 665.6l0.2 0.5M643.2 664.3l-0.8 0.1M641.5 717.4l-0.4 1.1M682.8 704.5l0.5 0.2M621.6 692.9l0.1 0.1M597.3 673.5l0.4 0.7M638.1 666.1l-0.2 1M616 705.7l0.8 1M616.9 718.2l0.2 1.2M606.4 626.8l-0.1 0.1M586.8 720.6l-0.3 0.1M598.1 696.3l0.7 0.6M667.5 640.6l1.2 0.4M620.4 664.2l-0.3 0M594 699.1l-0.3 0.6M604.8 650.8l0.8 0.7M647.5 675.6l0 0.1M643.4 656.6l0.4 0.8M581.9 628l-0.1 1.1M599.7 675.8l0.2 1.3M604.5 657.7l-0.3 1M592.4 638.6l0.4 0.9M645.6 639.4l0.1 0M680.3 678.9l-1 0.5M670.4 721.7l-0.4 0.7M581.6 666.7l0.1 0.4M619.7 692.9l0.3 0.7M680.7 639.4l-0.5 0.2M590.5 643.6l0.4 0.1M616.1 715.1l0.6 0.8M673.2 676.1l-0.3 0.4M684 679.3l0.2 0.7M609.7 675.7l-0.1 0.4M608.1 661.3l-0.2 0.1M610 712.1l0.7 0M661.5 698.2l0.4 0.7M611 670.2l0.9 0.3M659 678.9l0.5 0.5M644.8 647.5l-0.4 0.5M574 737.8l-0 0.6M656.5 699.3l-0.1 0M655.1 634.1l-0 0.6M664.5 717l0.1 0.1M645.4 714l0.7 0.6M584.6 695.2l-1 0.7M592 667.5l0.8 0M624.4 727.1l1 0.4M667.7 715.9l0 1.3M635.7 666.4l-0.3 0.5M576.3 732.7l0 0M593.8 736.3l0.5 0.3M626.1 678.1l0.1 0.3M584.8 716.6l0.6 0.1M635.2 676.1l-1.2 0.5M626.5 677.2l0.1 0.4M579.7 706.7l-0.4 0.7M646.4 692.8l-0.3 0.9M594.1 686.9l0.4 0.3M576.1 687.2l-0.6 1.1M664.3 670.8l-0 0.2M617.2 696.1l-0.1 0M673 692.5l0.2 1.2M654.6 699.2l-0.3 0M598.3 699.7l0.1 0.1M632.6 724.4l-1.1 0.2M630.2 655.7l-0.4 0.5M662.8 678.4l-0.1 0.2M635.6 691.8l0 0.1M574.6 632.9l0.8 0.5M575.5 715.5l0.3 0.2M635.2 659.5l-0.1 0.8M641.5 687l-0.5 0M632.5 706.8l-0.1 1M657.1 709.2l0.1 0.5M661.7 694.9l-0.7 1.1M603.9 734l1.1 0.5M614.3 637.1l0.8 0.9M605.5 628.1l0.3 1.1M592.2 725.6l-1.2 0.1M658.6 738.8l-0.1 0.1M607.5 695l1 0M622.1 719.1l-0.5 0.4M621.1 630.3l-0.3 0.7M619 732l-0.6 0.7M650.2 686.7l-0.2 0.4M636.5 707.3l0.1 0.4M587.2 700.1l-0.7 0.4M684.6 655.9l-0.5 0.2M648.9 681.6l0.4 0.4M616.8 719.7l0.9 0.4M622.5 696l-0.6 0.7M655.4 687.7l-0.3 0.6M623.4 646.5l0.9 0.7M572.5 636.3l0.2 0.1M651.9 705.9l0 0.2M665.1 689.9l-0 0.5M581 701.4l-0.4 0.2M649.2 673l0.3 0.4M573.4 730l0.2 0.2M579.8 684.4l0.3 0.7M659.3 678.5l0.9 0.5M672.3 637l1 0.2M584.4 697.6l0.1 1.2M609.5 731.4l-0.7 0.8M643.9 682.2l0 0.3M659.5 695.6l-0 0M676.2 676.8l0.4 0.6M644.4 682.9l-0.1 0.4M589.2 726.2l-0.4 0.4M624 715.5l-0.9 0.7M632.8 720.4l-0.1 0M678.3 730.3l0.5 0.5M665.7 722.4l-0.1 1.3M660.2 652.4l0.8 0.1M608.4 652.5l-0.1 0.5M599.5 689.8l-1 0.7M587.9 647.2l0 0.1M599.2 657.6l-0.1 0.1M665.7 726.6l-0.5 0.7M650.3 686.8l-1 0.3M626.3 732.2l-0.8 0.3M661.7 676l-0.7 0.6M640.6 726.8l-0.1 0.5M678.9 628.1l-0.5 1M678 708.4l-0.1 0.9M589.8 651.5l0.1 0.4M579.6 627.8l-1 0.1M673.7 649.6l0.5 0.9M614.9 739.2l0.5 0.3M670.4 713.2l-0.4 1M611.5 653.7l-0.1 1M590.9 668.8l-0.7 0.7M669.7 635l0.2 0.1M582 697.9l0.1 0.5M593.2 668.7l1 0.8M618 635.6l-0 0.1M571.7 714.6l0.1 0.3M668.3 646.9l0 0.2M665.4 733.7l1 0.7M676.8 727.3l0.5 0.8M643.1 685l-0.6 0.9M576.5 685.9l-0.2 0.4M577.7 681.1l0.4 0M616.4 648.1l-0.4 0.7M652.8 683.8l-0 0.4M658.7 687.2l0.3 0.2M643.2 634.7l0 0.3M646.6 663.1l-0.4 0.6M676.4 663.1l0.8 0.8M645.1 642l-0.5 1M668.5 732.9l-0.9 0.5M669 708.1l0.6 0.5M617.1 628l-0.6 0.7M665.7 725.5l-1.1 0.6M636.6 645.1l-0.6 0.5M668 696.9l-0.2 0.5M660.8 678.8l0 0M622.4 661l-0.8 0.4M667.9 627.9l-0.3 0.6M615.3 701.7l-0.7 0.1M605.8 716.1l-0.5 0.1M682.7 738.5l-0.1 1M620.4 648.2l0.1 0.3M670.9 661.9l-0.2 0.4M639.7 646.1l0.6 0M597.5 649.3l-0.8 0.2M676.9 714.7l-0.7 0M627.6 683.2l0.4 0.1M655.2 730.4l-0.5 0.3M636 651.2l0.1 0.4M659.4 702.5l-1.1 0.3M598.7 722.2l-0.8 0.1M655.4 683.4l-0.9 0.6M646.7 721.1l-0.3 0.7M613.3 719.1l0.2 0.7M654.1 645.4l0.6 0.7M629.3 634.8l1 0.8M607.4 732.5l-0.4 0.6M624.3 668.1l0.6 0.2M630.2 727.3l1.1 0.3M594.1 722.6l-0.2 1.1M604.3 737.3l0.1 0.2M606.4 653.3l0.9 0.2M580.7 704.2l-0 0M630.3 720.1l0 0M678.9 685.5l-0.2 0.2M654.9 633.9l-0.1 0.2M645 626.8l0.6 0.9M676.5 739.8l-0.1 0.1M667.6 707l-0.5 0.1M640.1 705.2l-0.7 0.5M653.2 642.1l-0.2 0.3M631.3 633.3l0.7 1M677 634.8l0 0.1M665.8 736.2l0 0.4M596.2 635.7l-0.2 0M600.1 725l-0.7 0M626.4 673.9l-0.4 0.7M589.5 668.5l-0 0.4M661.6 656.4l-1 0.5M601.6 727.1l-0 0M627.6 684.9l-0.7 0.4M585.1 665l-0.1 1M596.8 656.8l0.5 0.1M678.6 631.9l0 0M579 686.5l-1.1 0.1M611.5 688.7l0.9 0.1M606.7 629.6l-0.1 0.1M671 700.3l0 0M586.5 647.9l-0.8 0.7M610.6 669.7l-0.8 0.1M630 725.7l-0.1 0M668.5 698.3l-0 0.1M678.2 726.7l-0 0.2M661.8 698.1l-0.3 0.1M601.2 649.8l0.3 0.4M631.3 731.1l0.6 0.5M629.5 708.5l0.3 0M610.4 714.9l-0 0M593.2 736.2l-1 0.7M675.1 674.8l-0.4 0.3M678.3 667.7l-0.3 0.5M642.1 709.5l-0.3 0.8M680.2 727.9l0.5 0.5M653.8 697.4l0.1 0.4M645 701l-0 0.1M678.9 682.9l-0.2 0.3M626.2 689.9l0 0M584.8 699.3l-0.8 0.1M575.1 721.1l0.6 0.3M616.9 695.5l-0 0M627.5 636.4l-0.8 0.1M684.3 703.4l-0.1 1.1M673.2 661.9l0.5 0.2M632.4 673.4l-1.3 0.3M608.2 627l-1.2 0.4M596.9 688l0.6 0.8M574.9 728.2l0.6 0.4M583.9 729.4l-0.1 0.4M684.6 647.6l-0.6 0.1M603.2 728.8l-0.4 0.7M577.5 728.5l-0.1 0M573.8 637.2l-0.5 0.8M611.7 691.1l0.6 0.9M575.9 651l0.1 0.1M576.9 728.8l-0.1 0M667.3 721.5l1 0.5M581.3 736l0.3 1M673.2 716.2l-0 0.1M605 651.9l0 0.1M598.5 663.4l0.6 0.9M585.5 694.3l1.2 0.3M581.5 738l-0.1 0.3M629.6 647.2l-0.2 0.9M573.1 632.8l0.1 0.2M660.2 730.3l-0.2 0.9M580.1 701.5l-0.7 0.4M663 700.8l-0.4 0.5M682.6 723.4l0 0M614 692.1l-0.4 0.1M666 690l0.1 0M580 629.9l1.2 0.1M638.9 663.8l0.2 1.3M643.9 683.2l-0.8 0.6M572.8 687.9l0 0.4M594 627.9l0.9 0.4M657.6 722l0 1.2M679.5 726.5l0.2 0.4M585.6 722l-0 0M642.9 632.2l-0 0.1" stroke="#2352d0" stroke-width="2.3" stroke-linecap="round" fill="none" stroke-opacity="0.85"/>
<path d="M573.5 641.5l-0.5 0.8M681 671l-0.3 0.6M607.5 662.4l0.7 0.7M589.9 708.4l-0.3 0.1M668.5 694.3l0 0M654.9 633.9l0.8 0.2M602.5 668.4l0.4 0.3M667.9 705.5l-0 1M583.1 655.3l-0.2 0.1M661.3 720.5l-0 0.1M612.7 634.9l-0.2 0.4M602.3 675.2l0.5 0.2M635.6 680.6l-0.2 0.2M600.9 716.7l0.1 0M678 708.8l-0.4 0.9M622.8 676.4l0.3 0.1M642.6 642.7l-0.3 0.1M616.3 709.4l-0.4 0.4M655.5 720.7l-0 0M675.9 717.1l0.6 0.2M571.9 699.9l0.1 0.7M655.9 632.8l0.8 0.2M667.8 654.2l0.2 0M679.3 696.4l-0.3 0M587.6 709.7l0.4 0.6M597.4 674.1l-0 0.6M682.8 651.7l0.5 0.2M670.8 628.1l0.1 0.9M613 700.6l-0.4 0.1M643.1 672.4l0.4 0.2M659.4 733l-0.3 0.5M618.5 714.4l0.8 0.5M674.7 670.7l0 0M604.4 709.6l0 0M637.1 706.8l0.8 0.4M606.9 728.5l0.4 0.3M679.9 738l-0 0.2M580 674.1l-0.8 0.5M579.1 681.4l1 0.1M610 736.5l0.3 0.5M674.3 637l0.4 0.9M602.5 679.8l-0.1 0M652.1 719.3l-0.3 0M681.8 670l-0.4 0.4M597.7 676.9l-0.6 0.1M619.1 700.9l-0.2 0.1M588.5 733.6l0.1 0.6M576.4 630.8l0.4 0M615.7 695.6l-0.1 0.4M626.5 687.1l0.8 0M658.3 685.1l0 0.7M599.7 628.3l0.4 0.6M602.9 658.6l-0 0M604.4 698.3l0.1 0.1M653.2 692l-0.3 0.1M573 673.5l0.3 0.9M684.8 705.9l0.7 0M660.4 724l-0.8 0.4M681.4 696.3l0.6 0.5M571.6 726.3l-0.1 0.3M607.9 671l0.5 0.5M579.2 699l-0 0.1M574.4 704.5l-0 0M592.9 626.5l-0.5 0.9M578.7 652.3l0.8 0.4M621.4 652.1l0 0.3M605.3 649l0 0M608.1 639.9l0.2 0.3M677.3 685.8l-0.1 0.2M586 701.2l0.2 0M576.8 686.7l-0 0M633 643.1l-0.1 0.4M672 703.3l-0.2 0.3M680.5 677.4l-0.1 0.4M606.2 642.2l-0 0.1M621.9 686.4l0.2 0M584.4 680l-0.2 0M585.6 635.5l-0 0.1M659.8 638.2l0.2 0.1M650.8 627l0.5 0.2M632.7 633.7l0.1 0.1M602.4 658.7l0.1 0.1M680 674.1l-0.7 0.2M620.2 684l-0 0.2M600.1 635.9l-0.4 0.2M610.3 678.8l0.2 0.1M592.8 629.6l0.3 0.6M587.1 689.8l0.7 0.3M574.1 733.3l0.1 0.3M606.2 730.3l0.9 0.4M604 637.4l-0.5 0.1M607.9 643.2l0.7 0.2M581 691.9l0.2 0.6M623.9 729.5l0.1 0.4M671.1 723.1l0.1 0.2M596.5 721.5l-0 0.1M659.9 725l0 0.4M668.6 690.2l-0.7 0.2M591.6 696.9l0.1 0.3M607.8 660.3l-0.2 0.1M642.7 657.8l-0.4 0.1M598.5 680.9l-0.3 0.6M626.2 681.7l-0.8 0.6M661.3 708.5l0.1 0.2M610.3 702.1l0.1 0.7M602.4 632.6l-0.1 0M667.5 629.7l-0.7 0.6M679.7 682.3l0.1 0.1M606 646.4l0 0.2M589.8 652.9l0.3 0.9M614.4 720.5l-0.6 0.4M588.2 636l0.8 0.1M639.9 670.8l-0.5 0.5M628.7 703.7l0.1 0.2M607.2 722.7l-0 0.1M665.1 732l-0.1 0.9M646.7 685.7l-0.1 0M684.2 633.5l0 0.2M631 649l0 0.1M577.2 672.2l0.4 0.3M671 701.3l-0.1 0M660.4 676.5l0.1 0M657.7 680.2l-0 0M684.1 734.3l0.3 0.2M586.6 626.6l-0.7 0.4M652 703l-0 0.2M573.8 702.2l-0.8 0.1M597.3 739.1l0.7 0.6M613 653.9l-0.4 0.5M635.6 713.4l0.3 0.4M642.7 643.4l0.2 0.2M608.4 674.2l0.9 0.1M632.9 670.7l-0.6 0.7M652.6 712l0.7 0.2M648.9 641.3l0.1 0.3M657.1 714.8l0.2 0M675.4 668.3l-0.2 0.4M576.7 678.8l0.6 0.5M681.1 640.6l-0.1 0.4M587.4 665.5l0.6 0.2M613.1 732l-0.2 0.7M586.6 725.3l0.7 0.5M672.2 681.3l-0.2 0.1M646 700.8l-0 0.7M680 663.5l0.1 0.9M617.7 636.5l0.4 0.4M588.7 668.1l-0.1 0.3M631.7 718.8l0.1 0.2M638.5 716l-0.1 0.3M625 703.5l-0.4 0.2M653.2 726.2l-0.6 0.5M631.2 667.3l0 0.2M597.5 634.5l0.2 0.2M679.1 705.1l0.6 0.4M630.9 680.1l-0.1 0.6M575.7 736l-0.1 0.1M603.1 648.3l0 0M585.2 693.8l-0.3 0.6M644.7 651.9l0.7 0.4M574.6 657.9l0.1 0.1M635.8 666.4l-0 0.2M590 664.3l0 0M598 639.7l-0.2 0.1M583.9 697.7l0.1 0M592.9 645.9l0.2 0.1M582.8 648.7l0.6 0M589.4 684.4l0.3 0.2M598.7 703.1l0 0.8M653.2 684.7l-0.1 0.2M637.3 724.3l-0.4 0.7M622.1 689.3l-0.1 0M596.8 636l0 0M675.2 697.1l-0.7 0M588.2 658.2l0.7 0.7M573.2 651.9l-0.2 0.6M649.1 702.9l0.2 0.1M628.3 712.7l0.1 0.3M592.8 711.6l0.7 0.3M612.9 689.4l-0.2 0.3M638.1 630.4l-0.2 0.3M674.8 677.4l0.5 0M611.8 687l0.1 0.3M582.5 718.8l-0.7 0.3M645.8 713.1l0.5 0.3M649.5 642.1l-0.4 0.7M669 693.6l-0.2 0.1M598.7 701l-0.8 0.3M590.8 698.7l-0.5 0.3M633.9 665.3l-0 0.1M597.9 737.6l0.5 0.7M684.6 669.2l-0.3 0.4M659.7 720.6l-0.8 0.5M586.9 681.9l0 0M664.2 667.2l0.2 0.6M594 657.5l0.1 0.1M617.2 701.3l-0.2 0.4M672.2 657.1l0.2 0.5M651 733.9l-0.8 0.5M654.5 693.4l-0.3 0.1M571.5 671.6l0.1 0.8" stroke="#3a6ae8" stroke-width="1.8" stroke-linecap="round" fill="none" stroke-opacity="0.7"/>
<path d="M604.5 632.4l-0.7 0.3M614.4 644.8l-0.3 0.3M638.1 696.9l0.4 0.8M640.2 719.8l0.5 0M596.7 696.4l1.1 0.1M638.5 652.4l0.6 0.9M677.8 664.8l-0.5 0.6M624.6 686.1l-0.4 0.3M592.5 638.4l-0.4 0.6M600.1 685.3l-0 0.2M626 683.9l0.4 0.8M575 653.5l0.1 0M681.2 737.6l0.3 0.1M622.3 736.5l1.1 0.3M653.8 667.8l-0.9 0.6M681 716.4l0.1 0M629.4 701.7l-0.2 1.1M672 651.1l-0.3 0.2M603.4 672.2l-0.4 0.3M581.8 691.9l-0.2 0.2M662.8 647.4l0.6 0.2M610.9 704.1l-0.6 0.7M682.3 628.1l0.2 0.2M684.5 694.2l0.9 0.1M646.5 634.6l-0.4 0M579.5 726.2l0.9 0.4M631 662.1l0.6 0.6M661.6 694.1l-0.5 0.3M591.5 726.6l-1 0.2M681.7 737.9l0 0M630.8 739.2l-0.5 0.8M588.7 728.8l0.5 0M664.3 656.5l0.1 0M667.3 677.4l-0.1 0.4M592.4 675.5l-0.3 0.4M591.9 723.4l0 0M607.4 627.2l-0.1 0.7M584.8 662.4l-0.8 0.4M623.8 670.9l-0.6 0.8M619.4 629.2l1.1 0M598.5 704.3l0.3 1.1M637.1 696.7l0.4 0.6M627.6 724.5l-0.1 0.1M672.2 663.4l-0.1 0.5M665.2 695.7l0.6 1M630.8 626.5l-1.1 0.5M634.3 737.7l0.7 0.1M629.8 730.6l-0.3 0.1M600 692l0 0M638.6 686.8l-0.9 0.2M629.9 713.7l-0.7 0.5M648.7 650.7l0.8 0.2M677.9 692.7l1 0.1M647.9 688.5l0.2 0.1M628.8 694.7l-0.2 0.8M582 688.2l0 0M652.9 676.3l-0.9 0.4M646.3 728.7l0.7 0.9M636.7 697.7l-0.8 0.6M642.3 668l0.3 0.8M644.5 664.1l-1.1 0.2M574.2 649.8l-0.8 0.6M681.1 666.7l0.2 0.1M583.7 680.9l-0.4 0.2M595.3 678l-0.1 0.1M679.2 684.2l-0.2 0.3M578.4 732.5l0.4 0.7M632.5 721.6l-0.7 0.8M626.6 723.1l-0.7 0.3M649.1 640l1.1 0.3M594.9 735.2l0.2 0.4M603.3 641.4l-0.8 0M629.1 669.3l-0 0M653.5 737.1l0.5 1M681.7 668.8l-0.1 0M582.7 689.5l0.1 0M637.3 642.1l0 0.1M614.1 657.4l0.1 0.4M596.4 637.3l0.2 0.7M635.5 659.6l0.6 1M672.1 665.1l1.2 0.1M633.6 700.7l-1 0.4M630.8 722.2l-0.5 0M605.4 642.3l-0 0.1M640 689.1l-0.2 0.8M575.9 714.9l0.8 0.4M604.8 703.1l0.9 0M673.6 722.2l-0.6 0.7M598.8 657.9l-0.3 0.5M604 638.7l-0 0" stroke="#1a8aa8" stroke-width="2.3" stroke-linecap="round" fill="none" stroke-opacity="0.7"/>
<path d="M608.6 710l0 0.1M627.6 659.3l-0.2 0.1M659.4 705.6l-0.1 0.2M622.8 715.5l-0 0.1M573.7 737l0.2 0.1M675.8 704l-0 0M645.8 737.5l0 0M647.7 690.7l-0.1 0M655.3 723l0.1 0.2M576.4 670.4l-0.1 0M628.4 730.1l0.2 0.2M631.2 651.7l0 0M599.7 736.8l0.1 0.1M612.1 717.4l0.1 0.2M636.5 737.1l-0 0M670.2 705.1l-0.2 0.1M593.9 723.9l0.1 0.2M582.3 662.6l-0 0.1M675.5 636.1l0.1 0.1M585.4 639.1l-0.1 0M575.3 656.6l0 0.1M613.9 684.5l-0.1 0M576.9 638.7l-0 0M675.4 626.4l-0.1 0.2M579.9 689.1l-0.1 0.1M661.3 737.5l-0 0.3M603.7 736.6l-0.1 0M642.4 721.6l-0.1 0.2M673.6 698.3l-0.1 0M575.5 709.9l-0.3 0.1" stroke="#25d08a" stroke-width="2.4" stroke-linecap="round" fill="none" stroke-opacity="0.85"/>
<path d="M600.5 660.1l-0.5 0.1M615.9 707.4l0.2 0.5M639.8 688.6l0.3 1.2M652.7 723l0.6 0.2M630.9 656.5l-0.6 0.4M627.9 660.4l1.2 0.7M615.3 672.6l0.4 0.3M643.7 634.3l0 0.1M623.7 686.3l0.6 0.7M640.6 657.9l-0 1.2M588 679.7l-0.6 0.9M656.5 701.6l-0.2 1.1M667.2 688.6l-0.1 0.2M607.7 641.4l0 0M603.4 647.3l0.4 1.2M618.1 670.6l0.1 0.3M659.5 722.8l-1.1 0.7M622.8 642.4l1.4 0.3M592.9 687.9l-0.1 0.6M643.5 674.6l0.2 0.7M665.4 654.1l-0.4 1M626.4 670.9l0.9 0.8M610.8 641.9l-0.1 1.3M617.5 651.9l-0.2 0.9M643.5 649.8l-0.9 0.4M643.9 681.2l-0.3 0.1M657.7 675.7l-1.4 0.6M661.2 716.9l0.8 0.9M647.9 646.8l-0.5 0.5M677.1 671.9l-0.6 1.2M644.7 663.2l-1.3 0.3M583.5 652.3l0.1 0.1M620.8 669.7l0.5 0.2M609.4 669.5l1.3 0.6M665.7 644.3l-0.2 1M627.7 678.1l0.1 1.1M637.4 675.8l0.1 0.4M628.2 644.8l0.2 0.6M629.9 663.2l0.3 0.1M631.3 657.9l-0.2 0.1M607.1 665.1l-1.2 0.3M634.5 661.6l0 0.1M632.2 647.8l0.6 0.7M658.5 687.5l0.7 1.1M678.9 728.8l-0.2 0.8M619.2 654.9l-0.6 0.5M637.6 645.3l-0.5 1.2M630.9 671.9l1.5 0.1M610.7 648.8l-0 0.1M617.1 647.8l-0.2 0.2M603.3 679.7l-1.2 0.9M614 640.2l0.7 0.1M593.1 664.5l0.1 0.1M629.4 660.9l-0.2 1.3M613.5 672.2l-1.2 0.4M602.5 648.2l-0.6 1.1M602.4 723.2l0.1 0.3M648.7 654.4l-1.5 0.2M572.4 665.2l-0.1 0.3M636.1 667.2l1.2 0.2M624.6 658.7l0.7 1.3M655.7 659.7l-0.3 1.2M625.1 677.5l-0.2 0M584.8 669.5l-1 0.5M610.8 658.2l-0.5 0.3M630.9 657.6l0.1 0M638.9 669.1l-0.4 1.1M588.1 634.6l0.3 0.7M612.3 661.3l-0.7 0.8M661 674.8l-0 0.1M652 681.5l0.6 0.9M599.5 664.6l0.1 0.1M627 676.9l-0.4 0.3M652.8 730.5l-0.7 0.1M681.1 650.3l0 0.2M620.4 644.4l0.4 1.2M638.5 674.1l-0.4 0.9M648.1 668l-0.1 0.1M654.2 728.1l-0.6 0.1M664.9 660.9l-0.2 0.6M617.3 647l-0.3 1.4M579.7 634.5l0.6 0.9M633.2 649.7l1.2 0.3M659.2 677l-0.3 0.3M639.9 732.4l0.7 0.5M626.3 687.5l-0.1 0.2M629.5 725.5l0.5 0.5M654.3 654.7l0.2 0.4M607.2 718.9l1.4 0.3M604.7 727.6l-0.1 0.1M612.4 645.6l0 0M631.1 672.8l0 0M668.8 661l-1.3 0.5M600.4 652.9l0.6 0.3M656.9 653.6l-0.2 0.2M613.1 673.1l0.5 0.4M635.1 670.5l0.5 0.1M592 656.7l1.3 0.2M603.5 665.1l0.4 0.6M667.7 641.8l-0.8 0.5M660.8 710.3l-0.7 0.1M643.4 681.5l-1.1 1.1M578.3 658l0.3 0.4M601.5 699.3l-0.9 1M649.5 679.9l-0.2 0.3M605.9 657.6l-0.3 0.5M617.9 682.6l0.3 1.1M596.9 650.7l0.2 0.1M641.7 659.8l0.2 0.5M676.6 713.6l0 0M649.5 686.6l1 0.6M592 659.8l0.3 0M620.4 738.9l0.8 0.7M609 722.2l-0.6 0.3M614.6 662l0.4 0.9M659.4 671.4l-0 0.5M628.8 692.4l0 0.6M643 713.3l0.1 1M578.7 676.5l-0.3 0.5M610.9 647.2l0.1 0.4M637.6 670.9l0.1 0.2M620.9 678.4l0.9 1.1M583.5 644.6l0.2 1.5M618.1 641.6l-0.7 0.9M634.2 670l0.4 0.4M602.8 655.7l-0.4 0.2M651.2 694.6l0.5 0.4M641.7 652.9l-1.2 0.6M644.3 653.3l0.8 0.9M602.7 669.4l-0.8 0.2M628.6 685l1.2 0.8M646.6 662.4l0.1 1.4M619.9 674.9l-0.2 0.8M586.7 654.5l-0 1.4M600.8 670.1l-0.1 0.4M654.1 696l-0.1 0.1M605.6 673.4l-0.2 0.1M617.7 661.1l-0.1 0.4M631.2 643l0.4 1.3M655.2 674.6l-0.4 0M638 633.2l-0.1 0M602.4 659.5l-0.4 0.1M592.2 645.6l-0.4 0.1M630.4 658.7l-0.6 0.3M591.4 682.8l-0.3 0.5M624.2 670.3l-0.1 0.9M664.9 661.3l0.4 0.1M584.5 660.4l0.4 0M646.4 653.8l-0.1 0.6M635.9 651l1 1M639.1 672.4l0.4 0.1M617.5 655.3l1 0.9M640.6 666.6l-0.5 0.9M608.8 669.2l-0.5 0.6M632.2 640.8l0.7 0.2M609.7 633.1l-0.8 1.3M618.6 645.8l-0.2 0.6M628.1 644.8l0.3 0.6M603.4 666.5l0.1 0.2M674.5 734l1.4 0.6M643.4 685.9l-0.4 0.8M624.2 684.7l-0.2 0.9M619.2 726.3l0.4 0.2M623.1 680.4l-0.6 1.3M635.3 664.7l-1 1.2M665.3 680.4l0.2 0.4M590 713.1l-0.2 1M586.8 721l-0.4 0.3M630.7 646.7l0 0.4M646.4 682.1l-0.2 0.4M633.5 644.7l-0.3 0.1M665.5 665.8l0.8 1.2M603.2 648.3l0.2 0.5M658.3 677.6l0.3 0.3M638.2 642.9l-0.8 0.7M659.2 641l-0.3 0M661.2 674.4l-0.1 1.2M632.5 663.8l-0.4 0.2M653.6 686.5l-0 0M647.9 665.7l-0.7 1M653.2 678.3l0.3 0.1M633.9 669.2l-0.1 0.7M633.1 686.6l0.8 0.3M587.8 706.9l0.8 0.5M680.2 670.4l0.6 1.2M597.7 680.9l0.4 0.8M599.5 680.2l-0.3 0.1M672 646.9l0.1 0.1M634.8 647.6l-0 0M620.4 635.7l0.3 0.8M587 719.7l-0 0M647.7 685l-0.5 1.2M610.7 670.2l0.1 0.3M653 738.5l-0.9 0.1M582.3 681.3l-0 0.3M650.3 678.1l0.6 0.5M571.5 689.8l0.4 0.1M609.2 682.9l-0.3 0.5M579.7 691.7l0.6 0.4M677.9 652.4l0 0.2M607.4 675.3l-0.3 0.1M599.3 670.1l0.8 0.6M631.9 650.8l-0.2 0.3M611.3 675.3l0.7 0.7M609.4 698.9l0.9 0.1M644.2 643.7l0.6 0.7M600.4 675.9l1.3 0.7M649.7 663.7l0.7 1.4M651.9 660.3l0.3 0.3M587.6 638l-0.6 0.2" stroke="#ff2050" stroke-width="2.3" stroke-linecap="round" fill="none" stroke-opacity="0.9"/>
<path d="M634.9 702.6l0.4 0.4M639.5 657.7l-0.2 0.4M662.3 676.3l-0.1 0.5M599.8 653.8l0.2 0.7M628.2 679.8l0.5 0.7M636.6 687l0.2 0.5M590.7 655.2l-0.3 0.7M610.7 654.3l0.1 0M608.6 644.7l0.5 0.7M619.6 653.6l-0.1 0.1M612.2 647.3l-0.4 0.9M634.3 642.5l-0 0.8M592.5 648.6l0.4 0.6M621.3 659l0.5 0.4M587 658.4l0.5 0.8M590.5 646.7l-0.4 0.4M616.5 701.5l-0.1 0.7M617.5 664.3l-0.2 0.1M599.5 654.1l-0.7 0.2M612.6 683.7l-0.5 0.1M604.8 727l-0 0M666.8 685.6l0.6 0.4M635.4 649.4l0 0M635.3 657.8l-0.4 0.1M630.6 683.2l-0.9 0M670.9 661.3l-0.3 0.2M596.5 651.3l0 0.8M636 675.5l-0.6 0M602.7 657.2l-0.5 0.1M580.6 665.9l-0.2 0.6M583.2 646.4l-0 0.2M682.2 676.1l-0.4 0.2M626.4 662.4l0.4 0.5M621 662.6l0.6 0.7M607.3 667.5l0.6 0.3M609.6 672.3l-0.5 0M586 630.2l0.5 0.2M587.8 716l-0 0.7M624.8 715.9l-0.1 0.2M624.1 663.6l0.2 0.4M595.9 670.3l-0.1 0.2M649 667.9l0.7 0.3" stroke="#ff60c0" stroke-width="2.0" stroke-linecap="round" fill="none" stroke-opacity="0.7"/>
<path d="M583 719.4l-0.7 1.1M567.6 758l0 0M602.6 722.7l-0 0M596.4 717.7l-0.5 0.5M600.6 722.1l0.1 0M597.6 728.8l0.3 0M573.8 717.6l0.1 0.1M602.5 722l-1 0.2M580 742.8l-1.3 0.1M622 740.2l0.6 0.8M592.7 721.1l1.3 0.3M579.8 696.5l-0.6 0.7M589.2 719.3l0 0.3M597 719.4l0.1 1.1M593.8 716.3l-0.5 0.6M607.2 735.5l-0.1 0.1M585.4 722.3l0.1 0.1M581.9 716.4l-0.6 0.2M619.2 736.3l0 0M576.7 718l-0.1 0.6M596.3 709.7l-0.5 0.4M583.7 723.7l0.1 0.1M601.6 713.8l-0.8 0.1M588.4 724.2l-0.4 0.3M590.7 722.4l0.1 1.3M588.1 719.6l0 0.9M587.7 723.8l-0.1 0.1M597.8 735.2l0.1 0.1M597.5 729.9l0.5 0.3M593 708l-0.9 0M583.9 729.6l0 0.7M600.4 723.3l0.8 0.1M579.9 735.3l-0.4 1.3M605.7 736.7l-0.3 0.4M589.6 719.2l0.1 0M579.7 720.3l-0 0.1M623.2 720.1l-0.1 0M621.9 727.5l-0.7 0.2M596.8 717.6l0.6 0.5M573.9 734.1l1 0M592.5 728.1l-0.3 0.3M582.2 717.3l0.5 0.1M609.4 728.2l-0.2 0.9M589.9 735.5l0.1 1.1M586.1 724.8l-0.8 1M605.1 713.4l-0.2 0M592.3 713.1l0.3 0M612.7 736.5l-0 0.3M584 701.2l0.2 0.3M576.7 712.9l0.6 0.8M592.5 721.1l1.1 0.9M625.3 730.3l-0.4 0.9M605.3 734.4l0.1 0.6M602.1 740l0.2 0.2M561.6 730l-1 1M601.1 731.4l0.3 0.1M594.5 715.2l-0.1 0.2M573 721.3l-0.6 0M618.6 714.7l-0.2 0.4M590.4 740.4l0.1 0.5M589.7 718.2l0.5 0.9M583 730.2l-0.1 0.1M601.9 713.6l-0.1 0.3M601.7 735.6l0.1 0.3M592.3 739.8l0.9 0.5M614.8 712.9l1.4 0M586.8 707.9l-0 0.1M610.2 737.6l-0.4 1.1M600.8 725.4l0.5 0.9M570.9 736l0.3 0.4M583.8 715l0.1 0.5M585.1 713.8l-0.4 0.3M607.2 732.4l-0 0.5M580 736.4l-0.5 0.4M604.6 717.7l0.5 1.4M595.5 717l-1.1 0.6M601.4 721.4l-0.2 0.1M590.2 725.7l0.8 0.4M605.7 727.5l-0.4 0M593.4 725.9l-0.3 0.3" stroke="#050a28" stroke-width="3.0" stroke-linecap="round" fill="none" stroke-opacity="0.8"/>
</g>
<rect x="574.4" y="629.8" width="107.2" height="106.0" fill="none" stroke="#1fb84a" stroke-width="0.9"/>
<rect x="572.0" y="627.0" width="112.4" height="112.0" fill="none" stroke="#484848" stroke-width="1.7"/>
</svg>
</body></html>
